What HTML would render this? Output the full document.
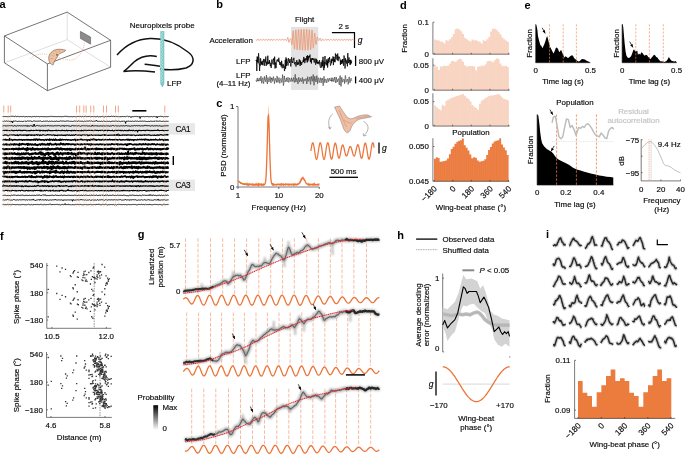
<!DOCTYPE html>
<html><head><meta charset="utf-8"><style>
html,body{margin:0;padding:0;background:#fff;width:685px;height:454px;overflow:hidden}
svg{display:block;font-family:"Liberation Sans",sans-serif;will-change:transform}
</style></head><body>
<svg width="685" height="454" viewBox="0 0 685 454">
<defs><filter id="bl" x="-20%" y="-20%" width="140%" height="140%"><feGaussianBlur stdDeviation="0.5"/></filter>
<filter id="bl3" x="-20%" y="-20%" width="140%" height="140%"><feGaussianBlur stdDeviation="0.65"/></filter>
<filter id="bl2" x="-20%" y="-20%" width="140%" height="140%"><feGaussianBlur stdDeviation="0.9"/></filter>
<linearGradient id="cb" x1="0" y1="0" x2="0" y2="1"><stop offset="0" stop-color="#000"/><stop offset="1" stop-color="#fff"/></linearGradient></defs>
<text x="-0.4" y="7.8" font-size="11" font-weight="bold" fill="#000">a</text>
<text x="216.3" y="8" font-size="11" font-weight="bold" fill="#000">b</text>
<text x="216.3" y="107.4" font-size="11" font-weight="bold" fill="#000">c</text>
<text x="400" y="8.8" font-size="11" font-weight="bold" fill="#000">d</text>
<text x="524.5" y="8.6" font-size="11" font-weight="bold" fill="#000">e</text>
<text x="0" y="240" font-size="11" font-weight="bold" fill="#000">f</text>
<text x="137.8" y="238.4" font-size="11" font-weight="bold" fill="#000">g</text>
<text x="397.3" y="239" font-size="11" font-weight="bold" fill="#000">h</text>
<text x="546" y="237.8" font-size="11" font-weight="bold" fill="#000">i</text>
<line x1="67.2" y1="12.1" x2="67.2" y2="39.6" stroke="#b8b8b8" stroke-width="0.45"/>
<line x1="4.4" y1="62.8" x2="67.2" y2="39.6" stroke="#b8b8b8" stroke-width="0.45"/>
<line x1="67.2" y1="39.6" x2="110.6" y2="67.2" stroke="#b8b8b8" stroke-width="0.45"/>
<path d="M67.2,12.1 L4.4,35.9 L47.4,63.9 L110.6,40.3 Z" stroke="#3a3a3a" stroke-width="0.7" fill="none"/>
<line x1="4.4" y1="35.9" x2="4.4" y2="62.8" stroke="#3a3a3a" stroke-width="0.7"/>
<line x1="47.4" y1="63.9" x2="47.4" y2="90.7" stroke="#3a3a3a" stroke-width="0.7"/>
<line x1="110.6" y1="40.3" x2="110.6" y2="67.2" stroke="#3a3a3a" stroke-width="0.7"/>
<line x1="4.4" y1="62.8" x2="47.4" y2="90.7" stroke="#3a3a3a" stroke-width="0.7"/>
<line x1="47.4" y1="90.7" x2="110.6" y2="67.2" stroke="#3a3a3a" stroke-width="0.7"/>
<path d="M80.4,31.3 L90.6,37 L90.6,44.2 L80.4,38.5 Z" stroke="#333" stroke-width="0.4" fill="#8c8c8c"/>
<path d="M30,59.4 C33,56 35.5,54.8 38,54.6 C41,54.2 44,53.4 47,54.5 M56.4,56.8 C59,57.8 61,58.6 63,58.8 C66,59.4 68,60.2 70,60.1 C73,60 75,59.3 76.5,58 C79,56 81,53.6 82.3,50.9 C83.6,48 84.2,44.8 84.2,41.6" stroke="#f0a27c" stroke-width="0.6" fill="none" stroke-dasharray="1.3,0.9"/>
<path d="M65.8,50.3 C63,49.2 59,49 56.4,49.5 C53.5,50.2 51.2,51.8 49.8,54 C48.4,56.3 48.3,59.5 49.6,62.3 C50.6,64 52,65 53.2,64.8 C53.6,63.5 54,62.2 54.6,61.2 C55.6,59.6 56.5,58 58.2,55.2 C59.5,53.6 61.5,52.6 63.5,52 C64.5,51.6 65.3,51 65.8,50.3 Z" fill="#efc29f" stroke="#5e4032" stroke-width="0.5"/>
<path d="M51.3,55 L53.6,56.2 M50.3,58.3 L53.2,58.8 M52.6,52.3 L54.6,54.2 M55.5,50.6 L56.9,52.9 M59,49.9 L59.5,52.7" stroke="#9c735c" stroke-width="0.35"/>
<circle cx="57" cy="54.8" r="0.9" fill="#6a5048"/>
<path d="M117,55 C125,46 136,39 150,38.5 C165,38 178,44 188,52 C196,58 194,65 186,68 C178,70 170,70.5 160,69" stroke="#111" stroke-width="1.5" fill="none"/>
<path d="M156.8,56.5 C148,54.5 140,57 134,62 C130,66 126,70 123.5,71.6 C130,70.5 142,70.5 155,72" stroke="#111" stroke-width="1.5" fill="none"/>
<path d="M144.6,64.2 C150,64.6 155,65.4 160,66.2" stroke="#111" stroke-width="1.5" fill="none"/>
<rect x="160.3" y="31" width="4" height="53" fill="#7ec8c5"/>
<path d="M160.3,84 L164.3,84 L162.3,87.5 Z" fill="#7ec8c5"/>
<path d="M160.8,31 L161.2,31 L162.8,32.6 L161.2,34.2 L162.8,35.8 L161.2,37.4 L162.8,39 L161.2,40.6 L162.8,42.2 L161.2,43.8 L162.8,45.4 L161.2,47 L162.8,48.6 L161.2,50.2 L162.8,51.8 L161.2,53.4 L162.8,55 L161.2,56.6 L162.8,58.2 L161.2,59.8 L162.8,61.4 L161.2,63 L162.8,64.6 L161.2,66.2 L162.8,67.8 L161.2,69.4 L162.8,71 L161.2,72.6 L162.8,74.2 L161.2,75.8 L162.8,77.4 L161.2,79 L162.8,80.6 L161.2,82.2" stroke="#e8f6f5" stroke-width="0.5" fill="none"/>
<text x="129.7" y="27.8" font-size="8" stroke="#231f20" stroke-width="0.18">Neuropixels probe</text>
<text x="167" y="86.2" font-size="8" stroke="#231f20" stroke-width="0.18">LFP</text>
<rect x="2" y="123.2" width="193" height="11.4" fill="#e8e8e8"/>
<rect x="2" y="179.6" width="193" height="11.4" fill="#e8e8e8"/>
<text x="175.6" y="131.7" font-size="8.2" stroke="#231f20" stroke-width="0.18" letter-spacing="-0.45">CA1</text>
<text x="175.6" y="188.3" font-size="8.2" stroke="#231f20" stroke-width="0.18" letter-spacing="-0.45">CA3</text>
<line x1="3.8" y1="105.5" x2="3.8" y2="112.4" stroke="#f0895a" stroke-width="0.75"/>
<line x1="8.2" y1="105.5" x2="8.2" y2="112.4" stroke="#f0895a" stroke-width="0.75"/>
<line x1="10.7" y1="105.5" x2="10.7" y2="112.4" stroke="#f0895a" stroke-width="0.75"/>
<line x1="76.6" y1="105.5" x2="76.6" y2="112.4" stroke="#f0895a" stroke-width="0.75"/>
<line x1="79.7" y1="105.5" x2="79.7" y2="112.4" stroke="#f0895a" stroke-width="0.75"/>
<line x1="83.8" y1="105.5" x2="83.8" y2="112.4" stroke="#f0895a" stroke-width="0.75"/>
<line x1="86.1" y1="105.5" x2="86.1" y2="112.4" stroke="#f0895a" stroke-width="0.75"/>
<line x1="90.7" y1="105.5" x2="90.7" y2="112.4" stroke="#f0895a" stroke-width="0.75"/>
<line x1="93.8" y1="105.5" x2="93.8" y2="112.4" stroke="#f0895a" stroke-width="0.75"/>
<line x1="103.5" y1="105.5" x2="103.5" y2="112.4" stroke="#f0895a" stroke-width="0.75"/>
<line x1="106.5" y1="105.5" x2="106.5" y2="112.4" stroke="#f0895a" stroke-width="0.75"/>
<line x1="115.5" y1="105.5" x2="115.5" y2="112.4" stroke="#f0895a" stroke-width="0.75"/>
<line x1="118.3" y1="105.5" x2="118.3" y2="112.4" stroke="#f0895a" stroke-width="0.75"/>
<line x1="164.8" y1="105.5" x2="164.8" y2="112.4" stroke="#f0895a" stroke-width="0.75"/>
<line x1="132.3" y1="110.8" x2="146.4" y2="110.8" stroke="#000" stroke-width="1.6"/>
<line x1="173.3" y1="156" x2="173.3" y2="165" stroke="#000" stroke-width="1.4"/>
<path d="M2.6,116.6 L3.1,116.65 L3.6,116.55 L4.1,116.44 L4.6,116.52 L5.1,116.42 L5.6,116.61 L6.1,116.84 L6.6,116.51 L7.1,116.49 L7.6,116.69 L8.1,116.67 L8.6,116.62 L9.1,116.43 L9.6,116.59 L10.1,116.73 L10.6,116.35 L11.1,116.52 L11.6,116.25 L12.1,116.36 L12.6,116.26 L13.1,116.56 L13.6,116.37 L14.1,116.65 L14.6,116.63 L15.1,116.57 L15.6,116.14 L16.1,116.5 L16.6,116.59 L17.1,116.62 L17.6,116.32 L18.1,116.51 L18.6,116.42 L19.1,116.45 L19.6,116.79 L20.1,116.45 L20.6,116.59 L21.1,116.76 L21.6,116.49 L22.1,116.58 L22.6,116.62 L23.1,116.61 L23.6,116.38 L24.1,116.61 L24.6,116.85 L25.1,116.32 L25.6,116.76 L26.1,116.62 L26.6,116.48 L27.1,116.97 L27.6,116.74 L28.1,116.38 L28.6,116.61 L29.1,116.71 L29.6,116.57 L30.1,116.73 L30.6,116.59 L31.1,116.72 L31.6,116.87 L32.1,116.48 L32.6,116.64 L33.1,116.51 L33.6,116.62 L34.1,116.38 L34.6,116.49 L35.1,116.56 L35.6,116.77 L36.1,116.81 L36.6,116.35 L37.1,116.45 L37.6,116.72 L38.1,116.23 L38.6,116.51 L39.1,116.58 L39.6,116.83 L40.1,116.73 L40.6,116.54 L41.1,116.53 L41.6,116.55 L42.1,116.88 L42.6,116.52 L43.1,116.54 L43.6,116.67 L44.1,116.58 L44.6,116.56 L45.1,117.13 L45.6,116.6 L46.1,116.52 L46.6,116.82 L47.1,116.72 L47.6,116.6 L48.1,116.72 L48.6,116.54 L49.1,116.8 L49.6,116.6 L50.1,116.71 L50.6,116.36 L51.1,116.66 L51.6,116.29 L52.1,116.22 L52.6,116.54 L53.1,116.43 L53.6,116.63 L54.1,117.02 L54.6,116.45 L55.1,116.48 L55.6,116.64 L56.1,116.69 L56.6,116.57 L57.1,116.56 L57.6,116.73 L58.1,116.7 L58.6,116.41 L59.1,116.59 L59.6,116.61 L60.1,116.41 L60.6,116.65 L61.1,116.44 L61.6,116.78 L62.1,116.64 L62.6,116.62 L63.1,116.49 L63.6,116.58 L64.1,116.23 L64.6,116.39 L65.1,116.67 L65.6,116.21 L66.1,116.76 L66.6,116.28 L67.1,116.74 L67.6,116.44 L68.1,116.74 L68.6,116.62 L69.1,116.32 L69.6,116.83 L70.1,116.86 L70.6,116.59 L71.1,116.55 L71.6,116.57 L72.1,116.42 L72.6,116.8 L73.1,116.5 L73.6,116.59 L74.1,116.45 L74.6,116.49 L75.1,116.37 L75.6,116.83 L76.1,116.57 L76.6,116.78 L77.1,116.6 L77.6,116.47 L78.1,116.54 L78.6,116.5 L79.1,116.6 L79.6,116.53 L80.1,116.55 L80.6,116.35 L81.1,116.45 L81.6,116.9 L82.1,116.48 L82.6,116.41 L83.1,116.66 L83.6,116.86 L84.1,116.34 L84.6,116.56 L85.1,116.48 L85.6,116.28 L86.1,116.73 L86.6,116.6 L87.1,116.61 L87.6,116.46 L88.1,116.68 L88.6,116.5 L89.1,116.57 L89.6,116.4 L90.1,116.38 L90.6,116.84 L91.1,116.51 L91.6,116.65 L92.1,116.59 L92.6,116.52 L93.1,116.51 L93.6,116.71 L94.1,116.55 L94.6,116.57 L95.1,116.6 L95.6,116.81 L96.1,116.72 L96.6,116.67 L97.1,116.5 L97.6,116.35 L98.1,116.77 L98.6,116.78 L99.1,116.57 L99.6,116.7 L100.1,116.74 L100.6,116.75 L101.1,116.77 L101.6,116.52 L102.1,116.88 L102.6,116.37 L103.1,116.76 L103.6,116.69 L104.1,116.76 L104.6,116.94 L105.1,116.87 L105.6,116.39 L106.1,116.29 L106.6,116.75 L107.1,116.42 L107.6,116.6 L108.1,116.75 L108.6,116.3 L109.1,116.22 L109.6,116.65 L110.1,116.61 L110.6,116.56 L111.1,116.61 L111.6,115.94 L112.1,116.32 L112.6,116.57 L113.1,116.42 L113.6,115.95 L114.1,116.69 L114.6,116.59 L115.1,116.67 L115.6,116.42 L116.1,116.48 L116.6,116.42 L117.1,116.44 L117.6,116.64 L118.1,116.46 L118.6,116.66 L119.1,116.66 L119.6,116.97 L120.1,116.35 L120.6,116.76 L121.1,116.58 L121.6,116.6 L122.1,116.34 L122.6,116.52 L123.1,116.74 L123.6,116.58 L124.1,116.61 L124.6,116.55 L125.1,116.81 L125.6,116.6 L126.1,116.2 L126.6,116.47 L127.1,116.24 L127.6,116.01 L128.1,116.5 L128.6,116.84 L129.1,116.61 L129.6,116.39 L130.1,116.43 L130.6,116.81 L131.1,117.6 L131.6,116.61 L132.1,116.59 L132.6,116.61 L133.1,116.75 L133.6,116.7 L134.1,116.64 L134.6,116.41 L135.1,116.69 L135.6,116.47 L136.1,116.8 L136.6,116.37 L137.1,116.57 L137.6,116.6 L138.1,116.36 L138.6,116.92 L139.1,116.87 L139.6,116.52 L140.1,118.53 L140.6,116.67 L141.1,116.12 L141.6,116.65 L142.1,116.59 L142.6,116.62 L143.1,116.4 L143.6,116.55 L144.1,116.57 L144.6,116.82 L145.1,116.66 L145.6,116.6 L146.1,116.88 L146.6,116.5 L147.1,116.53 L147.6,116.27 L148.1,116.89 L148.6,116.78 L149.1,116.77 L149.6,116.72 L150.1,116.62 L150.6,116.64 L151.1,116.55 L151.6,116.56 L152.1,116.61 L152.6,116.88 L153.1,116.7 L153.6,116.59 L154.1,116.49 L154.6,116.48 L155.1,116.89 L155.6,116.69 L156.1,116.61 L156.6,116.54 L157.1,118 L157.6,116.59 L158.1,116.76 L158.6,116.53 L159.1,116.56 L159.6,116.56 L160.1,116.62 L160.6,116.31 L161.1,116.56 L161.6,116.44 L162.1,116.76 L162.6,116.46 L163.1,116.71 L163.6,116.88 L164.1,116.54 L164.6,116.49 L165.1,116.63 L165.6,116.6 L166.1,116.42 L166.6,116.68 L167.1,116.97 L167.6,116.55 L168.1,116.56 L168.6,116.41" stroke="#000" stroke-width="0.88" fill="none" stroke-linejoin="round"/>
<path d="M2.6,121.24 L3.1,121.27 L3.6,121.51 L4.1,121.21 L4.6,121.05 L5.1,121.25 L5.6,121.31 L6.1,121.08 L6.6,120.92 L7.1,120.96 L7.6,121.35 L8.1,121.09 L8.6,121.2 L9.1,121.27 L9.6,121.34 L10.1,121.17 L10.6,121.32 L11.1,122.21 L11.6,121.16 L12.1,121.04 L12.6,122.89 L13.1,121.22 L13.6,121.09 L14.1,121.16 L14.6,121.19 L15.1,121.36 L15.6,120.93 L16.1,121.04 L16.6,121.16 L17.1,121.7 L17.6,121.41 L18.1,121.21 L18.6,121.36 L19.1,121.62 L19.6,121.19 L20.1,121.16 L20.6,121.46 L21.1,121.32 L21.6,121.36 L22.1,121.13 L22.6,121.59 L23.1,121.55 L23.6,121.34 L24.1,121.36 L24.6,120.85 L25.1,121.35 L25.6,121.19 L26.1,121.31 L26.6,121.36 L27.1,121.17 L27.6,120.91 L28.1,121.3 L28.6,121.09 L29.1,121.17 L29.6,121.11 L30.1,121.16 L30.6,120.79 L31.1,121.46 L31.6,121.28 L32.1,121.44 L32.6,121.61 L33.1,121.23 L33.6,120.88 L34.1,121.06 L34.6,121 L35.1,121.13 L35.6,121.25 L36.1,120.84 L36.6,121.3 L37.1,120.94 L37.6,121.29 L38.1,121.21 L38.6,121.17 L39.1,121.22 L39.6,121.13 L40.1,121.11 L40.6,120.9 L41.1,121.25 L41.6,121.59 L42.1,121.61 L42.6,121.49 L43.1,121.37 L43.6,121.1 L44.1,121.51 L44.6,121.22 L45.1,121.22 L45.6,121.17 L46.1,121.25 L46.6,121.15 L47.1,121.21 L47.6,121.02 L48.1,121.16 L48.6,121.67 L49.1,121.22 L49.6,121.18 L50.1,121.33 L50.6,121.37 L51.1,121.02 L51.6,121.19 L52.1,121.41 L52.6,121.28 L53.1,121.25 L53.6,121.53 L54.1,121.1 L54.6,121.25 L55.1,121.13 L55.6,121.52 L56.1,120.86 L56.6,121.1 L57.1,121.13 L57.6,121.36 L58.1,121.35 L58.6,121.5 L59.1,120.93 L59.6,121.37 L60.1,121.17 L60.6,120.93 L61.1,121.33 L61.6,121.05 L62.1,120.84 L62.6,121.16 L63.1,120.95 L63.6,121.11 L64.1,121.3 L64.6,121.29 L65.1,121.53 L65.6,121.19 L66.1,120.94 L66.6,121.09 L67.1,121.06 L67.6,121 L68.1,121.31 L68.6,121.11 L69.1,120.86 L69.6,121.36 L70.1,121.21 L70.6,121.3 L71.1,121.25 L71.6,121.35 L72.1,121.24 L72.6,121.46 L73.1,121.31 L73.6,121.3 L74.1,121.31 L74.6,120.96 L75.1,121.2 L75.6,121.18 L76.1,121.27 L76.6,120.98 L77.1,121.53 L77.6,121.25 L78.1,121 L78.6,120.91 L79.1,121.18 L79.6,121.21 L80.1,121.1 L80.6,121.25 L81.1,121.11 L81.6,121.33 L82.1,121.1 L82.6,121.22 L83.1,121.41 L83.6,121.71 L84.1,121.04 L84.6,121.14 L85.1,121.07 L85.6,121.38 L86.1,121.02 L86.6,121.14 L87.1,121.22 L87.6,121.05 L88.1,121.05 L88.6,121.14 L89.1,120.84 L89.6,120.96 L90.1,121.15 L90.6,121.26 L91.1,121.2 L91.6,120.9 L92.1,121.14 L92.6,121.38 L93.1,121.33 L93.6,121.22 L94.1,121.07 L94.6,121.35 L95.1,121.12 L95.6,121.01 L96.1,121.08 L96.6,120.2 L97.1,121.27 L97.6,121.44 L98.1,121.14 L98.6,121.4 L99.1,121.12 L99.6,121.2 L100.1,121.69 L100.6,121.37 L101.1,121.14 L101.6,121.21 L102.1,121.29 L102.6,121.45 L103.1,121.14 L103.6,120.91 L104.1,121.18 L104.6,121.23 L105.1,121.25 L105.6,121.47 L106.1,121.29 L106.6,121.38 L107.1,121.03 L107.6,121.39 L108.1,121.62 L108.6,121.37 L109.1,121.28 L109.6,121.26 L110.1,121.56 L110.6,121.77 L111.1,121.21 L111.6,121.32 L112.1,121.37 L112.6,121.15 L113.1,121.29 L113.6,121.18 L114.1,121.25 L114.6,121.21 L115.1,121.02 L115.6,121.23 L116.1,121.39 L116.6,121.05 L117.1,121.19 L117.6,121.35 L118.1,121.03 L118.6,121.26 L119.1,121.03 L119.6,121.44 L120.1,121.66 L120.6,121.61 L121.1,121.19 L121.6,121.37 L122.1,121.25 L122.6,121.25 L123.1,121.52 L123.6,120.98 L124.1,121.43 L124.6,121.22 L125.1,121.49 L125.6,123.43 L126.1,121.1 L126.6,121.28 L127.1,121.37 L127.6,121.24 L128.1,121.32 L128.6,121.13 L129.1,120.83 L129.6,121.4 L130.1,121.36 L130.6,121.26 L131.1,121.24 L131.6,121.42 L132.1,121.14 L132.6,121.1 L133.1,121.19 L133.6,121.45 L134.1,120.97 L134.6,121.45 L135.1,121.11 L135.6,121.02 L136.1,121.47 L136.6,121.21 L137.1,120.99 L137.6,121.16 L138.1,121.4 L138.6,121.45 L139.1,121.15 L139.6,121.31 L140.1,121.36 L140.6,121.11 L141.1,121.3 L141.6,121.22 L142.1,121.13 L142.6,121.14 L143.1,121.24 L143.6,121.24 L144.1,121.12 L144.6,121.15 L145.1,121.44 L145.6,121.27 L146.1,121.4 L146.6,121.46 L147.1,121.34 L147.6,121.66 L148.1,121.08 L148.6,121.38 L149.1,121.17 L149.6,121.58 L150.1,121.55 L150.6,120.86 L151.1,121.05 L151.6,121.35 L152.1,121.38 L152.6,121.37 L153.1,121.22 L153.6,121.31 L154.1,121.35 L154.6,121.22 L155.1,121.42 L155.6,120.81 L156.1,121.35 L156.6,121.04 L157.1,121.41 L157.6,121.19 L158.1,121.06 L158.6,121.3 L159.1,121.06 L159.6,121.06 L160.1,120.94 L160.6,121.23 L161.1,121.32 L161.6,121.42 L162.1,121.2 L162.6,121.42 L163.1,121.23 L163.6,121.21 L164.1,121.34 L164.6,121.43 L165.1,121.74 L165.6,121.18 L166.1,121.2 L166.6,121.25 L167.1,121.06 L167.6,121.42 L168.1,121.16 L168.6,121.32" stroke="#000" stroke-width="0.924" fill="none" stroke-linejoin="round"/>
<path d="M2.6,126.1 L3.1,125.96 L3.6,125.67 L4.1,126.12 L4.6,125.62 L5.1,125.82 L5.6,125.91 L6.1,126.03 L6.6,125.94 L7.1,125.93 L7.6,125.71 L8.1,125.61 L8.6,125.87 L9.1,125.72 L9.6,125.61 L10.1,125.62 L10.6,125.77 L11.1,125.5 L11.6,125.6 L12.1,125.54 L12.6,125.9 L13.1,125.94 L13.6,126.25 L14.1,125.57 L14.6,125.73 L15.1,126.04 L15.6,125.82 L16.1,125.8 L16.6,126.19 L17.1,125.79 L17.6,125.63 L18.1,125.6 L18.6,125.93 L19.1,125.92 L19.6,125.59 L20.1,125.67 L20.6,125.97 L21.1,125.97 L21.6,125.73 L22.1,125.98 L22.6,125.97 L23.1,125.5 L23.6,125.8 L24.1,125.94 L24.6,125.75 L25.1,125.43 L25.6,125.8 L26.1,126.01 L26.6,126.18 L27.1,125.42 L27.6,126.39 L28.1,125.63 L28.6,126.05 L29.1,126.11 L29.6,126.06 L30.1,125.89 L30.6,125.62 L31.1,125.99 L31.6,125.71 L32.1,125.34 L32.6,126.52 L33.1,126.01 L33.6,126.23 L34.1,124 L34.6,126.16 L35.1,126.19 L35.6,126.18 L36.1,125.86 L36.6,125.61 L37.1,125.82 L37.6,125.4 L38.1,125.51 L38.6,125.88 L39.1,125.65 L39.6,125.83 L40.1,125.84 L40.6,126.26 L41.1,126.13 L41.6,125.85 L42.1,126.11 L42.6,125.7 L43.1,125.79 L43.6,126.05 L44.1,125.6 L44.6,125.8 L45.1,125.58 L45.6,125.88 L46.1,126.2 L46.6,125.7 L47.1,125.91 L47.6,125.67 L48.1,125.62 L48.6,125.6 L49.1,126.16 L49.6,125.82 L50.1,125.96 L50.6,125.71 L51.1,126.01 L51.6,125.79 L52.1,126.03 L52.6,125.92 L53.1,125.92 L53.6,125.99 L54.1,125.74 L54.6,125.78 L55.1,125.5 L55.6,125.77 L56.1,125.57 L56.6,125.83 L57.1,125.66 L57.6,125.88 L58.1,125.95 L58.6,125.57 L59.1,125.69 L59.6,125.67 L60.1,126.01 L60.6,126.21 L61.1,126.03 L61.6,125.79 L62.1,126.16 L62.6,125.55 L63.1,126.16 L63.6,125.73 L64.1,125.3 L64.6,126.39 L65.1,126.18 L65.6,125.65 L66.1,125.89 L66.6,125.82 L67.1,125.88 L67.6,125.57 L68.1,125.72 L68.6,125.95 L69.1,125.9 L69.6,126.1 L70.1,125.88 L70.6,126.41 L71.1,125.72 L71.6,125.91 L72.1,125.48 L72.6,125.61 L73.1,126.12 L73.6,125.68 L74.1,125.96 L74.6,125.85 L75.1,125.66 L75.6,125.79 L76.1,125.76 L76.6,125.77 L77.1,126.01 L77.6,125.99 L78.1,125.75 L78.6,125.68 L79.1,125.91 L79.6,125.84 L80.1,126.06 L80.6,126.37 L81.1,126.02 L81.6,125.85 L82.1,125.83 L82.6,125.7 L83.1,125.69 L83.6,125.67 L84.1,125.78 L84.6,125.78 L85.1,126 L85.6,125.78 L86.1,125.82 L86.6,125.63 L87.1,126.17 L87.6,125.96 L88.1,126.2 L88.6,126.01 L89.1,126.14 L89.6,125.81 L90.1,126 L90.6,126.38 L91.1,125.63 L91.6,126.08 L92.1,126.18 L92.6,124.94 L93.1,126.01 L93.6,126.1 L94.1,125.73 L94.6,125.94 L95.1,125.69 L95.6,125.73 L96.1,125.74 L96.6,125.83 L97.1,125.89 L97.6,125.95 L98.1,125.58 L98.6,126.25 L99.1,126.09 L99.6,126 L100.1,125.79 L100.6,125.84 L101.1,125.97 L101.6,125.94 L102.1,125.53 L102.6,126 L103.1,126.43 L103.6,125.5 L104.1,126.05 L104.6,125.93 L105.1,125.84 L105.6,126.13 L106.1,125.63 L106.6,125.89 L107.1,126.15 L107.6,125.82 L108.1,125.78 L108.6,125.88 L109.1,125.77 L109.6,126.16 L110.1,125.68 L110.6,126.03 L111.1,125.61 L111.6,125.99 L112.1,125.84 L112.6,125.35 L113.1,125.86 L113.6,125.65 L114.1,125.77 L114.6,126.16 L115.1,125.64 L115.6,125.65 L116.1,126.14 L116.6,125.88 L117.1,126.16 L117.6,125.92 L118.1,125.69 L118.6,125.85 L119.1,126.1 L119.6,126.05 L120.1,125.86 L120.6,125.87 L121.1,125.84 L121.6,125.75 L122.1,126.24 L122.6,125.86 L123.1,125.63 L123.6,125.76 L124.1,126 L124.6,125.99 L125.1,125.83 L125.6,125.73 L126.1,125.86 L126.6,125.52 L127.1,125.6 L127.6,126.02 L128.1,125.76 L128.6,125.94 L129.1,126.1 L129.6,125.99 L130.1,125.86 L130.6,126.29 L131.1,125.99 L131.6,125.79 L132.1,126.01 L132.6,125.94 L133.1,125.69 L133.6,125.87 L134.1,125.83 L134.6,125.46 L135.1,125.83 L135.6,125.8 L136.1,125.77 L136.6,125.53 L137.1,125.79 L137.6,125.85 L138.1,125.88 L138.6,125.63 L139.1,125.99 L139.6,125.61 L140.1,125.81 L140.6,126.12 L141.1,125.72 L141.6,125.76 L142.1,126.08 L142.6,125.78 L143.1,125.8 L143.6,125.9 L144.1,126.07 L144.6,125.41 L145.1,125.69 L145.6,124.96 L146.1,125.64 L146.6,125.69 L147.1,125.69 L147.6,125.92 L148.1,125.39 L148.6,125.88 L149.1,125.94 L149.6,125.71 L150.1,125.89 L150.6,126.19 L151.1,125.92 L151.6,125.73 L152.1,125.85 L152.6,125.68 L153.1,125.91 L153.6,126.03 L154.1,125.7 L154.6,125.82 L155.1,126.08 L155.6,125.76 L156.1,125.9 L156.6,125.66 L157.1,125.7 L157.6,125.76 L158.1,126.28 L158.6,125.78 L159.1,125.76 L159.6,125.75 L160.1,125.83 L160.6,125.99 L161.1,125.9 L161.6,126.26 L162.1,125.9 L162.6,126.14 L163.1,125.91 L163.6,125.98 L164.1,125.58 L164.6,125.84 L165.1,125.85 L165.6,125.81 L166.1,125.45 L166.6,126.03 L167.1,125.79 L167.6,125.78 L168.1,125.81 L168.6,125.82" stroke="#000" stroke-width="0.9680000000000001" fill="none" stroke-linejoin="round"/>
<path d="M2.6,130.56 L3.1,130.46 L3.6,130.31 L4.1,130.65 L4.6,130.38 L5.1,130.39 L5.6,130.21 L6.1,130.33 L6.6,130.62 L7.1,130.16 L7.6,130.48 L8.1,130.64 L8.6,130.41 L9.1,130.54 L9.6,130.56 L10.1,130.76 L10.6,130.72 L11.1,130.54 L11.6,130.13 L12.1,130.27 L12.6,130.69 L13.1,130.85 L13.6,130.55 L14.1,130.75 L14.6,130.36 L15.1,130.45 L15.6,130.49 L16.1,130.58 L16.6,130.17 L17.1,130.69 L17.6,130.77 L18.1,130.25 L18.6,130.2 L19.1,130.56 L19.6,130.35 L20.1,129.98 L20.6,130.66 L21.1,130.52 L21.6,130.39 L22.1,130.95 L22.6,130.52 L23.1,130.33 L23.6,130.51 L24.1,130.26 L24.6,130.32 L25.1,130.58 L25.6,130.37 L26.1,130.39 L26.6,130.86 L27.1,130.68 L27.6,130.67 L28.1,130.61 L28.6,130.6 L29.1,130.82 L29.6,130.49 L30.1,130.91 L30.6,130.27 L31.1,130.43 L31.6,130.17 L32.1,130.41 L32.6,130.61 L33.1,130.83 L33.6,130.34 L34.1,130.49 L34.6,130.41 L35.1,130.32 L35.6,130.21 L36.1,130.5 L36.6,130.08 L37.1,130.52 L37.6,130.49 L38.1,130.33 L38.6,130.25 L39.1,130.16 L39.6,130.93 L40.1,130.17 L40.6,130.86 L41.1,130.63 L41.6,130.4 L42.1,130.21 L42.6,130.74 L43.1,130.9 L43.6,130.27 L44.1,130.42 L44.6,130.74 L45.1,130.57 L45.6,130.97 L46.1,130.35 L46.6,130.62 L47.1,130.19 L47.6,130.99 L48.1,130.32 L48.6,129.96 L49.1,130.46 L49.6,130.46 L50.1,130.95 L50.6,130.41 L51.1,130.49 L51.6,130.63 L52.1,130.87 L52.6,130.48 L53.1,130.73 L53.6,130.61 L54.1,130.42 L54.6,130.51 L55.1,130.5 L55.6,130.28 L56.1,130.77 L56.6,130.17 L57.1,130.76 L57.6,130.71 L58.1,130.47 L58.6,130.31 L59.1,130.44 L59.6,130.6 L60.1,130.66 L60.6,130.56 L61.1,130.71 L61.6,130.36 L62.1,130.54 L62.6,130.14 L63.1,130.66 L63.6,130.52 L64.1,130.4 L64.6,130.75 L65.1,130.64 L65.6,130.71 L66.1,130.5 L66.6,130.17 L67.1,130.72 L67.6,131.03 L68.1,130.38 L68.6,130.51 L69.1,130.44 L69.6,130.57 L70.1,130.63 L70.6,130.77 L71.1,130.28 L71.6,130.82 L72.1,130.29 L72.6,130.55 L73.1,130.73 L73.6,130.64 L74.1,130.29 L74.6,130.34 L75.1,130.8 L75.6,130.48 L76.1,130.73 L76.6,130.22 L77.1,130.59 L77.6,130.62 L78.1,130.61 L78.6,130.59 L79.1,130.8 L79.6,130.59 L80.1,130.67 L80.6,130.61 L81.1,130.86 L81.6,130.1 L82.1,130.75 L82.6,130.44 L83.1,130.43 L83.6,130.89 L84.1,130.11 L84.6,130.41 L85.1,130.35 L85.6,130.59 L86.1,130.19 L86.6,130.78 L87.1,130.54 L87.6,130.44 L88.1,130.35 L88.6,130.33 L89.1,130.26 L89.6,130.38 L90.1,130.49 L90.6,130.45 L91.1,130.21 L91.6,130.44 L92.1,130.31 L92.6,130.52 L93.1,130.86 L93.6,130.62 L94.1,130.43 L94.6,130.16 L95.1,130.21 L95.6,130.15 L96.1,130.64 L96.6,130.34 L97.1,130.5 L97.6,130.37 L98.1,130.51 L98.6,130.77 L99.1,130.35 L99.6,130.42 L100.1,130.33 L100.6,130.67 L101.1,130.28 L101.6,130.26 L102.1,130.21 L102.6,130.21 L103.1,130.58 L103.6,131.01 L104.1,130.29 L104.6,130.68 L105.1,130.54 L105.6,130.27 L106.1,130.43 L106.6,130.44 L107.1,130.35 L107.6,130.88 L108.1,130.11 L108.6,130.57 L109.1,130.56 L109.6,130.37 L110.1,130.52 L110.6,130.67 L111.1,130.52 L111.6,130.57 L112.1,130.63 L112.6,130.08 L113.1,130.79 L113.6,130.95 L114.1,130.69 L114.6,130.7 L115.1,130.2 L115.6,130.47 L116.1,130.32 L116.6,130.37 L117.1,130.69 L117.6,130.33 L118.1,130.46 L118.6,130.1 L119.1,130.46 L119.6,130.51 L120.1,130.35 L120.6,130.34 L121.1,130.88 L121.6,130.24 L122.1,130.27 L122.6,130.32 L123.1,130.74 L123.6,130.93 L124.1,130.56 L124.6,130.34 L125.1,130.4 L125.6,130.71 L126.1,130.3 L126.6,130.79 L127.1,130.79 L127.6,130.5 L128.1,130.63 L128.6,130.65 L129.1,129.88 L129.6,130.27 L130.1,130.74 L130.6,130.41 L131.1,130.33 L131.6,130.51 L132.1,130.44 L132.6,130.69 L133.1,130.15 L133.6,130.29 L134.1,130.8 L134.6,130.91 L135.1,130.63 L135.6,130.74 L136.1,130.38 L136.6,130.47 L137.1,130.55 L137.6,132.01 L138.1,130.28 L138.6,130.51 L139.1,130.42 L139.6,130.26 L140.1,130.57 L140.6,130.43 L141.1,130.71 L141.6,130.49 L142.1,130.43 L142.6,130.52 L143.1,130.45 L143.6,130.35 L144.1,130.4 L144.6,130.65 L145.1,130.63 L145.6,130.76 L146.1,130.13 L146.6,130.41 L147.1,130.4 L147.6,130.11 L148.1,130.39 L148.6,130.38 L149.1,130.66 L149.6,130.53 L150.1,130.24 L150.6,130.77 L151.1,130.7 L151.6,130.37 L152.1,130.66 L152.6,130.34 L153.1,130.73 L153.6,130.44 L154.1,130.32 L154.6,130.41 L155.1,130.33 L155.6,130.53 L156.1,130.53 L156.6,130.5 L157.1,130.37 L157.6,129.73 L158.1,130.51 L158.6,130.1 L159.1,130.54 L159.6,130.72 L160.1,130.55 L160.6,130.41 L161.1,130.45 L161.6,130.46 L162.1,130.38 L162.6,130.37 L163.1,130.3 L163.6,130.73 L164.1,130.49 L164.6,130.68 L165.1,130.44 L165.6,130.5 L166.1,130.46 L166.6,130.58 L167.1,130.66 L167.6,130.54 L168.1,130.35 L168.6,130.33" stroke="#000" stroke-width="1.056" fill="none" stroke-linejoin="round"/>
<path d="M2.6,135.09 L3.1,135.32 L3.6,135.33 L4.1,135.26 L4.6,134.76 L5.1,135.23 L5.6,134.86 L6.1,134.94 L6.6,135.24 L7.1,135.05 L7.6,135.3 L8.1,135.83 L8.6,135.29 L9.1,135.28 L9.6,134.92 L10.1,134.97 L10.6,134.88 L11.1,135 L11.6,134.87 L12.1,134.97 L12.6,135.07 L13.1,134.89 L13.6,134.79 L14.1,134.8 L14.6,135.23 L15.1,135.13 L15.6,135.36 L16.1,135.37 L16.6,135.04 L17.1,135.28 L17.6,134.78 L18.1,135.66 L18.6,135.41 L19.1,135.07 L19.6,134.84 L20.1,135.21 L20.6,134.66 L21.1,134.93 L21.6,135.2 L22.1,135.14 L22.6,135 L23.1,135.36 L23.6,134.86 L24.1,135.19 L24.6,134.99 L25.1,134.9 L25.6,135.24 L26.1,134.87 L26.6,135.61 L27.1,134.97 L27.6,135.64 L28.1,134.83 L28.6,135.28 L29.1,134.89 L29.6,134.76 L30.1,135.16 L30.6,135.3 L31.1,134.78 L31.6,135.44 L32.1,134.9 L32.6,135.16 L33.1,135.22 L33.6,135.28 L34.1,134.63 L34.6,135.57 L35.1,135.28 L35.6,135 L36.1,134.83 L36.6,134.65 L37.1,134.74 L37.6,135.27 L38.1,135.02 L38.6,134.8 L39.1,134.97 L39.6,135.56 L40.1,135.03 L40.6,134.95 L41.1,135.51 L41.6,135.25 L42.1,135.13 L42.6,134.95 L43.1,134.54 L43.6,134.78 L44.1,134.98 L44.6,135.06 L45.1,135.22 L45.6,135.28 L46.1,135.18 L46.6,135.18 L47.1,134.83 L47.6,134.5 L48.1,134.97 L48.6,134.85 L49.1,134.93 L49.6,135.04 L50.1,134.77 L50.6,134.8 L51.1,135.09 L51.6,135.15 L52.1,134.93 L52.6,135.26 L53.1,135.06 L53.6,134.83 L54.1,135.13 L54.6,135.64 L55.1,134.93 L55.6,135.44 L56.1,135.5 L56.6,135.53 L57.1,134.9 L57.6,135.67 L58.1,135.15 L58.6,135.05 L59.1,135.06 L59.6,135.28 L60.1,135.13 L60.6,135.07 L61.1,135.46 L61.6,134.93 L62.1,134.85 L62.6,135.33 L63.1,135.3 L63.6,135.4 L64.1,134.85 L64.6,135.4 L65.1,135.24 L65.6,135.56 L66.1,134.81 L66.6,135.17 L67.1,135.05 L67.6,134.73 L68.1,134.94 L68.6,135.4 L69.1,135.01 L69.6,134.94 L70.1,135.33 L70.6,135.36 L71.1,135.36 L71.6,134.93 L72.1,135.11 L72.6,135.36 L73.1,134.97 L73.6,134.94 L74.1,135.31 L74.6,135.48 L75.1,134.85 L75.6,134.52 L76.1,134.78 L76.6,134.89 L77.1,135.09 L77.6,135.26 L78.1,135.09 L78.6,134.96 L79.1,135.15 L79.6,134.9 L80.1,135.11 L80.6,134.98 L81.1,135.72 L81.6,135.3 L82.1,134.93 L82.6,134.9 L83.1,135.02 L83.6,134.75 L84.1,134.96 L84.6,134.96 L85.1,135.32 L85.6,135.03 L86.1,134.95 L86.6,134.82 L87.1,134.86 L87.6,135.11 L88.1,135.87 L88.6,135.37 L89.1,134.98 L89.6,135.35 L90.1,135.18 L90.6,135.12 L91.1,134.68 L91.6,134.84 L92.1,135.28 L92.6,135.42 L93.1,135.16 L93.6,135.29 L94.1,135.02 L94.6,135.04 L95.1,134.98 L95.6,135.33 L96.1,135.19 L96.6,135.07 L97.1,135.05 L97.6,135.24 L98.1,135.19 L98.6,134.94 L99.1,135.49 L99.6,135.18 L100.1,135.12 L100.6,135.58 L101.1,135.34 L101.6,135.1 L102.1,135.24 L102.6,134.89 L103.1,134.98 L103.6,134.63 L104.1,135.39 L104.6,134.71 L105.1,135.27 L105.6,134.94 L106.1,134.91 L106.6,135.08 L107.1,135.18 L107.6,135.25 L108.1,135.51 L108.6,135.2 L109.1,135.31 L109.6,134.99 L110.1,135.28 L110.6,135.15 L111.1,134.98 L111.6,135.1 L112.1,135.11 L112.6,135.16 L113.1,135.21 L113.6,135.01 L114.1,134.96 L114.6,135.29 L115.1,134.74 L115.6,134.98 L116.1,135.47 L116.6,134.52 L117.1,134.97 L117.6,135.27 L118.1,133.95 L118.6,135.7 L119.1,134.54 L119.6,135.44 L120.1,135.47 L120.6,135.33 L121.1,135.07 L121.6,135.2 L122.1,134.92 L122.6,135.3 L123.1,134.86 L123.6,135.06 L124.1,135.35 L124.6,134.86 L125.1,135.04 L125.6,135.16 L126.1,134.81 L126.6,135.39 L127.1,135.2 L127.6,134.76 L128.1,135.11 L128.6,134.94 L129.1,134.96 L129.6,135.14 L130.1,134.95 L130.6,135.35 L131.1,134.95 L131.6,135.35 L132.1,135.11 L132.6,135.32 L133.1,134.99 L133.6,135 L134.1,134.84 L134.6,135.26 L135.1,135.35 L135.6,135.63 L136.1,135.43 L136.6,135.18 L137.1,135.07 L137.6,135.21 L138.1,135.11 L138.6,135.48 L139.1,135.35 L139.6,134.92 L140.1,134.95 L140.6,135.45 L141.1,135.19 L141.6,135.06 L142.1,135.41 L142.6,135.03 L143.1,135.05 L143.6,135.01 L144.1,134.65 L144.6,135.33 L145.1,134.83 L145.6,134.98 L146.1,134.94 L146.6,135.29 L147.1,135.1 L147.6,135.12 L148.1,134.72 L148.6,135.1 L149.1,134.77 L149.6,135.19 L150.1,135.21 L150.6,135.12 L151.1,135.6 L151.6,135.24 L152.1,135.26 L152.6,135.15 L153.1,135.07 L153.6,135.34 L154.1,135.38 L154.6,134.82 L155.1,135.36 L155.6,135.24 L156.1,135.34 L156.6,135.23 L157.1,134.84 L157.6,134.85 L158.1,135.54 L158.6,135.18 L159.1,134.8 L159.6,135.2 L160.1,135.04 L160.6,134.7 L161.1,134.61 L161.6,134.76 L162.1,135.18 L162.6,135.11 L163.1,135.06 L163.6,135.18 L164.1,135.25 L164.6,134.65 L165.1,135.05 L165.6,134.94 L166.1,134.85 L166.6,135 L167.1,134.43 L167.6,135.06 L168.1,134.8 L168.6,135.01" stroke="#000" stroke-width="1.1880000000000002" fill="none" stroke-linejoin="round"/>
<path d="M2.6,139.49 L3.1,139.8 L3.6,139.57 L4.1,139.49 L4.6,139.81 L5.1,139.88 L5.6,139.31 L6.1,140.17 L6.6,139.76 L7.1,139.72 L7.6,140.02 L8.1,139.77 L8.6,139.6 L9.1,140.31 L9.6,138.42 L10.1,139.73 L10.6,139.97 L11.1,139.47 L11.6,139.72 L12.1,139.85 L12.6,140.38 L13.1,139.52 L13.6,139.74 L14.1,139.92 L14.6,139.77 L15.1,139.43 L15.6,139.86 L16.1,139.78 L16.6,139.87 L17.1,140.06 L17.6,140.03 L18.1,139.86 L18.6,139.84 L19.1,139.44 L19.6,139.71 L20.1,139.81 L20.6,139.64 L21.1,139.78 L21.6,139.51 L22.1,140.19 L22.6,140.38 L23.1,139.64 L23.6,139.87 L24.1,139.68 L24.6,140.13 L25.1,139.88 L25.6,139.77 L26.1,139.68 L26.6,139.79 L27.1,139.44 L27.6,139.96 L28.1,139.53 L28.6,139.92 L29.1,139.79 L29.6,140.1 L30.1,139.74 L30.6,140.08 L31.1,139.45 L31.6,139.95 L32.1,139.68 L32.6,139.81 L33.1,139.77 L33.6,140.06 L34.1,139.07 L34.6,139.86 L35.1,139.24 L35.6,140.16 L36.1,139.07 L36.6,139.4 L37.1,139.17 L37.6,140.32 L38.1,139.3 L38.6,139.79 L39.1,139.56 L39.6,139.12 L40.1,139.63 L40.6,139.98 L41.1,139.68 L41.6,140.08 L42.1,139.62 L42.6,139.75 L43.1,139.61 L43.6,139.87 L44.1,140.43 L44.6,139.88 L45.1,139.82 L45.6,139.53 L46.1,139.48 L46.6,140.27 L47.1,139.35 L47.6,139.43 L48.1,139.72 L48.6,139.6 L49.1,140.44 L49.6,138.92 L50.1,139.88 L50.6,140 L51.1,139.36 L51.6,139.53 L52.1,139.9 L52.6,140.31 L53.1,139.43 L53.6,139.21 L54.1,140.08 L54.6,140.27 L55.1,139.64 L55.6,139 L56.1,140.24 L56.6,139.68 L57.1,140.12 L57.6,140.16 L58.1,139.63 L58.6,139.6 L59.1,140.23 L59.6,140.21 L60.1,139.06 L60.6,139.45 L61.1,140.31 L61.6,139.63 L62.1,139.32 L62.6,139.75 L63.1,139.72 L63.6,139.72 L64.1,139.6 L64.6,139.66 L65.1,139.61 L65.6,139.85 L66.1,139.51 L66.6,139.66 L67.1,139.71 L67.6,140.13 L68.1,139.86 L68.6,139.72 L69.1,139.9 L69.6,139.87 L70.1,140.06 L70.6,139.89 L71.1,140.25 L71.6,140.12 L72.1,139.74 L72.6,139.64 L73.1,139.99 L73.6,139.89 L74.1,139.72 L74.6,139.35 L75.1,139.26 L75.6,140.66 L76.1,139.95 L76.6,139.96 L77.1,139.41 L77.6,140.02 L78.1,139.61 L78.6,139.85 L79.1,139.86 L79.6,139.54 L80.1,139.6 L80.6,139.22 L81.1,139.52 L81.6,139.29 L82.1,139.86 L82.6,139.77 L83.1,139.98 L83.6,139.84 L84.1,139.59 L84.6,139.84 L85.1,139.65 L85.6,139.9 L86.1,139.83 L86.6,139.51 L87.1,140.87 L87.6,139.81 L88.1,139.67 L88.6,139.97 L89.1,140.17 L89.6,139.66 L90.1,140.5 L90.6,139.2 L91.1,139.72 L91.6,139.64 L92.1,139.23 L92.6,139.82 L93.1,139.89 L93.6,138.75 L94.1,139.66 L94.6,139.52 L95.1,139.93 L95.6,139.38 L96.1,139.67 L96.6,140.22 L97.1,139.76 L97.6,139.86 L98.1,139.71 L98.6,139.47 L99.1,139.74 L99.6,139.98 L100.1,139.5 L100.6,139.83 L101.1,140.05 L101.6,140.01 L102.1,139.37 L102.6,139.52 L103.1,139.36 L103.6,140.01 L104.1,139.9 L104.6,139.92 L105.1,139.54 L105.6,139.47 L106.1,139.77 L106.6,139.77 L107.1,139.54 L107.6,139.78 L108.1,139.91 L108.6,139.81 L109.1,139.5 L109.6,139.24 L110.1,139.69 L110.6,139.79 L111.1,139.69 L111.6,139.65 L112.1,139.58 L112.6,139.93 L113.1,139.74 L113.6,139.78 L114.1,139.51 L114.6,139.6 L115.1,139.79 L115.6,139.5 L116.1,139.44 L116.6,139.67 L117.1,140.05 L117.6,139.8 L118.1,140.12 L118.6,139.72 L119.1,139.67 L119.6,139.4 L120.1,139.6 L120.6,140.12 L121.1,139.83 L121.6,139.94 L122.1,139.93 L122.6,139.75 L123.1,139.7 L123.6,139.78 L124.1,139.93 L124.6,139.87 L125.1,139.88 L125.6,139.79 L126.1,139.55 L126.6,139.68 L127.1,139.5 L127.6,140.02 L128.1,139.18 L128.6,139.69 L129.1,140.4 L129.6,139.66 L130.1,139.44 L130.6,139.75 L131.1,140.1 L131.6,139.71 L132.1,139.92 L132.6,139.78 L133.1,139.65 L133.6,140.63 L134.1,139.77 L134.6,139.6 L135.1,139.61 L135.6,139.86 L136.1,139.87 L136.6,139.97 L137.1,139.79 L137.6,139.35 L138.1,139.9 L138.6,139.66 L139.1,139.67 L139.6,139.33 L140.1,139.59 L140.6,139.54 L141.1,139.74 L141.6,139.34 L142.1,139.76 L142.6,139.79 L143.1,139.43 L143.6,139.57 L144.1,139.51 L144.6,140 L145.1,139.04 L145.6,139.65 L146.1,139.29 L146.6,139.63 L147.1,139.99 L147.6,139.58 L148.1,139.79 L148.6,139.52 L149.1,140.28 L149.6,140 L150.1,140.06 L150.6,139.39 L151.1,139.45 L151.6,140.04 L152.1,139.7 L152.6,139.68 L153.1,139.84 L153.6,139.42 L154.1,139.96 L154.6,139.75 L155.1,139.88 L155.6,139.03 L156.1,139.88 L156.6,139.71 L157.1,140 L157.6,140.04 L158.1,139.99 L158.6,139.88 L159.1,139.91 L159.6,139.06 L160.1,139.96 L160.6,139.68 L161.1,139.77 L161.6,139.68 L162.1,139.4 L162.6,139.61 L163.1,139.91 L163.6,140.7 L164.1,139.59 L164.6,139.53 L165.1,140.11 L165.6,139.53 L166.1,140.26 L166.6,139.76 L167.1,139.53 L167.6,139.99 L168.1,140.16 L168.6,139.4" stroke="#000" stroke-width="1.4080000000000001" fill="none" stroke-linejoin="round"/>
<path d="M14.1,139.97 L14.6,139.55 L15.1,140.01 L15.6,139.65 L16.1,139.54 L16.6,139.72 L17.1,139.45 L17.6,139.75 L18.1,139.81 L18.6,139.71 L19.1,139.86 L19.6,139.69 L20.1,139.75 L20.6,139.46 L21.1,139.76 L21.6,139.58 L22.1,139.66 L22.6,139.73 L23.1,139.79 L23.6,139.42 L24.1,139.43 L24.6,139.69 L25.1,139.85 L25.6,139.82 L26.1,139.93 L26.6,140.01 L27.1,139.85 L27.6,139.75 L28.1,139.54 L28.6,139.56 L29.1,139.66 L29.6,139.8 L30.1,139.79 L30.6,139.75 L31.1,139.72 L31.6,139.88 L32.1,139.79 L32.6,139.81 L33.1,139.81 L33.6,139.64 L34.1,139.54 L34.6,139.85 L35.1,139.83 L35.6,139.71 L36.1,139.67 L36.6,140.21 L37.1,139.6 L37.6,139.71 L38.1,139.8 L38.6,139.52 L39.1,139.77 L39.6,140.11 L40.1,139.94 L40.6,139.88 L41.1,139.87 L41.6,139.77 L42.1,139.94 L42.6,139.72 L43.1,139.66 L43.6,139.77 L44.1,139.93 L44.6,139.82 L45.1,139.89 L45.6,139.34 L46.1,139.99 L46.6,140.22 L47.1,140.02 L47.6,139.69 L48.1,139.58 L48.6,139.81 L49.1,139.55 L49.6,139.9 L50.1,139.64 L50.6,139.94 L51.1,140.03 L51.6,139.34 L52.1,139.81 L52.6,139.61 L53.1,139.46 L53.6,139.63 L54.1,139.71 L54.6,139.96 L55.1,139.44 L55.6,139.96 L56.1,140.16 L56.6,139.87 L57.1,139.86 L57.6,139.75 L58.1,139.51 L58.6,139.86 L59.1,139.83 L59.6,139.9 L60.1,140.27 L60.6,139.9 L61.1,139.84 L61.6,140.07 L62.1,139.48 L62.6,139.52 L63.1,139.67 L63.6,139.62 L64.1,139.89 L64.6,139.69 L65.1,140.1 L65.6,140.06 L66.1,139.91 L66.6,139.67 L67.1,139.87 L67.6,139.91 L68.1,139.53 L68.6,139.82 L69.1,139.89 L69.6,139.79 L70.1,140.07 L70.6,140 L71.1,139.58 L71.6,139.78" stroke="#000" stroke-width="0.4046673852885866" fill="none" stroke-linejoin="round"/>
<path d="M2.6,144.15 L3.1,144.54 L3.6,144.14 L4.1,144.64 L4.6,144.49 L5.1,144.65 L5.6,144.34 L6.1,143.97 L6.6,144.88 L7.1,144.33 L7.6,144.77 L8.1,144.5 L8.6,144.57 L9.1,144.91 L9.6,144.48 L10.1,144.79 L10.6,143.94 L11.1,144.64 L11.6,144.31 L12.1,144.34 L12.6,144.38 L13.1,144.48 L13.6,144.88 L14.1,143.81 L14.6,144.39 L15.1,144.16 L15.6,144.74 L16.1,144.25 L16.6,144.52 L17.1,144.25 L17.6,144.59 L18.1,144.71 L18.6,144.25 L19.1,145.42 L19.6,143.58 L20.1,144.48 L20.6,144.67 L21.1,144.19 L21.6,144.76 L22.1,143.67 L22.6,143.74 L23.1,143.9 L23.6,144.21 L24.1,144.39 L24.6,144.35 L25.1,144.36 L25.6,144.64 L26.1,144.21 L26.6,143.91 L27.1,143.92 L27.6,145.17 L28.1,143.49 L28.6,144.31 L29.1,144.94 L29.6,144.57 L30.1,144.06 L30.6,144.38 L31.1,144.72 L31.6,144.86 L32.1,144.02 L32.6,144.69 L33.1,144.48 L33.6,144.83 L34.1,144.95 L34.6,144.24 L35.1,143.78 L35.6,144.55 L36.1,145.13 L36.6,144.67 L37.1,144.48 L37.6,145.41 L38.1,145.11 L38.6,144.77 L39.1,144.13 L39.6,144.4 L40.1,144.42 L40.6,145.04 L41.1,143.97 L41.6,144.15 L42.1,143.68 L42.6,144.59 L43.1,144.18 L43.6,144.57 L44.1,143.91 L44.6,144.22 L45.1,144.84 L45.6,144.3 L46.1,144.66 L46.6,144.61 L47.1,144.22 L47.6,143.69 L48.1,144.81 L48.6,144.45 L49.1,145.11 L49.6,143.5 L50.1,143.66 L50.6,143.45 L51.1,144 L51.6,144.83 L52.1,144.62 L52.6,144.37 L53.1,144.44 L53.6,144.7 L54.1,144.25 L54.6,144.55 L55.1,144.44 L55.6,143.48 L56.1,144.22 L56.6,144.93 L57.1,144.22 L57.6,144.32 L58.1,144.14 L58.6,144.19 L59.1,144.82 L59.6,144.28 L60.1,143.98 L60.6,143.18 L61.1,144.16 L61.6,143.63 L62.1,143.69 L62.6,144.68 L63.1,144.64 L63.6,143.67 L64.1,144.69 L64.6,144.55 L65.1,144.1 L65.6,144.64 L66.1,143.81 L66.6,143.96 L67.1,143.88 L67.6,144 L68.1,144.68 L68.6,143.93 L69.1,143.99 L69.6,144.06 L70.1,144.44 L70.6,144.27 L71.1,144.66 L71.6,144.15 L72.1,143.97 L72.6,144.22 L73.1,144.39 L73.6,144.09 L74.1,144.47 L74.6,144.94 L75.1,144.2 L75.6,144.39 L76.1,144.79 L76.6,144.18 L77.1,144.12 L77.6,144.05 L78.1,144.49 L78.6,144.53 L79.1,144.33 L79.6,144.39 L80.1,144.75 L80.6,144.63 L81.1,143.97 L81.6,144.37 L82.1,144.4 L82.6,144.58 L83.1,144.31 L83.6,144.19 L84.1,144.24 L84.6,143.87 L85.1,144.37 L85.6,144.21 L86.1,144.5 L86.6,144.09 L87.1,144.25 L87.6,144.1 L88.1,144.08 L88.6,144.56 L89.1,144.24 L89.6,144.49 L90.1,144.06 L90.6,145.36 L91.1,143.91 L91.6,144.24 L92.1,144.23 L92.6,144.53 L93.1,144.42 L93.6,144.32 L94.1,144.6 L94.6,144.42 L95.1,144.51 L95.6,144.58 L96.1,144.35 L96.6,144.29 L97.1,144.46 L97.6,144.26 L98.1,144.47 L98.6,144.67 L99.1,144.6 L99.6,144.27 L100.1,144.02 L100.6,144.35 L101.1,144.33 L101.6,144.67 L102.1,144.26 L102.6,144.31 L103.1,144.57 L103.6,144.24 L104.1,144.32 L104.6,144.83 L105.1,144.77 L105.6,144.54 L106.1,144.44 L106.6,144.1 L107.1,144.52 L107.6,144.38 L108.1,144.85 L108.6,144.23 L109.1,144.36 L109.6,144.32 L110.1,144.45 L110.6,144.76 L111.1,144.47 L111.6,143.91 L112.1,144.1 L112.6,143.93 L113.1,144.15 L113.6,144.52 L114.1,144.48 L114.6,144.2 L115.1,144.44 L115.6,144.15 L116.1,143.97 L116.6,143.97 L117.1,144.12 L117.6,144.77 L118.1,143.98 L118.6,144.72 L119.1,144.75 L119.6,144.31 L120.1,144.35 L120.6,144.19 L121.1,144.36 L121.6,144.56 L122.1,144.37 L122.6,144.66 L123.1,144.72 L123.6,144.47 L124.1,144.46 L124.6,144.35 L125.1,144.47 L125.6,144.02 L126.1,144.49 L126.6,145.27 L127.1,144.1 L127.6,145.03 L128.1,144.06 L128.6,144.09 L129.1,144.45 L129.6,143.75 L130.1,144.11 L130.6,143.88 L131.1,144.05 L131.6,144.32 L132.1,144.47 L132.6,144.72 L133.1,144.62 L133.6,144.75 L134.1,144.55 L134.6,144.21 L135.1,144.73 L135.6,144.2 L136.1,144.16 L136.6,144.87 L137.1,144.62 L137.6,144.43 L138.1,144.61 L138.6,144.65 L139.1,143.91 L139.6,144.33 L140.1,143.97 L140.6,144.4 L141.1,144.14 L141.6,144.81 L142.1,144.53 L142.6,144.09 L143.1,144.36 L143.6,143.96 L144.1,144.38 L144.6,144.54 L145.1,144.45 L145.6,143.73 L146.1,144.25 L146.6,144.53 L147.1,144.46 L147.6,144.74 L148.1,143.95 L148.6,144.53 L149.1,144.15 L149.6,144.42 L150.1,144.49 L150.6,144.58 L151.1,144.18 L151.6,144.42 L152.1,144 L152.6,143.92 L153.1,144.53 L153.6,144.36 L154.1,143.87 L154.6,144.1 L155.1,144.37 L155.6,144.83 L156.1,144.68 L156.6,144.6 L157.1,143.83 L157.6,144.33 L158.1,144.5 L158.6,144.48 L159.1,144.49 L159.6,144.29 L160.1,144.87 L160.6,144.79 L161.1,144.34 L161.6,144.08 L162.1,144.95 L162.6,144.21 L163.1,144.01 L163.6,144.9 L164.1,144.1 L164.6,144.45 L165.1,144.27 L165.6,145.02 L166.1,144.45 L166.6,144.91 L167.1,144.53 L167.6,144.36 L168.1,144.68 L168.6,144.29" stroke="#000" stroke-width="1.6280000000000001" fill="none" stroke-linejoin="round"/>
<path d="M14.1,144.58 L14.6,145 L15.1,143.77 L15.6,144.31 L16.1,144.69 L16.6,143.99 L17.1,144.3 L17.6,145.01 L18.1,144.8 L18.6,144.1 L19.1,144.8 L19.6,144.73 L20.1,144.6 L20.6,144.48 L21.1,144.44 L21.6,144.11 L22.1,144.22 L22.6,144.59 L23.1,144.41 L23.6,144.93 L24.1,144.27 L24.6,143.65 L25.1,144.27 L25.6,144.45 L26.1,144.49 L26.6,144.39 L27.1,144.12 L27.6,144.82 L28.1,144.17 L28.6,144.59 L29.1,144.29 L29.6,144.01 L30.1,144.8 L30.6,143.62 L31.1,144.12 L31.6,144.5 L32.1,144.26 L32.6,144.6 L33.1,144.34 L33.6,144.24 L34.1,145.02 L34.6,144.31 L35.1,144.33 L35.6,144.05 L36.1,144.15 L36.6,144.57 L37.1,144.54 L37.6,144.37 L38.1,144.16 L38.6,144.58 L39.1,143.86 L39.6,144.27 L40.1,144.3 L40.6,144.12 L41.1,144.42 L41.6,144.17 L42.1,144.13 L42.6,144.92 L43.1,144.6 L43.6,144.74 L44.1,144.39 L44.6,144.67 L45.1,144.61 L45.6,144.74 L46.1,145.09 L46.6,144.31 L47.1,144.45 L47.6,144.36 L48.1,143.32 L48.6,143.96 L49.1,144.38 L49.6,144.57 L50.1,144.2 L50.6,144.72 L51.1,144.76 L51.6,144.25 L52.1,144.81 L52.6,144.9 L53.1,144.52 L53.6,144.08 L54.1,144.82 L54.6,144.33 L55.1,144.27 L55.6,144.41 L56.1,144.22 L56.6,144.7 L57.1,144.61 L57.6,144.75 L58.1,144.55 L58.6,144.14 L59.1,144.33 L59.6,144.64 L60.1,144.26 L60.6,145.26 L61.1,144.31 L61.6,144.2 L62.1,144.73 L62.6,144.6 L63.1,144.37 L63.6,144.31 L64.1,144.51 L64.6,144.63 L65.1,144.61 L65.6,144.29 L66.1,144.51 L66.6,144.63 L67.1,144.61 L67.6,143.45 L68.1,144.11 L68.6,144.15 L69.1,144.31 L69.6,144.43 L70.1,144.66 L70.6,144.57 L71.1,144.34 L71.6,144.39" stroke="#000" stroke-width="0.6007189495758563" fill="none" stroke-linejoin="round"/>
<path d="M2.6,149.56 L3.1,148.82 L3.6,149.11 L4.1,149.5 L4.6,149.12 L5.1,149.29 L5.6,149.13 L6.1,148.89 L6.6,148.97 L7.1,149.35 L7.6,149.16 L8.1,148.92 L8.6,149.3 L9.1,149.15 L9.6,149.04 L10.1,149.11 L10.6,149.09 L11.1,148.9 L11.6,148.86 L12.1,149.02 L12.6,148.68 L13.1,148.58 L13.6,149.46 L14.1,148.93 L14.6,149 L15.1,148.96 L15.6,149.02 L16.1,148.5 L16.6,149.03 L17.1,148.72 L17.6,149.35 L18.1,148.75 L18.6,149.4 L19.1,148.28 L19.6,148.61 L20.1,149.39 L20.6,148.95 L21.1,148.75 L21.6,149.16 L22.1,148.59 L22.6,149.04 L23.1,148.11 L23.6,148.82 L24.1,148.74 L24.6,149.24 L25.1,149.38 L25.6,148.65 L26.1,149.7 L26.6,150.52 L27.1,148.11 L27.6,147.96 L28.1,149.7 L28.6,148.97 L29.1,148.72 L29.6,148.67 L30.1,148.51 L30.6,149.64 L31.1,148.97 L31.6,149.86 L32.1,148.91 L32.6,147.88 L33.1,149.42 L33.6,148.83 L34.1,148.89 L34.6,149.79 L35.1,148.88 L35.6,149.59 L36.1,149.01 L36.6,148.63 L37.1,149.27 L37.6,148.7 L38.1,149.64 L38.6,149.51 L39.1,149.04 L39.6,149.33 L40.1,149.31 L40.6,148.87 L41.1,149.48 L41.6,148.89 L42.1,149.34 L42.6,148.51 L43.1,149.06 L43.6,149.23 L44.1,148.59 L44.6,148.79 L45.1,148.73 L45.6,149.4 L46.1,148.63 L46.6,149.24 L47.1,149.82 L47.6,149.2 L48.1,148.16 L48.6,149.08 L49.1,149.56 L49.6,148.86 L50.1,149.59 L50.6,149.34 L51.1,149.23 L51.6,148.88 L52.1,148.75 L52.6,148.88 L53.1,149.05 L53.6,149.28 L54.1,149.23 L54.6,148.86 L55.1,149.05 L55.6,149.21 L56.1,148.22 L56.6,148.64 L57.1,148.63 L57.6,148.11 L58.1,148.88 L58.6,148.89 L59.1,148.61 L59.6,149.58 L60.1,149.14 L60.6,148.27 L61.1,149.02 L61.6,148.51 L62.1,149.77 L62.6,148.82 L63.1,148.84 L63.6,149.05 L64.1,148.93 L64.6,148.99 L65.1,149.67 L65.6,149.11 L66.1,149.36 L66.6,149.48 L67.1,148.62 L67.6,149.69 L68.1,149.29 L68.6,149.39 L69.1,148.68 L69.6,149.33 L70.1,150.12 L70.6,148.81 L71.1,149.88 L71.6,149.23 L72.1,148.93 L72.6,149.09 L73.1,149.35 L73.6,149.42 L74.1,149.23 L74.6,149.45 L75.1,149.54 L75.6,148.58 L76.1,148.85 L76.6,148.69 L77.1,149.05 L77.6,149.51 L78.1,149.24 L78.6,148.67 L79.1,148.92 L79.6,149.36 L80.1,148.84 L80.6,148.98 L81.1,149.12 L81.6,148.42 L82.1,149.27 L82.6,149.13 L83.1,149.2 L83.6,148.7 L84.1,148.77 L84.6,148.83 L85.1,147.28 L85.6,149.04 L86.1,149.86 L86.6,149.58 L87.1,149.42 L87.6,148.79 L88.1,148.81 L88.6,149.55 L89.1,148.92 L89.6,149.44 L90.1,149.51 L90.6,148.85 L91.1,148.93 L91.6,149.04 L92.1,148.75 L92.6,148.72 L93.1,148.89 L93.6,149.27 L94.1,148.88 L94.6,148.95 L95.1,148.88 L95.6,148.6 L96.1,149.46 L96.6,148.31 L97.1,148.82 L97.6,149.18 L98.1,148.6 L98.6,149.2 L99.1,149.39 L99.6,148.76 L100.1,149.08 L100.6,148.68 L101.1,149.17 L101.6,149.04 L102.1,149.08 L102.6,149.43 L103.1,149.16 L103.6,149.42 L104.1,149.21 L104.6,148.65 L105.1,149.09 L105.6,149.16 L106.1,148.58 L106.6,149.42 L107.1,149.04 L107.6,149.13 L108.1,148.74 L108.6,149.04 L109.1,149.11 L109.6,148.92 L110.1,149.04 L110.6,148.36 L111.1,149.44 L111.6,148.67 L112.1,148.34 L112.6,148.72 L113.1,148.76 L113.6,149.19 L114.1,148.73 L114.6,149.11 L115.1,148.71 L115.6,149.72 L116.1,149.19 L116.6,149.59 L117.1,148.69 L117.6,149.23 L118.1,148.71 L118.6,149.2 L119.1,149.24 L119.6,148.49 L120.1,148.64 L120.6,148.63 L121.1,148.51 L121.6,148.77 L122.1,148.69 L122.6,148.53 L123.1,149.05 L123.6,149.2 L124.1,148.56 L124.6,148.82 L125.1,149.02 L125.6,148.93 L126.1,148.76 L126.6,149.3 L127.1,149.32 L127.6,149.26 L128.1,148.94 L128.6,149.73 L129.1,149.65 L129.6,148.87 L130.1,148.97 L130.6,149.45 L131.1,148.72 L131.6,149.16 L132.1,149.03 L132.6,148.75 L133.1,148.93 L133.6,148.42 L134.1,148.81 L134.6,148.26 L135.1,149.88 L135.6,149.59 L136.1,149.48 L136.6,149.13 L137.1,149.4 L137.6,148.64 L138.1,149.4 L138.6,149.37 L139.1,148.66 L139.6,149.18 L140.1,148.81 L140.6,148.56 L141.1,148.57 L141.6,149.18 L142.1,149.42 L142.6,148.49 L143.1,149.68 L143.6,149.57 L144.1,148.87 L144.6,148.84 L145.1,148.98 L145.6,149.38 L146.1,149.13 L146.6,148.59 L147.1,148.25 L147.6,148.24 L148.1,149.06 L148.6,149.44 L149.1,149.12 L149.6,149.3 L150.1,148.42 L150.6,149.28 L151.1,149.06 L151.6,148.71 L152.1,148.93 L152.6,148.98 L153.1,149.46 L153.6,149.58 L154.1,149.16 L154.6,148.75 L155.1,148.76 L155.6,148.95 L156.1,149.49 L156.6,149.12 L157.1,148.99 L157.6,148.75 L158.1,149.31 L158.6,149.11 L159.1,148.99 L159.6,149.04 L160.1,149.57 L160.6,148.96 L161.1,149.56 L161.6,149.06 L162.1,149.03 L162.6,149.29 L163.1,148.97 L163.6,148.75 L164.1,148.92 L164.6,148.72 L165.1,149.17 L165.6,149.01 L166.1,149.19 L166.6,149.27 L167.1,148.04 L167.6,149.11 L168.1,148.45 L168.6,149.06" stroke="#000" stroke-width="1.848" fill="none" stroke-linejoin="round"/>
<path d="M14.1,148.51 L14.6,149.65 L15.1,148.47 L15.6,148.71 L16.1,148.88 L16.6,149.01 L17.1,149.33 L17.6,149.34 L18.1,148.89 L18.6,148.85 L19.1,149.02 L19.6,149.34 L20.1,149.29 L20.6,148.8 L21.1,148.18 L21.6,149.88 L22.1,149.39 L22.6,149.12 L23.1,149.15 L23.6,148.8 L24.1,148.61 L24.6,148.88 L25.1,148.92 L25.6,148.76 L26.1,148.42 L26.6,148.88 L27.1,149.24 L27.6,148.81 L28.1,149.02 L28.6,148.17 L29.1,148.93 L29.6,148.96 L30.1,148.51 L30.6,148.31 L31.1,149.18 L31.6,148.68 L32.1,149.21 L32.6,148.84 L33.1,149.26 L33.6,148.87 L34.1,148.4 L34.6,148.98 L35.1,148.88 L35.6,149.28 L36.1,148.83 L36.6,148.85 L37.1,149.36 L37.6,149.48 L38.1,149.32 L38.6,149.43 L39.1,149.19 L39.6,149.32 L40.1,149.36 L40.6,149.17 L41.1,149.04 L41.6,149.07 L42.1,149.98 L42.6,149.02 L43.1,148.91 L43.6,148.86 L44.1,149 L44.6,149.11 L45.1,148.55 L45.6,148.21 L46.1,149.13 L46.6,148.36 L47.1,149.11 L47.6,149.07 L48.1,149.48 L48.6,149.68 L49.1,149.16 L49.6,148.79 L50.1,148.54 L50.6,148.69 L51.1,149.03 L51.6,148.17 L52.1,149.04 L52.6,149.01 L53.1,149.27 L53.6,148.87 L54.1,149.05 L54.6,148.71 L55.1,148.82 L55.6,148.29 L56.1,149.06 L56.6,149.64 L57.1,149.08 L57.6,149.16 L58.1,148.61 L58.6,149.59 L59.1,148.7 L59.6,149.33 L60.1,149.05 L60.6,148.62 L61.1,149.42 L61.6,149.02 L62.1,149.08 L62.6,149.19 L63.1,149 L63.6,148.86 L64.1,149.2 L64.6,148.85 L65.1,149.04 L65.6,148.74 L66.1,148.41 L66.6,148.74 L67.1,148.81 L67.6,149.02 L68.1,149.49 L68.6,148.33 L69.1,149.06 L69.6,148.12 L70.1,148.59 L70.6,148.81 L71.1,148.1 L71.6,148.26" stroke="#000" stroke-width="0.8078880391227043" fill="none" stroke-linejoin="round"/>
<path d="M2.6,153.69 L3.1,153.67 L3.6,153.6 L4.1,153.36 L4.6,154.38 L5.1,153.58 L5.6,153.34 L6.1,154.23 L6.6,153.86 L7.1,153.51 L7.6,154.06 L8.1,153.7 L8.6,153.87 L9.1,153.72 L9.6,153.27 L10.1,153.99 L10.6,153.7 L11.1,153.27 L11.6,153.36 L12.1,154 L12.6,153.5 L13.1,153.66 L13.6,153.89 L14.1,153.69 L14.6,153.05 L15.1,153.89 L15.6,154.01 L16.1,153.99 L16.6,154.29 L17.1,153.79 L17.6,153.96 L18.1,154.3 L18.6,153.52 L19.1,154.37 L19.6,154.38 L20.1,153.98 L20.6,154.44 L21.1,154.01 L21.6,153.25 L22.1,154.15 L22.6,153.79 L23.1,153.83 L23.6,153.71 L24.1,154.27 L24.6,153.9 L25.1,153.31 L25.6,153.87 L26.1,153.99 L26.6,153.28 L27.1,153.43 L27.6,153.45 L28.1,153.33 L28.6,153.82 L29.1,154.16 L29.6,154.62 L30.1,154.27 L30.6,154.18 L31.1,153.7 L31.6,154.36 L32.1,153.44 L32.6,154.02 L33.1,153.82 L33.6,153.57 L34.1,153.39 L34.6,153.36 L35.1,153.49 L35.6,152.93 L36.1,153.94 L36.6,153.63 L37.1,153.7 L37.6,153.84 L38.1,154.07 L38.6,153.29 L39.1,153.58 L39.6,152.68 L40.1,152.31 L40.6,152.47 L41.1,154.57 L41.6,152.54 L42.1,153.93 L42.6,154.54 L43.1,153.36 L43.6,154.63 L44.1,154.77 L44.6,155.15 L45.1,155.09 L45.6,154.02 L46.1,153.2 L46.6,153.96 L47.1,153.37 L47.6,152.85 L48.1,152.87 L48.6,155.04 L49.1,153.32 L49.6,153.63 L50.1,153.25 L50.6,153.73 L51.1,153.5 L51.6,153.4 L52.1,152.93 L52.6,152.82 L53.1,153.21 L53.6,153.82 L54.1,154.84 L54.6,154.25 L55.1,154.68 L55.6,153.92 L56.1,153.6 L56.6,152.91 L57.1,153.65 L57.6,152.48 L58.1,153.49 L58.6,154.52 L59.1,153.82 L59.6,154.24 L60.1,153.45 L60.6,152.94 L61.1,153.4 L61.6,153.45 L62.1,154.26 L62.6,154.63 L63.1,153.29 L63.6,153.48 L64.1,153.58 L64.6,153.48 L65.1,153.06 L65.6,153.69 L66.1,153.82 L66.6,153.83 L67.1,153.1 L67.6,153.6 L68.1,152.88 L68.6,154.05 L69.1,153.21 L69.6,153.53 L70.1,153.46 L70.6,153.4 L71.1,153.21 L71.6,152.92 L72.1,154.36 L72.6,153.76 L73.1,153.76 L73.6,154.49 L74.1,153.61 L74.6,153.87 L75.1,153.66 L75.6,154.11 L76.1,155.65 L76.6,153.77 L77.1,153.56 L77.6,153.76 L78.1,154.34 L78.6,152.88 L79.1,153.6 L79.6,152.61 L80.1,153.54 L80.6,152.94 L81.1,153.91 L81.6,153.35 L82.1,153.57 L82.6,153.47 L83.1,153.06 L83.6,153.5 L84.1,153.01 L84.6,153.32 L85.1,153.54 L85.6,153.65 L86.1,153.67 L86.6,153.6 L87.1,154.38 L87.6,153.8 L88.1,153.24 L88.6,153.44 L89.1,153.43 L89.6,153.59 L90.1,153.45 L90.6,153.37 L91.1,154.2 L91.6,153.67 L92.1,153.54 L92.6,153.57 L93.1,153.58 L93.6,154.11 L94.1,153.81 L94.6,154.02 L95.1,152.63 L95.6,153.76 L96.1,154 L96.6,154.3 L97.1,153.66 L97.6,153.09 L98.1,153.84 L98.6,153.46 L99.1,153.06 L99.6,153.45 L100.1,154 L100.6,154.05 L101.1,153.89 L101.6,153.31 L102.1,154.48 L102.6,153.27 L103.1,153.63 L103.6,153.18 L104.1,154.08 L104.6,153.8 L105.1,153.94 L105.6,153.68 L106.1,153.63 L106.6,153.71 L107.1,153.03 L107.6,153.98 L108.1,153.96 L108.6,153.52 L109.1,153.65 L109.6,153.75 L110.1,154.18 L110.6,153.8 L111.1,153.67 L111.6,153.48 L112.1,153.14 L112.6,153.45 L113.1,153.68 L113.6,154.14 L114.1,153.68 L114.6,153.91 L115.1,153.81 L115.6,153.75 L116.1,153.88 L116.6,153.72 L117.1,153.64 L117.6,153.82 L118.1,153.04 L118.6,154.1 L119.1,153.19 L119.6,153.96 L120.1,153.66 L120.6,154.06 L121.1,153.67 L121.6,153.31 L122.1,154.06 L122.6,153.73 L123.1,153.7 L123.6,153.69 L124.1,154.04 L124.6,153.97 L125.1,153.75 L125.6,153.06 L126.1,153.5 L126.6,153.7 L127.1,154.37 L127.6,153.81 L128.1,151.79 L128.6,154.14 L129.1,153.62 L129.6,153.65 L130.1,153.73 L130.6,153.05 L131.1,153.46 L131.6,153.84 L132.1,153.55 L132.6,153.19 L133.1,153.75 L133.6,154.25 L134.1,153.39 L134.6,153.21 L135.1,153.84 L135.6,152.98 L136.1,152.72 L136.6,153.47 L137.1,153.37 L137.6,153.55 L138.1,153.43 L138.6,153.81 L139.1,153.57 L139.6,153.41 L140.1,153.47 L140.6,153.94 L141.1,154.08 L141.6,154.05 L142.1,153.96 L142.6,152.25 L143.1,153.24 L143.6,153.53 L144.1,153.75 L144.6,152.98 L145.1,154.27 L145.6,153.79 L146.1,153.4 L146.6,153.73 L147.1,153.52 L147.6,153.35 L148.1,153.87 L148.6,153.48 L149.1,154.25 L149.6,153.41 L150.1,153.62 L150.6,153.23 L151.1,154.17 L151.6,153.23 L152.1,154.36 L152.6,154.02 L153.1,153.29 L153.6,153.72 L154.1,154.12 L154.6,153.59 L155.1,153.21 L155.6,153.71 L156.1,154.42 L156.6,153.1 L157.1,154.42 L157.6,153.67 L158.1,153.62 L158.6,153.52 L159.1,153.55 L159.6,154.04 L160.1,153.88 L160.6,153.3 L161.1,154.22 L161.6,153.2 L162.1,153.9 L162.6,153.73 L163.1,154.09 L163.6,153.79 L164.1,154.03 L164.6,153.66 L165.1,154 L165.6,153.78 L166.1,154.4 L166.6,153.43 L167.1,154.07 L167.6,153.82 L168.1,153.72 L168.6,153.47" stroke="#000" stroke-width="2.024" fill="none" stroke-linejoin="round"/>
<path d="M14.1,152.94 L14.6,152.8 L15.1,154.03 L15.6,153.59 L16.1,153.32 L16.6,153.81 L17.1,153.33 L17.6,152.67 L18.1,154.01 L18.6,153.3 L19.1,153.12 L19.6,152.96 L20.1,153.73 L20.6,153.22 L21.1,153.92 L21.6,153.48 L22.1,154.14 L22.6,153.42 L23.1,153.29 L23.6,152.65 L24.1,153.07 L24.6,153.97 L25.1,155.11 L25.6,153 L26.1,153.1 L26.6,153.78 L27.1,153.85 L27.6,153.28 L28.1,153.65 L28.6,152.83 L29.1,153.47 L29.6,154.05 L30.1,154.41 L30.6,153.53 L31.1,153.49 L31.6,153.83 L32.1,154.15 L32.6,153.85 L33.1,153.25 L33.6,153.79 L34.1,154.09 L34.6,153.26 L35.1,152.96 L35.6,153.86 L36.1,153.79 L36.6,154.09 L37.1,153.66 L37.6,153.3 L38.1,153.4 L38.6,153.11 L39.1,153.15 L39.6,153.34 L40.1,153.38 L40.6,154.16 L41.1,153.01 L41.6,153.59 L42.1,153.33 L42.6,154.34 L43.1,153.74 L43.6,153.43 L44.1,154.01 L44.6,153.65 L45.1,153.38 L45.6,154.37 L46.1,153.96 L46.6,154.46 L47.1,154.18 L47.6,154 L48.1,153.68 L48.6,153.09 L49.1,153.96 L49.6,153.65 L50.1,153.95 L50.6,153.61 L51.1,153.28 L51.6,153.13 L52.1,153.96 L52.6,154.25 L53.1,153.48 L53.6,153.84 L54.1,154.3 L54.6,153.21 L55.1,153.45 L55.6,153.07 L56.1,154.2 L56.6,153.75 L57.1,153.39 L57.6,152.81 L58.1,153.53 L58.6,154.11 L59.1,153.47 L59.6,153.41 L60.1,153.93 L60.6,153.02 L61.1,153.65 L61.6,153.91 L62.1,153.24 L62.6,153.21 L63.1,153.74 L63.6,153.57 L64.1,153.51 L64.6,153.72 L65.1,153.73 L65.6,153.17 L66.1,153.3 L66.6,153.84 L67.1,154.17 L67.6,154.28 L68.1,153.21 L68.6,154.16 L69.1,153.99 L69.6,153.61 L70.1,153.86 L70.6,154.03 L71.1,154.5 L71.6,153.11" stroke="#000" stroke-width="0.9843232484958069" fill="none" stroke-linejoin="round"/>
<path d="M2.6,158.47 L3.1,158.21 L3.6,158.18 L4.1,158.67 L4.6,158.55 L5.1,157.89 L5.6,158.16 L6.1,158.34 L6.6,157.74 L7.1,158.57 L7.6,158.23 L8.1,158.32 L8.6,158.38 L9.1,158.94 L9.6,158.27 L10.1,158.12 L10.6,158.92 L11.1,158.06 L11.6,158.05 L12.1,157.72 L12.6,158.68 L13.1,158.37 L13.6,158.45 L14.1,158.32 L14.6,158.75 L15.1,157.94 L15.6,157.94 L16.1,158.44 L16.6,158.31 L17.1,158.95 L17.6,157.93 L18.1,158.05 L18.6,157.81 L19.1,158.87 L19.6,157.71 L20.1,158.6 L20.6,158.91 L21.1,158.19 L21.6,158.59 L22.1,157.26 L22.6,158.07 L23.1,157.46 L23.6,158.34 L24.1,158.26 L24.6,157.88 L25.1,158.73 L25.6,158.44 L26.1,157.99 L26.6,157.99 L27.1,157.49 L27.6,158.16 L28.1,159.38 L28.6,157.87 L29.1,158.48 L29.6,157.95 L30.1,158.7 L30.6,158.33 L31.1,158.12 L31.6,157.24 L32.1,157.96 L32.6,158.95 L33.1,158.11 L33.6,158.62 L34.1,157.97 L34.6,157.14 L35.1,158.51 L35.6,158.45 L36.1,157.9 L36.6,158.03 L37.1,158.43 L37.6,157.89 L38.1,158.47 L38.6,158.13 L39.1,156.77 L39.6,158.16 L40.1,157.88 L40.6,157.72 L41.1,158.51 L41.6,157.94 L42.1,158.6 L42.6,158.96 L43.1,158.35 L43.6,157.26 L44.1,157.78 L44.6,158.85 L45.1,158.09 L45.6,157.73 L46.1,158.2 L46.6,158.58 L47.1,158.42 L47.6,158.67 L48.1,157.73 L48.6,158.08 L49.1,158.1 L49.6,158.24 L50.1,156.93 L50.6,158.9 L51.1,157.41 L51.6,159.13 L52.1,159.23 L52.6,159.3 L53.1,158.76 L53.6,157.96 L54.1,158.84 L54.6,158.14 L55.1,158.62 L55.6,156.35 L56.1,158.84 L56.6,158.53 L57.1,159.29 L57.6,158.24 L58.1,159.55 L58.6,159.82 L59.1,157.54 L59.6,158.24 L60.1,157.74 L60.6,158.18 L61.1,157.97 L61.6,158.22 L62.1,158.77 L62.6,158.75 L63.1,158.4 L63.6,158.26 L64.1,158.32 L64.6,158.33 L65.1,158.55 L65.6,158.26 L66.1,158.51 L66.6,157.63 L67.1,158.64 L67.6,159.09 L68.1,158.35 L68.6,157.61 L69.1,158.88 L69.6,158.11 L70.1,156.92 L70.6,158.17 L71.1,158.53 L71.6,158.43 L72.1,158.8 L72.6,158.53 L73.1,158.32 L73.6,157.44 L74.1,157.8 L74.6,158.34 L75.1,158.54 L75.6,157.85 L76.1,158.02 L76.6,158.45 L77.1,157.51 L77.6,157.5 L78.1,158.18 L78.6,158.36 L79.1,158.08 L79.6,157.39 L80.1,158.27 L80.6,157.77 L81.1,158.51 L81.6,158.23 L82.1,158.36 L82.6,158.5 L83.1,158.07 L83.6,158.57 L84.1,158.72 L84.6,158.41 L85.1,158.74 L85.6,158.04 L86.1,158.59 L86.6,158.36 L87.1,157.92 L87.6,158.24 L88.1,158.08 L88.6,158.07 L89.1,158.3 L89.6,158.64 L90.1,158.16 L90.6,158.31 L91.1,157.76 L91.6,158.3 L92.1,158.66 L92.6,158.54 L93.1,158.43 L93.6,158.09 L94.1,157.93 L94.6,158.23 L95.1,157.81 L95.6,157.85 L96.1,158.59 L96.6,157.95 L97.1,158.88 L97.6,157.78 L98.1,158.41 L98.6,157.87 L99.1,158.33 L99.6,157.91 L100.1,158.28 L100.6,158.21 L101.1,158.11 L101.6,158.44 L102.1,158.78 L102.6,158.07 L103.1,158.57 L103.6,158.29 L104.1,158.26 L104.6,159.01 L105.1,157.53 L105.6,158.03 L106.1,157.65 L106.6,158.16 L107.1,158.19 L107.6,159.58 L108.1,158.39 L108.6,158.89 L109.1,158.72 L109.6,158.11 L110.1,158.43 L110.6,158.69 L111.1,158.33 L111.6,158.34 L112.1,158.44 L112.6,157.73 L113.1,157.98 L113.6,158.39 L114.1,158.46 L114.6,157.94 L115.1,158.15 L115.6,158.22 L116.1,158.21 L116.6,158.52 L117.1,158.3 L117.6,158.33 L118.1,157.74 L118.6,157.87 L119.1,158.39 L119.6,157.66 L120.1,158.37 L120.6,158.01 L121.1,157.95 L121.6,158.51 L122.1,158 L122.6,157.93 L123.1,158 L123.6,158.29 L124.1,159.36 L124.6,157.42 L125.1,158.26 L125.6,158.17 L126.1,158.65 L126.6,158.11 L127.1,157.24 L127.6,158.81 L128.1,157.81 L128.6,158.24 L129.1,157.68 L129.6,157.8 L130.1,158.05 L130.6,158.63 L131.1,158.62 L131.6,158 L132.1,158.48 L132.6,158.1 L133.1,158.31 L133.6,158.33 L134.1,158.53 L134.6,157.99 L135.1,158.2 L135.6,158.36 L136.1,158.3 L136.6,157.9 L137.1,159.03 L137.6,158.05 L138.1,158.6 L138.6,158.35 L139.1,158.81 L139.6,157.27 L140.1,159.19 L140.6,158.16 L141.1,157.7 L141.6,158.32 L142.1,159.28 L142.6,158.49 L143.1,157.7 L143.6,158.05 L144.1,158.86 L144.6,157.63 L145.1,158.18 L145.6,158.13 L146.1,159.22 L146.6,158.13 L147.1,158.83 L147.6,157.96 L148.1,157.91 L148.6,158.69 L149.1,158.53 L149.6,157.51 L150.1,158.53 L150.6,158.53 L151.1,158 L151.6,158.35 L152.1,158.37 L152.6,158.06 L153.1,158.02 L153.6,157.98 L154.1,158.15 L154.6,157.72 L155.1,158.24 L155.6,157.66 L156.1,158.29 L156.6,158.22 L157.1,157.85 L157.6,158.59 L158.1,159.01 L158.6,158.77 L159.1,157.73 L159.6,158.74 L160.1,158.34 L160.6,158.24 L161.1,158.03 L161.6,158.25 L162.1,158.77 L162.6,158.46 L163.1,158.11 L163.6,158.01 L164.1,158.11 L164.6,158.47 L165.1,158.93 L165.6,157.88 L166.1,158.26 L166.6,158.12 L167.1,157.99 L167.6,158.4 L168.1,158.45 L168.6,157.76" stroke="#000" stroke-width="2.156" fill="none" stroke-linejoin="round"/>
<path d="M14.1,158.86 L14.6,158.3 L15.1,158.71 L15.6,159.05 L16.1,157.96 L16.6,158.3 L17.1,158.16 L17.6,158.36 L18.1,157.38 L18.6,158.16 L19.1,158.12 L19.6,157.83 L20.1,158.15 L20.6,157.42 L21.1,159 L21.6,158.49 L22.1,159.26 L22.6,157.78 L23.1,157.63 L23.6,158.4 L24.1,157.36 L24.6,158.37 L25.1,157.87 L25.6,158.07 L26.1,158.39 L26.6,158.28 L27.1,159.25 L27.6,158.59 L28.1,157.56 L28.6,158.78 L29.1,157.53 L29.6,158.3 L30.1,157.58 L30.6,157.81 L31.1,158.96 L31.6,157.95 L32.1,157.91 L32.6,157.95 L33.1,158.08 L33.6,159.02 L34.1,157.62 L34.6,157.59 L35.1,158.56 L35.6,157.39 L36.1,158.05 L36.6,158.86 L37.1,158.25 L37.6,157.99 L38.1,157.87 L38.6,157.76 L39.1,157.93 L39.6,158.32 L40.1,158.92 L40.6,158.77 L41.1,157.94 L41.6,157.85 L42.1,158.62 L42.6,157.27 L43.1,158.01 L43.6,158.07 L44.1,157.65 L44.6,157.71 L45.1,158.43 L45.6,157.36 L46.1,157.75 L46.6,157.9 L47.1,158.29 L47.6,157.51 L48.1,158.82 L48.6,158.08 L49.1,158.1 L49.6,158.05 L50.1,157.88 L50.6,157.71 L51.1,158.85 L51.6,158.35 L52.1,158.18 L52.6,158.77 L53.1,157.86 L53.6,158.57 L54.1,158.25 L54.6,157.76 L55.1,158.64 L55.6,157.43 L56.1,158.58 L56.6,157.76 L57.1,158.45 L57.6,158.97 L58.1,158.54 L58.6,157.91 L59.1,158.22 L59.6,158.03 L60.1,157.6 L60.6,157.64 L61.1,158.25 L61.6,158.52 L62.1,157.29 L62.6,158.19 L63.1,158.5 L63.6,158.29 L64.1,157.69 L64.6,158.78 L65.1,157.58 L65.6,158.57 L66.1,159.08 L66.6,157.13 L67.1,158.36 L67.6,158.39 L68.1,158.34 L68.6,157.81 L69.1,158.06 L69.6,157.48 L70.1,158.29 L70.6,158.51 L71.1,157.87 L71.6,157.73" stroke="#000" stroke-width="1.0865032378591717" fill="none" stroke-linejoin="round"/>
<path d="M2.6,162.7 L3.1,162.77 L3.6,162.89 L4.1,162.83 L4.6,162.89 L5.1,162.4 L5.6,161.89 L6.1,163.09 L6.6,163.38 L7.1,162.35 L7.6,162.62 L8.1,162.97 L8.6,163.22 L9.1,163.1 L9.6,163.34 L10.1,162.84 L10.6,163.02 L11.1,163.02 L11.6,162.7 L12.1,163.43 L12.6,163.1 L13.1,163.25 L13.6,162.71 L14.1,163.27 L14.6,162.44 L15.1,163.02 L15.6,161.79 L16.1,162.44 L16.6,163.17 L17.1,162.67 L17.6,162.93 L18.1,162.16 L18.6,163.53 L19.1,163.12 L19.6,162.84 L20.1,163.04 L20.6,163 L21.1,163.5 L21.6,162.95 L22.1,162.17 L22.6,162.73 L23.1,163.46 L23.6,163.12 L24.1,162.65 L24.6,163.15 L25.1,162.91 L25.6,163.15 L26.1,162.05 L26.6,162.39 L27.1,163.19 L27.6,162.73 L28.1,163.03 L28.6,163.89 L29.1,162.68 L29.6,162.83 L30.1,162.54 L30.6,162.5 L31.1,162.8 L31.6,162.03 L32.1,161.65 L32.6,163.62 L33.1,162.78 L33.6,163.49 L34.1,162.74 L34.6,162.93 L35.1,163.24 L35.6,163.27 L36.1,162.11 L36.6,163.57 L37.1,162.25 L37.6,162.96 L38.1,164.41 L38.6,162.89 L39.1,163.87 L39.6,162.62 L40.1,163.22 L40.6,162.87 L41.1,163.1 L41.6,162.29 L42.1,162.25 L42.6,163.05 L43.1,160.18 L43.6,162.3 L44.1,163.25 L44.6,162.44 L45.1,162.27 L45.6,162.13 L46.1,162.93 L46.6,162.6 L47.1,163.82 L47.6,162.72 L48.1,164.01 L48.6,162.56 L49.1,161.6 L49.6,162.91 L50.1,162.84 L50.6,162.93 L51.1,161.84 L51.6,163.54 L52.1,162.82 L52.6,162.81 L53.1,161.88 L53.6,163.13 L54.1,162.8 L54.6,163.64 L55.1,162.59 L55.6,162.12 L56.1,162.92 L56.6,162.31 L57.1,163.08 L57.6,162.23 L58.1,162.77 L58.6,162.72 L59.1,162.83 L59.6,162.56 L60.1,162.41 L60.6,162.81 L61.1,162.54 L61.6,162.93 L62.1,162.71 L62.6,161.69 L63.1,162.82 L63.6,163.55 L64.1,163 L64.6,163.15 L65.1,163.07 L65.6,162.62 L66.1,161.71 L66.6,163.24 L67.1,163.35 L67.6,163.12 L68.1,163.05 L68.6,163.03 L69.1,162.84 L69.6,162.98 L70.1,162.86 L70.6,163 L71.1,162.45 L71.6,162.39 L72.1,163.1 L72.6,162.72 L73.1,161.86 L73.6,162.91 L74.1,161.93 L74.6,163.63 L75.1,163.15 L75.6,163.13 L76.1,162.6 L76.6,162.42 L77.1,162.78 L77.6,162.87 L78.1,162.57 L78.6,162.92 L79.1,163.12 L79.6,163.09 L80.1,162.48 L80.6,162.07 L81.1,162.87 L81.6,162.63 L82.1,163.03 L82.6,163.45 L83.1,163.45 L83.6,162.97 L84.1,163.26 L84.6,163.44 L85.1,162.88 L85.6,162.96 L86.1,163.16 L86.6,162.86 L87.1,162.7 L87.6,161.95 L88.1,162.87 L88.6,162.66 L89.1,163.14 L89.6,162.76 L90.1,163.36 L90.6,163.28 L91.1,162.46 L91.6,163.23 L92.1,162.74 L92.6,163.33 L93.1,163.04 L93.6,162.86 L94.1,163.09 L94.6,162.69 L95.1,162.98 L95.6,163 L96.1,162.83 L96.6,163 L97.1,162.55 L97.6,163.06 L98.1,162.48 L98.6,163.08 L99.1,163.03 L99.6,163.11 L100.1,162.69 L100.6,163.87 L101.1,162.8 L101.6,162.93 L102.1,162.63 L102.6,163.34 L103.1,162.72 L103.6,163.2 L104.1,162.57 L104.6,162.98 L105.1,162.76 L105.6,163.18 L106.1,162.78 L106.6,162.6 L107.1,163.03 L107.6,162.49 L108.1,162.56 L108.6,163.13 L109.1,162.26 L109.6,163.13 L110.1,162.75 L110.6,162.58 L111.1,162.96 L111.6,163.09 L112.1,162.69 L112.6,162.82 L113.1,163.15 L113.6,163.14 L114.1,162.87 L114.6,162.62 L115.1,162.56 L115.6,162.68 L116.1,163.12 L116.6,163.09 L117.1,162.99 L117.6,163.37 L118.1,162.78 L118.6,162.75 L119.1,162.75 L119.6,164.37 L120.1,162.14 L120.6,162.99 L121.1,163.05 L121.6,162.91 L122.1,163.75 L122.6,163.32 L123.1,163.18 L123.6,162.55 L124.1,163.08 L124.6,162.75 L125.1,162.91 L125.6,162.97 L126.1,162.7 L126.6,163.14 L127.1,163.53 L127.6,163.3 L128.1,162.98 L128.6,162.12 L129.1,163.33 L129.6,163.33 L130.1,162.81 L130.6,162.7 L131.1,163.16 L131.6,162.56 L132.1,163.22 L132.6,162.44 L133.1,162.51 L133.6,162.9 L134.1,162.28 L134.6,162.89 L135.1,163.12 L135.6,162.34 L136.1,163.29 L136.6,162.65 L137.1,163.13 L137.6,162.99 L138.1,162.7 L138.6,162.67 L139.1,162.16 L139.6,162.6 L140.1,162.56 L140.6,163.6 L141.1,163.33 L141.6,162.31 L142.1,163.24 L142.6,162.99 L143.1,162.73 L143.6,163.09 L144.1,163.23 L144.6,162.66 L145.1,162.78 L145.6,162.97 L146.1,162.49 L146.6,162.97 L147.1,162.86 L147.6,162.62 L148.1,162.55 L148.6,163.02 L149.1,163.25 L149.6,163.03 L150.1,162.55 L150.6,163.2 L151.1,162.97 L151.6,163.13 L152.1,163.36 L152.6,162.55 L153.1,162.84 L153.6,162.67 L154.1,162.56 L154.6,163.66 L155.1,162.53 L155.6,162.23 L156.1,163.06 L156.6,162.69 L157.1,163.32 L157.6,162.93 L158.1,163.24 L158.6,162.95 L159.1,163.04 L159.6,162.91 L160.1,162.82 L160.6,162.85 L161.1,163.08 L161.6,162.5 L162.1,162.9 L162.6,162.86 L163.1,162.73 L163.6,163.15 L164.1,162.46 L164.6,162.78 L165.1,163.55 L165.6,163.08 L166.1,162.74 L166.6,162.92 L167.1,163.03 L167.6,162.37 L168.1,163.05 L168.6,162.65" stroke="#000" stroke-width="2.2" fill="none" stroke-linejoin="round"/>
<path d="M14.1,163.79 L14.6,163.55 L15.1,163.24 L15.6,162.25 L16.1,163.6 L16.6,163.55 L17.1,163.36 L17.6,163.34 L18.1,162.94 L18.6,162.62 L19.1,163.49 L19.6,163.59 L20.1,162.34 L20.6,163.4 L21.1,163.04 L21.6,163.38 L22.1,163.05 L22.6,163.51 L23.1,163.46 L23.6,163.39 L24.1,162.16 L24.6,163.35 L25.1,162.93 L25.6,162.3 L26.1,163.29 L26.6,162.17 L27.1,163.39 L27.6,163.82 L28.1,162.64 L28.6,163.41 L29.1,163.15 L29.6,163.26 L30.1,162.18 L30.6,163.24 L31.1,162.98 L31.6,163.31 L32.1,162.92 L32.6,163.5 L33.1,163.06 L33.6,163.28 L34.1,163.65 L34.6,163.01 L35.1,163.45 L35.6,163.04 L36.1,163.2 L36.6,162.63 L37.1,163.33 L37.6,163.57 L38.1,162.87 L38.6,163.34 L39.1,163.15 L39.6,162.32 L40.1,163.11 L40.6,163.62 L41.1,162.66 L41.6,161.96 L42.1,163.03 L42.6,162.57 L43.1,163.93 L43.6,162.9 L44.1,162.92 L44.6,162.58 L45.1,163.05 L45.6,162.62 L46.1,162.44 L46.6,162.89 L47.1,162.49 L47.6,163.62 L48.1,162.3 L48.6,162.88 L49.1,162.55 L49.6,162.18 L50.1,163.81 L50.6,161.8 L51.1,163.69 L51.6,162.17 L52.1,162.97 L52.6,164.13 L53.1,161.78 L53.6,162.19 L54.1,163.62 L54.6,163.01 L55.1,162.63 L55.6,162.9 L56.1,162.41 L56.6,162.98 L57.1,163.72 L57.6,162.72 L58.1,162.99 L58.6,163.56 L59.1,163.98 L59.6,162.61 L60.1,163.08 L60.6,162.62 L61.1,162.58 L61.6,162.71 L62.1,162.58 L62.6,162 L63.1,161.86 L63.6,162.53 L64.1,162.99 L64.6,163.57 L65.1,162.64 L65.6,162.83 L66.1,163.27 L66.6,163.31 L67.1,162.86 L67.6,162.89 L68.1,163.92 L68.6,162.74 L69.1,162.66 L69.6,162.05 L70.1,163.15 L70.6,162.78 L71.1,163.94 L71.6,162.74" stroke="#000" stroke-width="1.0865032378591717" fill="none" stroke-linejoin="round"/>
<path d="M2.6,167.81 L3.1,167.85 L3.6,168.09 L4.1,167.1 L4.6,168.07 L5.1,167.55 L5.6,167.51 L6.1,167.44 L6.6,168.19 L7.1,167.42 L7.6,166.73 L8.1,166.38 L8.6,167.56 L9.1,167.21 L9.6,167.52 L10.1,168.36 L10.6,167.68 L11.1,167.4 L11.6,168.16 L12.1,167.25 L12.6,167.49 L13.1,167.34 L13.6,167.45 L14.1,167.82 L14.6,167.76 L15.1,167.26 L15.6,167.49 L16.1,167.58 L16.6,167.38 L17.1,167.53 L17.6,167.26 L18.1,167.25 L18.6,167.56 L19.1,167.12 L19.6,167.72 L20.1,167.46 L20.6,167.15 L21.1,167.28 L21.6,167.34 L22.1,167.47 L22.6,167.59 L23.1,167.45 L23.6,167.15 L24.1,168.19 L24.6,167.96 L25.1,167.6 L25.6,167.99 L26.1,167.7 L26.6,167.42 L27.1,167.59 L27.6,168.84 L28.1,168.03 L28.6,168.06 L29.1,167.35 L29.6,167.85 L30.1,168.7 L30.6,167.77 L31.1,168.1 L31.6,168.2 L32.1,167.89 L32.6,168.38 L33.1,167.67 L33.6,167.81 L34.1,167.21 L34.6,168.99 L35.1,167.71 L35.6,167.61 L36.1,168.32 L36.6,167.27 L37.1,167.54 L37.6,167.1 L38.1,167.56 L38.6,167.32 L39.1,167.86 L39.6,167.47 L40.1,167.2 L40.6,167.38 L41.1,167.48 L41.6,167.25 L42.1,168.1 L42.6,167.94 L43.1,167.63 L43.6,166.85 L44.1,167.85 L44.6,166.79 L45.1,167.66 L45.6,167.57 L46.1,167.2 L46.6,167.06 L47.1,167.15 L47.6,168.75 L48.1,167.39 L48.6,167.43 L49.1,168.1 L49.6,167.79 L50.1,168.16 L50.6,166.84 L51.1,166.92 L51.6,169.44 L52.1,167.52 L52.6,167.38 L53.1,166.44 L53.6,168.1 L54.1,166.89 L54.6,167.7 L55.1,167.53 L55.6,167.91 L56.1,167.36 L56.6,167.26 L57.1,167.09 L57.6,166.26 L58.1,168.05 L58.6,166.78 L59.1,167.34 L59.6,168.39 L60.1,167.33 L60.6,167.85 L61.1,168.24 L61.6,167.88 L62.1,167.56 L62.6,167.3 L63.1,168.18 L63.6,167.42 L64.1,166.92 L64.6,168.27 L65.1,167.79 L65.6,167.04 L66.1,167.89 L66.6,167.88 L67.1,168.47 L67.6,167.26 L68.1,167.82 L68.6,166.83 L69.1,167.37 L69.6,167.58 L70.1,167.71 L70.6,167.52 L71.1,167.5 L71.6,167.3 L72.1,167.36 L72.6,167.66 L73.1,167.76 L73.6,167.79 L74.1,167.92 L74.6,167.99 L75.1,166.86 L75.6,167.35 L76.1,167.48 L76.6,167.3 L77.1,167.92 L77.6,167.81 L78.1,167.5 L78.6,167.58 L79.1,167.99 L79.6,167.42 L80.1,167.43 L80.6,167.85 L81.1,167.7 L81.6,168.02 L82.1,168.69 L82.6,167.79 L83.1,167.36 L83.6,167.22 L84.1,167.54 L84.6,166.57 L85.1,167.67 L85.6,167.86 L86.1,167.56 L86.6,167.47 L87.1,167.89 L87.6,167.52 L88.1,167.86 L88.6,168.25 L89.1,167.77 L89.6,167.84 L90.1,167.7 L90.6,167.62 L91.1,167.63 L91.6,167.56 L92.1,167.88 L92.6,167.03 L93.1,167.45 L93.6,167.75 L94.1,167.27 L94.6,167.51 L95.1,167.32 L95.6,167.68 L96.1,167.81 L96.6,167.99 L97.1,167.7 L97.6,167.31 L98.1,167.62 L98.6,167.72 L99.1,167.98 L99.6,166.87 L100.1,167.65 L100.6,166.97 L101.1,167.76 L101.6,167.68 L102.1,167.7 L102.6,167.82 L103.1,167.66 L103.6,167.34 L104.1,167.65 L104.6,167.92 L105.1,167.5 L105.6,167.55 L106.1,167.22 L106.6,167.91 L107.1,167.38 L107.6,167.3 L108.1,167.4 L108.6,167.27 L109.1,167.46 L109.6,167.95 L110.1,167.79 L110.6,168 L111.1,168.02 L111.6,167.25 L112.1,167.69 L112.6,168.03 L113.1,168.29 L113.6,167.08 L114.1,167.07 L114.6,167.69 L115.1,167.43 L115.6,167.21 L116.1,167.67 L116.6,167.28 L117.1,166.78 L117.6,167.53 L118.1,167.58 L118.6,167.76 L119.1,167.86 L119.6,167.6 L120.1,167.46 L120.6,167.31 L121.1,166.96 L121.6,167.38 L122.1,167.89 L122.6,167.77 L123.1,168.27 L123.6,167.48 L124.1,166.89 L124.6,167.84 L125.1,167.92 L125.6,167.11 L126.1,166.94 L126.6,167.6 L127.1,167.81 L127.6,167.11 L128.1,167.41 L128.6,167.24 L129.1,167.08 L129.6,167.03 L130.1,167.59 L130.6,167.39 L131.1,167.27 L131.6,166.51 L132.1,168.23 L132.6,167.16 L133.1,167.48 L133.6,167.08 L134.1,167.69 L134.6,166.93 L135.1,167.58 L135.6,167.46 L136.1,167.91 L136.6,167.09 L137.1,167.27 L137.6,167.44 L138.1,168.4 L138.6,166.93 L139.1,167.66 L139.6,167.27 L140.1,167.66 L140.6,167.8 L141.1,167.59 L141.6,167.64 L142.1,167.65 L142.6,167.29 L143.1,167.45 L143.6,166.86 L144.1,167.39 L144.6,167.22 L145.1,167.43 L145.6,167.83 L146.1,167.69 L146.6,167.72 L147.1,167.97 L147.6,166.59 L148.1,167.7 L148.6,167.52 L149.1,167.5 L149.6,167.02 L150.1,167.75 L150.6,167.98 L151.1,167.93 L151.6,167.5 L152.1,167.78 L152.6,167.88 L153.1,168.22 L153.6,168.15 L154.1,167.59 L154.6,167.57 L155.1,167.59 L155.6,167.61 L156.1,167.35 L156.6,167.81 L157.1,167.28 L157.6,167.25 L158.1,167.66 L158.6,167.33 L159.1,167.45 L159.6,166.81 L160.1,167.81 L160.6,167.53 L161.1,167.49 L161.6,167.69 L162.1,167.6 L162.6,167.3 L163.1,168.2 L163.6,167.38 L164.1,167.85 L164.6,168.14 L165.1,167.33 L165.6,167.56 L166.1,167.26 L166.6,167.87 L167.1,167.42 L167.6,167.17 L168.1,167.96 L168.6,167.83" stroke="#000" stroke-width="2.156" fill="none" stroke-linejoin="round"/>
<path d="M14.1,167.82 L14.6,167.32 L15.1,168.06 L15.6,167.68 L16.1,168.08 L16.6,167.75 L17.1,167.85 L17.6,167.16 L18.1,167.31 L18.6,166.88 L19.1,167.37 L19.6,167.43 L20.1,167.93 L20.6,166.9 L21.1,169.11 L21.6,167.46 L22.1,168.14 L22.6,168.03 L23.1,166.28 L23.6,167.39 L24.1,168.24 L24.6,166.32 L25.1,167.9 L25.6,167.07 L26.1,167.29 L26.6,167.63 L27.1,166.6 L27.6,167.61 L28.1,167.2 L28.6,167.15 L29.1,167.86 L29.6,169.24 L30.1,167.69 L30.6,167.79 L31.1,167.49 L31.6,167.16 L32.1,167.64 L32.6,168.26 L33.1,167.61 L33.6,167.95 L34.1,167.4 L34.6,168.76 L35.1,166.7 L35.6,167.8 L36.1,167.78 L36.6,167.65 L37.1,166.97 L37.6,166.95 L38.1,167.4 L38.6,167.56 L39.1,166.92 L39.6,166.99 L40.1,167.79 L40.6,168.02 L41.1,167.24 L41.6,167.17 L42.1,167.16 L42.6,168.73 L43.1,167.75 L43.6,167.48 L44.1,168.01 L44.6,168.64 L45.1,168.09 L45.6,166.81 L46.1,167.47 L46.6,167.31 L47.1,167.34 L47.6,166.91 L48.1,167.32 L48.6,166.98 L49.1,167.68 L49.6,167.53 L50.1,166.81 L50.6,166.67 L51.1,167.27 L51.6,167.83 L52.1,167.75 L52.6,167.48 L53.1,165.88 L53.6,167.27 L54.1,167.15 L54.6,167.35 L55.1,166.91 L55.6,167.3 L56.1,167.18 L56.6,168.85 L57.1,167.86 L57.6,167.42 L58.1,167.49 L58.6,167.45 L59.1,167.6 L59.6,167.31 L60.1,167.5 L60.6,168.02 L61.1,167.92 L61.6,167.66 L62.1,168.17 L62.6,167.62 L63.1,167.03 L63.6,166.65 L64.1,167.17 L64.6,167.48 L65.1,167.71 L65.6,168.04 L66.1,167.23 L66.6,167.11 L67.1,167.89 L67.6,168.09 L68.1,167.27 L68.6,167.68 L69.1,168.19 L69.6,167.67 L70.1,167.48 L70.6,166.48 L71.1,168.16 L71.6,167.83" stroke="#000" stroke-width="0.9843232484958069" fill="none" stroke-linejoin="round"/>
<path d="M2.6,172.19 L3.1,172 L3.6,171.76 L4.1,173.62 L4.6,172.11 L5.1,172.5 L5.6,171.76 L6.1,172.61 L6.6,172.16 L7.1,172.53 L7.6,171.83 L8.1,172.26 L8.6,172.55 L9.1,172.18 L9.6,171.66 L10.1,172.04 L10.6,172.33 L11.1,171.68 L11.6,171.66 L12.1,172.23 L12.6,171.82 L13.1,172.38 L13.6,171.74 L14.1,171.5 L14.6,171.87 L15.1,172.68 L15.6,171.84 L16.1,173.07 L16.6,172.24 L17.1,171.8 L17.6,172.55 L18.1,172.21 L18.6,172.31 L19.1,171.51 L19.6,171.48 L20.1,171.08 L20.6,172.07 L21.1,172.05 L21.6,172.43 L22.1,172.74 L22.6,172.04 L23.1,172.04 L23.6,172.33 L24.1,172.78 L24.6,171.8 L25.1,172.41 L25.6,172.04 L26.1,172 L26.6,172.5 L27.1,171.8 L27.6,171.67 L28.1,172.44 L28.6,172.13 L29.1,172.02 L29.6,172.08 L30.1,172.37 L30.6,171.97 L31.1,172.5 L31.6,172.34 L32.1,172.85 L32.6,172.75 L33.1,172.56 L33.6,172.04 L34.1,172.2 L34.6,171.85 L35.1,173.56 L35.6,172.03 L36.1,172.42 L36.6,172.83 L37.1,171.45 L37.6,171.72 L38.1,171.94 L38.6,171.63 L39.1,171.48 L39.6,171.87 L40.1,172.82 L40.6,172.52 L41.1,172.16 L41.6,172.16 L42.1,171.26 L42.6,172.51 L43.1,172.37 L43.6,171.57 L44.1,172.25 L44.6,172.04 L45.1,171.87 L45.6,171.62 L46.1,171.78 L46.6,171.64 L47.1,172.39 L47.6,172.34 L48.1,172.31 L48.6,172.05 L49.1,171.93 L49.6,173.22 L50.1,171.17 L50.6,172.77 L51.1,172.33 L51.6,172.18 L52.1,171.88 L52.6,172.03 L53.1,171.54 L53.6,171.44 L54.1,172.09 L54.6,171.32 L55.1,172.56 L55.6,172.7 L56.1,170.46 L56.6,171.39 L57.1,172.28 L57.6,172.25 L58.1,172.2 L58.6,172.35 L59.1,172.5 L59.6,172.55 L60.1,172.97 L60.6,172.16 L61.1,172.54 L61.6,171.42 L62.1,171.61 L62.6,171.61 L63.1,172.76 L63.6,173.16 L64.1,172.38 L64.6,171.6 L65.1,172.1 L65.6,172.16 L66.1,172.23 L66.6,172.59 L67.1,171.95 L67.6,171.09 L68.1,172.69 L68.6,171.95 L69.1,171.93 L69.6,172.7 L70.1,172.05 L70.6,171.63 L71.1,171.65 L71.6,172.17 L72.1,172.49 L72.6,172.7 L73.1,172.09 L73.6,171.98 L74.1,172.73 L74.6,171.99 L75.1,172.67 L75.6,172.23 L76.1,172.23 L76.6,172.07 L77.1,172.25 L77.6,171.85 L78.1,171.92 L78.6,172.11 L79.1,171.94 L79.6,172.25 L80.1,172.18 L80.6,172.07 L81.1,172.09 L81.6,172.08 L82.1,172.72 L82.6,172.15 L83.1,171.83 L83.6,172.06 L84.1,172.36 L84.6,172.09 L85.1,172.11 L85.6,172.07 L86.1,172.2 L86.6,172.27 L87.1,172.29 L87.6,171.65 L88.1,171.93 L88.6,171.34 L89.1,172.4 L89.6,172.49 L90.1,172.55 L90.6,172.2 L91.1,172.07 L91.6,172.14 L92.1,172.12 L92.6,171.68 L93.1,171.92 L93.6,171.97 L94.1,172.43 L94.6,172.65 L95.1,172.01 L95.6,172.27 L96.1,172.24 L96.6,171.92 L97.1,171.63 L97.6,171.93 L98.1,171.72 L98.6,172.06 L99.1,172.11 L99.6,172.1 L100.1,172.1 L100.6,172.3 L101.1,171.87 L101.6,172.42 L102.1,171.65 L102.6,172.17 L103.1,172.27 L103.6,171.91 L104.1,171.67 L104.6,172.34 L105.1,171.95 L105.6,172.39 L106.1,172.38 L106.6,172.15 L107.1,172.72 L107.6,172.45 L108.1,172.27 L108.6,171.87 L109.1,172.2 L109.6,172.32 L110.1,172.21 L110.6,172.21 L111.1,172.11 L111.6,172.11 L112.1,171.86 L112.6,171.71 L113.1,172.5 L113.6,171.95 L114.1,172.22 L114.6,171.68 L115.1,172.2 L115.6,171.97 L116.1,173.09 L116.6,171.83 L117.1,171.84 L117.6,172.45 L118.1,172.52 L118.6,171.47 L119.1,172.23 L119.6,172.44 L120.1,171.75 L120.6,172.38 L121.1,171.98 L121.6,171.82 L122.1,172.03 L122.6,171.99 L123.1,171.68 L123.6,172.91 L124.1,171.99 L124.6,172.23 L125.1,172.45 L125.6,172.12 L126.1,172.62 L126.6,172.06 L127.1,172.27 L127.6,172.18 L128.1,172.21 L128.6,172.07 L129.1,172.17 L129.6,172.76 L130.1,171.9 L130.6,171.95 L131.1,172.02 L131.6,172.36 L132.1,172.3 L132.6,172.5 L133.1,171.65 L133.6,172.79 L134.1,172.08 L134.6,172.04 L135.1,172.21 L135.6,171.4 L136.1,172.25 L136.6,172.2 L137.1,171.61 L137.6,172.11 L138.1,172.74 L138.6,172 L139.1,172.38 L139.6,172.06 L140.1,171.84 L140.6,171.8 L141.1,172 L141.6,172.65 L142.1,172.46 L142.6,171.88 L143.1,172.53 L143.6,172.1 L144.1,171.89 L144.6,172.31 L145.1,171.81 L145.6,171.56 L146.1,172.63 L146.6,171.47 L147.1,172.35 L147.6,171.59 L148.1,172.14 L148.6,172.08 L149.1,171.99 L149.6,171.35 L150.1,172.11 L150.6,172.14 L151.1,171.83 L151.6,172.13 L152.1,172.5 L152.6,171.9 L153.1,172.24 L153.6,171.75 L154.1,171.38 L154.6,172.37 L155.1,173 L155.6,172.46 L156.1,172.3 L156.6,172.63 L157.1,171.82 L157.6,172.51 L158.1,171.97 L158.6,171.95 L159.1,172.51 L159.6,172.23 L160.1,172.58 L160.6,171.68 L161.1,172.24 L161.6,171.98 L162.1,172.07 L162.6,171.55 L163.1,172.45 L163.6,172.22 L164.1,171.84 L164.6,171.73 L165.1,171.88 L165.6,172.59 L166.1,172.12 L166.6,172.05 L167.1,172.31 L167.6,172.16 L168.1,172.22 L168.6,172.38" stroke="#000" stroke-width="1.98" fill="none" stroke-linejoin="round"/>
<path d="M14.1,172.83 L14.6,172.33 L15.1,172.37 L15.6,172.43 L16.1,172.62 L16.6,172.49 L17.1,172.28 L17.6,172.12 L18.1,171.53 L18.6,172.28 L19.1,172.06 L19.6,172.06 L20.1,173.16 L20.6,171.44 L21.1,172.21 L21.6,172.68 L22.1,172.58 L22.6,172.69 L23.1,171.68 L23.6,171.8 L24.1,172.44 L24.6,172.07 L25.1,172.88 L25.6,172.28 L26.1,172.27 L26.6,172.37 L27.1,172.08 L27.6,172.24 L28.1,171.92 L28.6,172.18 L29.1,172 L29.6,172.3 L30.1,171.62 L30.6,171.59 L31.1,172.38 L31.6,172.28 L32.1,171.8 L32.6,172.1 L33.1,171.77 L33.6,173.02 L34.1,171.56 L34.6,172.89 L35.1,171.86 L35.6,172.36 L36.1,172.09 L36.6,172.04 L37.1,172.57 L37.6,172.52 L38.1,172.08 L38.6,171.83 L39.1,173.03 L39.6,172.76 L40.1,172.25 L40.6,172.08 L41.1,172.31 L41.6,172.23 L42.1,172.68 L42.6,171.81 L43.1,172.2 L43.6,171.88 L44.1,172.72 L44.6,172.92 L45.1,172.16 L45.6,172.41 L46.1,172.76 L46.6,172.08 L47.1,171.82 L47.6,172.62 L48.1,172.4 L48.6,172.11 L49.1,172.79 L49.6,172.29 L50.1,171.48 L50.6,172.34 L51.1,172.17 L51.6,172.96 L52.1,172.19 L52.6,172.11 L53.1,172.37 L53.6,172.3 L54.1,171.63 L54.6,172.25 L55.1,172.06 L55.6,172.76 L56.1,173.17 L56.6,171.75 L57.1,171.81 L57.6,171.86 L58.1,171.93 L58.6,171.92 L59.1,172.22 L59.6,172.64 L60.1,171.67 L60.6,171.58 L61.1,171.45 L61.6,172.64 L62.1,172.73 L62.6,171.58 L63.1,171.54 L63.6,172.25 L64.1,172.64 L64.6,172.61 L65.1,172.28 L65.6,172.47 L66.1,172.33 L66.6,171.97 L67.1,172.97 L67.6,172.2 L68.1,171.75 L68.6,172.01 L69.1,171.58 L69.6,172.2 L70.1,172.64 L70.6,171.69 L71.1,172.65 L71.6,173.04" stroke="#000" stroke-width="0.8078880391227043" fill="none" stroke-linejoin="round"/>
<path d="M2.6,176.92 L3.1,176.49 L3.6,176.58 L4.1,176.72 L4.6,176.46 L5.1,176.47 L5.6,176.74 L6.1,176.77 L6.6,176.99 L7.1,176.48 L7.6,177.35 L8.1,177.12 L8.6,177.07 L9.1,176.63 L9.6,177.32 L10.1,176.72 L10.6,177.35 L11.1,177.13 L11.6,176.55 L12.1,176.68 L12.6,177.38 L13.1,177.12 L13.6,176.77 L14.1,176.88 L14.6,176.88 L15.1,176.58 L15.6,176.76 L16.1,176.61 L16.6,176.68 L17.1,176.97 L17.6,176.51 L18.1,177.06 L18.6,176.86 L19.1,177.07 L19.6,177.11 L20.1,177.24 L20.6,177.03 L21.1,177.06 L21.6,176.76 L22.1,177.02 L22.6,176.51 L23.1,176.74 L23.6,177.09 L24.1,176.81 L24.6,176.62 L25.1,176.44 L25.6,177.32 L26.1,176.61 L26.6,176.97 L27.1,176.82 L27.6,177.18 L28.1,176.68 L28.6,176.44 L29.1,176.1 L29.6,176.71 L30.1,176.36 L30.6,177.04 L31.1,177.4 L31.6,175.94 L32.1,176.31 L32.6,176.95 L33.1,177.33 L33.6,176.95 L34.1,176.96 L34.6,177.04 L35.1,177.07 L35.6,177.41 L36.1,177.09 L36.6,176.3 L37.1,176.63 L37.6,176.92 L38.1,176.48 L38.6,176.72 L39.1,176.6 L39.6,176.53 L40.1,177.13 L40.6,176.66 L41.1,176.35 L41.6,176.52 L42.1,176.85 L42.6,177.77 L43.1,176.95 L43.6,177.49 L44.1,177.05 L44.6,175.88 L45.1,177 L45.6,176.45 L46.1,176.23 L46.6,176.35 L47.1,177.62 L47.6,176.13 L48.1,176.56 L48.6,177.34 L49.1,177.12 L49.6,176.08 L50.1,176.78 L50.6,176.61 L51.1,176.75 L51.6,177.16 L52.1,176.58 L52.6,176.69 L53.1,177.45 L53.6,176.05 L54.1,176.67 L54.6,177.03 L55.1,176.31 L55.6,176.57 L56.1,175.88 L56.6,176.89 L57.1,176.57 L57.6,177.15 L58.1,177.24 L58.6,176.84 L59.1,176.68 L59.6,176.93 L60.1,176.85 L60.6,176.35 L61.1,177.24 L61.6,176.91 L62.1,177.12 L62.6,176.31 L63.1,177.15 L63.6,177.6 L64.1,177.05 L64.6,176.29 L65.1,176.84 L65.6,176.8 L66.1,176.9 L66.6,176.74 L67.1,176.99 L67.6,176.66 L68.1,176.9 L68.6,176.58 L69.1,176.85 L69.6,177.15 L70.1,176.66 L70.6,177.04 L71.1,176.53 L71.6,176.7 L72.1,176.74 L72.6,177.22 L73.1,176.57 L73.6,177.2 L74.1,176.36 L74.6,176.77 L75.1,177.1 L75.6,177.03 L76.1,176.51 L76.6,176.44 L77.1,177.08 L77.6,176.43 L78.1,176.99 L78.6,176.66 L79.1,176.81 L79.6,177.5 L80.1,177.27 L80.6,177.06 L81.1,176.41 L81.6,176.91 L82.1,176.83 L82.6,176.79 L83.1,177.2 L83.6,176.32 L84.1,176.9 L84.6,176.85 L85.1,176.6 L85.6,177.3 L86.1,176.46 L86.6,176.82 L87.1,176.84 L87.6,176.2 L88.1,176.41 L88.6,176.54 L89.1,177.03 L89.6,177.08 L90.1,176.98 L90.6,176.88 L91.1,176.2 L91.6,176.87 L92.1,176.67 L92.6,177.13 L93.1,177.18 L93.6,177.43 L94.1,177.01 L94.6,177.04 L95.1,176.53 L95.6,176.83 L96.1,176.47 L96.6,177.06 L97.1,176.48 L97.6,176.75 L98.1,176.59 L98.6,176.68 L99.1,176.94 L99.6,176.66 L100.1,176.87 L100.6,176.54 L101.1,177.19 L101.6,176.63 L102.1,177.09 L102.6,177.4 L103.1,176.14 L103.6,176.54 L104.1,176.75 L104.6,177.13 L105.1,176.68 L105.6,176.91 L106.1,176.61 L106.6,176.97 L107.1,176.48 L107.6,177.04 L108.1,175.98 L108.6,176.29 L109.1,177.32 L109.6,176.86 L110.1,176.56 L110.6,177.43 L111.1,177.1 L111.6,177.13 L112.1,176.69 L112.6,176.99 L113.1,176.95 L113.6,176.34 L114.1,176.98 L114.6,176.76 L115.1,177.18 L115.6,177.19 L116.1,176.62 L116.6,176.64 L117.1,176.87 L117.6,177 L118.1,176.69 L118.6,176.78 L119.1,176.99 L119.6,176.94 L120.1,177.16 L120.6,176.88 L121.1,176.54 L121.6,176.28 L122.1,177.06 L122.6,176.71 L123.1,176.7 L123.6,176.72 L124.1,176.33 L124.6,176.48 L125.1,176 L125.6,176.68 L126.1,176.53 L126.6,177.39 L127.1,176.95 L127.6,176.74 L128.1,176.86 L128.6,177.05 L129.1,176.57 L129.6,176.74 L130.1,176.7 L130.6,177.63 L131.1,176.84 L131.6,176.16 L132.1,177.08 L132.6,177.67 L133.1,176.49 L133.6,177.98 L134.1,176.79 L134.6,177.15 L135.1,176.62 L135.6,176.72 L136.1,176.39 L136.6,176.45 L137.1,176.08 L137.6,177.2 L138.1,176.42 L138.6,176.94 L139.1,176.92 L139.6,176.59 L140.1,176.83 L140.6,176.78 L141.1,176.64 L141.6,176.83 L142.1,176.83 L142.6,176.46 L143.1,176.37 L143.6,176.52 L144.1,176.85 L144.6,177.28 L145.1,177.31 L145.6,176.92 L146.1,177.13 L146.6,176.85 L147.1,177.18 L147.6,176.85 L148.1,176.94 L148.6,176.71 L149.1,176.81 L149.6,177.43 L150.1,176.42 L150.6,176.81 L151.1,176.62 L151.6,177.12 L152.1,177.39 L152.6,176.71 L153.1,175.92 L153.6,177 L154.1,177 L154.6,176.28 L155.1,176.73 L155.6,176.79 L156.1,176.09 L156.6,177.02 L157.1,176.94 L157.6,177.9 L158.1,176.48 L158.6,176.59 L159.1,176.61 L159.6,176.95 L160.1,176.51 L160.6,177.25 L161.1,176.92 L161.6,176.16 L162.1,177.31 L162.6,176.85 L163.1,177 L163.6,176.84 L164.1,176.27 L164.6,175.76 L165.1,176.09 L165.6,176.51 L166.1,177.2 L166.6,177.17 L167.1,176.71 L167.6,176.53 L168.1,176.72 L168.6,176.79" stroke="#000" stroke-width="1.76" fill="none" stroke-linejoin="round"/>
<path d="M14.1,177.02 L14.6,176.59 L15.1,176.82 L15.6,176.78 L16.1,176.95 L16.6,176.73 L17.1,176.75 L17.6,176.53 L18.1,176.9 L18.6,176.5 L19.1,177.32 L19.6,176.78 L20.1,176.72 L20.6,177.03 L21.1,176.76 L21.6,176.82 L22.1,176.77 L22.6,176.57 L23.1,176.51 L23.6,176.57 L24.1,177.14 L24.6,176.6 L25.1,176.67 L25.6,176.65 L26.1,177 L26.6,177.4 L27.1,176.51 L27.6,176.96 L28.1,176.83 L28.6,176.7 L29.1,176.95 L29.6,176.4 L30.1,177.05 L30.6,176.86 L31.1,176.48 L31.6,177.28 L32.1,177.05 L32.6,177.15 L33.1,176.34 L33.6,176.71 L34.1,176.63 L34.6,176.98 L35.1,177.21 L35.6,176.2 L36.1,176.8 L36.6,176.75 L37.1,177.1 L37.6,176.78 L38.1,176.4 L38.6,176.73 L39.1,176.47 L39.6,176.55 L40.1,176.8 L40.6,176.64 L41.1,176.88 L41.6,176.32 L42.1,177.5 L42.6,177.18 L43.1,177.01 L43.6,176.39 L44.1,176.13 L44.6,176.52 L45.1,176.72 L45.6,177.48 L46.1,177.19 L46.6,176.63 L47.1,177.16 L47.6,177.17 L48.1,176.79 L48.6,177.16 L49.1,176.89 L49.6,176.59 L50.1,176.43 L50.6,176.75 L51.1,177.1 L51.6,176.37 L52.1,176.3 L52.6,176.96 L53.1,175.96 L53.6,177.35 L54.1,176.65 L54.6,177.01 L55.1,177.36 L55.6,176.34 L56.1,176.47 L56.6,177.48 L57.1,176.7 L57.6,176.75 L58.1,176.86 L58.6,177.11 L59.1,177.2 L59.6,176.82 L60.1,176.69 L60.6,176.78 L61.1,176.88 L61.6,177.19 L62.1,176.83 L62.6,177.35 L63.1,176.53 L63.6,176.95 L64.1,177.33 L64.6,177.19 L65.1,176.89 L65.6,176.52 L66.1,176.57 L66.6,176.74 L67.1,176.89 L67.6,176.71 L68.1,176.34 L68.6,176.56 L69.1,176.95 L69.6,177.05 L70.1,176.36 L70.6,176.68 L71.1,176.28 L71.6,176.62" stroke="#000" stroke-width="0.6007189495758563" fill="none" stroke-linejoin="round"/>
<path d="M2.6,182.31 L3.1,181.44 L3.6,181.33 L4.1,181.27 L4.6,182.05 L5.1,180.95 L5.6,181.41 L6.1,181.35 L6.6,181.8 L7.1,181 L7.6,181.53 L8.1,181.77 L8.6,180.91 L9.1,181.59 L9.6,181 L10.1,181.56 L10.6,181.81 L11.1,181.42 L11.6,181.5 L12.1,181.24 L12.6,181.5 L13.1,181.72 L13.6,181.37 L14.1,181.38 L14.6,181.53 L15.1,181.64 L15.6,180.97 L16.1,182.37 L16.6,181.23 L17.1,181.56 L17.6,181.71 L18.1,181.51 L18.6,181.79 L19.1,181.14 L19.6,181.3 L20.1,181.13 L20.6,181.44 L21.1,181.45 L21.6,181.36 L22.1,181.06 L22.6,181.4 L23.1,181.29 L23.6,181.6 L24.1,181.34 L24.6,181.78 L25.1,181.49 L25.6,180.84 L26.1,181.37 L26.6,180.97 L27.1,181.73 L27.6,181.88 L28.1,181.41 L28.6,181.56 L29.1,180.95 L29.6,180.69 L30.1,181.24 L30.6,181.34 L31.1,180.92 L31.6,181.45 L32.1,181.53 L32.6,181.64 L33.1,181.95 L33.6,181.7 L34.1,181.29 L34.6,181.46 L35.1,181.63 L35.6,181.06 L36.1,181.89 L36.6,181.74 L37.1,181.34 L37.6,181.19 L38.1,182.78 L38.6,181.72 L39.1,181.76 L39.6,182.07 L40.1,181.77 L40.6,181.5 L41.1,181.68 L41.6,181.09 L42.1,181.68 L42.6,180.86 L43.1,181.58 L43.6,181.62 L44.1,180.85 L44.6,182.12 L45.1,181 L45.6,181.8 L46.1,181.23 L46.6,181.54 L47.1,181.18 L47.6,182.33 L48.1,181.8 L48.6,182.27 L49.1,181.71 L49.6,181.68 L50.1,181.48 L50.6,181.34 L51.1,181.64 L51.6,181.48 L52.1,181.13 L52.6,180.94 L53.1,181.32 L53.6,181.64 L54.1,181.26 L54.6,181.55 L55.1,181.38 L55.6,181.07 L56.1,181.12 L56.6,181.17 L57.1,181.03 L57.6,181.34 L58.1,181.8 L58.6,181.06 L59.1,180.75 L59.6,181.65 L60.1,181.28 L60.6,181.39 L61.1,182.26 L61.6,181.9 L62.1,181.62 L62.6,181.73 L63.1,181.47 L63.6,181.73 L64.1,181.24 L64.6,181.21 L65.1,181.28 L65.6,181.91 L66.1,181.9 L66.6,181.25 L67.1,181.35 L67.6,181.38 L68.1,181.75 L68.6,181.34 L69.1,181.71 L69.6,181.4 L70.1,181.35 L70.6,181.42 L71.1,181.47 L71.6,181.26 L72.1,181.04 L72.6,181.9 L73.1,181.32 L73.6,180.92 L74.1,180.8 L74.6,180.66 L75.1,181.26 L75.6,181.8 L76.1,180.99 L76.6,181.34 L77.1,180.94 L77.6,181.72 L78.1,181.53 L78.6,181.52 L79.1,181.79 L79.6,181.86 L80.1,181.7 L80.6,181.28 L81.1,181.08 L81.6,181.16 L82.1,180.98 L82.6,181.9 L83.1,181.38 L83.6,181.46 L84.1,181.48 L84.6,181.95 L85.1,181.29 L85.6,181.73 L86.1,181.51 L86.6,181.39 L87.1,180.94 L87.6,181.66 L88.1,181.24 L88.6,181.31 L89.1,181.49 L89.6,181.45 L90.1,181.71 L90.6,181.26 L91.1,181.47 L91.6,181.5 L92.1,181.44 L92.6,181.6 L93.1,181.37 L93.6,181.73 L94.1,181.25 L94.6,181.07 L95.1,181.42 L95.6,181.72 L96.1,181.3 L96.6,181.27 L97.1,181.34 L97.6,181.47 L98.1,181.39 L98.6,181.51 L99.1,181 L99.6,181.8 L100.1,181.57 L100.6,181.22 L101.1,181.77 L101.6,181.54 L102.1,181.79 L102.6,181.14 L103.1,181.12 L103.6,181.44 L104.1,180.92 L104.6,181.62 L105.1,181.36 L105.6,181.18 L106.1,181.38 L106.6,180.95 L107.1,181.58 L107.6,181.38 L108.1,181.36 L108.6,181.78 L109.1,181.44 L109.6,181.26 L110.1,181.19 L110.6,181.42 L111.1,181.7 L111.6,181.28 L112.1,181.17 L112.6,180.15 L113.1,181.45 L113.6,181.42 L114.1,181.96 L114.6,181.12 L115.1,181.48 L115.6,180.98 L116.1,181.35 L116.6,181.58 L117.1,181.72 L117.6,181.1 L118.1,181.65 L118.6,181.63 L119.1,181.4 L119.6,182.08 L120.1,181.43 L120.6,181.2 L121.1,181.54 L121.6,180.94 L122.1,181.85 L122.6,181.69 L123.1,181.32 L123.6,181.72 L124.1,181.58 L124.6,181.96 L125.1,181.26 L125.6,181.08 L126.1,180.87 L126.6,181.35 L127.1,181 L127.6,181.38 L128.1,181.55 L128.6,181.31 L129.1,181.17 L129.6,181.77 L130.1,181.38 L130.6,181.5 L131.1,181.35 L131.6,181.06 L132.1,181.17 L132.6,182.14 L133.1,181.39 L133.6,181.13 L134.1,181.36 L134.6,181.27 L135.1,181.08 L135.6,181.31 L136.1,181.43 L136.6,181.43 L137.1,181.59 L137.6,180.93 L138.1,181 L138.6,181.66 L139.1,181.3 L139.6,181.79 L140.1,181.52 L140.6,181.02 L141.1,181.59 L141.6,180.97 L142.1,181.51 L142.6,181.79 L143.1,182.04 L143.6,181.41 L144.1,181.63 L144.6,181.52 L145.1,181.66 L145.6,180.7 L146.1,181.32 L146.6,181.51 L147.1,181.57 L147.6,181.22 L148.1,181.67 L148.6,181.74 L149.1,181.45 L149.6,181.37 L150.1,181.33 L150.6,181.47 L151.1,181.76 L151.6,181.85 L152.1,181.3 L152.6,181.17 L153.1,181.21 L153.6,181.7 L154.1,181.49 L154.6,181.51 L155.1,181.56 L155.6,181.53 L156.1,181.4 L156.6,181.15 L157.1,181.27 L157.6,181.46 L158.1,181.53 L158.6,181.33 L159.1,181.32 L159.6,181.79 L160.1,181.31 L160.6,181.49 L161.1,181.35 L161.6,181.21 L162.1,181.04 L162.6,181.29 L163.1,181.22 L163.6,181.65 L164.1,181.14 L164.6,181.33 L165.1,181.6 L165.6,181.4 L166.1,181.56 L166.6,181.64 L167.1,181.01 L167.6,181.33 L168.1,181.19 L168.6,181.77" stroke="#000" stroke-width="1.496" fill="none" stroke-linejoin="round"/>
<path d="M14.1,181.76 L14.6,181.54 L15.1,181.28 L15.6,181.54 L16.1,181.12 L16.6,181.63 L17.1,181.47 L17.6,181.38 L18.1,181.54 L18.6,181.71 L19.1,181.33 L19.6,181.22 L20.1,181.84 L20.6,181.42 L21.1,181.72 L21.6,181.29 L22.1,181.5 L22.6,181.29 L23.1,181.55 L23.6,181.37 L24.1,181.29 L24.6,181.73 L25.1,181.49 L25.6,181.01 L26.1,181.37 L26.6,181.24 L27.1,181.18 L27.6,181.3 L28.1,181.33 L28.6,181.43 L29.1,181.26 L29.6,181.05 L30.1,181.31 L30.6,181.6 L31.1,181.15 L31.6,181.54 L32.1,181.51 L32.6,181.33 L33.1,181.48 L33.6,181.27 L34.1,181.34 L34.6,181.22 L35.1,181.51 L35.6,181.7 L36.1,181.28 L36.6,181.66 L37.1,180.99 L37.6,181.24 L38.1,181.22 L38.6,181.77 L39.1,181.3 L39.6,181.58 L40.1,181.01 L40.6,181.44 L41.1,181.53 L41.6,181.41 L42.1,180.87 L42.6,181.46 L43.1,181.58 L43.6,181.69 L44.1,181.5 L44.6,181.08 L45.1,181.38 L45.6,181.6 L46.1,181.26 L46.6,181.53 L47.1,181.32 L47.6,181.44 L48.1,181.57 L48.6,181.28 L49.1,182 L49.6,181.45 L50.1,181.49 L50.6,181.27 L51.1,181.43 L51.6,181.37 L52.1,181.13 L52.6,181.11 L53.1,181.48 L53.6,181.4 L54.1,180.89 L54.6,180.99 L55.1,181.36 L55.6,181.41 L56.1,181.54 L56.6,181.17 L57.1,181.54 L57.6,181.36 L58.1,181.32 L58.6,181.39 L59.1,181.62 L59.6,181.53 L60.1,181.6 L60.6,181.28 L61.1,181.36 L61.6,181.18 L62.1,181.31 L62.6,181.34 L63.1,181.33 L63.6,181.56 L64.1,181.51 L64.6,181.57 L65.1,181.45 L65.6,181.64 L66.1,181.44 L66.6,181.62 L67.1,181.52 L67.6,181.57 L68.1,181.41 L68.6,181.17 L69.1,181.13 L69.6,181.82 L70.1,181.5 L70.6,181.51 L71.1,181.39 L71.6,181.33" stroke="#000" stroke-width="0.4046673852885866" fill="none" stroke-linejoin="round"/>
<path d="M2.6,186.68 L3.1,185.8 L3.6,185.01 L4.1,186.04 L4.6,185.8 L5.1,185.77 L5.6,185.89 L6.1,185.97 L6.6,185.94 L7.1,186.23 L7.6,185.79 L8.1,186.14 L8.6,186.38 L9.1,186.25 L9.6,185.79 L10.1,185.38 L10.6,186.24 L11.1,186.16 L11.6,185.92 L12.1,186.34 L12.6,185.96 L13.1,186.07 L13.6,185.81 L14.1,186.12 L14.6,185.95 L15.1,185.93 L15.6,186.3 L16.1,186.1 L16.6,185.7 L17.1,186.21 L17.6,186.25 L18.1,185.85 L18.6,185.96 L19.1,186.06 L19.6,185.99 L20.1,186.08 L20.6,186.21 L21.1,185.93 L21.6,186.56 L22.1,185.87 L22.6,185.92 L23.1,186.54 L23.6,186.65 L24.1,186.06 L24.6,186 L25.1,185.78 L25.6,186.34 L26.1,186.09 L26.6,185.83 L27.1,186.16 L27.6,186.41 L28.1,186.23 L28.6,186.63 L29.1,186.36 L29.6,186.17 L30.1,186.04 L30.6,186.2 L31.1,186.38 L31.6,186.28 L32.1,186.34 L32.6,186.11 L33.1,186.26 L33.6,186.38 L34.1,186 L34.6,185.69 L35.1,186.53 L35.6,186.21 L36.1,185.93 L36.6,186.12 L37.1,185.98 L37.6,185.57 L38.1,185.33 L38.6,185.65 L39.1,186.11 L39.6,186.02 L40.1,186.37 L40.6,186.02 L41.1,186.16 L41.6,185.96 L42.1,185.94 L42.6,185.65 L43.1,186.33 L43.6,186.1 L44.1,185.88 L44.6,186.11 L45.1,185.93 L45.6,185.84 L46.1,186.12 L46.6,186.4 L47.1,185.97 L47.6,185.64 L48.1,185.87 L48.6,186.56 L49.1,185.82 L49.6,186.39 L50.1,185.98 L50.6,186.26 L51.1,186.02 L51.6,185.75 L52.1,185.93 L52.6,186.64 L53.1,186.01 L53.6,186.21 L54.1,185.96 L54.6,186.01 L55.1,186.14 L55.6,186.18 L56.1,186.66 L56.6,186.05 L57.1,186 L57.6,185.87 L58.1,185.7 L58.6,185.62 L59.1,186.23 L59.6,185.55 L60.1,186.42 L60.6,186.28 L61.1,185.97 L61.6,185.75 L62.1,186.06 L62.6,186.06 L63.1,186.34 L63.6,185.86 L64.1,185.95 L64.6,186.04 L65.1,185.98 L65.6,185.89 L66.1,185.62 L66.6,185.64 L67.1,185.88 L67.6,186 L68.1,186.3 L68.6,186.62 L69.1,186.47 L69.6,186.15 L70.1,186.51 L70.6,186.02 L71.1,185.92 L71.6,186.6 L72.1,185.8 L72.6,185.95 L73.1,185.99 L73.6,186.39 L74.1,185.91 L74.6,186.23 L75.1,185.96 L75.6,185.77 L76.1,186.11 L76.6,186.09 L77.1,185.79 L77.6,185.85 L78.1,185.87 L78.6,186.27 L79.1,186.16 L79.6,186.1 L80.1,186.16 L80.6,185.94 L81.1,186.16 L81.6,185.92 L82.1,185.75 L82.6,185.89 L83.1,186.1 L83.6,186.07 L84.1,186.29 L84.6,185.68 L85.1,186 L85.6,185.59 L86.1,185.84 L86.6,186.11 L87.1,185.96 L87.6,185.8 L88.1,186.3 L88.6,185.75 L89.1,186.27 L89.6,185.96 L90.1,185.85 L90.6,185.86 L91.1,185.89 L91.6,185.87 L92.1,186.11 L92.6,185.26 L93.1,186.32 L93.6,186.23 L94.1,186.35 L94.6,185.84 L95.1,185.55 L95.6,185.92 L96.1,186.02 L96.6,186.12 L97.1,185.94 L97.6,186.03 L98.1,186.08 L98.6,185.72 L99.1,186.44 L99.6,185.81 L100.1,186.11 L100.6,186.29 L101.1,185.88 L101.6,186.05 L102.1,186.41 L102.6,185.99 L103.1,186.28 L103.6,186.12 L104.1,186.1 L104.6,186.21 L105.1,186 L105.6,186.01 L106.1,186.26 L106.6,186.11 L107.1,186.16 L107.6,185.79 L108.1,186.06 L108.6,186.32 L109.1,186.25 L109.6,186.13 L110.1,185.94 L110.6,185.92 L111.1,186.15 L111.6,186.36 L112.1,186.06 L112.6,186.34 L113.1,185.99 L113.6,186.32 L114.1,185.83 L114.6,186.09 L115.1,185.82 L115.6,186.2 L116.1,186.18 L116.6,185.84 L117.1,185.89 L117.6,185.95 L118.1,185.72 L118.6,185.85 L119.1,185.86 L119.6,186.23 L120.1,186.37 L120.6,185.95 L121.1,185.99 L121.6,186.1 L122.1,185.93 L122.6,185.99 L123.1,186.25 L123.6,185.92 L124.1,186.03 L124.6,185.92 L125.1,186.39 L125.6,185.91 L126.1,186.08 L126.6,185.81 L127.1,185.91 L127.6,186.08 L128.1,185.96 L128.6,186.18 L129.1,186.07 L129.6,185.73 L130.1,185.51 L130.6,186.29 L131.1,185.91 L131.6,186.41 L132.1,186.06 L132.6,185.87 L133.1,186.19 L133.6,185.99 L134.1,186.06 L134.6,185.83 L135.1,186.21 L135.6,186.32 L136.1,185.93 L136.6,186.48 L137.1,185.92 L137.6,186.11 L138.1,185.66 L138.6,185.59 L139.1,186.56 L139.6,186.4 L140.1,186.33 L140.6,185.64 L141.1,186.11 L141.6,186.16 L142.1,186.07 L142.6,186.13 L143.1,185.83 L143.6,186.01 L144.1,185.78 L144.6,185.97 L145.1,186.14 L145.6,185.86 L146.1,185.99 L146.6,185.95 L147.1,186.06 L147.6,186.27 L148.1,186.11 L148.6,186.15 L149.1,185.71 L149.6,185.97 L150.1,186.25 L150.6,185.85 L151.1,185.95 L151.6,185.83 L152.1,186.37 L152.6,185.95 L153.1,185.88 L153.6,186.2 L154.1,186.31 L154.6,186.17 L155.1,186.28 L155.6,186.1 L156.1,186.02 L156.6,185.95 L157.1,185.94 L157.6,185.92 L158.1,186.14 L158.6,186.03 L159.1,186.07 L159.6,186.19 L160.1,186.04 L160.6,185.74 L161.1,185.87 L161.6,185.8 L162.1,185.63 L162.6,186.08 L163.1,185.78 L163.6,185.77 L164.1,185.81 L164.6,186.25 L165.1,185.98 L165.6,186.27 L166.1,186.03 L166.6,185.96 L167.1,186.18 L167.6,186.18 L168.1,186.08 L168.6,185.82" stroke="#000" stroke-width="1.232" fill="none" stroke-linejoin="round"/>
<path d="M2.6,190.73 L3.1,190.83 L3.6,190.83 L4.1,190.88 L4.6,190.72 L5.1,190.56 L5.6,190.35 L6.1,190.6 L6.6,190.51 L7.1,190.3 L7.6,191.01 L8.1,190.3 L8.6,190.75 L9.1,190.79 L9.6,190.63 L10.1,191.21 L10.6,190.68 L11.1,190.52 L11.6,191.04 L12.1,190.51 L12.6,190.37 L13.1,190.46 L13.6,190.54 L14.1,190.68 L14.6,190.75 L15.1,190.35 L15.6,190.75 L16.1,191.15 L16.6,190.52 L17.1,190.65 L17.6,190.82 L18.1,190.93 L18.6,190.53 L19.1,190.47 L19.6,190.46 L20.1,190.91 L20.6,190.87 L21.1,190.2 L21.6,190.21 L22.1,190.4 L22.6,190.34 L23.1,190.77 L23.6,190.72 L24.1,191.11 L24.6,190.85 L25.1,190.7 L25.6,190.94 L26.1,190.47 L26.6,190.36 L27.1,190.68 L27.6,190.89 L28.1,190.31 L28.6,190.88 L29.1,190.87 L29.6,190.56 L30.1,190.71 L30.6,190.61 L31.1,190.69 L31.6,190.86 L32.1,190.49 L32.6,190.92 L33.1,190.88 L33.6,190.89 L34.1,190.21 L34.6,190.23 L35.1,190.84 L35.6,190.54 L36.1,190.51 L36.6,190.49 L37.1,190.35 L37.6,190.61 L38.1,190.5 L38.6,190.52 L39.1,190.79 L39.6,190.39 L40.1,190.95 L40.6,190.14 L41.1,191.28 L41.6,190.34 L42.1,190.82 L42.6,190.9 L43.1,190.85 L43.6,190.86 L44.1,190.65 L44.6,190.25 L45.1,190.76 L45.6,190.95 L46.1,190.54 L46.6,190.26 L47.1,190.53 L47.6,190.75 L48.1,190.75 L48.6,190.94 L49.1,190.81 L49.6,190.8 L50.1,190.19 L50.6,191.21 L51.1,190.69 L51.6,190.88 L52.1,190.59 L52.6,190.64 L53.1,190.03 L53.6,191.05 L54.1,191.04 L54.6,190.82 L55.1,191.15 L55.6,190.58 L56.1,190.8 L56.6,190.57 L57.1,190.98 L57.6,190.68 L58.1,190.91 L58.6,191.08 L59.1,190.19 L59.6,191.18 L60.1,190.75 L60.6,190.6 L61.1,190.23 L61.6,190.61 L62.1,190.15 L62.6,190.7 L63.1,190.64 L63.6,191.09 L64.1,190.6 L64.6,190.92 L65.1,190.94 L65.6,191.14 L66.1,190.62 L66.6,190.85 L67.1,190.34 L67.6,190.43 L68.1,189.39 L68.6,190.67 L69.1,190.41 L69.6,190.59 L70.1,190.83 L70.6,190.58 L71.1,190.89 L71.6,190.48 L72.1,190.98 L72.6,191.06 L73.1,190.72 L73.6,190.65 L74.1,191.04 L74.6,190.78 L75.1,190.53 L75.6,190.39 L76.1,190.55 L76.6,191.15 L77.1,190.55 L77.6,191.29 L78.1,190.68 L78.6,190.63 L79.1,190.96 L79.6,190.63 L80.1,190.76 L80.6,190.46 L81.1,190.42 L81.6,190.52 L82.1,190.73 L82.6,190.27 L83.1,190.27 L83.6,190.78 L84.1,190.64 L84.6,190.62 L85.1,190.55 L85.6,190.21 L86.1,191.01 L86.6,190.58 L87.1,190.79 L87.6,190.97 L88.1,190.91 L88.6,190.72 L89.1,190.68 L89.6,190.74 L90.1,190.87 L90.6,190.8 L91.1,190.59 L91.6,190.77 L92.1,190.76 L92.6,190.82 L93.1,190.72 L93.6,190.96 L94.1,190.72 L94.6,190.86 L95.1,190.69 L95.6,190.56 L96.1,190.48 L96.6,190.65 L97.1,190.79 L97.6,190.94 L98.1,190.66 L98.6,190.57 L99.1,190.58 L99.6,190.95 L100.1,190.7 L100.6,190.58 L101.1,190.83 L101.6,190.41 L102.1,190.7 L102.6,190.67 L103.1,190.65 L103.6,190.44 L104.1,190.88 L104.6,191.03 L105.1,190.41 L105.6,190.7 L106.1,190.81 L106.6,191.15 L107.1,190.59 L107.6,190.48 L108.1,190.68 L108.6,191.1 L109.1,190.69 L109.6,190.73 L110.1,191.05 L110.6,190.24 L111.1,190.23 L111.6,190.87 L112.1,190.84 L112.6,190.39 L113.1,190.79 L113.6,190.69 L114.1,190.73 L114.6,190.51 L115.1,190.59 L115.6,191.21 L116.1,190.69 L116.6,190.63 L117.1,191.03 L117.6,190.81 L118.1,190.35 L118.6,190.77 L119.1,190.98 L119.6,190.74 L120.1,190.91 L120.6,190.67 L121.1,190.83 L121.6,190.48 L122.1,190.85 L122.6,190.39 L123.1,190.95 L123.6,190.36 L124.1,190.23 L124.6,190.79 L125.1,190.64 L125.6,190.7 L126.1,190.77 L126.6,190.67 L127.1,190.49 L127.6,190.73 L128.1,190.75 L128.6,190.79 L129.1,191.11 L129.6,190.52 L130.1,190.69 L130.6,190.8 L131.1,190.58 L131.6,190.42 L132.1,190.56 L132.6,190.91 L133.1,190.2 L133.6,190.81 L134.1,190.52 L134.6,190.78 L135.1,190.53 L135.6,190.5 L136.1,190.7 L136.6,190.69 L137.1,191 L137.6,190.32 L138.1,190.79 L138.6,191.03 L139.1,190.98 L139.6,190.6 L140.1,190.53 L140.6,190.57 L141.1,190.75 L141.6,190.72 L142.1,190.76 L142.6,190.81 L143.1,190.44 L143.6,190.43 L144.1,190.41 L144.6,190.39 L145.1,190.66 L145.6,190.75 L146.1,191.23 L146.6,190.8 L147.1,190.68 L147.6,190.99 L148.1,190.52 L148.6,190.75 L149.1,190.89 L149.6,190.85 L150.1,190.77 L150.6,190.6 L151.1,190.41 L151.6,190.65 L152.1,190.55 L152.6,190.83 L153.1,190.65 L153.6,190.8 L154.1,190.34 L154.6,190.89 L155.1,190.5 L155.6,190.35 L156.1,190.39 L156.6,190.55 L157.1,190.92 L157.6,190.83 L158.1,190.43 L158.6,190.7 L159.1,190.66 L159.6,190.35 L160.1,190.47 L160.6,190.25 L161.1,190.5 L161.6,190.12 L162.1,190.51 L162.6,190.48 L163.1,190.51 L163.6,190.51 L164.1,190.92 L164.6,190.61 L165.1,190.73 L165.6,190.84 L166.1,191.39 L166.6,190.82 L167.1,190.57 L167.6,190.45 L168.1,190.52 L168.6,189.86" stroke="#000" stroke-width="1.056" fill="none" stroke-linejoin="round"/>
<path d="M2.6,195.36 L3.1,195.33 L3.6,195.4 L4.1,195.13 L4.6,195.29 L5.1,195.15 L5.6,195.28 L6.1,195.43 L6.6,195.89 L7.1,195.32 L7.6,195.45 L8.1,195.33 L8.6,195.53 L9.1,195.4 L9.6,195.51 L10.1,195.38 L10.6,195.78 L11.1,195.58 L11.6,194.98 L12.1,195.37 L12.6,195.33 L13.1,194.88 L13.6,195.14 L14.1,195.22 L14.6,195.17 L15.1,195.34 L15.6,194.96 L16.1,195.46 L16.6,195.46 L17.1,195.38 L17.6,195.25 L18.1,195.31 L18.6,195.22 L19.1,195.54 L19.6,195.41 L20.1,195.71 L20.6,195.24 L21.1,195.6 L21.6,195.2 L22.1,195.28 L22.6,195.1 L23.1,195.42 L23.6,195.3 L24.1,195.44 L24.6,195.61 L25.1,195.3 L25.6,195.39 L26.1,195.49 L26.6,195.3 L27.1,195.63 L27.6,195.38 L28.1,195.41 L28.6,195.47 L29.1,195.48 L29.6,195.17 L30.1,195.4 L30.6,195.56 L31.1,195.22 L31.6,195.39 L32.1,195.18 L32.6,195.35 L33.1,195.67 L33.6,195.35 L34.1,195.11 L34.6,195.38 L35.1,195.36 L35.6,195.54 L36.1,195.03 L36.6,195.12 L37.1,195.3 L37.6,194.99 L38.1,195.55 L38.6,194.89 L39.1,195.14 L39.6,195 L40.1,195.17 L40.6,195.48 L41.1,195.44 L41.6,195.51 L42.1,195.44 L42.6,194.88 L43.1,195.37 L43.6,194.92 L44.1,195.21 L44.6,195.23 L45.1,194.59 L45.6,195.42 L46.1,195.14 L46.6,195.68 L47.1,195.44 L47.6,195.56 L48.1,195.47 L48.6,195.5 L49.1,195.3 L49.6,195.72 L50.1,195.09 L50.6,195.41 L51.1,195.31 L51.6,195.26 L52.1,195.38 L52.6,195.16 L53.1,195.49 L53.6,195.48 L54.1,195.33 L54.6,195.46 L55.1,195.1 L55.6,194.94 L56.1,195.19 L56.6,195.26 L57.1,195.83 L57.6,195.26 L58.1,195.52 L58.6,195.49 L59.1,195.74 L59.6,195.34 L60.1,195.45 L60.6,195.27 L61.1,195.14 L61.6,195.11 L62.1,195.15 L62.6,195.6 L63.1,195.37 L63.6,195.28 L64.1,195.32 L64.6,195.2 L65.1,195.31 L65.6,195.3 L66.1,195.44 L66.6,195.49 L67.1,194.99 L67.6,195.36 L68.1,195.59 L68.6,195.11 L69.1,195.26 L69.6,195.35 L70.1,195.53 L70.6,195.43 L71.1,195.27 L71.6,195.41 L72.1,195.52 L72.6,195.39 L73.1,195.68 L73.6,195.39 L74.1,195.11 L74.6,195.16 L75.1,195.29 L75.6,195.27 L76.1,195.43 L76.6,195.38 L77.1,195.64 L77.6,195.47 L78.1,195.6 L78.6,195.16 L79.1,195.23 L79.6,195.44 L80.1,195.33 L80.6,195.43 L81.1,195.36 L81.6,195.19 L82.1,195.64 L82.6,195.53 L83.1,194.98 L83.6,195.19 L84.1,195.32 L84.6,195.44 L85.1,195.3 L85.6,195.05 L86.1,195.47 L86.6,195.27 L87.1,195.54 L87.6,195.37 L88.1,195.5 L88.6,195.47 L89.1,195.48 L89.6,195.22 L90.1,195.51 L90.6,195.35 L91.1,194.81 L91.6,195.24 L92.1,195.25 L92.6,195.4 L93.1,195.44 L93.6,195.1 L94.1,195.45 L94.6,195.3 L95.1,195.11 L95.6,195.47 L96.1,195.17 L96.6,195.09 L97.1,195.46 L97.6,195.49 L98.1,195.19 L98.6,195.52 L99.1,195.5 L99.6,195.22 L100.1,195.69 L100.6,195.3 L101.1,195.36 L101.6,194.86 L102.1,195.44 L102.6,195.2 L103.1,195.4 L103.6,194.99 L104.1,195.53 L104.6,195.59 L105.1,195.67 L105.6,194.75 L106.1,195.43 L106.6,195.38 L107.1,194.74 L107.6,195.18 L108.1,195.3 L108.6,195.59 L109.1,195.16 L109.6,195.36 L110.1,195.31 L110.6,195.39 L111.1,195.24 L111.6,195.49 L112.1,195.5 L112.6,195.06 L113.1,195.53 L113.6,195.17 L114.1,195.26 L114.6,195.53 L115.1,195.34 L115.6,195.43 L116.1,195.47 L116.6,195.43 L117.1,195.21 L117.6,195.14 L118.1,195.45 L118.6,195.46 L119.1,195.39 L119.6,195.28 L120.1,195.48 L120.6,195.31 L121.1,195.06 L121.6,195.37 L122.1,195.42 L122.6,195.47 L123.1,195.15 L123.6,195.17 L124.1,195.38 L124.6,195.23 L125.1,195.31 L125.6,195.5 L126.1,195.4 L126.6,195.67 L127.1,195.38 L127.6,195.65 L128.1,195.53 L128.6,195.82 L129.1,195.33 L129.6,195.31 L130.1,195.58 L130.6,195.22 L131.1,195.23 L131.6,195.37 L132.1,195.4 L132.6,195.05 L133.1,195.37 L133.6,195.26 L134.1,195.32 L134.6,195.36 L135.1,195.29 L135.6,195.54 L136.1,195.42 L136.6,195.29 L137.1,195.34 L137.6,195.53 L138.1,195.48 L138.6,195.58 L139.1,195.3 L139.6,195.35 L140.1,195.72 L140.6,195.32 L141.1,195.66 L141.6,195.64 L142.1,195.24 L142.6,195.05 L143.1,195.45 L143.6,195.19 L144.1,195.19 L144.6,194.99 L145.1,195.56 L145.6,195.35 L146.1,195.33 L146.6,195.41 L147.1,195.38 L147.6,195.35 L148.1,195.43 L148.6,195.28 L149.1,194.83 L149.6,195.47 L150.1,194.49 L150.6,195.33 L151.1,195.64 L151.6,195.06 L152.1,194.77 L152.6,195.62 L153.1,195.41 L153.6,195.01 L154.1,195.25 L154.6,195.45 L155.1,195.1 L155.6,195.44 L156.1,195.74 L156.6,195.6 L157.1,195.32 L157.6,195.39 L158.1,195.15 L158.6,195.36 L159.1,195.27 L159.6,195.14 L160.1,195.07 L160.6,195.7 L161.1,195.35 L161.6,195.13 L162.1,195.25 L162.6,195.61 L163.1,195.64 L163.6,195.21 L164.1,195.37 L164.6,195.5 L165.1,195.26 L165.6,195.11 L166.1,195.14 L166.6,195.33 L167.1,195.18 L167.6,195.08 L168.1,195.29 L168.6,195.51" stroke="#000" stroke-width="0.9680000000000001" fill="none" stroke-linejoin="round"/>
<path d="M2.6,200.03 L3.1,199.55 L3.6,199.86 L4.1,199.83 L4.6,200.21 L5.1,200.03 L5.6,199.85 L6.1,199.78 L6.6,199.94 L7.1,199.82 L7.6,199.28 L8.1,199.44 L8.6,199.94 L9.1,199.5 L9.6,200.12 L10.1,199.79 L10.6,200.22 L11.1,199.84 L11.6,200.12 L12.1,199.97 L12.6,200.14 L13.1,199.94 L13.6,199.41 L14.1,199.8 L14.6,199.66 L15.1,200.1 L15.6,200.03 L16.1,199.93 L16.6,200.01 L17.1,199.97 L17.6,199.83 L18.1,200.28 L18.6,199.98 L19.1,199.9 L19.6,199.67 L20.1,199.82 L20.6,199.94 L21.1,199.9 L21.6,199.85 L22.1,199.92 L22.6,199.73 L23.1,199.93 L23.6,199.66 L24.1,199.78 L24.6,199.8 L25.1,200.09 L25.6,200.02 L26.1,199.95 L26.6,199.73 L27.1,199.86 L27.6,200.08 L28.1,200.16 L28.6,199.67 L29.1,199.85 L29.6,199.95 L30.1,200 L30.6,199.93 L31.1,200.05 L31.6,199.67 L32.1,200.22 L32.6,199.72 L33.1,198.92 L33.6,200.03 L34.1,200.15 L34.6,200.1 L35.1,200.09 L35.6,200.64 L36.1,199.91 L36.6,200.07 L37.1,200.22 L37.6,199.8 L38.1,199.68 L38.6,199.75 L39.1,200.19 L39.6,200.16 L40.1,199.11 L40.6,199.98 L41.1,200.02 L41.6,200.13 L42.1,199.59 L42.6,199.83 L43.1,199.89 L43.6,199.99 L44.1,199.83 L44.6,200.02 L45.1,199.99 L45.6,199.46 L46.1,200.5 L46.6,200.09 L47.1,200.1 L47.6,199.81 L48.1,200.01 L48.6,200.31 L49.1,200.27 L49.6,199.95 L50.1,199.71 L50.6,199.97 L51.1,199.9 L51.6,200.09 L52.1,199.7 L52.6,199.9 L53.1,199.99 L53.6,199.85 L54.1,200.13 L54.6,199.73 L55.1,199.11 L55.6,199.87 L56.1,200.09 L56.6,199.88 L57.1,199.83 L57.6,200.08 L58.1,199.98 L58.6,199.84 L59.1,199.96 L59.6,199.89 L60.1,200.05 L60.6,199.96 L61.1,199.79 L61.6,199.85 L62.1,199.86 L62.6,200 L63.1,200.72 L63.6,199.79 L64.1,199.9 L64.6,199.99 L65.1,200.14 L65.6,199.98 L66.1,200.29 L66.6,199.94 L67.1,200.07 L67.6,199.88 L68.1,199.76 L68.6,199.96 L69.1,200.02 L69.6,199.99 L70.1,199.96 L70.6,199.88 L71.1,199.79 L71.6,199.88 L72.1,200.02 L72.6,201.28 L73.1,199.35 L73.6,200.05 L74.1,200.13 L74.6,200.16 L75.1,200 L75.6,200.06 L76.1,199.86 L76.6,199.92 L77.1,200.03 L77.6,199.74 L78.1,199.8 L78.6,199.97 L79.1,199.7 L79.6,199.95 L80.1,199.67 L80.6,199.97 L81.1,199.17 L81.6,199.84 L82.1,199.77 L82.6,199.85 L83.1,199.54 L83.6,199.87 L84.1,199.96 L84.6,200.15 L85.1,199.85 L85.6,199.91 L86.1,200.18 L86.6,200.24 L87.1,199.85 L87.6,200.12 L88.1,200.15 L88.6,200.03 L89.1,199.76 L89.6,199.77 L90.1,200.04 L90.6,200.35 L91.1,199.9 L91.6,200.21 L92.1,200.27 L92.6,199.72 L93.1,199.83 L93.6,200.2 L94.1,200.11 L94.6,200.03 L95.1,199.93 L95.6,200.05 L96.1,199.82 L96.6,200.38 L97.1,199.73 L97.6,199.62 L98.1,199.96 L98.6,200.19 L99.1,199.85 L99.6,199.93 L100.1,199.76 L100.6,199.92 L101.1,199.55 L101.6,199.76 L102.1,199.68 L102.6,199.84 L103.1,200.27 L103.6,199.93 L104.1,199.97 L104.6,200.33 L105.1,199.82 L105.6,199.76 L106.1,200.03 L106.6,199.72 L107.1,200 L107.6,200.14 L108.1,199.74 L108.6,199.84 L109.1,200.24 L109.6,199.75 L110.1,199.82 L110.6,199.98 L111.1,199.88 L111.6,199.78 L112.1,200.22 L112.6,199.83 L113.1,200 L113.6,199.86 L114.1,199.9 L114.6,199.69 L115.1,200.1 L115.6,199.86 L116.1,200.16 L116.6,199.73 L117.1,199.85 L117.6,200.02 L118.1,199.96 L118.6,199.82 L119.1,199.91 L119.6,199.7 L120.1,199.95 L120.6,199.46 L121.1,199.97 L121.6,200.18 L122.1,200.1 L122.6,200.09 L123.1,199.86 L123.6,200.02 L124.1,199.86 L124.6,199.92 L125.1,199.92 L125.6,199.33 L126.1,200.1 L126.6,200.02 L127.1,200.09 L127.6,199.77 L128.1,200.06 L128.6,200.02 L129.1,199.53 L129.6,200.35 L130.1,199.95 L130.6,199.82 L131.1,199.93 L131.6,199.82 L132.1,200.21 L132.6,199.59 L133.1,199.69 L133.6,199.76 L134.1,199.69 L134.6,199.83 L135.1,199.93 L135.6,199.69 L136.1,200 L136.6,200.17 L137.1,200.13 L137.6,200.3 L138.1,200.14 L138.6,199.93 L139.1,200.26 L139.6,200.06 L140.1,200.28 L140.6,199.9 L141.1,199.56 L141.6,199.73 L142.1,199.97 L142.6,200.04 L143.1,199.9 L143.6,200.12 L144.1,199.57 L144.6,199.81 L145.1,200.12 L145.6,199.95 L146.1,199.96 L146.6,200.19 L147.1,200.14 L147.6,199.79 L148.1,199.97 L148.6,199.63 L149.1,199.94 L149.6,200.01 L150.1,199.63 L150.6,200.22 L151.1,200.3 L151.6,200.03 L152.1,200.11 L152.6,200.21 L153.1,199.91 L153.6,200.13 L154.1,200.01 L154.6,199.66 L155.1,199.78 L155.6,199.84 L156.1,200.13 L156.6,199.96 L157.1,200.12 L157.6,199.86 L158.1,198.94 L158.6,200.31 L159.1,200.43 L159.6,200.01 L160.1,199.9 L160.6,200.15 L161.1,199.74 L161.6,199.9 L162.1,199.68 L162.6,200.03 L163.1,199.98 L163.6,199.87 L164.1,199.82 L164.6,199.67 L165.1,199.79 L165.6,200.16 L166.1,199.88 L166.6,200.16 L167.1,199.79 L167.6,199.93 L168.1,199.86 L168.6,199.89" stroke="#000" stroke-width="0.924" fill="none" stroke-linejoin="round"/>
<path d="M2.6,204.5 L3.1,204.72 L3.6,204.39 L4.1,204.62 L4.6,204.64 L5.1,204.46 L5.6,204.67 L6.1,204.69 L6.6,204.75 L7.1,204.74 L7.6,204.31 L8.1,204.73 L8.6,204.67 L9.1,204.74 L9.6,204.42 L10.1,204.73 L10.6,204.64 L11.1,204.37 L11.6,204.8 L12.1,204.43 L12.6,204.39 L13.1,204.64 L13.6,204.46 L14.1,204.64 L14.6,204.53 L15.1,204.62 L15.6,204.72 L16.1,204.57 L16.6,204.73 L17.1,204.72 L17.6,204.42 L18.1,204.72 L18.6,204.68 L19.1,204.6 L19.6,204.77 L20.1,204.87 L20.6,204.71 L21.1,204.31 L21.6,204.65 L22.1,204.55 L22.6,204.52 L23.1,204.63 L23.6,204.51 L24.1,204.86 L24.6,204.62 L25.1,204.58 L25.6,204.71 L26.1,204.72 L26.6,204.78 L27.1,204.69 L27.6,204.57 L28.1,204.6 L28.6,204.19 L29.1,204.31 L29.6,204.76 L30.1,204.51 L30.6,204.9 L31.1,204.9 L31.6,204.35 L32.1,204.63 L32.6,205.09 L33.1,204.43 L33.6,204.64 L34.1,204.53 L34.6,204.53 L35.1,204.52 L35.6,204.57 L36.1,204.71 L36.6,204.43 L37.1,204.66 L37.6,204.45 L38.1,204.67 L38.6,204.63 L39.1,204.43 L39.6,204.6 L40.1,204.44 L40.6,204.42 L41.1,204.78 L41.6,204.25 L42.1,204.67 L42.6,204.7 L43.1,204.47 L43.6,204.77 L44.1,204.74 L44.6,204.34 L45.1,204.67 L45.6,204.66 L46.1,204.44 L46.6,204.68 L47.1,204.71 L47.6,204.44 L48.1,204.21 L48.6,204.65 L49.1,204.44 L49.6,204.26 L50.1,204.5 L50.6,204.14 L51.1,204.51 L51.6,204.84 L52.1,204.06 L52.6,204.66 L53.1,204.41 L53.6,204.5 L54.1,204.41 L54.6,204.69 L55.1,204.57 L55.6,204.43 L56.1,204.34 L56.6,204.5 L57.1,204.78 L57.6,204.36 L58.1,204.65 L58.6,204.63 L59.1,204.21 L59.6,204.77 L60.1,204.57 L60.6,204.97 L61.1,204.88 L61.6,204.53 L62.1,204.55 L62.6,204.39 L63.1,204.33 L63.6,204.72 L64.1,204.53 L64.6,204.5 L65.1,203.47 L65.6,204.7 L66.1,204.74 L66.6,204.57 L67.1,204.54 L67.6,204.59 L68.1,204.94 L68.6,204.2 L69.1,204.37 L69.6,204.66 L70.1,204.6 L70.6,204.79 L71.1,204.81 L71.6,204.93 L72.1,204.43 L72.6,204.68 L73.1,204.53 L73.6,204.75 L74.1,204.61 L74.6,204.73 L75.1,204.44 L75.6,204.6 L76.1,204.48 L76.6,204.53 L77.1,204.49 L77.6,204.39 L78.1,204.77 L78.6,204.63 L79.1,204.77 L79.6,204.4 L80.1,204.23 L80.6,204.46 L81.1,204.55 L81.6,204.72 L82.1,204.76 L82.6,204.79 L83.1,204.85 L83.6,204.7 L84.1,204.59 L84.6,204.44 L85.1,204.7 L85.6,204.49 L86.1,204.43 L86.6,204.68 L87.1,204.61 L87.6,204.73 L88.1,204.45 L88.6,204.78 L89.1,204.64 L89.6,204.54 L90.1,204.44 L90.6,204.38 L91.1,204.33 L91.6,204.82 L92.1,204.88 L92.6,204.69 L93.1,204.53 L93.6,204.47 L94.1,204.49 L94.6,204.56 L95.1,204.74 L95.6,204.68 L96.1,204.57 L96.6,204.33 L97.1,204.26 L97.6,204.91 L98.1,204.39 L98.6,204.29 L99.1,204.78 L99.6,204.31 L100.1,204.71 L100.6,204.74 L101.1,204.62 L101.6,204.75 L102.1,204.33 L102.6,204.36 L103.1,204.54 L103.6,204.57 L104.1,204.56 L104.6,204.66 L105.1,204.44 L105.6,204.19 L106.1,204.65 L106.6,204.53 L107.1,204.72 L107.6,204.95 L108.1,204.59 L108.6,204.68 L109.1,204.41 L109.6,204.74 L110.1,204.63 L110.6,204.62 L111.1,204.74 L111.6,204.37 L112.1,204.88 L112.6,204.66 L113.1,204.86 L113.6,204.25 L114.1,204.56 L114.6,204.97 L115.1,204.5 L115.6,204.5 L116.1,204.89 L116.6,205.02 L117.1,204.59 L117.6,204.45 L118.1,204.47 L118.6,204.5 L119.1,204.42 L119.6,204.43 L120.1,204.6 L120.6,204.58 L121.1,204.66 L121.6,204.58 L122.1,204.36 L122.6,204.71 L123.1,204.62 L123.6,204.47 L124.1,204.53 L124.6,204.63 L125.1,204.59 L125.6,204.55 L126.1,204.71 L126.6,204.76 L127.1,204.52 L127.6,204.73 L128.1,204.37 L128.6,204.54 L129.1,204.66 L129.6,204.73 L130.1,204.97 L130.6,204.56 L131.1,204.44 L131.6,204.61 L132.1,204.38 L132.6,204.6 L133.1,204.58 L133.6,204.41 L134.1,204.63 L134.6,204.54 L135.1,204.68 L135.6,204.49 L136.1,204.66 L136.6,204.85 L137.1,204.61 L137.6,204.72 L138.1,204.46 L138.6,204.51 L139.1,204.23 L139.6,204.55 L140.1,204.37 L140.6,204.59 L141.1,204.2 L141.6,204.42 L142.1,204.59 L142.6,204.64 L143.1,204.28 L143.6,204.5 L144.1,205.03 L144.6,204.71 L145.1,204.6 L145.6,204.08 L146.1,204.41 L146.6,204.67 L147.1,204.62 L147.6,204.65 L148.1,204.74 L148.6,204.59 L149.1,204.73 L149.6,204.25 L150.1,205.02 L150.6,204.52 L151.1,204.46 L151.6,204.84 L152.1,204.68 L152.6,204.75 L153.1,204.46 L153.6,204.62 L154.1,204.7 L154.6,204.37 L155.1,204.53 L155.6,204.53 L156.1,204.52 L156.6,204.45 L157.1,204.35 L157.6,204.65 L158.1,204.62 L158.6,204.78 L159.1,204.56 L159.6,204.45 L160.1,204.31 L160.6,204.59 L161.1,204.52 L161.6,204.93 L162.1,204.98 L162.6,204.85 L163.1,204.41 L163.6,204.32 L164.1,204.53 L164.6,204.41 L165.1,204.83 L165.6,204.59 L166.1,204.5 L166.6,204.57 L167.1,204.8 L167.6,204.4 L168.1,204.66 L168.6,204.34" stroke="#000" stroke-width="0.88" fill="none" stroke-linejoin="round"/>
<line x1="3.8" y1="112.2" x2="3.8" y2="207" stroke="#f6bda3" stroke-width="0.45" opacity="0.8"/>
<line x1="8.2" y1="112.2" x2="8.2" y2="207" stroke="#f6bda3" stroke-width="0.45" opacity="0.8"/>
<line x1="10.7" y1="112.2" x2="10.7" y2="207" stroke="#f6bda3" stroke-width="0.45" opacity="0.8"/>
<line x1="76.6" y1="112.2" x2="76.6" y2="207" stroke="#f6bda3" stroke-width="0.45" opacity="0.8"/>
<line x1="79.7" y1="112.2" x2="79.7" y2="207" stroke="#f6bda3" stroke-width="0.45" opacity="0.8"/>
<line x1="83.8" y1="112.2" x2="83.8" y2="207" stroke="#f6bda3" stroke-width="0.45" opacity="0.8"/>
<line x1="86.1" y1="112.2" x2="86.1" y2="207" stroke="#f6bda3" stroke-width="0.45" opacity="0.8"/>
<line x1="90.7" y1="112.2" x2="90.7" y2="207" stroke="#f6bda3" stroke-width="0.45" opacity="0.8"/>
<line x1="93.8" y1="112.2" x2="93.8" y2="207" stroke="#f6bda3" stroke-width="0.45" opacity="0.8"/>
<line x1="103.5" y1="112.2" x2="103.5" y2="207" stroke="#f6bda3" stroke-width="0.45" opacity="0.8"/>
<line x1="106.5" y1="112.2" x2="106.5" y2="207" stroke="#f6bda3" stroke-width="0.45" opacity="0.8"/>
<line x1="115.5" y1="112.2" x2="115.5" y2="207" stroke="#f6bda3" stroke-width="0.45" opacity="0.8"/>
<line x1="118.3" y1="112.2" x2="118.3" y2="207" stroke="#f6bda3" stroke-width="0.45" opacity="0.8"/>
<line x1="164.8" y1="112.2" x2="164.8" y2="207" stroke="#f6bda3" stroke-width="0.45" opacity="0.8"/>
<rect x="291" y="26.9" width="27.3" height="63" fill="#e3e3e3"/>
<text x="304.6" y="22" font-size="7.9" text-anchor="middle" stroke="#231f20" stroke-width="0.18">Flight</text>
<text x="343.8" y="28.6" font-size="7.9" text-anchor="middle" stroke="#231f20" stroke-width="0.18">2 s</text>
<path d="M331.9,32.7 L354.5,32.7 L354.5,47.9" stroke="#000" stroke-width="1.2" fill="none"/>
<text x="357.8" y="43.2" font-size="8.5" font-style="italic" stroke="#231f20" stroke-width="0.18">g</text>
<text x="252.8" y="43" font-size="7.9" text-anchor="end" stroke="#231f20" stroke-width="0.18">Acceleration</text>
<path d="M256,39.8 L256.2,40.03 L256.4,40.33 L256.6,40.17 L256.8,40.13 L257,40.07 L257.2,40.1 L257.4,39.7 L257.6,39.76 L257.8,39 L258,39.22 L258.2,39.29 L258.4,39.51 L258.6,39.85 L258.8,39.89 L259,40 L259.2,40.36 L259.4,40.49 L259.6,39.93 L259.8,40.14 L260,39.89 L260.2,39.53 L260.4,39.38 L260.6,39.36 L260.8,39.31 L261,39.37 L261.2,39.44 L261.4,39.83 L261.6,39.94 L261.8,40.21 L262,40.22 L262.2,40.3 L262.4,40.25 L262.6,40 L262.8,39.82 L263,39.36 L263.2,39.42 L263.4,39.34 L263.6,39.27 L263.8,39.46 L264,39.35 L264.2,39.92 L264.4,40.07 L264.6,39.99 L264.8,40.36 L265,40.16 L265.2,40.11 L265.4,39.83 L265.6,39.69 L265.8,39.45 L266,39.29 L266.2,39.37 L266.4,39.5 L266.6,39.3 L266.8,39.8 L267,39.95 L267.2,40.07 L267.4,40.45 L267.6,40.39 L267.8,40.04 L268,39.84 L268.2,39.84 L268.4,39.45 L268.6,39.33 L268.8,39.06 L269,39.32 L269.2,39.61 L269.4,39.63 L269.6,39.9 L269.8,40.33 L270,40.36 L270.2,40.47 L270.4,40.31 L270.6,40.22 L270.8,39.66 L271,39.53 L271.2,39.24 L271.4,39.59 L271.6,39.33 L271.8,39.38 L272,39.48 L272.2,39.68 L272.4,39.69 L272.6,40.47 L272.8,40.28 L273,40.29 L273.2,39.99 L273.4,39.96 L273.6,39.79 L273.8,39.51 L274,39.44 L274.2,39.2 L274.4,39.38 L274.6,39.58 L274.8,39.75 L275,39.96 L275.2,40.11 L275.4,40.14 L275.6,40.36 L275.8,40.19 L276,39.96 L276.2,39.95 L276.4,39.43 L276.6,39.37 L276.8,39.41 L277,39.42 L277.2,39.35 L277.4,39.58 L277.6,39.86 L277.8,40.02 L278,40.11 L278.2,40.34 L278.4,40.3 L278.6,40.18 L278.8,40.1 L279,39.78 L279.2,39.47 L279.4,39.39 L279.6,39.53 L279.8,39.25 L280,39.45 L280.2,39.59 L280.4,39.96 L280.6,39.97 L280.8,40.31 L281,40.39 L281.2,40.14 L281.4,39.97 L281.6,39.68 L281.8,39.63 L282,39.3 L282.2,39.24 L282.4,39.26 L282.6,39.32 L282.8,39.67 L283,39.99 L283.2,39.77 L283.4,40.1 L283.6,40.32 L283.8,40.15 L284,40.1 L284.2,40 L284.4,39.91 L284.6,39.66 L284.8,39.33 L285,39.3 L285.2,39.28 L285.4,39.43 L285.6,39.53 L285.8,39.72 L286,40.18 L286.2,40.59 L286.4,40.74 L286.6,40.44 L286.8,40.43 L287,39.89 L287.2,39.26 L287.4,38.24 L287.6,37.76 L287.8,37.3 L288,37.67 L288.2,38.6 L288.4,39.57 L288.6,41.11 L288.8,42.31 L289,42.5 L289.2,42.33 L289.4,41.48 L289.6,40.41 L289.8,39.64 L290,39.15 L290.2,38.92 L290.4,38.97 L290.6,38.6 L290.8,38.81 L291,39.11 L291.2,40.44 L291.4,42.02 L291.6,43.68 L291.8,44.65 L292,44.72 L292.2,43.14 L292.4,40.7 L292.6,37.23 L292.8,33.7 L293,30.91 L293.2,30.82 L293.4,32.43 L293.6,35.72 L293.8,39.79 L294,43.99 L294.2,47.43 L294.4,49.21 L294.6,49.03 L294.8,47.01 L295,43.02 L295.2,38.91 L295.4,34.09 L295.6,31.44 L295.8,29.89 L296,30.98 L296.2,33.32 L296.4,37.63 L296.6,41.98 L296.8,46.11 L297,49.14 L297.2,49.99 L297.4,48.49 L297.6,45.67 L297.8,40.95 L298,36.49 L298.2,32.21 L298.4,29.82 L298.6,29.65 L298.8,31.38 L299,35.2 L299.2,39.54 L299.4,44.5 L299.6,48.11 L299.8,50 L300,49.88 L300.2,47.42 L300.4,43.35 L300.6,38.67 L300.8,34.03 L301,30.68 L301.2,29.38 L301.4,30.05 L301.6,33.07 L301.8,37.3 L302,42.33 L302.2,46.71 L302.4,49.53 L302.6,50.27 L302.8,48.9 L303,45.56 L303.2,41.11 L303.4,36.13 L303.6,31.98 L303.8,29.61 L304,29.35 L304.2,31.38 L304.4,34.93 L304.6,39.87 L304.8,44.68 L305,48.26 L305.2,50.33 L305.4,49.92 L305.6,47.53 L305.8,43.5 L306,38.36 L306.2,33.85 L306.4,30.5 L306.6,29.22 L306.8,29.98 L307,33.04 L307.2,37.26 L307.4,42.17 L307.6,46.64 L307.8,49.49 L308,50.29 L308.2,48.86 L308.4,45.66 L308.6,41.17 L308.8,36.2 L309,32.17 L309.2,29.76 L309.4,29.84 L309.6,31.44 L309.8,35.04 L310,39.83 L310.2,44.5 L310.4,47.81 L310.6,49.76 L310.8,49.3 L311,47.04 L311.2,43.42 L311.4,38.66 L311.6,34.3 L311.8,31.23 L312,29.98 L312.2,30.77 L312.4,33.37 L312.6,37.44 L312.8,42.2 L313,45.56 L313.2,48.06 L313.4,48.28 L313.6,47.15 L313.8,44.3 L314,40.68 L314.2,37.47 L314.4,34.43 L314.6,33.1 L314.8,33.11 L315,34.56 L315.2,37 L315.4,39.69 L315.6,42.26 L315.8,44.24 L316,44.53 L316.2,44.18 L316.4,42.91 L316.6,41.16 L316.8,39.47 L317,37.94 L317.2,37.07 L317.4,36.93 L317.6,37.73 L317.8,38.23 L318,39.23 L318.2,40.14 L318.4,40.47 L318.6,40.34 L318.8,40.4 L319,40.35 L319.2,40.3 L319.4,39.85 L319.6,39.28 L319.8,38.53 L320,38.27 L320.2,37.97 L320.4,38.42 L320.6,38.85 L320.8,39.81 L321,40.56 L321.2,41.06 L321.4,41.1 L321.6,40.88 L321.8,40.27 L322,40.05 L322.2,39.8 L322.4,39.23 L322.6,39.26 L322.8,39.33 L323,39.47 L323.2,39.46 L323.4,39.74 L323.6,40.12 L323.8,40.28 L324,40.21 L324.2,40.23 L324.4,40.35 L324.6,40.1 L324.8,39.79 L325,39.6 L325.2,39.47 L325.4,39.3 L325.6,39.28 L325.8,39.37 L326,39.4 L326.2,40.01 L326.4,40.17 L326.6,40.38 L326.8,40.28 L327,40.29 L327.2,40.23 L327.4,40.07 L327.6,39.52 L327.8,39.57 L328,39.25 L328.2,39.29 L328.4,39.26 L328.6,39.68 L328.8,39.75 L329,39.91 L329.2,40.29 L329.4,40.25 L329.6,40.21 L329.8,40.21 L330,40.03 L330.2,39.86 L330.4,39.73 L330.6,39.42 L330.8,39.31 L331,39.43 L331.2,39.43 L331.4,39.69 L331.6,39.82 L331.8,39.87 L332,40.07 L332.2,40.09 L332.4,40.41 L332.6,40.21 L332.8,39.91 L333,39.62 L333.2,39.57 L333.4,39.35 L333.6,39.34 L333.8,39.24 L334,39.35 L334.2,39.87 L334.4,39.8 L334.6,40.12 L334.8,40.42 L335,40.08 L335.2,40.32 L335.4,40.08 L335.6,39.84 L335.8,39.66 L336,39.3 L336.2,39.06 L336.4,39.53 L336.6,39.36 L336.8,39.68 L337,39.93 L337.2,40.06 L337.4,40.26 L337.6,40.38 L337.8,40.47 L338,40.22 L338.2,40.12 L338.4,39.71 L338.6,39.47 L338.8,39.38 L339,39.35 L339.2,39.4 L339.4,39.71 L339.6,39.78 L339.8,39.92 L340,40.36 L340.2,40.3 L340.4,40.34 L340.6,40.29 L340.8,40.04 L341,39.73 L341.2,39.64 L341.4,39.4 L341.6,39.22 L341.8,39.32 L342,39.38 L342.2,39.51 L342.4,39.59 L342.6,40 L342.8,40.41 L343,40.4 L343.2,40.41 L343.4,40.16 L343.6,40.1 L343.8,39.66 L344,39.47 L344.2,39.43 L344.4,39.13 L344.6,39.35 L344.8,39.51 L345,39.89 L345.2,39.83 L345.4,40.17 L345.6,40.18 L345.8,40.23 L346,39.91 L346.2,39.96 L346.4,39.99 L346.6,39.69 L346.8,39.46 L347,39.61 L347.2,39.37 L347.4,39.25 L347.6,39.55 L347.8,39.79 L348,40.22 L348.2,40.09 L348.4,40.34 L348.6,40.4 L348.8,40.07 L349,39.98 L349.2,39.5 L349.4,39.54 L349.6,39.11 L349.8,39.26 L350,39.55 L350.2,39.53 L350.4,39.69 L350.6,39.93 L350.8,40.38 L351,40.33 L351.2,40.42 L351.4,40.18 L351.6,40.02 L351.8,39.73 L352,39.61 L352.2,39.35 L352.4,39.44 L352.6,39.38 L352.8,39.39 L353,39.51 L353.2,39.46 L353.4,39.95 L353.6,40.24 L353.8,40.37 L354,39.91 L354.2,39.88 L354.4,39.99" stroke="#ec8f66" stroke-width="0.75" fill="none"/>
<path d="M256,60.29 L256.2,60.92 L256.4,59.82 L256.6,62.03 L256.8,71 L257,61.25 L257.2,56.51 L257.4,59.86 L257.6,62.04 L257.8,57.09 L258,60.46 L258.2,63.32 L258.4,56.95 L258.6,53.25 L258.8,56.91 L259,57.88 L259.2,58.9 L259.4,66.67 L259.6,71 L259.8,67.1 L260,63.69 L260.2,65.64 L260.4,63.29 L260.6,58.27 L260.8,60.98 L261,63.31 L261.2,61.98 L261.4,64.08 L261.6,61.72 L261.8,63.13 L262,65.04 L262.2,61.61 L262.4,60.8 L262.6,62.04 L262.8,65.19 L263,62.8 L263.2,62.26 L263.4,62.16 L263.6,58.99 L263.8,59.16 L264,63.22 L264.2,65.17 L264.4,65.84 L264.6,62.66 L264.8,59.29 L265,60.68 L265.2,62.62 L265.4,62.16 L265.6,59.02 L265.8,56.59 L266,60.24 L266.2,65.88 L266.4,62.58 L266.6,62.92 L266.8,63.89 L267,61.66 L267.2,64.58 L267.4,62.93 L267.6,58.06 L267.8,55.69 L268,57.76 L268.2,62.28 L268.4,63.75 L268.6,63.87 L268.8,62.33 L269,63.87 L269.2,61.72 L269.4,60.17 L269.6,62.83 L269.8,61.72 L270,64.27 L270.2,65.73 L270.4,65.26 L270.6,66.14 L270.8,63.12 L271,65.27 L271.2,67.95 L271.4,64.37 L271.6,62.06 L271.8,59.58 L272,59.87 L272.2,61.39 L272.4,61.63 L272.6,62.45 L272.8,63.11 L273,64.39 L273.2,59.74 L273.4,58.65 L273.6,60.15 L273.8,58.64 L274,60.18 L274.2,64.66 L274.4,62.59 L274.6,56.66 L274.8,58.64 L275,68.46 L275.2,67.39 L275.4,62.43 L275.6,62.87 L275.8,64.39 L276,68.03 L276.2,65.29 L276.4,63.9 L276.6,62.16 L276.8,60.57 L277,60.17 L277.2,59.6 L277.4,60.64 L277.6,60.92 L277.8,60.05 L278,59.42 L278.2,61.96 L278.4,60.7 L278.6,58.44 L278.8,57.77 L279,58.71 L279.2,62.15 L279.4,62.59 L279.6,61.7 L279.8,64.79 L280,63.57 L280.2,62.05 L280.4,64.86 L280.6,65.18 L280.8,64.48 L281,63.53 L281.2,66.57 L281.4,65.5 L281.6,60.77 L281.8,62.07 L282,66.35 L282.2,68.21 L282.4,65.78 L282.6,65.26 L282.8,65.55 L283,63.88 L283.2,64.35 L283.4,65.94 L283.6,65.25 L283.8,67.94 L284,67.36 L284.2,66.24 L284.4,71 L284.6,71 L284.8,68.56 L285,63.26 L285.2,59.76 L285.4,59.86 L285.6,68.85 L285.8,65.77 L286,57.43 L286.2,61.92 L286.4,65.93 L286.6,60.35 L286.8,58.81 L287,60.21 L287.2,60.89 L287.4,62.73 L287.6,62.93 L287.8,62.48 L288,65.63 L288.2,62.22 L288.4,58.34 L288.6,58.08 L288.8,61.11 L289,61.06 L289.2,60.8 L289.4,60.82 L289.6,63.03 L289.8,61.8 L290,59.08 L290.2,62.3 L290.4,62.91 L290.6,63.48 L290.8,66.46 L291,63.95 L291.2,60.86 L291.4,57.92 L291.6,57.24 L291.8,62.24 L292,61.84 L292.2,62.19 L292.4,61.74 L292.6,61.8 L292.8,63.04 L293,59.82 L293.2,58.91 L293.4,59.64 L293.6,59.27 L293.8,57.79 L294,58.46 L294.2,62.09 L294.4,63.02 L294.6,64.29 L294.8,63.7 L295,62.22 L295.2,62.32 L295.4,62.12 L295.6,63.58 L295.8,64.93 L296,66.52 L296.2,63.84 L296.4,64.16 L296.6,63.45 L296.8,60.11 L297,62.41 L297.2,64.46 L297.4,63.5 L297.6,64.77 L297.8,63.81 L298,61.88 L298.2,63.21 L298.4,62.93 L298.6,64.48 L298.8,63.75 L299,62.97 L299.2,59.31 L299.4,60.5 L299.6,61.5 L299.8,60.38 L300,66.07 L300.2,65.65 L300.4,60.65 L300.6,63.33 L300.8,64.28 L301,61.97 L301.2,62 L301.4,63.71 L301.6,64.86 L301.8,63.59 L302,63.16 L302.2,62.33 L302.4,62.21 L302.6,62.22 L302.8,61.81 L303,61.39 L303.2,59.79 L303.4,62.19 L303.6,60.38 L303.8,56.94 L304,59.48 L304.2,60.64 L304.4,58.75 L304.6,59 L304.8,63.12 L305,61.69 L305.2,58.68 L305.4,59.72 L305.6,59.15 L305.8,58.61 L306,60.33 L306.2,58.47 L306.4,58.97 L306.6,58.12 L306.8,55.94 L307,58.36 L307.2,62.46 L307.4,59.57 L307.6,55.28 L307.8,61.44 L308,60.84 L308.2,58.37 L308.4,59.32 L308.6,56.07 L308.8,56.6 L309,57.8 L309.2,57.16 L309.4,56.18 L309.6,57.02 L309.8,55.68 L310,54.62 L310.2,59.95 L310.4,61.9 L310.6,59.61 L310.8,58.4 L311,58.47 L311.2,62.1 L311.4,63.48 L311.6,59.14 L311.8,58.42 L312,58.28 L312.2,59.92 L312.4,59.82 L312.6,58.03 L312.8,58.68 L313,58.48 L313.2,59.77 L313.4,60.15 L313.6,59.3 L313.8,58.7 L314,60.68 L314.2,62.55 L314.4,60.25 L314.6,60.1 L314.8,60.36 L315,58.49 L315.2,58.68 L315.4,63.26 L315.6,64.66 L315.8,63.95 L316,62.57 L316.2,59 L316.4,58.86 L316.6,62.75 L316.8,62.89 L317,60.02 L317.2,63.5 L317.4,63.76 L317.6,62.19 L317.8,63.28 L318,62.82 L318.2,62.86 L318.4,63.16 L318.6,62.01 L318.8,61.68 L319,64.28 L319.2,62.52 L319.4,60.14 L319.6,60.36 L319.8,63.01 L320,66.14 L320.2,66.7 L320.4,67.67 L320.6,67.67 L320.8,66.74 L321,62.16 L321.2,62.4 L321.4,62.45 L321.6,65.35 L321.8,67.59 L322,63.7 L322.2,60.18 L322.4,60.56 L322.6,66.13 L322.8,60.58 L323,56.86 L323.2,59.53 L323.4,60.08 L323.6,64.2 L323.8,70.19 L324,65.34 L324.2,62.3 L324.4,67.7 L324.6,64.72 L324.8,59.64 L325,56.01 L325.2,63.41 L325.4,62.63 L325.6,62.9 L325.8,63.53 L326,63.1 L326.2,65.4 L326.4,62.16 L326.6,59.59 L326.8,60.54 L327,64.87 L327.2,65.04 L327.4,61.13 L327.6,67.55 L327.8,65.87 L328,58.7 L328.2,63.13 L328.4,61.6 L328.6,59.82 L328.8,60.58 L329,58.07 L329.2,59.09 L329.4,59.13 L329.6,57.03 L329.8,61.83 L330,61.19 L330.2,63.32 L330.4,65.2 L330.6,65.66 L330.8,64.8 L331,62.56 L331.2,59.03 L331.4,59.4 L331.6,63.26 L331.8,61.44 L332,58.64 L332.2,60.87 L332.4,60.82 L332.6,59.84 L332.8,60.75 L333,56.39 L333.2,58.1 L333.4,65.11 L333.6,62.36 L333.8,58.32 L334,57.02 L334.2,60.64 L334.4,59.48 L334.6,61.8 L334.8,59.52 L335,62.26 L335.2,57.72 L335.4,53.43 L335.6,53.93 L335.8,58.23 L336,59.22 L336.2,56.77 L336.4,56.3 L336.6,54.82 L336.8,54.93 L337,55.95 L337.2,60.1 L337.4,58.46 L337.6,54.07 L337.8,53.5 L338,60.89 L338.2,61.05 L338.4,57.78 L338.6,57.63 L338.8,56.48 L339,57.9 L339.2,57.14 L339.4,57.4 L339.6,57.98 L339.8,59.12 L340,58.93 L340.2,59.82 L340.4,64.84 L340.6,60.5 L340.8,60.07 L341,62.96 L341.2,63.99 L341.4,63.26 L341.6,60.47 L341.8,60.83 L342,63.67 L342.2,60.1 L342.4,59.19 L342.6,62.59 L342.8,60.24 L343,59.22 L343.2,62.05 L343.4,64.73 L343.6,65.66 L343.8,62.81 L344,55.54 L344.2,56.05 L344.4,60 L344.6,60.67 L344.8,63.26 L345,68.48 L345.2,66.81 L345.4,58.25 L345.6,58.98 L345.8,61.23 L346,59.78 L346.2,62.66 L346.4,63.47 L346.6,61.39 L346.8,60.84 L347,62.5 L347.2,62.85 L347.4,66.33 L347.6,58.44 L347.8,53.1 L348,58.29 L348.2,61.13 L348.4,62.11 L348.6,63.11 L348.8,59.48 L349,57.47 L349.2,61.69 L349.4,61.52 L349.6,59.95 L349.8,60.47 L350,64.73 L350.2,59.91 L350.4,60.04 L350.6,64.44 L350.8,59.85 L351,60.5 L351.2,62.15 L351.4,63.28 L351.6,61.66 L351.8,61.25" stroke="#000" stroke-width="0.8" fill="none"/>
<text x="250.5" y="63.8" font-size="7.9" text-anchor="end" stroke="#231f20" stroke-width="0.18">LFP</text>
<path d="M256,80.21 L256.2,81.08 L256.4,81.38 L256.6,81.74 L256.8,80.59 L257,78.65 L257.2,78.38 L257.4,77.92 L257.6,79.01 L257.8,81.01 L258,80.08 L258.2,81.26 L258.4,81.19 L258.6,80.22 L258.8,79.24 L259,78.67 L259.2,77.95 L259.4,78.52 L259.6,79.95 L259.8,80.92 L260,80.94 L260.2,80.44 L260.4,80.67 L260.6,77.78 L260.8,76.87 L261,76.14 L261.2,78.56 L261.4,78.44 L261.6,81.15 L261.8,83.33 L262,81 L262.2,79.89 L262.4,79.44 L262.6,78.5 L262.8,77.84 L263,77.77 L263.2,81.54 L263.4,82 L263.6,83.52 L263.8,83.15 L264,80.59 L264.2,80.29 L264.4,76.47 L264.6,76.9 L264.8,78.68 L265,80.12 L265.2,80.54 L265.4,81.24 L265.6,81.72 L265.8,81.13 L266,77.74 L266.2,77.28 L266.4,75.06 L266.6,76.72 L266.8,81.12 L267,82.43 L267.2,83.1 L267.4,84.04 L267.6,80.05 L267.8,79.05 L268,77.46 L268.2,78.89 L268.4,79.35 L268.6,80.67 L268.8,82.04 L269,81.71 L269.2,80.97 L269.4,80.62 L269.6,78.93 L269.8,79.18 L270,76.56 L270.2,77.24 L270.4,79.24 L270.6,81.28 L270.8,82.61 L271,83.05 L271.2,80.41 L271.4,77.9 L271.6,78.43 L271.8,77.84 L272,79.27 L272.2,78.69 L272.4,81.18 L272.6,81.31 L272.8,80.58 L273,80.33 L273.2,77.91 L273.4,76.55 L273.6,77.25 L273.8,78.39 L274,80.13 L274.2,81.41 L274.4,83.68 L274.6,82.73 L274.8,80.82 L275,78.9 L275.2,78.33 L275.4,78.83 L275.6,78.73 L275.8,79.75 L276,80.97 L276.2,80.98 L276.4,81.99 L276.6,82.45 L276.8,78.21 L277,75.93 L277.2,76.79 L277.4,77.17 L277.6,79.79 L277.8,81.29 L278,82.43 L278.2,81 L278.4,80.56 L278.6,79.19 L278.8,79.02 L279,77.61 L279.2,79.47 L279.4,79.84 L279.6,81.4 L279.8,83.34 L280,81.9 L280.2,79.86 L280.4,79.38 L280.6,79.06 L280.8,78.7 L281,78.4 L281.2,79.86 L281.4,80.65 L281.6,81.78 L281.8,82.52 L282,80.83 L282.2,79.33 L282.4,76.34 L282.6,74.56 L282.8,77.38 L283,78.93 L283.2,82.59 L283.4,85.65 L283.6,84.59 L283.8,83.75 L284,79.75 L284.2,76.21 L284.4,75.94 L284.6,78.71 L284.8,79.79 L285,80.61 L285.2,81.87 L285.4,80.9 L285.6,80.73 L285.8,79.65 L286,79.45 L286.2,78.87 L286.4,77.84 L286.6,79.83 L286.8,81.16 L287,81.32 L287.2,81.95 L287.4,80.33 L287.6,79.19 L287.8,78.55 L288,77.25 L288.2,79.14 L288.4,79.85 L288.6,80.57 L288.8,82.47 L289,81.6 L289.2,80.38 L289.4,79.28 L289.6,77.99 L289.8,78.49 L290,79.19 L290.2,79.62 L290.4,80.4 L290.6,81.41 L290.8,81.27 L291,81.58 L291.2,79.92 L291.4,77.76 L291.6,78 L291.8,79.44 L292,80.35 L292.2,80.35 L292.4,80.84 L292.6,81.34 L292.8,80.17 L293,79.43 L293.2,78.97 L293.4,78.63 L293.6,77.59 L293.8,80.18 L294,81.55 L294.2,82.06 L294.4,82.41 L294.6,81.08 L294.8,79.89 L295,76.05 L295.2,74.3 L295.4,76.77 L295.6,79.83 L295.8,82.09 L296,81.85 L296.2,80.77 L296.4,80.51 L296.6,78.67 L296.8,78.23 L297,78.86 L297.2,79.51 L297.4,80.71 L297.6,82.14 L297.8,82.14 L298,83.96 L298.2,81.68 L298.4,79.21 L298.6,78.05 L298.8,77.29 L299,79.3 L299.2,79.79 L299.4,81.01 L299.6,82.1 L299.8,81.4 L300,80.24 L300.2,79.4 L300.4,78.46 L300.6,78.4 L300.8,80.25 L301,80.17 L301.2,80.95 L301.4,81.3 L301.6,81.64 L301.8,80.15 L302,80.39 L302.2,78.62 L302.4,77.39 L302.6,78.14 L302.8,79.94 L303,81.38 L303.2,83.65 L303.4,81.41 L303.6,81 L303.8,79.51 L304,78.98 L304.2,79.23 L304.4,79.5 L304.6,80.31 L304.8,80.7 L305,81.19 L305.2,80.8 L305.4,79.98 L305.6,79.52 L305.8,78.83 L306,78.81 L306.2,78.5 L306.4,80.26 L306.6,81.8 L306.8,84.02 L307,82 L307.2,81.62 L307.4,79.06 L307.6,77.23 L307.8,76.62 L308,79.69 L308.2,79.64 L308.4,81.43 L308.6,81.1 L308.8,80.68 L309,80.12 L309.2,79.74 L309.4,79.32 L309.6,78.35 L309.8,77.04 L310,79.8 L310.2,82.84 L310.4,83.77 L310.6,84.4 L310.8,82.83 L311,78.26 L311.2,76.33 L311.4,76.65 L311.6,78.12 L311.8,77.94 L312,80.81 L312.2,81.11 L312.4,81.15 L312.6,81.17 L312.8,77.19 L313,76.07 L313.2,74.57 L313.4,77.1 L313.6,80.77 L313.8,83.52 L314,85.25 L314.2,83.83 L314.4,81.48 L314.6,79.04 L314.8,76.28 L315,78.31 L315.2,79.88 L315.4,79.52 L315.6,80.88 L315.8,81.35 L316,82 L316.2,81.12 L316.4,78.09 L316.6,76.19 L316.8,75.75 L317,75.64 L317.2,79.94 L317.4,81.44 L317.6,83.61 L317.8,82.55 L318,79.65 L318.2,78.16 L318.4,77.77 L318.6,78.47 L318.8,78.63 L319,80.64 L319.2,81.64 L319.4,82.47 L319.6,81.08 L319.8,80.82 L320,79.81 L320.2,77.69 L320.4,77.89 L320.6,78.67 L320.8,78.55 L321,82.52 L321.2,83.03 L321.4,80.82 L321.6,80.63 L321.8,78.61 L322,78.31 L322.2,79.18 L322.4,78.54 L322.6,80.5 L322.8,82.61 L323,83.82 L323.2,85.74 L323.4,83 L323.6,79.97 L323.8,77.91 L324,76.29 L324.2,78.46 L324.4,78.44 L324.6,81.16 L324.8,82.76 L325,81.94 L325.2,80.61 L325.4,79.55 L325.6,79.18 L325.8,79.02 L326,79.55 L326.2,80.4 L326.4,81.38 L326.6,81.73 L326.8,82.84 L327,80.62 L327.2,79.51 L327.4,79.09 L327.6,78.46 L327.8,78.43 L328,79.13 L328.2,81.65 L328.4,81.68 L328.6,81.69 L328.8,79.95 L329,79.34 L329.2,78.54 L329.4,78.1 L329.6,79.13 L329.8,79.94 L330,80.32 L330.2,81 L330.4,80.7 L330.6,80 L330.8,79.78 L331,78.75 L331.2,77.76 L331.4,78.42 L331.6,81.17 L331.8,80.08 L332,81.5 L332.2,80.97 L332.4,80.89 L332.6,79.22 L332.8,77.72 L333,78.14 L333.2,78.85 L333.4,80.02 L333.6,80.81 L333.8,81.73 L334,80.67 L334.2,80.16 L334.4,79.06 L334.6,77.89 L334.8,76.96 L335,78.5 L335.2,79.82 L335.4,81.4 L335.6,82.53 L335.8,81.62 L336,82.58 L336.2,77.22 L336.4,78.01 L336.6,78.88 L336.8,79.51 L337,80.22 L337.2,81.21 L337.4,81.99 L337.6,81.38 L337.8,79.8 L338,79.87 L338.2,78.82 L338.4,78.7 L338.6,78.8 L338.8,78.63 L339,83.87 L339.2,84.95 L339.4,84.69 L339.6,84.64 L339.8,76.47 L340,76.42 L340.2,75.5 L340.4,77.02 L340.6,79.82 L340.8,85.02 L341,86.44 L341.2,85.42 L341.4,82.32 L341.6,77.6 L341.8,77.32 L342,77.4 L342.2,79.48 L342.4,80.4 L342.6,82.14 L342.8,82.11 L343,81.89 L343.2,79.91 L343.4,79.47 L343.6,79.23 L343.8,79.11 L344,79.75 L344.2,79.76 L344.4,81.02 L344.6,83.64 L344.8,82.61 L345,78.92 L345.2,76.66 L345.4,75.46 L345.6,76.18 L345.8,78.09 L346,81.38 L346.2,82.18 L346.4,81.93 L346.6,81.5 L346.8,80.78 L347,79.77 L347.2,79.21 L347.4,79.22 L347.6,79.01 L347.8,81.13 L348,82.03 L348.2,84.44 L348.4,83.18 L348.6,81.89 L348.8,78.7 L349,77.31 L349.2,76.85 L349.4,78.22 L349.6,79.95 L349.8,82.01 L350,82.81 L350.2,82.1 L350.4,81.21 L350.6,79.44 L350.8,79.21 L351,78.2 L351.2,78.97 L351.4,79.65 L351.6,80.45 L351.8,80.96" stroke="#2e2e2e" stroke-width="0.6" fill="none"/>
<text x="250.5" y="77.6" font-size="7.9" text-anchor="end" stroke="#231f20" stroke-width="0.18">LFP</text>
<text x="250.5" y="86.4" font-size="7.9" text-anchor="end" stroke="#231f20" stroke-width="0.18">(4–11 Hz)</text>
<line x1="355.6" y1="55.8" x2="355.6" y2="66" stroke="#000" stroke-width="1.3"/>
<line x1="355.6" y1="76.4" x2="355.6" y2="83.4" stroke="#000" stroke-width="1.3"/>
<text x="358.8" y="63.8" font-size="7.9" stroke="#231f20" stroke-width="0.18">800 μV</text>
<text x="358.8" y="82.6" font-size="7.9" stroke="#231f20" stroke-width="0.18">400 μV</text>
<line x1="238" y1="106.5" x2="238" y2="187" stroke="#231f20" stroke-width="0.6"/>
<line x1="238" y1="187" x2="319.3" y2="187" stroke="#231f20" stroke-width="0.6"/>
<line x1="236" y1="106.5" x2="238" y2="106.5" stroke="#231f20" stroke-width="0.6"/>
<line x1="236" y1="187" x2="238" y2="187" stroke="#231f20" stroke-width="0.6"/>
<line x1="238" y1="187" x2="238" y2="189" stroke="#231f20" stroke-width="0.6"/>
<line x1="278.8" y1="187" x2="278.8" y2="189" stroke="#231f20" stroke-width="0.6"/>
<line x1="319.3" y1="187" x2="319.3" y2="189" stroke="#231f20" stroke-width="0.6"/>
<text x="234.5" y="109.3" font-size="7.9" text-anchor="end" stroke="#231f20" stroke-width="0.18">1</text>
<text x="234.5" y="189.8" font-size="7.9" text-anchor="end" stroke="#231f20" stroke-width="0.18">0</text>
<text x="238" y="197.5" font-size="7.9" text-anchor="middle" stroke="#231f20" stroke-width="0.18">1</text>
<text x="278.8" y="197.5" font-size="7.9" text-anchor="middle" stroke="#231f20" stroke-width="0.18">10</text>
<text x="319.3" y="197.5" font-size="7.9" text-anchor="middle" stroke="#231f20" stroke-width="0.18">20</text>
<text x="278.8" y="209.5" font-size="7.9" text-anchor="middle" stroke="#231f20" stroke-width="0.18">Frequency (Hz)</text>
<text transform="translate(225.8,145.5) rotate(-90)" font-size="7.9" text-anchor="middle" stroke="#231f20" stroke-width="0.18">PSD (normalized)</text>
<path d="M238,179.82 L238.25,180.14 L238.5,180.38 L238.75,180.5 L239,180.51 L239.25,180.99 L239.5,181.19 L239.75,181.42 L240,181.52 L240.25,181.69 L240.5,182.1 L240.75,181.82 L241,182.21 L241.25,182.57 L241.5,182.29 L241.75,182.34 L242,182.58 L242.25,182.65 L242.5,182.84 L242.75,183.13 L243,182.9 L243.25,183.1 L243.5,182.93 L243.75,183 L244,183.2 L244.25,183.06 L244.5,183.46 L244.75,183.19 L245,183.27 L245.25,183.13 L245.5,183.27 L245.75,183.19 L246,183.31 L246.25,183.08 L246.5,183.45 L246.75,183.81 L247,183.12 L247.25,183.84 L247.5,183.5 L247.75,183.71 L248,183.35 L248.25,183.95 L248.5,183.36 L248.75,183.56 L249,183.89 L249.25,183.34 L249.5,183.14 L249.75,183.59 L250,183.46 L250.25,183.43 L250.5,183.45 L250.75,183.34 L251,183.91 L251.25,183.88 L251.5,183.38 L251.75,183.63 L252,183.56 L252.25,183.87 L252.5,183.49 L252.75,183.98 L253,183.66 L253.25,183.51 L253.5,183.65 L253.75,183.55 L254,184.11 L254.25,183.7 L254.5,183.58 L254.75,183.69 L255,183.96 L255.25,183.48 L255.5,183.34 L255.75,183.94 L256,183.8 L256.25,183.59 L256.5,183.66 L256.75,183.9 L257,183.14 L257.25,183.93 L257.5,183.65 L257.75,183.82 L258,183.67 L258.25,184.3 L258.5,183.56 L258.75,183.9 L259,183.17 L259.25,183.69 L259.5,183.84 L259.75,183.38 L260,183.28 L260.25,183.7 L260.5,183.89 L260.75,183.92 L261,183.55 L261.25,183.75 L261.5,183.4 L261.75,184.03 L262,183.57 L262.25,183.94 L262.5,183.63 L262.75,183.62 L263,184.01 L263.25,183.51 L263.5,183.94 L263.75,183.6 L264,183.47 L264.25,183.43 L264.5,183.72 L264.75,183.26 L265,182.8 L265.25,181.84 L265.5,181.11 L265.75,179.04 L266,175.76 L266.25,171.31 L266.5,164.33 L266.75,156.99 L267,147.76 L267.25,137.41 L267.5,126.84 L267.75,117.58 L268,110.12 L268.25,106.02 L268.5,105.52 L268.75,109.19 L269,115.72 L269.25,124.85 L269.5,135.55 L269.75,145.7 L270,155.32 L270.25,163.23 L270.5,169.95 L270.75,175.1 L271,178.41 L271.25,180.55 L271.5,181.9 L271.75,182.77 L272,183.3 L272.25,183.4 L272.5,183.08 L272.75,184.03 L273,183.89 L273.25,183.65 L273.5,183.96 L273.75,183.42 L274,183.94 L274.25,183.72 L274.5,183.86 L274.75,183.62 L275,183.72 L275.25,183.8 L275.5,183.89 L275.75,183.79 L276,183.77 L276.25,183.57 L276.5,184.03 L276.75,183.73 L277,183.64 L277.25,183.62 L277.5,183.44 L277.75,183.54 L278,183.38 L278.25,183.73 L278.5,183.67 L278.75,183.73 L279,183.43 L279.25,183.6 L279.5,183.56 L279.75,183.88 L280,183.39 L280.25,183.38 L280.5,183.94 L280.75,183.76 L281,183.37 L281.25,183.95 L281.5,183.98 L281.75,183.91 L282,183.27 L282.25,183.71 L282.5,183.51 L282.75,183.63 L283,183.37 L283.25,184.03 L283.5,183.55 L283.75,183.74 L284,183.85 L284.25,183.81 L284.5,183.77 L284.75,183.61 L285,183.73 L285.25,183.64 L285.5,183.23 L285.75,183.88 L286,183.56 L286.25,183.58 L286.5,183.6 L286.75,183.41 L287,183.44 L287.25,183.32 L287.5,183.78 L287.75,183.92 L288,183.7 L288.25,183.46 L288.5,183.95 L288.75,183.62 L289,183.37 L289.25,183.31 L289.5,183.72 L289.75,183.97 L290,183.61 L290.25,183.56 L290.5,183.63 L290.75,183.51 L291,183.57 L291.25,183.73 L291.5,183.54 L291.75,183.87 L292,183.49 L292.25,183.83 L292.5,183.75 L292.75,183.61 L293,183.62 L293.25,183.62 L293.5,184.02 L293.75,183.52 L294,183.92 L294.25,183.88 L294.5,183.61 L294.75,184 L295,183.2 L295.25,183.73 L295.5,183.7 L295.75,183.67 L296,183.83 L296.25,183.57 L296.5,183.59 L296.75,183.83 L297,183.54 L297.25,183.31 L297.5,183.57 L297.75,183.35 L298,183.14 L298.25,183.21 L298.5,182.77 L298.75,182.5 L299,182.37 L299.25,182.06 L299.5,181.73 L299.75,181.05 L300,181.16 L300.25,180.43 L300.5,179.77 L300.75,179.21 L301,178.09 L301.25,178.21 L301.5,177.29 L301.75,177.13 L302,176.39 L302.25,176.52 L302.5,176.02 L302.75,176 L303,176.39 L303.25,176.43 L303.5,176.22 L303.75,176.72 L304,177.34 L304.25,177.76 L304.5,178.52 L304.75,178.8 L305,179.13 L305.25,179.89 L305.5,180.57 L305.75,181.21 L306,181.7 L306.25,182.2 L306.5,182.35 L306.75,182.55 L307,182.98 L307.25,183.02 L307.5,183.1 L307.75,183.23 L308,183.61 L308.25,183.79 L308.5,183.81 L308.75,183.27 L309,183.84 L309.25,183.42 L309.5,183.59 L309.75,183.78 L310,183.4 L310.25,183.43 L310.5,183.53 L310.75,184.02 L311,183.9 L311.25,183.5 L311.5,183.71 L311.75,183.71 L312,183.75 L312.25,183.54 L312.5,183.97 L312.75,183.61 L313,183.85 L313.25,183.35 L313.5,183.76 L313.75,183.71 L314,183.96 L314.25,183.16 L314.5,183.79 L314.75,183.85 L315,183.63 L315.25,183.95 L315.5,184.1 L315.75,183.86 L316,183.85 L316.25,183.95 L316.5,183.77 L316.75,183.93 L317,183.8 L317.25,183.55 L317.5,183.47 L317.75,183.92 L318,183.8 L318.25,183.55 L318.5,183.69 L318.75,183.98 L319,183.34 L319.25,183.5 L319.25,184.94 L319,184.78 L318.75,185.42 L318.5,185.13 L318.25,184.99 L318,185.24 L317.75,185.36 L317.5,184.91 L317.25,184.99 L317,185.24 L316.75,185.37 L316.5,185.21 L316.25,185.39 L316,185.29 L315.75,185.3 L315.5,185.54 L315.25,185.39 L315,185.07 L314.75,185.29 L314.5,185.23 L314.25,184.6 L314,185.4 L313.75,185.15 L313.5,185.2 L313.25,184.79 L313,185.29 L312.75,185.05 L312.5,185.41 L312.25,184.98 L312,185.19 L311.75,185.15 L311.5,185.15 L311.25,184.94 L311,185.34 L310.75,185.46 L310.5,184.97 L310.25,184.87 L310,184.85 L309.75,185.23 L309.5,185.04 L309.25,184.87 L309,185.3 L308.75,184.75 L308.5,185.3 L308.25,185.3 L308,185.14 L307.75,184.79 L307.5,184.71 L307.25,184.67 L307,184.69 L306.75,184.33 L306.5,184.2 L306.25,184.15 L306,183.76 L305.75,183.38 L305.5,182.87 L305.25,182.32 L305,181.7 L304.75,181.49 L304.5,181.35 L304.25,180.72 L304,180.42 L303.75,179.9 L303.5,179.48 L303.25,179.75 L303,179.74 L302.75,179.36 L302.5,179.36 L302.25,179.82 L302,179.62 L301.75,180.27 L301.5,180.32 L301.25,181.12 L301,180.87 L300.75,181.85 L300.5,182.27 L300.25,182.8 L300,183.4 L299.75,183.17 L299.5,183.74 L299.25,183.97 L299,184.2 L298.75,184.25 L298.5,184.45 L298.25,184.85 L298,184.73 L297.75,184.9 L297.5,185.09 L297.25,184.81 L297,185.03 L296.75,185.31 L296.5,185.05 L296.25,185.02 L296,185.28 L295.75,185.12 L295.5,185.14 L295.25,185.17 L295,184.65 L294.75,185.45 L294.5,185.06 L294.25,185.33 L294,185.36 L293.75,184.96 L293.5,185.46 L293.25,185.06 L293,185.06 L292.75,185.05 L292.5,185.19 L292.25,185.27 L292,184.93 L291.75,185.31 L291.5,184.98 L291.25,185.17 L291,185.01 L290.75,184.95 L290.5,185.07 L290.25,185 L290,185.05 L289.75,185.41 L289.5,185.16 L289.25,184.75 L289,184.81 L288.75,185.06 L288.5,185.39 L288.25,184.9 L288,185.14 L287.75,185.36 L287.5,185.22 L287.25,184.76 L287,184.88 L286.75,184.85 L286.5,185.04 L286.25,185.02 L286,185 L285.75,185.32 L285.5,184.67 L285.25,185.08 L285,185.17 L284.75,185.05 L284.5,185.21 L284.25,185.25 L284,185.29 L283.75,185.18 L283.5,184.99 L283.25,185.47 L283,184.81 L282.75,185.07 L282.5,184.95 L282.25,185.15 L282,184.71 L281.75,185.35 L281.5,185.42 L281.25,185.39 L281,184.81 L280.75,185.2 L280.5,185.38 L280.25,184.82 L280,184.83 L279.75,185.32 L279.5,185 L279.25,185.04 L279,184.87 L278.75,185.17 L278.5,185.11 L278.25,185.17 L278,184.82 L277.75,184.98 L277.5,184.88 L277.25,185.06 L277,185.08 L276.75,185.17 L276.5,185.47 L276.25,185.01 L276,185.21 L275.75,185.23 L275.5,185.33 L275.25,185.24 L275,185.16 L274.75,185.06 L274.5,185.3 L274.25,185.16 L274,185.38 L273.75,184.86 L273.5,185.4 L273.25,185.09 L273,185.33 L272.75,185.48 L272.5,184.53 L272.25,184.86 L272,184.78 L271.75,184.31 L271.5,183.54 L271.25,182.38 L271,180.57 L270.75,177.78 L270.5,173.42 L270.25,167.81 L270,161.38 L269.75,153.55 L269.5,145.4 L269.25,136.73 L269,129.43 L268.75,124.27 L268.5,121.29 L268.25,121.72 L268,124.97 L267.75,130.95 L267.5,138.33 L267.25,146.85 L267,155.22 L266.75,162.73 L266.5,168.66 L266.25,174.59 L266,178.31 L265.75,181.12 L265.5,182.9 L265.25,183.45 L265,184.33 L264.75,184.74 L264.5,185.17 L264.25,184.88 L264,184.92 L263.75,185.04 L263.5,185.38 L263.25,184.95 L263,185.45 L262.75,185.06 L262.5,185.07 L262.25,185.38 L262,185.01 L261.75,185.47 L261.5,184.84 L261.25,185.19 L261,184.99 L260.75,185.36 L260.5,185.33 L260.25,185.14 L260,184.72 L259.75,184.82 L259.5,185.28 L259.25,185.13 L259,184.61 L258.75,185.34 L258.5,185 L258.25,185.74 L258,185.11 L257.75,185.26 L257.5,185.09 L257.25,185.37 L257,184.58 L256.75,185.34 L256.5,185.1 L256.25,185.03 L256,185.24 L255.75,185.38 L255.5,184.78 L255.25,184.92 L255,185.4 L254.75,185.13 L254.5,185.02 L254.25,185.14 L254,185.55 L253.75,184.99 L253.5,185.09 L253.25,184.95 L253,185.1 L252.75,185.42 L252.5,184.93 L252.25,185.31 L252,185 L251.75,185.07 L251.5,184.82 L251.25,185.32 L251,185.35 L250.75,184.78 L250.5,184.89 L250.25,184.87 L250,184.9 L249.75,185.03 L249.5,184.58 L249.25,184.78 L249,185.33 L248.75,185 L248.5,184.8 L248.25,185.39 L248,184.79 L247.75,185.15 L247.5,184.94 L247.25,185.28 L247,184.56 L246.75,185.25 L246.5,184.89 L246.25,184.52 L246,184.75 L245.75,184.63 L245.5,184.71 L245.25,184.57 L245,184.71 L244.75,184.63 L244.5,184.9 L244.25,184.5 L244,184.64 L243.75,184.44 L243.5,184.37 L243.25,184.54 L243,184.34 L242.75,184.57 L242.5,184.28 L242.25,184.09 L242,184.02 L241.75,183.78 L241.5,183.73 L241.25,184.01 L241,183.65 L240.75,183.26 L240.5,183.54 L240.25,183.13 L240,182.96 L239.75,182.86 L239.5,182.63 L239.25,182.43 L239,181.95 L238.75,181.94 L238.5,181.82 L238.25,181.58 L238,181.26 Z" fill="#f8c2a6" stroke="none"/>
<path d="M238,180.72 L238.25,181.04 L238.5,181.28 L238.75,181.4 L239,181.41 L239.25,181.89 L239.5,182.09 L239.75,182.32 L240,182.42 L240.25,182.59 L240.5,183 L240.75,182.72 L241,183.11 L241.25,183.47 L241.5,183.19 L241.75,183.24 L242,183.48 L242.25,183.55 L242.5,183.74 L242.75,184.03 L243,183.8 L243.25,184 L243.5,183.83 L243.75,183.9 L244,184.1 L244.25,183.96 L244.5,184.36 L244.75,184.09 L245,184.17 L245.25,184.03 L245.5,184.17 L245.75,184.09 L246,184.21 L246.25,183.98 L246.5,184.35 L246.75,184.71 L247,184.02 L247.25,184.74 L247.5,184.4 L247.75,184.61 L248,184.25 L248.25,184.85 L248.5,184.26 L248.75,184.46 L249,184.79 L249.25,184.24 L249.5,184.04 L249.75,184.49 L250,184.36 L250.25,184.33 L250.5,184.35 L250.75,184.24 L251,184.81 L251.25,184.78 L251.5,184.28 L251.75,184.53 L252,184.46 L252.25,184.77 L252.5,184.39 L252.75,184.88 L253,184.56 L253.25,184.41 L253.5,184.55 L253.75,184.45 L254,185.01 L254.25,184.6 L254.5,184.48 L254.75,184.59 L255,184.86 L255.25,184.38 L255.5,184.24 L255.75,184.84 L256,184.7 L256.25,184.49 L256.5,184.56 L256.75,184.8 L257,184.04 L257.25,184.83 L257.5,184.55 L257.75,184.72 L258,184.57 L258.25,185.2 L258.5,184.46 L258.75,184.8 L259,184.07 L259.25,184.59 L259.5,184.74 L259.75,184.28 L260,184.18 L260.25,184.6 L260.5,184.79 L260.75,184.82 L261,184.45 L261.25,184.65 L261.5,184.3 L261.75,184.93 L262,184.47 L262.25,184.84 L262.5,184.53 L262.75,184.52 L263,184.91 L263.25,184.41 L263.5,184.84 L263.75,184.5 L264,184.37 L264.25,184.34 L264.5,184.63 L264.75,184.19 L265,183.76 L265.25,182.85 L265.5,182.23 L265.75,180.34 L266,177.35 L266.25,173.36 L266.5,167.04 L266.75,160.58 L267,152.42 L267.25,143.31 L267.5,134.02 L267.75,125.93 L268,119.4 L268.25,115.83 L268.5,115.38 L268.75,118.62 L269,124.29 L269.25,132.28 L269.5,141.71 L269.75,150.6 L270,159.11 L270.25,166.09 L270.5,172.12 L270.75,176.78 L271,179.76 L271.25,181.7 L271.5,182.93 L271.75,183.73 L272,184.23 L272.25,184.31 L272.5,183.99 L272.75,184.94 L273,184.79 L273.25,184.55 L273.5,184.86 L273.75,184.32 L274,184.84 L274.25,184.62 L274.5,184.76 L274.75,184.52 L275,184.62 L275.25,184.7 L275.5,184.79 L275.75,184.69 L276,184.67 L276.25,184.47 L276.5,184.93 L276.75,184.63 L277,184.54 L277.25,184.52 L277.5,184.34 L277.75,184.44 L278,184.28 L278.25,184.63 L278.5,184.57 L278.75,184.63 L279,184.33 L279.25,184.5 L279.5,184.46 L279.75,184.78 L280,184.29 L280.25,184.28 L280.5,184.84 L280.75,184.66 L281,184.27 L281.25,184.85 L281.5,184.88 L281.75,184.81 L282,184.17 L282.25,184.61 L282.5,184.41 L282.75,184.53 L283,184.27 L283.25,184.93 L283.5,184.45 L283.75,184.64 L284,184.75 L284.25,184.71 L284.5,184.67 L284.75,184.51 L285,184.63 L285.25,184.54 L285.5,184.13 L285.75,184.78 L286,184.46 L286.25,184.48 L286.5,184.5 L286.75,184.31 L287,184.34 L287.25,184.22 L287.5,184.68 L287.75,184.82 L288,184.6 L288.25,184.36 L288.5,184.85 L288.75,184.52 L289,184.27 L289.25,184.21 L289.5,184.62 L289.75,184.87 L290,184.51 L290.25,184.46 L290.5,184.53 L290.75,184.41 L291,184.47 L291.25,184.63 L291.5,184.44 L291.75,184.77 L292,184.39 L292.25,184.73 L292.5,184.65 L292.75,184.51 L293,184.52 L293.25,184.52 L293.5,184.92 L293.75,184.42 L294,184.82 L294.25,184.79 L294.5,184.52 L294.75,184.91 L295,184.11 L295.25,184.63 L295.5,184.6 L295.75,184.58 L296,184.73 L296.25,184.48 L296.5,184.51 L296.75,184.75 L297,184.47 L297.25,184.25 L297.5,184.52 L297.75,184.32 L298,184.13 L298.25,184.23 L298.5,183.82 L298.75,183.59 L299,183.51 L299.25,183.26 L299.5,182.99 L299.75,182.38 L300,182.56 L300.25,181.91 L300.5,181.33 L300.75,180.86 L301,179.82 L301.25,180.03 L301.5,179.19 L301.75,179.09 L302,178.41 L302.25,178.58 L302.5,178.11 L302.75,178.1 L303,178.48 L303.25,178.51 L303.5,178.26 L303.75,178.7 L304,179.26 L304.25,179.61 L304.5,180.29 L304.75,180.48 L305,180.73 L305.25,181.41 L305.5,182.01 L305.75,182.57 L306,182.99 L306.25,183.42 L306.5,183.51 L306.75,183.66 L307,184.05 L307.25,184.05 L307.5,184.11 L307.75,184.21 L308,184.56 L308.25,184.74 L308.5,184.74 L308.75,184.19 L309,184.75 L309.25,184.33 L309.5,184.49 L309.75,184.69 L310,184.31 L310.25,184.33 L310.5,184.43 L310.75,184.92 L311,184.8 L311.25,184.4 L311.5,184.61 L311.75,184.61 L312,184.65 L312.25,184.44 L312.5,184.87 L312.75,184.51 L313,184.75 L313.25,184.25 L313.5,184.66 L313.75,184.61 L314,184.86 L314.25,184.06 L314.5,184.69 L314.75,184.75 L315,184.53 L315.25,184.85 L315.5,185 L315.75,184.76 L316,184.75 L316.25,184.85 L316.5,184.67 L316.75,184.83 L317,184.7 L317.25,184.45 L317.5,184.37 L317.75,184.82 L318,184.7 L318.25,184.45 L318.5,184.59 L318.75,184.88 L319,184.24 L319.25,184.4" stroke="#ec7438" stroke-width="1.3" fill="none"/>
<path d="M310.9,151 L311.15,149.27 L311.4,147.62 L311.65,146.12 L311.9,144.83 L312.15,143.81 L312.4,143.11 L312.65,142.75 L312.9,142.75 L313.15,143.11 L313.4,143.81 L313.65,144.83 L313.9,146.12 L314.15,147.62 L314.4,149.27 L314.65,151 L314.9,152.73 L315.15,154.38 L315.4,155.88 L315.65,157.17 L315.9,158.19 L316.15,158.89 L316.4,159.25 L316.65,159.25 L316.9,158.89 L317.15,158.19 L317.4,157.17 L317.65,155.88 L317.9,154.38 L318.15,152.73 L318.4,151 L318.65,149.27 L318.9,147.62 L319.15,146.12 L319.4,144.83 L319.65,143.81 L319.9,143.11 L320.15,142.75 L320.4,142.75 L320.65,143.11 L320.9,143.81 L321.15,144.83 L321.4,146.12 L321.65,147.62 L321.9,149.27 L322.15,151 L322.4,152.73 L322.65,154.38 L322.9,155.88 L323.15,157.17 L323.4,158.19 L323.65,158.89 L323.9,159.25 L324.15,159.25 L324.4,158.89 L324.65,158.18 L324.9,157.16 L325.15,155.87 L325.4,154.37 L325.65,152.72 L325.9,151 L326.15,149.28 L326.4,147.63 L326.65,146.13 L326.9,144.85 L327.15,143.83 L327.4,143.13 L327.65,142.77 L327.9,142.77 L328.15,143.14 L328.4,143.84 L328.65,144.86 L328.9,146.15 L329.15,147.64 L329.4,149.29 L329.65,151 L329.9,152.71 L330.15,154.35 L330.4,155.83 L330.65,157.1 L330.9,158.1 L331.15,158.79 L331.4,159.14 L331.65,159.12 L331.9,158.76 L332.15,158.05 L332.4,157.04 L332.65,155.77 L332.9,154.29 L333.15,152.68 L333.4,151 L333.65,149.33 L333.9,147.74 L334.15,146.3 L334.4,145.08 L334.65,144.12 L334.9,143.48 L335.15,143.16 L335.4,143.19 L335.65,143.57 L335.9,144.26 L336.15,145.25 L336.4,146.47 L336.65,147.88 L336.9,149.42 L337.15,151 L337.4,152.56 L337.65,154.04 L337.9,155.36 L338.15,156.47 L338.4,157.33 L338.65,157.9 L338.9,158.15 L339.15,158.09 L339.4,157.72 L339.65,157.06 L339.9,156.15 L340.15,155.03 L340.4,153.76 L340.65,152.4 L340.9,151 L341.15,149.64 L341.4,148.36 L341.65,147.23 L341.9,146.3 L342.15,145.59 L342.4,145.13 L342.65,144.95 L342.9,145.03 L343.15,145.37 L343.4,145.94 L343.65,146.72 L343.9,147.66 L344.15,148.72 L344.4,149.85 L344.65,151 L344.9,152.12 L345.15,153.15 L345.4,154.07 L345.65,154.83 L345.9,155.41 L346.15,155.78 L346.4,155.93 L346.65,155.88 L346.9,155.61 L347.15,155.15 L347.4,154.53 L347.65,153.77 L347.9,152.9 L348.15,151.96 L348.4,151 L348.65,150.05 L348.9,149.15 L349.15,148.34 L349.4,147.65 L349.65,147.1 L349.9,146.72 L350.15,146.52 L350.4,146.52 L350.65,146.71 L350.9,147.08 L351.15,147.62 L351.4,148.31 L351.65,149.13 L351.9,150.04 L352.15,151 L352.4,151.98 L352.65,152.94 L352.9,153.83 L353.15,154.61 L353.4,155.26 L353.65,155.73 L353.9,156.01 L354.15,156.07 L354.4,155.92 L354.65,155.54 L354.9,154.95 L355.15,154.17 L355.4,153.22 L355.65,152.15 L355.9,151 L356.15,149.82 L356.4,148.65 L356.65,147.56 L356.9,146.59 L357.15,145.79 L357.4,145.2 L357.65,144.85 L357.9,144.77 L358.15,144.97 L358.4,145.44 L358.65,146.17 L358.9,147.13 L359.15,148.29 L359.4,149.6 L359.65,151 L359.9,152.43 L360.15,153.82 L360.4,155.12 L360.65,156.26 L360.9,157.18 L361.15,157.85 L361.4,158.22 L361.65,158.28 L361.9,158.02 L362.15,157.44 L362.4,156.56 L362.65,155.43 L362.9,154.08 L363.15,152.59 L363.4,151 L363.65,149.4 L363.9,147.85 L364.15,146.42 L364.4,145.19 L364.65,144.2 L364.9,143.5 L365.15,143.13 L365.4,143.1 L365.65,143.42 L365.9,144.07 L366.15,145.04 L366.4,146.27 L366.65,147.72 L366.9,149.32 L367.15,151 L367.4,152.69 L367.65,154.31 L367.9,155.79 L368.15,157.06 L368.4,158.08 L368.65,158.78 L368.9,159.15 L369.15,159.16 L369.4,158.81 L369.65,158.12 L369.9,157.11 L370.15,155.84 L370.4,154.35 L370.65,152.71 L370.9,151 L371.15,149.28 L371.4,147.64 L371.65,146.14 L371.9,144.86 L372.15,143.84 L372.4,143.13 L372.65,142.77 L372.9,142.77 L373.15,143.12 L373.4,143.83 L373.65,144.84 L373.9,146.13 L374.15,147.63" stroke="#ec7438" stroke-width="1.25" fill="none"/>
<line x1="379" y1="142.6" x2="379" y2="153.5" stroke="#000" stroke-width="1.3"/>
<text x="382" y="150.8" font-size="8.5" font-style="italic" stroke="#231f20" stroke-width="0.18">g</text>
<text x="343.6" y="173.6" font-size="7.9" text-anchor="middle" stroke="#231f20" stroke-width="0.18">500 ms</text>
<line x1="329.4" y1="177.3" x2="358" y2="177.3" stroke="#000" stroke-width="1.3"/>
<path d="M334.6,107 L339.5,106 C341.5,109 344,113 347,117 C350,119.5 352,119 355,117.5 C359,115.5 364,114.5 368,115 L371.5,116.8 C368,117.8 364,118.2 360,119 C356,120.5 353,123.5 351.5,127 C350.5,130 349,132.5 347.5,132.8 C345.5,132.5 343.5,129.5 342.5,125.5 C341,121 339,116 337,112.5 Z" fill="#f2bea3" stroke="#707070" stroke-width="0.45"/>
<path d="M339,110 C341,115 343.5,121 346.5,127 M344,120 C346.5,122 349,123 351.5,123 M356,118.5 L369,116" stroke="#a07868" stroke-width="0.35" fill="none"/>
<path d="M332.8,113.8 C328.5,117 327.8,123 329.8,128.5" stroke="#666" stroke-width="0.5" fill="none"/>
<path d="M328.3,126.6 L329.9,129.2 L331.2,126.7" stroke="#666" stroke-width="0.5" fill="none"/>
<path d="M363.5,121.5 C369,124 370,130 364,135.5" stroke="#666" stroke-width="0.5" fill="none"/>
<path d="M363.2,133.2 L363.6,136 L366.4,135.4" stroke="#666" stroke-width="0.5" fill="none"/>
<path d="M434.2,54.2 V39.59 H436.06 V54.2 Z M436.06,54.2 V40.35 H437.93 V54.2 Z M437.93,54.2 V40.45 H439.8 V54.2 Z M439.8,54.2 V41.49 H441.66 V54.2 Z M441.66,54.2 V41.68 H443.52 V54.2 Z M443.52,54.2 V43.4 H445.39 V54.2 Z M445.39,54.2 V40.35 H447.25 V54.2 Z M447.25,54.2 V40.85 H449.12 V54.2 Z M449.12,54.2 V39.22 H450.99 V54.2 Z M450.99,54.2 V37.36 H452.85 V54.2 Z M452.85,54.2 V33.9 H454.72 V54.2 Z M454.71,54.2 V29.33 H456.58 V54.2 Z M456.58,54.2 V28.47 H458.44 V54.2 Z M458.44,54.2 V29.38 H460.31 V54.2 Z M460.31,54.2 V31.13 H462.18 V54.2 Z M462.18,54.2 V34.05 H464.04 V54.2 Z M464.04,54.2 V37.78 H465.91 V54.2 Z M465.9,54.2 V39.17 H467.77 V54.2 Z M467.77,54.2 V40.41 H469.63 V54.2 Z M469.63,54.2 V41.4 H471.5 V54.2 Z M471.5,54.2 V39.59 H473.37 V54.2 Z M473.37,54.2 V40.4 H475.23 V54.2 Z M475.23,54.2 V40.35 H477.1 V54.2 Z M477.1,54.2 V41.28 H478.96 V54.2 Z M478.96,54.2 V41.76 H480.83 V54.2 Z M480.82,54.2 V43.44 H482.69 V54.2 Z M482.69,54.2 V40.29 H484.56 V54.2 Z M484.56,54.2 V40.98 H486.42 V54.2 Z M486.42,54.2 V39.37 H488.29 V54.2 Z M488.29,54.2 V36.91 H490.15 V54.2 Z M490.15,54.2 V31.6 H492.01 V54.2 Z M492.01,54.2 V28.65 H493.88 V54.2 Z M493.88,54.2 V28.63 H495.75 V54.2 Z M495.75,54.2 V29.71 H497.61 V54.2 Z M497.61,54.2 V31.8 H499.48 V54.2 Z M499.48,54.2 V34.29 H501.34 V54.2 Z M501.34,54.2 V37.13 H503.21 V54.2 Z M503.21,54.2 V39.29 H505.07 V54.2 Z M505.07,54.2 V40.53 H506.94 V54.2 Z M506.94,54.2 V41.85 H508.8 V54.2 Z " fill="#f8d3c0"/>
<line x1="436.06" y1="40.35" x2="436.06" y2="54.2" stroke="#fbe3d7" stroke-width="0.25"/>
<line x1="437.93" y1="40.45" x2="437.93" y2="54.2" stroke="#fbe3d7" stroke-width="0.25"/>
<line x1="439.8" y1="41.49" x2="439.8" y2="54.2" stroke="#fbe3d7" stroke-width="0.25"/>
<line x1="441.66" y1="41.68" x2="441.66" y2="54.2" stroke="#fbe3d7" stroke-width="0.25"/>
<line x1="443.52" y1="43.4" x2="443.52" y2="54.2" stroke="#fbe3d7" stroke-width="0.25"/>
<line x1="445.39" y1="43.4" x2="445.39" y2="54.2" stroke="#fbe3d7" stroke-width="0.25"/>
<line x1="447.25" y1="40.85" x2="447.25" y2="54.2" stroke="#fbe3d7" stroke-width="0.25"/>
<line x1="449.12" y1="40.85" x2="449.12" y2="54.2" stroke="#fbe3d7" stroke-width="0.25"/>
<line x1="450.99" y1="39.22" x2="450.99" y2="54.2" stroke="#fbe3d7" stroke-width="0.25"/>
<line x1="452.85" y1="37.36" x2="452.85" y2="54.2" stroke="#fbe3d7" stroke-width="0.25"/>
<line x1="454.71" y1="33.9" x2="454.71" y2="54.2" stroke="#fbe3d7" stroke-width="0.25"/>
<line x1="456.58" y1="29.33" x2="456.58" y2="54.2" stroke="#fbe3d7" stroke-width="0.25"/>
<line x1="458.44" y1="29.38" x2="458.44" y2="54.2" stroke="#fbe3d7" stroke-width="0.25"/>
<line x1="460.31" y1="31.13" x2="460.31" y2="54.2" stroke="#fbe3d7" stroke-width="0.25"/>
<line x1="462.18" y1="34.05" x2="462.18" y2="54.2" stroke="#fbe3d7" stroke-width="0.25"/>
<line x1="464.04" y1="37.78" x2="464.04" y2="54.2" stroke="#fbe3d7" stroke-width="0.25"/>
<line x1="465.9" y1="39.17" x2="465.9" y2="54.2" stroke="#fbe3d7" stroke-width="0.25"/>
<line x1="467.77" y1="40.41" x2="467.77" y2="54.2" stroke="#fbe3d7" stroke-width="0.25"/>
<line x1="469.63" y1="41.4" x2="469.63" y2="54.2" stroke="#fbe3d7" stroke-width="0.25"/>
<line x1="471.5" y1="41.4" x2="471.5" y2="54.2" stroke="#fbe3d7" stroke-width="0.25"/>
<line x1="473.37" y1="40.4" x2="473.37" y2="54.2" stroke="#fbe3d7" stroke-width="0.25"/>
<line x1="475.23" y1="40.4" x2="475.23" y2="54.2" stroke="#fbe3d7" stroke-width="0.25"/>
<line x1="477.1" y1="41.28" x2="477.1" y2="54.2" stroke="#fbe3d7" stroke-width="0.25"/>
<line x1="478.96" y1="41.76" x2="478.96" y2="54.2" stroke="#fbe3d7" stroke-width="0.25"/>
<line x1="480.82" y1="43.44" x2="480.82" y2="54.2" stroke="#fbe3d7" stroke-width="0.25"/>
<line x1="482.69" y1="43.44" x2="482.69" y2="54.2" stroke="#fbe3d7" stroke-width="0.25"/>
<line x1="484.56" y1="40.98" x2="484.56" y2="54.2" stroke="#fbe3d7" stroke-width="0.25"/>
<line x1="486.42" y1="40.98" x2="486.42" y2="54.2" stroke="#fbe3d7" stroke-width="0.25"/>
<line x1="488.29" y1="39.37" x2="488.29" y2="54.2" stroke="#fbe3d7" stroke-width="0.25"/>
<line x1="490.15" y1="36.91" x2="490.15" y2="54.2" stroke="#fbe3d7" stroke-width="0.25"/>
<line x1="492.01" y1="31.6" x2="492.01" y2="54.2" stroke="#fbe3d7" stroke-width="0.25"/>
<line x1="493.88" y1="28.65" x2="493.88" y2="54.2" stroke="#fbe3d7" stroke-width="0.25"/>
<line x1="495.75" y1="29.71" x2="495.75" y2="54.2" stroke="#fbe3d7" stroke-width="0.25"/>
<line x1="497.61" y1="31.8" x2="497.61" y2="54.2" stroke="#fbe3d7" stroke-width="0.25"/>
<line x1="499.48" y1="34.29" x2="499.48" y2="54.2" stroke="#fbe3d7" stroke-width="0.25"/>
<line x1="501.34" y1="37.13" x2="501.34" y2="54.2" stroke="#fbe3d7" stroke-width="0.25"/>
<line x1="503.21" y1="39.29" x2="503.21" y2="54.2" stroke="#fbe3d7" stroke-width="0.25"/>
<line x1="505.07" y1="40.53" x2="505.07" y2="54.2" stroke="#fbe3d7" stroke-width="0.25"/>
<line x1="506.94" y1="41.85" x2="506.94" y2="54.2" stroke="#fbe3d7" stroke-width="0.25"/>
<line x1="432.9" y1="22.2" x2="432.9" y2="54.2" stroke="#231f20" stroke-width="0.6"/>
<line x1="432.9" y1="54.2" x2="509.4" y2="54.2" stroke="#231f20" stroke-width="0.6"/>
<line x1="432.9" y1="22.2" x2="434.4" y2="22.2" stroke="#231f20" stroke-width="0.6"/>
<line x1="434.2" y1="54.2" x2="434.2" y2="52.8" stroke="#231f20" stroke-width="0.6"/>
<line x1="452.6" y1="54.2" x2="452.6" y2="52.8" stroke="#231f20" stroke-width="0.6"/>
<line x1="471.3" y1="54.2" x2="471.3" y2="52.8" stroke="#231f20" stroke-width="0.6"/>
<line x1="490" y1="54.2" x2="490" y2="52.8" stroke="#231f20" stroke-width="0.6"/>
<line x1="508.8" y1="54.2" x2="508.8" y2="52.8" stroke="#231f20" stroke-width="0.6"/>
<text x="428.8" y="25" font-size="7.9" text-anchor="end" stroke="#231f20" stroke-width="0.18">0.1</text>
<text x="428.8" y="57" font-size="7.9" text-anchor="end" stroke="#231f20" stroke-width="0.18">0</text>
<text transform="translate(407,38.4) rotate(-90)" font-size="7.9" text-anchor="middle" stroke="#231f20" stroke-width="0.18">Fraction</text>
<path d="M434.2,90.2 V65.26 H436.06 V90.2 Z M436.06,90.2 V66.83 H437.93 V90.2 Z M437.93,90.2 V70.07 H439.8 V90.2 Z M439.8,90.2 V66.56 H441.66 V90.2 Z M441.66,90.2 V66.56 H443.52 V90.2 Z M443.52,90.2 V65.52 H445.39 V90.2 Z M445.39,90.2 V66.04 H447.25 V90.2 Z M447.25,90.2 V65.66 H449.12 V90.2 Z M449.12,90.2 V63.51 H450.99 V90.2 Z M450.99,90.2 V60.88 H452.85 V90.2 Z M452.85,90.2 V61.25 H454.72 V90.2 Z M454.71,90.2 V62.09 H456.58 V90.2 Z M456.58,90.2 V60.15 H458.44 V90.2 Z M458.44,90.2 V58.68 H460.31 V90.2 Z M460.31,90.2 V59.29 H462.18 V90.2 Z M462.18,90.2 V61.86 H464.04 V90.2 Z M464.04,90.2 V65.14 H465.91 V90.2 Z M465.9,90.2 V66.38 H467.77 V90.2 Z M467.77,90.2 V66.03 H469.63 V90.2 Z M469.63,90.2 V66.22 H471.5 V90.2 Z M471.5,90.2 V65.96 H473.37 V90.2 Z M473.37,90.2 V66.44 H475.23 V90.2 Z M475.23,90.2 V70.62 H477.1 V90.2 Z M477.1,90.2 V66.56 H478.96 V90.2 Z M478.96,90.2 V66.56 H480.83 V90.2 Z M480.82,90.2 V65.41 H482.69 V90.2 Z M482.69,90.2 V66.12 H484.56 V90.2 Z M484.56,90.2 V64.47 H486.42 V90.2 Z M486.42,90.2 V61.46 H488.29 V90.2 Z M488.29,90.2 V60.84 H490.15 V90.2 Z M490.15,90.2 V61.29 H492.01 V90.2 Z M492.01,90.2 V62.16 H493.88 V90.2 Z M493.88,90.2 V60.29 H495.75 V90.2 Z M495.75,90.2 V58.39 H497.61 V90.2 Z M497.61,90.2 V58.79 H499.48 V90.2 Z M499.48,90.2 V63.51 H501.34 V90.2 Z M501.34,90.2 V65.78 H503.21 V90.2 Z M503.21,90.2 V66.32 H505.07 V90.2 Z M505.07,90.2 V65.79 H506.94 V90.2 Z M506.94,90.2 V67.04 H508.8 V90.2 Z " fill="#f8d3c0"/>
<line x1="436.06" y1="66.83" x2="436.06" y2="90.2" stroke="#fbe3d7" stroke-width="0.25"/>
<line x1="437.93" y1="70.07" x2="437.93" y2="90.2" stroke="#fbe3d7" stroke-width="0.25"/>
<line x1="439.8" y1="70.07" x2="439.8" y2="90.2" stroke="#fbe3d7" stroke-width="0.25"/>
<line x1="441.66" y1="66.56" x2="441.66" y2="90.2" stroke="#fbe3d7" stroke-width="0.25"/>
<line x1="443.52" y1="66.56" x2="443.52" y2="90.2" stroke="#fbe3d7" stroke-width="0.25"/>
<line x1="445.39" y1="66.04" x2="445.39" y2="90.2" stroke="#fbe3d7" stroke-width="0.25"/>
<line x1="447.25" y1="66.04" x2="447.25" y2="90.2" stroke="#fbe3d7" stroke-width="0.25"/>
<line x1="449.12" y1="65.66" x2="449.12" y2="90.2" stroke="#fbe3d7" stroke-width="0.25"/>
<line x1="450.99" y1="63.51" x2="450.99" y2="90.2" stroke="#fbe3d7" stroke-width="0.25"/>
<line x1="452.85" y1="61.25" x2="452.85" y2="90.2" stroke="#fbe3d7" stroke-width="0.25"/>
<line x1="454.71" y1="62.09" x2="454.71" y2="90.2" stroke="#fbe3d7" stroke-width="0.25"/>
<line x1="456.58" y1="62.09" x2="456.58" y2="90.2" stroke="#fbe3d7" stroke-width="0.25"/>
<line x1="458.44" y1="60.15" x2="458.44" y2="90.2" stroke="#fbe3d7" stroke-width="0.25"/>
<line x1="460.31" y1="59.29" x2="460.31" y2="90.2" stroke="#fbe3d7" stroke-width="0.25"/>
<line x1="462.18" y1="61.86" x2="462.18" y2="90.2" stroke="#fbe3d7" stroke-width="0.25"/>
<line x1="464.04" y1="65.14" x2="464.04" y2="90.2" stroke="#fbe3d7" stroke-width="0.25"/>
<line x1="465.9" y1="66.38" x2="465.9" y2="90.2" stroke="#fbe3d7" stroke-width="0.25"/>
<line x1="467.77" y1="66.38" x2="467.77" y2="90.2" stroke="#fbe3d7" stroke-width="0.25"/>
<line x1="469.63" y1="66.22" x2="469.63" y2="90.2" stroke="#fbe3d7" stroke-width="0.25"/>
<line x1="471.5" y1="66.22" x2="471.5" y2="90.2" stroke="#fbe3d7" stroke-width="0.25"/>
<line x1="473.37" y1="66.44" x2="473.37" y2="90.2" stroke="#fbe3d7" stroke-width="0.25"/>
<line x1="475.23" y1="70.62" x2="475.23" y2="90.2" stroke="#fbe3d7" stroke-width="0.25"/>
<line x1="477.1" y1="70.62" x2="477.1" y2="90.2" stroke="#fbe3d7" stroke-width="0.25"/>
<line x1="478.96" y1="66.56" x2="478.96" y2="90.2" stroke="#fbe3d7" stroke-width="0.25"/>
<line x1="480.82" y1="66.56" x2="480.82" y2="90.2" stroke="#fbe3d7" stroke-width="0.25"/>
<line x1="482.69" y1="66.12" x2="482.69" y2="90.2" stroke="#fbe3d7" stroke-width="0.25"/>
<line x1="484.56" y1="66.12" x2="484.56" y2="90.2" stroke="#fbe3d7" stroke-width="0.25"/>
<line x1="486.42" y1="64.47" x2="486.42" y2="90.2" stroke="#fbe3d7" stroke-width="0.25"/>
<line x1="488.29" y1="61.46" x2="488.29" y2="90.2" stroke="#fbe3d7" stroke-width="0.25"/>
<line x1="490.15" y1="61.29" x2="490.15" y2="90.2" stroke="#fbe3d7" stroke-width="0.25"/>
<line x1="492.01" y1="62.16" x2="492.01" y2="90.2" stroke="#fbe3d7" stroke-width="0.25"/>
<line x1="493.88" y1="62.16" x2="493.88" y2="90.2" stroke="#fbe3d7" stroke-width="0.25"/>
<line x1="495.75" y1="60.29" x2="495.75" y2="90.2" stroke="#fbe3d7" stroke-width="0.25"/>
<line x1="497.61" y1="58.79" x2="497.61" y2="90.2" stroke="#fbe3d7" stroke-width="0.25"/>
<line x1="499.48" y1="63.51" x2="499.48" y2="90.2" stroke="#fbe3d7" stroke-width="0.25"/>
<line x1="501.34" y1="65.78" x2="501.34" y2="90.2" stroke="#fbe3d7" stroke-width="0.25"/>
<line x1="503.21" y1="66.32" x2="503.21" y2="90.2" stroke="#fbe3d7" stroke-width="0.25"/>
<line x1="505.07" y1="66.32" x2="505.07" y2="90.2" stroke="#fbe3d7" stroke-width="0.25"/>
<line x1="506.94" y1="67.04" x2="506.94" y2="90.2" stroke="#fbe3d7" stroke-width="0.25"/>
<line x1="432.9" y1="58.3" x2="432.9" y2="90.2" stroke="#231f20" stroke-width="0.6"/>
<line x1="432.9" y1="90.2" x2="509.4" y2="90.2" stroke="#231f20" stroke-width="0.6"/>
<line x1="432.9" y1="65.2" x2="434.4" y2="65.2" stroke="#231f20" stroke-width="0.6"/>
<line x1="434.2" y1="90.2" x2="434.2" y2="88.8" stroke="#231f20" stroke-width="0.6"/>
<line x1="452.6" y1="90.2" x2="452.6" y2="88.8" stroke="#231f20" stroke-width="0.6"/>
<line x1="471.3" y1="90.2" x2="471.3" y2="88.8" stroke="#231f20" stroke-width="0.6"/>
<line x1="490" y1="90.2" x2="490" y2="88.8" stroke="#231f20" stroke-width="0.6"/>
<line x1="508.8" y1="90.2" x2="508.8" y2="88.8" stroke="#231f20" stroke-width="0.6"/>
<text x="428.8" y="68" font-size="7.9" text-anchor="end" stroke="#231f20" stroke-width="0.18">0.05</text>
<text x="428.8" y="93" font-size="7.9" text-anchor="end" stroke="#231f20" stroke-width="0.18">0</text>
<path d="M434.2,126.1 V105.59 H436.06 V126.1 Z M436.06,126.1 V107.45 H437.93 V126.1 Z M437.93,126.1 V109.1 H439.8 V126.1 Z M439.8,126.1 V110.18 H441.66 V126.1 Z M441.66,126.1 V104.71 H443.52 V126.1 Z M443.52,126.1 V105.95 H445.39 V126.1 Z M445.39,126.1 V100.91 H447.25 V126.1 Z M447.25,126.1 V99.84 H449.12 V126.1 Z M449.12,126.1 V98.84 H450.99 V126.1 Z M450.99,126.1 V97.77 H452.85 V126.1 Z M452.85,126.1 V97.15 H454.72 V126.1 Z M454.71,126.1 V96.52 H456.58 V126.1 Z M456.58,126.1 V95.9 H458.44 V126.1 Z M458.44,126.1 V95.28 H460.31 V126.1 Z M460.31,126.1 V94.66 H462.18 V126.1 Z M462.18,126.1 V93.93 H464.04 V126.1 Z M464.04,126.1 V95.8 H465.91 V126.1 Z M465.9,126.1 V97.66 H467.77 V126.1 Z M467.77,126.1 V99 H469.63 V126.1 Z M469.63,126.1 V101.55 H471.5 V126.1 Z M471.5,126.1 V104.91 H473.37 V126.1 Z M473.37,126.1 V106.77 H475.23 V126.1 Z M475.23,126.1 V108.1 H477.1 V126.1 Z M477.1,126.1 V109.66 H478.96 V126.1 Z M478.96,126.1 V103.87 H480.83 V126.1 Z M480.82,126.1 V100.76 H482.69 V126.1 Z M482.69,126.1 V99.58 H484.56 V126.1 Z M484.56,126.1 V98.34 H486.42 V126.1 Z M486.42,126.1 V97.1 H488.29 V126.1 Z M488.29,126.1 V96.07 H490.15 V126.1 Z M490.15,126.1 V95.46 H492.01 V126.1 Z M492.01,126.1 V95.46 H493.88 V126.1 Z M493.88,126.1 V95.03 H495.75 V126.1 Z M495.75,126.1 V94.46 H497.61 V126.1 Z M497.61,126.1 V94 H499.48 V126.1 Z M499.48,126.1 V95.46 H501.34 V126.1 Z M501.34,126.1 V97.6 H503.21 V126.1 Z M503.21,126.1 V98.99 H505.07 V126.1 Z M505.07,126.1 V99.61 H506.94 V126.1 Z M506.94,126.1 V100.24 H508.8 V126.1 Z " fill="#f8d3c0"/>
<line x1="436.06" y1="107.45" x2="436.06" y2="126.1" stroke="#fbe3d7" stroke-width="0.25"/>
<line x1="437.93" y1="109.1" x2="437.93" y2="126.1" stroke="#fbe3d7" stroke-width="0.25"/>
<line x1="439.8" y1="110.18" x2="439.8" y2="126.1" stroke="#fbe3d7" stroke-width="0.25"/>
<line x1="441.66" y1="110.18" x2="441.66" y2="126.1" stroke="#fbe3d7" stroke-width="0.25"/>
<line x1="443.52" y1="105.95" x2="443.52" y2="126.1" stroke="#fbe3d7" stroke-width="0.25"/>
<line x1="445.39" y1="105.95" x2="445.39" y2="126.1" stroke="#fbe3d7" stroke-width="0.25"/>
<line x1="447.25" y1="100.91" x2="447.25" y2="126.1" stroke="#fbe3d7" stroke-width="0.25"/>
<line x1="449.12" y1="99.84" x2="449.12" y2="126.1" stroke="#fbe3d7" stroke-width="0.25"/>
<line x1="450.99" y1="98.84" x2="450.99" y2="126.1" stroke="#fbe3d7" stroke-width="0.25"/>
<line x1="452.85" y1="97.77" x2="452.85" y2="126.1" stroke="#fbe3d7" stroke-width="0.25"/>
<line x1="454.71" y1="97.15" x2="454.71" y2="126.1" stroke="#fbe3d7" stroke-width="0.25"/>
<line x1="456.58" y1="96.52" x2="456.58" y2="126.1" stroke="#fbe3d7" stroke-width="0.25"/>
<line x1="458.44" y1="95.9" x2="458.44" y2="126.1" stroke="#fbe3d7" stroke-width="0.25"/>
<line x1="460.31" y1="95.28" x2="460.31" y2="126.1" stroke="#fbe3d7" stroke-width="0.25"/>
<line x1="462.18" y1="94.66" x2="462.18" y2="126.1" stroke="#fbe3d7" stroke-width="0.25"/>
<line x1="464.04" y1="95.8" x2="464.04" y2="126.1" stroke="#fbe3d7" stroke-width="0.25"/>
<line x1="465.9" y1="97.66" x2="465.9" y2="126.1" stroke="#fbe3d7" stroke-width="0.25"/>
<line x1="467.77" y1="99" x2="467.77" y2="126.1" stroke="#fbe3d7" stroke-width="0.25"/>
<line x1="469.63" y1="101.55" x2="469.63" y2="126.1" stroke="#fbe3d7" stroke-width="0.25"/>
<line x1="471.5" y1="104.91" x2="471.5" y2="126.1" stroke="#fbe3d7" stroke-width="0.25"/>
<line x1="473.37" y1="106.77" x2="473.37" y2="126.1" stroke="#fbe3d7" stroke-width="0.25"/>
<line x1="475.23" y1="108.1" x2="475.23" y2="126.1" stroke="#fbe3d7" stroke-width="0.25"/>
<line x1="477.1" y1="109.66" x2="477.1" y2="126.1" stroke="#fbe3d7" stroke-width="0.25"/>
<line x1="478.96" y1="109.66" x2="478.96" y2="126.1" stroke="#fbe3d7" stroke-width="0.25"/>
<line x1="480.82" y1="103.87" x2="480.82" y2="126.1" stroke="#fbe3d7" stroke-width="0.25"/>
<line x1="482.69" y1="100.76" x2="482.69" y2="126.1" stroke="#fbe3d7" stroke-width="0.25"/>
<line x1="484.56" y1="99.58" x2="484.56" y2="126.1" stroke="#fbe3d7" stroke-width="0.25"/>
<line x1="486.42" y1="98.34" x2="486.42" y2="126.1" stroke="#fbe3d7" stroke-width="0.25"/>
<line x1="488.29" y1="97.1" x2="488.29" y2="126.1" stroke="#fbe3d7" stroke-width="0.25"/>
<line x1="490.15" y1="96.07" x2="490.15" y2="126.1" stroke="#fbe3d7" stroke-width="0.25"/>
<line x1="492.01" y1="95.46" x2="492.01" y2="126.1" stroke="#fbe3d7" stroke-width="0.25"/>
<line x1="493.88" y1="95.46" x2="493.88" y2="126.1" stroke="#fbe3d7" stroke-width="0.25"/>
<line x1="495.75" y1="95.03" x2="495.75" y2="126.1" stroke="#fbe3d7" stroke-width="0.25"/>
<line x1="497.61" y1="94.46" x2="497.61" y2="126.1" stroke="#fbe3d7" stroke-width="0.25"/>
<line x1="499.48" y1="95.46" x2="499.48" y2="126.1" stroke="#fbe3d7" stroke-width="0.25"/>
<line x1="501.34" y1="97.6" x2="501.34" y2="126.1" stroke="#fbe3d7" stroke-width="0.25"/>
<line x1="503.21" y1="98.99" x2="503.21" y2="126.1" stroke="#fbe3d7" stroke-width="0.25"/>
<line x1="505.07" y1="99.61" x2="505.07" y2="126.1" stroke="#fbe3d7" stroke-width="0.25"/>
<line x1="506.94" y1="100.24" x2="506.94" y2="126.1" stroke="#fbe3d7" stroke-width="0.25"/>
<line x1="432.9" y1="93.3" x2="432.9" y2="126.1" stroke="#231f20" stroke-width="0.6"/>
<line x1="432.9" y1="126.1" x2="509.4" y2="126.1" stroke="#231f20" stroke-width="0.6"/>
<line x1="432.9" y1="101.6" x2="434.4" y2="101.6" stroke="#231f20" stroke-width="0.6"/>
<line x1="434.2" y1="126.1" x2="434.2" y2="124.7" stroke="#231f20" stroke-width="0.6"/>
<line x1="452.6" y1="126.1" x2="452.6" y2="124.7" stroke="#231f20" stroke-width="0.6"/>
<line x1="471.3" y1="126.1" x2="471.3" y2="124.7" stroke="#231f20" stroke-width="0.6"/>
<line x1="490" y1="126.1" x2="490" y2="124.7" stroke="#231f20" stroke-width="0.6"/>
<line x1="508.8" y1="126.1" x2="508.8" y2="124.7" stroke="#231f20" stroke-width="0.6"/>
<text x="428.8" y="104.4" font-size="7.9" text-anchor="end" stroke="#231f20" stroke-width="0.18">0.05</text>
<text x="428.8" y="129" font-size="7.9" text-anchor="end" stroke="#231f20" stroke-width="0.18">0</text>
<text x="470.9" y="135.3" font-size="7.9" text-anchor="middle" stroke="#231f20" stroke-width="0.18">Population</text>
<path d="M434,181.3 V158.74 H435.87 V181.3 Z M435.87,181.3 V157.21 H437.73 V181.3 Z M437.73,181.3 V157.98 H439.6 V181.3 Z M439.6,181.3 V161.76 H441.46 V181.3 Z M441.46,181.3 V161.41 H443.32 V181.3 Z M443.32,181.3 V161.02 H445.19 V181.3 Z M445.19,181.3 V160.4 H447.06 V181.3 Z M447.06,181.3 V158.55 H448.92 V181.3 Z M448.92,181.3 V154.16 H450.79 V181.3 Z M450.79,181.3 V148.91 H452.65 V181.3 Z M452.65,181.3 V146.85 H454.51 V181.3 Z M454.51,181.3 V143.77 H456.38 V181.3 Z M456.38,181.3 V141.72 H458.25 V181.3 Z M458.25,181.3 V140.85 H460.11 V181.3 Z M460.11,181.3 V140.23 H461.98 V181.3 Z M461.98,181.3 V138.44 H463.84 V181.3 Z M463.84,181.3 V145.18 H465.71 V181.3 Z M465.71,181.3 V147.85 H467.57 V181.3 Z M467.57,181.3 V150.52 H469.44 V181.3 Z M469.44,181.3 V154.55 H471.3 V181.3 Z M471.3,181.3 V158.2 H473.17 V181.3 Z M473.17,181.3 V157.16 H475.03 V181.3 Z M475.03,181.3 V157.84 H476.9 V181.3 Z M476.9,181.3 V160.45 H478.76 V181.3 Z M478.76,181.3 V161.67 H480.62 V181.3 Z M480.62,181.3 V161.24 H482.49 V181.3 Z M482.49,181.3 V160.74 H484.36 V181.3 Z M484.36,181.3 V159.17 H486.22 V181.3 Z M486.22,181.3 V155.05 H488.09 V181.3 Z M488.09,181.3 V149.95 H489.95 V181.3 Z M489.95,181.3 V147.09 H491.82 V181.3 Z M491.81,181.3 V143.49 H493.68 V181.3 Z M493.68,181.3 V141.52 H495.55 V181.3 Z M495.55,181.3 V140.75 H497.41 V181.3 Z M497.41,181.3 V140.13 H499.28 V181.3 Z M499.28,181.3 V138.35 H501.14 V181.3 Z M501.14,181.3 V144.58 H503.01 V181.3 Z M503,181.3 V147.59 H504.87 V181.3 Z M504.87,181.3 V150.33 H506.74 V181.3 Z M506.74,181.3 V155.11 H508.6 V181.3 Z " fill="#ec7b3e"/>
<line x1="435.87" y1="158.74" x2="435.87" y2="181.3" stroke="#f09a6c" stroke-width="0.25"/>
<line x1="437.73" y1="157.98" x2="437.73" y2="181.3" stroke="#f09a6c" stroke-width="0.25"/>
<line x1="439.6" y1="161.76" x2="439.6" y2="181.3" stroke="#f09a6c" stroke-width="0.25"/>
<line x1="441.46" y1="161.76" x2="441.46" y2="181.3" stroke="#f09a6c" stroke-width="0.25"/>
<line x1="443.32" y1="161.41" x2="443.32" y2="181.3" stroke="#f09a6c" stroke-width="0.25"/>
<line x1="445.19" y1="161.02" x2="445.19" y2="181.3" stroke="#f09a6c" stroke-width="0.25"/>
<line x1="447.06" y1="160.4" x2="447.06" y2="181.3" stroke="#f09a6c" stroke-width="0.25"/>
<line x1="448.92" y1="158.55" x2="448.92" y2="181.3" stroke="#f09a6c" stroke-width="0.25"/>
<line x1="450.79" y1="154.16" x2="450.79" y2="181.3" stroke="#f09a6c" stroke-width="0.25"/>
<line x1="452.65" y1="148.91" x2="452.65" y2="181.3" stroke="#f09a6c" stroke-width="0.25"/>
<line x1="454.51" y1="146.85" x2="454.51" y2="181.3" stroke="#f09a6c" stroke-width="0.25"/>
<line x1="456.38" y1="143.77" x2="456.38" y2="181.3" stroke="#f09a6c" stroke-width="0.25"/>
<line x1="458.25" y1="141.72" x2="458.25" y2="181.3" stroke="#f09a6c" stroke-width="0.25"/>
<line x1="460.11" y1="140.85" x2="460.11" y2="181.3" stroke="#f09a6c" stroke-width="0.25"/>
<line x1="461.98" y1="140.23" x2="461.98" y2="181.3" stroke="#f09a6c" stroke-width="0.25"/>
<line x1="463.84" y1="145.18" x2="463.84" y2="181.3" stroke="#f09a6c" stroke-width="0.25"/>
<line x1="465.71" y1="147.85" x2="465.71" y2="181.3" stroke="#f09a6c" stroke-width="0.25"/>
<line x1="467.57" y1="150.52" x2="467.57" y2="181.3" stroke="#f09a6c" stroke-width="0.25"/>
<line x1="469.44" y1="154.55" x2="469.44" y2="181.3" stroke="#f09a6c" stroke-width="0.25"/>
<line x1="471.3" y1="158.2" x2="471.3" y2="181.3" stroke="#f09a6c" stroke-width="0.25"/>
<line x1="473.17" y1="158.2" x2="473.17" y2="181.3" stroke="#f09a6c" stroke-width="0.25"/>
<line x1="475.03" y1="157.84" x2="475.03" y2="181.3" stroke="#f09a6c" stroke-width="0.25"/>
<line x1="476.9" y1="160.45" x2="476.9" y2="181.3" stroke="#f09a6c" stroke-width="0.25"/>
<line x1="478.76" y1="161.67" x2="478.76" y2="181.3" stroke="#f09a6c" stroke-width="0.25"/>
<line x1="480.62" y1="161.67" x2="480.62" y2="181.3" stroke="#f09a6c" stroke-width="0.25"/>
<line x1="482.49" y1="161.24" x2="482.49" y2="181.3" stroke="#f09a6c" stroke-width="0.25"/>
<line x1="484.36" y1="160.74" x2="484.36" y2="181.3" stroke="#f09a6c" stroke-width="0.25"/>
<line x1="486.22" y1="159.17" x2="486.22" y2="181.3" stroke="#f09a6c" stroke-width="0.25"/>
<line x1="488.09" y1="155.05" x2="488.09" y2="181.3" stroke="#f09a6c" stroke-width="0.25"/>
<line x1="489.95" y1="149.95" x2="489.95" y2="181.3" stroke="#f09a6c" stroke-width="0.25"/>
<line x1="491.81" y1="147.09" x2="491.81" y2="181.3" stroke="#f09a6c" stroke-width="0.25"/>
<line x1="493.68" y1="143.49" x2="493.68" y2="181.3" stroke="#f09a6c" stroke-width="0.25"/>
<line x1="495.55" y1="141.52" x2="495.55" y2="181.3" stroke="#f09a6c" stroke-width="0.25"/>
<line x1="497.41" y1="140.75" x2="497.41" y2="181.3" stroke="#f09a6c" stroke-width="0.25"/>
<line x1="499.28" y1="140.13" x2="499.28" y2="181.3" stroke="#f09a6c" stroke-width="0.25"/>
<line x1="501.14" y1="144.58" x2="501.14" y2="181.3" stroke="#f09a6c" stroke-width="0.25"/>
<line x1="503" y1="147.59" x2="503" y2="181.3" stroke="#f09a6c" stroke-width="0.25"/>
<line x1="504.87" y1="150.33" x2="504.87" y2="181.3" stroke="#f09a6c" stroke-width="0.25"/>
<line x1="506.74" y1="155.11" x2="506.74" y2="181.3" stroke="#f09a6c" stroke-width="0.25"/>
<line x1="432.9" y1="138.2" x2="432.9" y2="181.3" stroke="#231f20" stroke-width="0.6"/>
<line x1="432.9" y1="181.3" x2="509.4" y2="181.3" stroke="#231f20" stroke-width="0.6"/>
<line x1="432.9" y1="146.5" x2="434.4" y2="146.5" stroke="#231f20" stroke-width="0.6"/>
<line x1="434" y1="181.3" x2="434" y2="179.9" stroke="#231f20" stroke-width="0.6"/>
<line x1="452.8" y1="181.3" x2="452.8" y2="179.9" stroke="#231f20" stroke-width="0.6"/>
<line x1="471.3" y1="181.3" x2="471.3" y2="179.9" stroke="#231f20" stroke-width="0.6"/>
<line x1="490" y1="181.3" x2="490" y2="179.9" stroke="#231f20" stroke-width="0.6"/>
<line x1="508.5" y1="181.3" x2="508.5" y2="179.9" stroke="#231f20" stroke-width="0.6"/>
<text x="428.8" y="149.2" font-size="7.9" text-anchor="end" stroke="#231f20" stroke-width="0.18">0.050</text>
<text x="428.8" y="184" font-size="7.9" text-anchor="end" stroke="#231f20" stroke-width="0.18">0.045</text>
<text transform="translate(437.4,189.3) rotate(-45)" font-size="8.2" text-anchor="end" stroke="#231f20" stroke-width="0.18">−180</text>
<text transform="translate(456.2,189.3) rotate(-45)" font-size="8.2" text-anchor="end" stroke="#231f20" stroke-width="0.18">0</text>
<text transform="translate(474.7,189.3) rotate(-45)" font-size="8.2" text-anchor="end" stroke="#231f20" stroke-width="0.18">180</text>
<text transform="translate(493.4,189.3) rotate(-45)" font-size="8.2" text-anchor="end" stroke="#231f20" stroke-width="0.18">360</text>
<text transform="translate(511.9,189.3) rotate(-45)" font-size="8.2" text-anchor="end" stroke="#231f20" stroke-width="0.18">540</text>
<text x="470.9" y="210" font-size="7.9" text-anchor="middle" stroke="#231f20" stroke-width="0.18">Wing-beat phase (°)</text>
<path d="M535.73,62.7 L535.73,24.3 L536.3,24.87 L536.87,27.16 L537.45,30.6 L538.02,36.33 L539.16,40.91 L540.31,44.92 L541.45,46.06 L542.37,48.36 L543.17,46.64 L544.32,44.35 L545.46,40.91 L546.61,36.9 L547.18,36.33 L547.75,38.05 L548.9,42.63 L550.05,46.64 L551.19,48.93 L552.34,51.22 L553.48,53.51 L554.63,51.22 L555.77,48.01 L556.92,47.55 L558.06,48.93 L559.21,52.36 L560.36,50.65 L561.16,50.07 L562.07,52.36 L563.22,54.66 L564.36,57.52 L565.51,56.37 L566.66,56.95 L567.8,58.09 L568.95,57.52 L570.09,56.37 L571.81,55.23 L572.96,55.8 L574.1,58.09 L575.25,59.24 L576.39,59.81 L577.54,60.96 L578.68,61.53 L579.83,60.96 L580.97,59.81 L582.12,59.01 L583.84,59.24 L584.98,59.47 L586.13,60.38 L587.27,60.96 L588.42,61.53 L589.56,62.1 L590.14,62.67 L590.14,62.7 Z" fill="#000" stroke="none"/>
<line x1="535.6" y1="24.3" x2="535.6" y2="62.7" stroke="#231f20" stroke-width="0.6"/>
<line x1="535.6" y1="62.7" x2="590.4" y2="62.7" stroke="#231f20" stroke-width="0.6"/>
<line x1="549.5" y1="24.3" x2="549.5" y2="62.7" stroke="#ef8a5c" stroke-width="0.65" stroke-dasharray="2.2,1.4"/>
<line x1="563.2" y1="24.3" x2="563.2" y2="62.7" stroke="#ef8a5c" stroke-width="0.65" stroke-dasharray="2.2,1.4"/>
<line x1="576.4" y1="24.3" x2="576.4" y2="62.7" stroke="#ef8a5c" stroke-width="0.65" stroke-dasharray="2.2,1.4"/>
<line x1="542.2" y1="27.8" x2="545.2" y2="33.4" stroke="#000" stroke-width="0.75"/>
<path d="M545.2,33.4 L542.51,31.32 L544.96,30.01 Z" fill="#000" stroke="none"/>
<path d="M622.1,62.7 L622.1,24.3 L622.79,24.3 L623.25,27.16 L623.93,35.18 L624.74,44.35 L625.54,51.22 L626.45,55.8 L627.6,57.52 L628.75,58.09 L629.89,57.52 L631.04,56.37 L632.18,53.51 L633.33,50.07 L634.24,49.5 L635.05,51.22 L636.19,51.22 L637.34,50.65 L637.91,54.66 L639.05,53.51 L640.2,54.66 L641.35,52.36 L642.49,52.94 L643.64,54.66 L644.78,55.8 L645.93,54.66 L647.07,55.23 L648.22,56.95 L649.36,57.52 L650.51,59.24 L651.66,57.52 L652.8,56.37 L653.95,54.66 L655.09,55.23 L656.24,56.95 L657.38,57.52 L658.53,59.24 L659.67,60.38 L660.82,61.53 L661.96,61.3 L663.11,61.53 L664.26,62.1 L665.4,61.53 L666.55,60.96 L667.69,59.24 L668.84,56.95 L669.98,58.66 L671.13,60.38 L672.27,60.96 L673.42,61.3 L674.56,61.53 L675.71,60.96 L676.86,62.67 L676.86,62.7 Z" fill="#000" stroke="none"/>
<line x1="622.1" y1="24.3" x2="622.1" y2="62.7" stroke="#231f20" stroke-width="0.6"/>
<line x1="622.1" y1="62.7" x2="676.6" y2="62.7" stroke="#231f20" stroke-width="0.6"/>
<line x1="635.8" y1="24.3" x2="635.8" y2="62.7" stroke="#ef8a5c" stroke-width="0.65" stroke-dasharray="2.2,1.4"/>
<line x1="649.4" y1="24.3" x2="649.4" y2="62.7" stroke="#ef8a5c" stroke-width="0.65" stroke-dasharray="2.2,1.4"/>
<line x1="663.3" y1="24.3" x2="663.3" y2="62.7" stroke="#ef8a5c" stroke-width="0.65" stroke-dasharray="2.2,1.4"/>
<line x1="629.7" y1="41.6" x2="632.9" y2="47.4" stroke="#000" stroke-width="0.75"/>
<path d="M632.9,47.4 L630.19,45.35 L632.61,44.01 Z" fill="#000" stroke="none"/>
<text x="535.6" y="73" font-size="7.9" text-anchor="middle" stroke="#231f20" stroke-width="0.18">0</text>
<text x="590.4" y="73" font-size="7.9" text-anchor="middle" stroke="#231f20" stroke-width="0.18">0.5</text>
<text x="562.9" y="84.2" font-size="7.9" text-anchor="middle" stroke="#231f20" stroke-width="0.18">Time lag (s)</text>
<text transform="translate(532.2,43.4) rotate(-90)" font-size="7.9" text-anchor="middle" stroke="#231f20" stroke-width="0.18">Fraction</text>
<text x="622.1" y="73" font-size="7.9" text-anchor="middle" stroke="#231f20" stroke-width="0.18">0</text>
<text x="676.6" y="73" font-size="7.9" text-anchor="middle" stroke="#231f20" stroke-width="0.18">0.5</text>
<text x="649.4" y="84.2" font-size="7.9" text-anchor="middle" stroke="#231f20" stroke-width="0.18">Time lag (s)</text>
<text transform="translate(618.8,43.4) rotate(-90)" font-size="7.9" text-anchor="middle" stroke="#231f20" stroke-width="0.18">Fraction</text>
<path d="M537.11,185.1 L537.11,115.29 L537.86,114.36 L538.42,116.23 L539.36,123.71 L540.29,133.07 L541.23,139.62 L542.16,143.36 L544.03,146.17 L546.84,148.97 L549.65,150.85 L551.52,151.78 L553.39,153.65 L555.26,156.46 L558.07,159.27 L561.81,161.14 L565.55,163.01 L569.3,164.88 L573.04,167.69 L576.78,169.56 L580.52,170.49 L584.27,171.8 L588.01,172.74 L591.75,173.86 L595.49,174.61 L599.24,175.55 L602.98,176.11 L606.72,176.67 L610.46,177.04 L613.27,177.6 L613.27,185.1 Z" fill="#000" stroke="none"/>
<line x1="537.1" y1="114.4" x2="537.1" y2="185.1" stroke="#231f20" stroke-width="0.6"/>
<line x1="537.1" y1="185.1" x2="613.4" y2="185.1" stroke="#231f20" stroke-width="0.6"/>
<line x1="556.6" y1="114.4" x2="556.6" y2="185.1" stroke="#ec7b3e" stroke-width="0.75" stroke-dasharray="2.4,1.6"/>
<line x1="576.4" y1="114.4" x2="576.4" y2="185.1" stroke="#ec7b3e" stroke-width="0.75" stroke-dasharray="2.4,1.6"/>
<line x1="596.4" y1="114.4" x2="596.4" y2="185.1" stroke="#ec7b3e" stroke-width="0.75" stroke-dasharray="2.4,1.6"/>
<path d="M552.08,122.78 L553.39,117.16 L555.26,116.23 L556.2,120.91 L557.69,129.33 L559,136.81 L560.88,138.68 L562.75,136.81 L564.62,127.46 L566.49,119.03 L568.36,119.6 L570.23,127.46 L572.1,125.58 L573.97,129.33 L575.85,134.94 L576.78,133.07 L578.65,127.46 L580.52,128.39 L582.4,126.52 L584.27,127.46 L586.14,124.65 L588.01,123.71 L589.88,125.58 L591.75,128.39 L593.62,132.13 L595.49,134.94 L597.37,135.88 L599.24,136.81 L601.11,133.07 L602.98,134.94 L604.85,137.75 L606.72,138.68 L608.59,131.2 L610.46,128.39 L612.34,127.46 L613.65,129.33" stroke="#bcbcbc" stroke-width="1.45" fill="none" stroke-linejoin="round"/>
<line x1="552.1" y1="141.5" x2="613.6" y2="141.5" stroke="#c8c8c8" stroke-width="0.5" stroke-dasharray="1.2,1"/>
<text x="575" y="104.9" font-size="7.9" text-anchor="middle" stroke="#231f20" stroke-width="0.18">Population</text>
<text x="633.5" y="114.4" font-size="7.9" text-anchor="middle" fill="#c4c4c4" stroke="#c4c4c4" stroke-width="0.18">Residual</text>
<text x="633.5" y="123" font-size="7.9" text-anchor="middle" fill="#c4c4c4" stroke="#c4c4c4" stroke-width="0.18">autocorrelation</text>
<line x1="549.9" y1="109.6" x2="552.8" y2="114.8" stroke="#000" stroke-width="0.75"/>
<path d="M552.8,114.8 L550.08,112.76 L552.5,111.41 Z" fill="#000" stroke="none"/>
<line x1="554.2" y1="145.8" x2="551.2" y2="151.2" stroke="#000" stroke-width="0.75"/>
<path d="M551.2,151.2 L551.5,147.81 L553.92,149.16 Z" fill="#000" stroke="none"/>
<text x="537.1" y="195" font-size="7.9" text-anchor="middle" stroke="#231f20" stroke-width="0.18">0</text>
<text x="565.8" y="195" font-size="7.9" text-anchor="middle" stroke="#231f20" stroke-width="0.18">0.2</text>
<text x="598.8" y="195" font-size="7.9" text-anchor="middle" stroke="#231f20" stroke-width="0.18">0.4</text>
<text x="575" y="207.4" font-size="7.9" text-anchor="middle" stroke="#231f20" stroke-width="0.18">Time lag (s)</text>
<text transform="translate(532.6,150) rotate(-90)" font-size="7.9" text-anchor="middle" stroke="#231f20" stroke-width="0.18">Fraction</text>
<line x1="641.2" y1="139.4" x2="641.2" y2="180.9" stroke="#231f20" stroke-width="0.6"/>
<line x1="641.2" y1="180.9" x2="680.5" y2="180.9" stroke="#231f20" stroke-width="0.6"/>
<line x1="641.2" y1="139.7" x2="642.6" y2="139.7" stroke="#231f20" stroke-width="0.6"/>
<line x1="641.2" y1="156.2" x2="642.6" y2="156.2" stroke="#231f20" stroke-width="0.6"/>
<line x1="641.2" y1="172.7" x2="642.6" y2="172.7" stroke="#231f20" stroke-width="0.6"/>
<line x1="660.9" y1="180.9" x2="660.9" y2="179.5" stroke="#231f20" stroke-width="0.6"/>
<line x1="680.5" y1="180.9" x2="680.5" y2="179.5" stroke="#231f20" stroke-width="0.6"/>
<line x1="649.1" y1="139.4" x2="649.1" y2="180.9" stroke="#ec7b3e" stroke-width="0.6" stroke-dasharray="1,0.8"/>
<line x1="651.1" y1="139.4" x2="651.1" y2="180.9" stroke="#bbb" stroke-width="0.5"/>
<path d="M641.2,148.7 L645,144.6 L647.8,142.2 L650.6,141.6 L652.4,142.7 L655.2,145.9 L658,150.6 L660.9,157.1 L663.7,163.7 L665.5,165.6 L668.3,165.9 L671.1,167.4 L674.9,170.2 L678.6,172.1 L680.5,172.7" stroke="#9a9a9a" stroke-width="0.6" fill="none"/>
<text x="639.2" y="142.5" font-size="7.9" text-anchor="end" stroke="#231f20" stroke-width="0.18">−75</text>
<text x="639.2" y="175.5" font-size="7.9" text-anchor="end" stroke="#231f20" stroke-width="0.18">−95</text>
<text transform="translate(624.3,160.9) rotate(-90)" font-size="7.9" text-anchor="middle" stroke="#231f20" stroke-width="0.18">dB</text>
<text x="669.2" y="147.4" font-size="7.9" text-anchor="middle" stroke="#231f20" stroke-width="0.18">9.4 Hz</text>
<text x="641.2" y="191.8" font-size="7.9" text-anchor="middle" stroke="#231f20" stroke-width="0.18">0</text>
<text x="660.9" y="191.8" font-size="7.9" text-anchor="middle" stroke="#231f20" stroke-width="0.18">20</text>
<text x="680.5" y="191.8" font-size="7.9" text-anchor="middle" stroke="#231f20" stroke-width="0.18">40</text>
<text x="661.8" y="203" font-size="7.9" text-anchor="middle" stroke="#231f20" stroke-width="0.18">Frequency</text>
<text x="661.8" y="212" font-size="7.9" text-anchor="middle" stroke="#231f20" stroke-width="0.18">(Hz)</text>
<line x1="46.8" y1="263" x2="46.8" y2="328.3" stroke="#231f20" stroke-width="0.6"/>
<line x1="46.8" y1="328.3" x2="111.4" y2="328.3" stroke="#231f20" stroke-width="0.6"/>
<line x1="46.8" y1="265.5" x2="48.2" y2="265.5" stroke="#231f20" stroke-width="0.6"/>
<text x="43.1" y="268.3" font-size="7.9" text-anchor="end" stroke="#231f20" stroke-width="0.18">540</text>
<line x1="46.8" y1="292.8" x2="48.2" y2="292.8" stroke="#231f20" stroke-width="0.6"/>
<text x="43.1" y="295.6" font-size="7.9" text-anchor="end" stroke="#231f20" stroke-width="0.18">180</text>
<line x1="46.8" y1="320" x2="48.2" y2="320" stroke="#231f20" stroke-width="0.6"/>
<text x="43.1" y="322.8" font-size="7.9" text-anchor="end" stroke="#231f20" stroke-width="0.18">−180</text>
<line x1="51.9" y1="328.3" x2="51.9" y2="326.9" stroke="#231f20" stroke-width="0.6"/>
<text x="51.9" y="338.6" font-size="7.9" text-anchor="middle" stroke="#231f20" stroke-width="0.18">10.5</text>
<line x1="106.3" y1="328.3" x2="106.3" y2="326.9" stroke="#231f20" stroke-width="0.6"/>
<text x="106.3" y="338.6" font-size="7.9" text-anchor="middle" stroke="#231f20" stroke-width="0.18">12.0</text>
<line x1="94.2" y1="263" x2="94.2" y2="328.3" stroke="#333" stroke-width="0.5" stroke-dasharray="1.6,0.9"/>
<path d="M56.09,266.08h1.3 M56.09,293.48h1.3 M61.44,268.02h1.3 M61.44,295.42h1.3 M59.34,271.93h1.3 M59.34,299.33h1.3 M64.87,269.37h1.3 M64.87,296.77h1.3 M73.86,270.64h1.3 M73.86,298.04h1.3 M72.98,271.66h1.3 M72.98,299.06h1.3 M72.41,273.02h1.3 M72.41,300.42h1.3 M77.41,272.35h1.3 M77.41,299.75h1.3 M69.73,275.64h1.3 M69.73,303.04h1.3 M70.41,276.57h1.3 M70.41,303.97h1.3 M76.75,276.78h1.3 M76.75,304.18h1.3 M77.67,277.34h1.3 M77.67,304.74h1.3 M74.59,284.77h1.3 M74.59,312.17h1.3 M72.28,287.73h1.3 M72.28,315.13h1.3 M72.73,288.85h1.3 M72.73,316.25h1.3 M76.63,291.75h1.3 M76.63,319.15h1.3 M83.23,271.84h1.3 M83.23,299.24h1.3 M84.62,271.03h1.3 M84.62,298.43h1.3 M83.02,274.01h1.3 M83.02,301.41h1.3 M82.49,275.65h1.3 M82.49,303.05h1.3 M82.36,277.6h1.3 M82.36,305h1.3 M81.25,279.9h1.3 M81.25,307.3h1.3 M82.22,280.64h1.3 M82.22,308.04h1.3 M84.83,281.03h1.3 M84.83,308.43h1.3 M86.37,281.38h1.3 M86.37,308.78h1.3 M84.22,274.84h1.3 M84.22,302.24h1.3 M88.15,272.48h1.3 M88.15,299.88h1.3 M90.32,270.94h1.3 M90.32,298.34h1.3 M93.05,267.26h1.3 M93.05,294.66h1.3 M92.46,268.06h1.3 M92.46,295.46h1.3 M89.76,283.98h1.3 M89.76,311.38h1.3 M91.05,289.35h1.3 M91.05,316.75h1.3 M92.24,290.87h1.3 M92.24,318.27h1.3 M96.77,271.9h1.3 M96.77,299.3h1.3 M97.65,271.04h1.3 M97.65,298.44h1.3 M98.29,272.75h1.3 M98.29,300.15h1.3 M99.93,271.73h1.3 M99.93,299.13h1.3 M100.88,274.82h1.3 M100.88,302.22h1.3 M96.49,274.82h1.3 M96.49,302.22h1.3 M93.75,277.39h1.3 M93.75,304.79h1.3 M94.16,278.82h1.3 M94.16,306.22h1.3 M95.23,278.04h1.3 M95.23,305.44h1.3 M96.48,279.17h1.3 M96.48,306.57h1.3 M91.73,276.6h1.3 M91.73,304h1.3 M92.76,277.37h1.3 M92.76,304.77h1.3 M94.34,282.49h1.3 M94.34,309.89h1.3 M101.39,264.51h1.3 M101.39,291.91h1.3 M103.98,267.1h1.3 M103.98,294.5h1.3 M105.39,275.93h1.3 M105.39,303.33h1.3 M106.96,278.16h1.3 M106.96,305.56h1.3 M107.7,279.74h1.3 M107.7,307.14h1.3 M108.67,278.97h1.3 M108.67,306.37h1.3 M106.27,282.6h1.3 M106.27,310h1.3 M105.56,283.49h1.3 M105.56,310.89h1.3 M105.01,285.47h1.3 M105.01,312.87h1.3 M104.16,288.75h1.3 M104.16,316.15h1.3 M97.53,271.31h1.3 M97.53,298.71h1.3 M98.51,271.71h1.3 M98.51,299.11h1.3 M98.01,273.71h1.3 M98.01,301.11h1.3 M99.05,275.96h1.3 M99.05,303.36h1.3 M96.31,276.42h1.3 M96.31,303.82h1.3 M97.1,277.4h1.3 M97.1,304.8h1.3 M99.38,278.05h1.3 M99.38,305.45h1.3 M90.7,279.45h1.3 M90.7,306.85h1.3 M85.51,279.85h1.3 M85.51,307.25h1.3 M84.18,277.84h1.3 M84.18,305.24h1.3 M86.11,274.7h1.3 M86.11,302.1h1.3 M107.62,281.32h1.3 M107.62,308.72h1.3 M106.7,283.84h1.3 M106.7,311.24h1.3 M47.55,289.4h1.3 M47.55,316.8h1.3 " stroke="#333" stroke-width="1.3" fill="none"/>
<line x1="46.5" y1="352" x2="46.5" y2="417.4" stroke="#231f20" stroke-width="0.6"/>
<line x1="46.5" y1="417.4" x2="111.8" y2="417.4" stroke="#231f20" stroke-width="0.6"/>
<line x1="46.5" y1="354.6" x2="47.9" y2="354.6" stroke="#231f20" stroke-width="0.6"/>
<text x="42.8" y="357.4" font-size="7.9" text-anchor="end" stroke="#231f20" stroke-width="0.18">540</text>
<line x1="46.5" y1="382.2" x2="47.9" y2="382.2" stroke="#231f20" stroke-width="0.6"/>
<text x="42.8" y="385" font-size="7.9" text-anchor="end" stroke="#231f20" stroke-width="0.18">180</text>
<line x1="46.5" y1="409.8" x2="47.9" y2="409.8" stroke="#231f20" stroke-width="0.6"/>
<text x="42.8" y="412.6" font-size="7.9" text-anchor="end" stroke="#231f20" stroke-width="0.18">−180</text>
<line x1="51" y1="417.4" x2="51" y2="416" stroke="#231f20" stroke-width="0.6"/>
<text x="51" y="427.7" font-size="7.9" text-anchor="middle" stroke="#231f20" stroke-width="0.18">4.6</text>
<line x1="105" y1="417.4" x2="105" y2="416" stroke="#231f20" stroke-width="0.6"/>
<text x="105" y="427.7" font-size="7.9" text-anchor="middle" stroke="#231f20" stroke-width="0.18">5.8</text>
<line x1="100" y1="352" x2="100" y2="417.4" stroke="#333" stroke-width="0.5" stroke-dasharray="1.6,0.9"/>
<path d="M60.25,356h1.3 M60.25,383.6h1.3 M61.85,358.3h1.3 M61.85,385.9h1.3 M61.05,360.7h1.3 M61.05,388.3h1.3 M64.95,374h1.3 M64.95,401.6h1.3 M66.55,375.8h1.3 M66.55,403.4h1.3 M65.75,378.2h1.3 M65.75,405.8h1.3 M72.95,370.2h1.3 M72.95,397.8h1.3 M72.15,372.6h1.3 M72.15,400.2h1.3 M76.05,356h1.3 M76.05,383.6h1.3 M75.35,363h1.3 M75.35,390.6h1.3 M84.05,360.7h1.3 M84.05,388.3h1.3 M84.85,364h1.3 M84.85,391.6h1.3 M85.65,370.2h1.3 M85.65,397.8h1.3 M84.35,366.5h1.3 M84.35,394.1h1.3 M83.55,368h1.3 M83.55,395.6h1.3 M47.55,357.5h1.3 M47.55,385.1h1.3 M50.65,381.3h1.3 M50.65,408.9h1.3 M104.62,355.5h1.3 M104.62,383.1h1.3 M88.35,378.44h1.3 M88.35,406.04h1.3 M104.42,380.63h1.3 M104.42,408.23h1.3 M102.62,378.91h1.3 M102.62,406.51h1.3 M100.8,371.5h1.3 M100.8,399.1h1.3 M100.24,362.28h1.3 M100.24,389.88h1.3 M95.12,362.81h1.3 M95.12,390.41h1.3 M96.45,369.28h1.3 M96.45,396.88h1.3 M105.81,357.26h1.3 M105.81,384.86h1.3 M99.22,373.66h1.3 M99.22,401.26h1.3 M94.82,356.19h1.3 M94.82,383.79h1.3 M99.76,368.66h1.3 M99.76,396.26h1.3 M91.36,374.28h1.3 M91.36,401.88h1.3 M101.13,364.59h1.3 M101.13,392.19h1.3 M105.39,376.98h1.3 M105.39,404.58h1.3 M100.89,369.83h1.3 M100.89,397.43h1.3 M103.83,371.99h1.3 M103.83,399.59h1.3 M104.78,371.35h1.3 M104.78,398.95h1.3 M98.23,361.56h1.3 M98.23,389.16h1.3 M102.34,370.93h1.3 M102.34,398.53h1.3 M95.04,371.14h1.3 M95.04,398.74h1.3 M97.53,363.54h1.3 M97.53,391.14h1.3 M101.32,378.43h1.3 M101.32,406.03h1.3 M98.61,369.28h1.3 M98.61,396.88h1.3 M99.84,359.71h1.3 M99.84,387.31h1.3 M103.31,377.38h1.3 M103.31,404.98h1.3 M98.15,364.92h1.3 M98.15,392.52h1.3 M91.84,376.03h1.3 M91.84,403.63h1.3 M97.39,367.21h1.3 M97.39,394.81h1.3 M97,364.94h1.3 M97,392.54h1.3 M104.19,373.78h1.3 M104.19,401.38h1.3 M102.22,378.11h1.3 M102.22,405.71h1.3 M93.12,361.97h1.3 M93.12,389.57h1.3 M89.93,355.96h1.3 M89.93,383.56h1.3 M100.36,365.21h1.3 M100.36,392.81h1.3 M93.96,358.93h1.3 M93.96,386.53h1.3 M97.3,364.34h1.3 M97.3,391.94h1.3 M94.81,363.25h1.3 M94.81,390.85h1.3 M94.17,357.96h1.3 M94.17,385.56h1.3 M97.39,370.55h1.3 M97.39,398.15h1.3 M91.87,354.23h1.3 M91.87,381.83h1.3 M105.26,371.33h1.3 M105.26,398.93h1.3 M93.15,359.61h1.3 M93.15,387.21h1.3 M97.9,368.99h1.3 M97.9,396.59h1.3 M94.75,361.32h1.3 M94.75,388.92h1.3 M102.68,376.6h1.3 M102.68,404.2h1.3 M93.82,366.46h1.3 M93.82,394.06h1.3 M94.85,380.2h1.3 M94.85,407.8h1.3 M94.58,360.9h1.3 M94.58,388.5h1.3 M97.74,366.73h1.3 M97.74,394.33h1.3 M101.83,371.7h1.3 M101.83,399.3h1.3 M98.08,374.33h1.3 M98.08,401.93h1.3 M88.35,370.14h1.3 M88.35,397.74h1.3 M96.82,356.64h1.3 M96.82,384.24h1.3 M88.35,375.02h1.3 M88.35,402.62h1.3 M95.6,376.37h1.3 M95.6,403.97h1.3 M103.64,379.29h1.3 M103.64,406.89h1.3 M105.52,372.46h1.3 M105.52,400.06h1.3 M100.09,361.83h1.3 M100.09,389.43h1.3 M100.38,364.55h1.3 M100.38,392.15h1.3 M101.4,367.67h1.3 M101.4,395.27h1.3 M104.52,378.03h1.3 M104.52,405.63h1.3 M105.54,366.79h1.3 M105.54,394.39h1.3 M90.25,356.27h1.3 M90.25,383.87h1.3 M96.46,364.75h1.3 M96.46,392.35h1.3 M100.84,369.63h1.3 M100.84,397.23h1.3 M103.95,375.84h1.3 M103.95,403.44h1.3 M101.71,365.23h1.3 M101.71,392.83h1.3 M107.97,379.13h1.3 M107.97,406.73h1.3 M104.89,375.93h1.3 M104.89,403.53h1.3 M105.7,376.15h1.3 M105.7,403.75h1.3 M100.44,368.85h1.3 M100.44,396.45h1.3 M95.81,358.81h1.3 M95.81,386.41h1.3 M98.62,365.03h1.3 M98.62,392.63h1.3 M94.44,372.16h1.3 M94.44,399.76h1.3 M94.44,358.32h1.3 M94.44,385.92h1.3 M110.55,378.57h1.3 M110.55,406.17h1.3 M103.18,375.33h1.3 M103.18,402.93h1.3 M98.31,357.79h1.3 M98.31,385.39h1.3 M91.58,355.95h1.3 M91.58,383.55h1.3 M101.45,358.32h1.3 M101.45,385.92h1.3 M100.11,364.29h1.3 M100.11,391.89h1.3 M103.83,373.7h1.3 M103.83,401.3h1.3 M95.34,358.94h1.3 M95.34,386.54h1.3 M99.59,373.99h1.3 M99.59,401.59h1.3 M110.55,356.31h1.3 M110.55,383.91h1.3 M100,371.24h1.3 M100,398.84h1.3 M99.58,370.65h1.3 M99.58,398.25h1.3 M101.7,370.31h1.3 M101.7,397.91h1.3 M95.82,363.1h1.3 M95.82,390.7h1.3 M104.32,374.33h1.3 M104.32,401.93h1.3 M107.39,355.46h1.3 M107.39,383.06h1.3 M99.18,375.95h1.3 M99.18,403.55h1.3 M94.22,366.21h1.3 M94.22,393.81h1.3 M109.14,379.28h1.3 M109.14,406.88h1.3 M99.36,372.08h1.3 M99.36,399.68h1.3 M107.05,380.07h1.3 M107.05,407.67h1.3 M101.13,374.45h1.3 M101.13,402.05h1.3 M101.24,363.57h1.3 M101.24,391.17h1.3 M99,366.71h1.3 M99,394.31h1.3 M92.45,359.87h1.3 M92.45,387.47h1.3 M96.23,366.85h1.3 M96.23,394.45h1.3 M92.49,380.71h1.3 M92.49,408.31h1.3 M92.65,364.75h1.3 M92.65,392.35h1.3 M106.31,356.83h1.3 M106.31,384.43h1.3 M107.32,355.28h1.3 M107.32,382.88h1.3 M104.41,365.36h1.3 M104.41,392.96h1.3 M101.58,367.72h1.3 M101.58,395.32h1.3 M98.33,359.47h1.3 M98.33,387.07h1.3 M106.51,377.9h1.3 M106.51,405.5h1.3 M92.51,360.52h1.3 M92.51,388.12h1.3 M99.5,361.94h1.3 M99.5,389.54h1.3 M98.28,361.53h1.3 M98.28,389.13h1.3 M88.35,371.49h1.3 M88.35,399.09h1.3 M102.08,372.33h1.3 M102.08,399.93h1.3 M100.8,362.56h1.3 M100.8,390.16h1.3 M96.38,362.91h1.3 M96.38,390.51h1.3 M102.8,366.99h1.3 M102.8,394.59h1.3 M94.05,365.3h1.3 M94.05,392.9h1.3 M99.68,365.12h1.3 M99.68,392.72h1.3 M95.65,358.15h1.3 M95.65,385.75h1.3 M107.27,354.95h1.3 M107.27,382.55h1.3 M97.26,357.26h1.3 M97.26,384.86h1.3 M107.72,358.68h1.3 M107.72,386.28h1.3 M105.37,379.28h1.3 M105.37,406.88h1.3 M89.91,374.59h1.3 M89.91,402.19h1.3 M102.17,369.04h1.3 M102.17,396.64h1.3 M100.63,365.66h1.3 M100.63,393.26h1.3 M96.06,365.02h1.3 M96.06,392.62h1.3 M97.35,363.88h1.3 M97.35,391.48h1.3 M100.63,369.6h1.3 M100.63,397.2h1.3 M105.14,354.1h1.3 M105.14,381.7h1.3 M92.51,355.86h1.3 M92.51,383.46h1.3 M96.11,366.11h1.3 M96.11,393.71h1.3 M94,363.32h1.3 M94,390.92h1.3 M102.84,374.43h1.3 M102.84,402.03h1.3 M94.47,358.82h1.3 M94.47,386.42h1.3 M93.93,361.26h1.3 M93.93,388.86h1.3 M104.11,365.25h1.3 M104.11,392.85h1.3 M95.2,360.09h1.3 M95.2,387.69h1.3 M96.68,370.73h1.3 M96.68,398.33h1.3 M98.61,366.92h1.3 M98.61,394.52h1.3 M93.78,367.01h1.3 M93.78,394.61h1.3 M100.16,371.77h1.3 M100.16,399.37h1.3 M99.77,356.18h1.3 M99.77,383.78h1.3 M91.35,376.56h1.3 M91.35,404.16h1.3 M101.69,367.19h1.3 M101.69,394.79h1.3 M101.48,371.05h1.3 M101.48,398.65h1.3 M100.59,373.11h1.3 M100.59,400.71h1.3 M100.25,359.33h1.3 M100.25,386.93h1.3 " stroke="#333" stroke-width="1.3" fill="none"/>
<text transform="translate(19.3,297) rotate(-90)" font-size="7.9" text-anchor="middle" stroke="#231f20" stroke-width="0.18">Spike phase (°)</text>
<text transform="translate(19.1,385.2) rotate(-90)" font-size="7.9" text-anchor="middle" stroke="#231f20" stroke-width="0.18">Spike phase (°)</text>
<text x="79.1" y="439.5" font-size="7.9" text-anchor="middle" stroke="#231f20" stroke-width="0.18">Distance (m)</text>
<line x1="185.5" y1="238.3" x2="185.5" y2="296" stroke="#f4b090" stroke-width="0.85" stroke-dasharray="3.6,1.6"/>
<line x1="198" y1="238.3" x2="198" y2="296" stroke="#f4b090" stroke-width="0.85" stroke-dasharray="3.6,1.6"/>
<line x1="210.5" y1="238.3" x2="210.5" y2="296" stroke="#f4b090" stroke-width="0.85" stroke-dasharray="3.6,1.6"/>
<line x1="222.7" y1="238.3" x2="222.7" y2="296" stroke="#f4b090" stroke-width="0.85" stroke-dasharray="3.6,1.6"/>
<line x1="234.6" y1="238.3" x2="234.6" y2="296" stroke="#f4b090" stroke-width="0.85" stroke-dasharray="3.6,1.6"/>
<line x1="246.6" y1="238.3" x2="246.6" y2="296" stroke="#f4b090" stroke-width="0.85" stroke-dasharray="3.6,1.6"/>
<line x1="258.8" y1="238.3" x2="258.8" y2="296" stroke="#f4b090" stroke-width="0.85" stroke-dasharray="3.6,1.6"/>
<line x1="270.7" y1="238.3" x2="270.7" y2="296" stroke="#f4b090" stroke-width="0.85" stroke-dasharray="3.6,1.6"/>
<line x1="282.6" y1="238.3" x2="282.6" y2="296" stroke="#f4b090" stroke-width="0.85" stroke-dasharray="3.6,1.6"/>
<line x1="294.3" y1="238.3" x2="294.3" y2="296" stroke="#f4b090" stroke-width="0.85" stroke-dasharray="3.6,1.6"/>
<line x1="306.8" y1="238.3" x2="306.8" y2="296" stroke="#f4b090" stroke-width="0.85" stroke-dasharray="3.6,1.6"/>
<line x1="318.4" y1="238.3" x2="318.4" y2="296" stroke="#f4b090" stroke-width="0.85" stroke-dasharray="3.6,1.6"/>
<line x1="330.3" y1="238.3" x2="330.3" y2="296" stroke="#f4b090" stroke-width="0.85" stroke-dasharray="3.6,1.6"/>
<line x1="342" y1="238.3" x2="342" y2="296" stroke="#f4b090" stroke-width="0.85" stroke-dasharray="3.6,1.6"/>
<line x1="353.9" y1="238.3" x2="353.9" y2="296" stroke="#f4b090" stroke-width="0.85" stroke-dasharray="3.6,1.6"/>
<line x1="366.5" y1="238.3" x2="366.5" y2="296" stroke="#f4b090" stroke-width="0.85" stroke-dasharray="3.6,1.6"/>
<g filter="url(#bl2)">
<path d="M183.3,291.22 L183.8,291.39 L184.3,291.24 L184.8,290.91 L185.3,290.56 L185.8,290.69 L186.3,290.68 L186.8,290.84 L187.3,290.39 L187.8,290.61 L188.3,290.41 L188.8,290.78 L189.3,290.45 L189.8,290.35 L190.3,290.27 L190.8,290.38 L191.3,290.37 L191.8,290.22 L192.3,290.16 L192.8,290 L193.3,289.73 L193.8,289.64 L194.3,289.63 L194.8,289.52 L195.3,289.28 L195.8,289.27 L196.3,289.35 L196.8,289.17 L197.3,289.17 L197.8,289.4 L198.3,289.48 L198.8,289.23 L199.3,289.01 L199.8,289.04 L200.3,288.99 L200.8,288.89 L201.3,288.83 L201.8,288.79 L202.3,288.58 L202.8,288.53 L203.3,288.67 L203.8,289.05 L204.3,288.84 L204.8,288.75 L205.3,288.5 L205.8,288.48 L206.3,288.62 L206.8,288.79 L207.3,288.82 L207.8,288.89 L208.3,288.79 L208.8,288.87 L209.3,288.56 L209.8,288.43 L210.3,287.96 L210.8,287.85 L211.3,287.64 L211.8,287.42 L212.3,287.18 L212.8,286.82 L213.3,286.98 L213.8,286.6 L214.3,286.38 L214.8,286.05 L215.3,285.73 L215.8,285.57 L216.3,285.24 L216.8,285.22 L217.3,284.78 L217.8,284.73 L218.3,284.49 L218.8,284.3 L219.3,283.98 L219.8,283.84 L220.3,283.91 L220.8,283.3 L221.3,282.97 L221.8,282.45 L222.3,282.38 L222.8,281.74 L223.3,281.54 L223.8,281.02 L224.3,280.95 L224.8,280.8 L225.3,280.86 L225.8,281.1 L226.3,281.16 L226.8,281.97 L227.3,282.77 L227.8,283.83 L228.3,283.75 L228.8,283.24 L229.3,282.46 L229.8,282.29 L230.3,281.73 L230.8,280.72 L231.3,279.71 L231.8,278.8 L232.3,278.04 L232.8,277.07 L233.3,276.56 L233.8,276.31 L234.3,276.27 L234.8,276.02 L235.3,275.61 L235.8,275.39 L236.3,275.48 L236.8,275.52 L237.3,275.21 L237.8,275.14 L238.3,275.26 L238.8,275.92 L239.3,275.79 L239.8,275.71 L240.3,275.2 L240.8,275.5 L241.3,276.31 L241.8,277 L242.3,277.53 L242.8,278.11 L243.3,279.03 L243.8,280 L244.3,280.03 L244.8,279.65 L245.3,278.59 L245.8,277.37 L246.3,276.26 L246.8,274.92 L247.3,274.02 L247.8,272.65 L248.3,271.61 L248.8,270.82 L249.3,270.14 L249.8,269.37 L250.3,268.04 L250.8,266.97 L251.3,265.62 L251.8,264.84 L252.3,264.4 L252.8,264.62 L253.3,264.93 L253.8,265.47 L254.3,266 L254.8,266.41 L255.3,266.63 L255.8,266.78 L256.3,266.74 L256.8,266.35 L257.3,266.22 L257.8,266.22 L258.3,266.59 L258.8,266.55 L259.3,266.24 L259.8,265.77 L260.3,265.84 L260.8,265.85 L261.3,265.94 L261.8,265.53 L262.3,264.79 L262.8,264.08 L263.3,263.33 L263.8,263.09 L264.3,262.69 L264.8,262.5 L265.3,262.54 L265.8,262.53 L266.3,262.79 L266.8,262.9 L267.3,263.3 L267.8,263.27 L268.3,263.46 L268.8,263.54 L269.3,263.64 L269.8,263.35 L270.3,262.65 L270.8,261.61 L271.3,260.48 L271.8,259.34 L272.3,258.42 L272.8,257.49 L273.3,256.85 L273.8,255.9 L274.3,255.43 L274.8,254.59 L275.3,254.08 L275.8,253.41 L276.3,253.26 L276.8,253.56 L277.3,253.8 L277.8,254.03 L278.3,254.15 L278.8,254.78 L279.3,255.3 L279.8,255.6 L280.3,255.74 L280.8,255.82 L281.3,256.79 L281.8,257.15 L282.3,258.26 L282.8,258.85 L283.3,259.65 L283.8,260.1 L284.3,259.87 L284.8,259.08 L285.3,257.5 L285.8,255.87 L286.3,254.12 L286.8,252.36 L287.3,250.38 L287.8,248.66 L288.3,247.27 L288.8,247.3 L289.3,248.02 L289.8,249.32 L290.3,250.53 L290.8,252.16 L291.3,253.75 L291.8,254.57 L292.3,254.88 L292.8,254.65 L293.3,254.52 L293.8,254.22 L294.3,253.72 L294.8,253.58 L295.3,253.2 L295.8,253.28 L296.3,252.81 L296.8,252.53 L297.3,252.3 L297.8,252.49 L298.3,252.83 L298.8,252.76 L299.3,252.54 L299.8,251.91 L300.3,251.26 L300.8,250.77 L301.3,250.56 L301.8,250.48 L302.3,250.17 L302.8,249.86 L303.3,249.46 L303.8,248.84 L304.3,248.09 L304.8,247.32 L305.3,246.5 L305.8,245.98 L306.3,245.86 L306.8,245.52 L307.3,245.13 L307.8,244.91 L308.3,245.3 L308.8,245.86 L309.3,246.2 L309.8,246.76 L310.3,247.49 L310.8,248.25 L311.3,248.58 L311.8,248.77 L312.3,249.05 L312.8,249.19 L313.3,248.87 L313.8,248.8 L314.3,248.42 L314.8,248.48 L315.3,248.1 L315.8,247.99 L316.3,247.99 L316.8,247.87 L317.3,247.66 L317.8,247.3 L318.3,246.92 L318.8,246.54 L319.3,246.07 L319.8,245.93 L320.3,246.1 L320.8,245.98 L321.3,245.71 L321.8,245.47 L322.3,245.22 L322.8,245.22 L323.3,244.98 L323.8,244.88 L324.3,244.59 L324.8,244.21 L325.3,243.85 L325.8,243.84 L326.3,243.89 L326.8,243.79 L327.3,243.42 L327.8,243.11 L328.3,243.03 L328.8,242.7 L329.3,242.75 L329.8,242.52 L330.3,243.1 L330.8,243.28 L331.3,243.59 L331.8,243.64 L332.3,243.73 L332.8,243.79 L333.3,243.09 L333.8,242.62 L334.3,242.6 L334.8,241.98 L335.3,241.51 L335.8,240.58 L336.3,240.74 L336.8,240.33 L337.3,240.13 L337.8,240.12 L338.3,240.36 L338.8,240.77 L339.3,240.52 L339.8,240.51 L340.3,240.67 L340.8,240.61 L341.3,240.38 L341.8,239.83 L342.3,239.9 L342.8,240.14 L343.3,240.12 L343.8,239.95 L344.3,239.79 L344.8,240.16 L345.3,240.45 L345.8,239.91 L346.3,239.43 L346.8,239.07 L347.3,239.63 L347.8,239.63 L348.3,240.1 L348.8,240.15 L349.3,240.33 L349.8,240.03 L350.3,239.87 L350.8,239.78 L351.3,239.97 L351.8,240.11 L352.3,240.06 L352.8,240.15 L353.3,240.18 L353.8,240.32 L354.3,240.07 L354.8,240.04 L355.3,240.04 L355.8,239.8 L356.3,240.16 L356.8,240.45 L357.3,240.96 L357.8,241.01 L358.3,241.01 L358.8,241.11 L359.3,240.52 L359.8,240.41 L360.3,240.44 L360.8,241.12 L361.3,241.46 L361.8,241.61 L362.3,241.15 L362.8,240.48 L363.3,240.3 L363.8,240.43 L364.3,240.85 L364.8,240.62 L365.3,240.53 L365.8,240 L366.3,239.98 L366.8,239.75 L367.3,239.95 L367.8,239.85 L368.3,239.84 L368.8,239.81 L369.3,239.73 L369.8,239.88 L370.3,239.91 L370.8,239.82 L371.3,239.59 L371.8,239.8 L372.3,239.88 L372.8,240.14 L373.3,239.91 L373.8,239.84 L374.3,239.55 L374.8,239.5 L375.3,239.64 L375.8,239.87 L376.3,239.63 L376.8,239.49 L377.3,239.37 L377.8,239.85 L378.3,239.56 L378.8,239.65 L379.3,239.38" stroke="#9c9c9c" stroke-width="3.8" fill="none" stroke-linejoin="round" opacity="0.8"/>
<line x1="201.7" y1="283.5" x2="201.7" y2="288.5" stroke="#a0a0a0" stroke-width="1.5"/>
<line x1="233.2" y1="271" x2="233.2" y2="280" stroke="#a0a0a0" stroke-width="1.5"/>
<line x1="284.1" y1="258" x2="284.6" y2="267" stroke="#a0a0a0" stroke-width="1.5"/>
<line x1="288.5" y1="241" x2="288.5" y2="250" stroke="#a0a0a0" stroke-width="1.5"/>
<line x1="264.7" y1="257" x2="264.7" y2="263" stroke="#a0a0a0" stroke-width="1.5"/>
<line x1="332.4" y1="244" x2="332.6" y2="255" stroke="#a0a0a0" stroke-width="1.5"/>
</g><g filter="url(#bl)">
<path d="M183.3,291.22 L183.8,291.39 L184.3,291.24 L184.8,290.91 L185.3,290.56 L185.8,290.69 L186.3,290.68 L186.8,290.84 L187.3,290.39 L187.8,290.61 L188.3,290.41 L188.8,290.78 L189.3,290.45 L189.8,290.35 L190.3,290.27 L190.8,290.38 L191.3,290.37 L191.8,290.22 L192.3,290.16 L192.8,290 L193.3,289.73 L193.8,289.64 L194.3,289.63 L194.8,289.52 L195.3,289.28 L195.8,289.27 L196.3,289.35 L196.8,289.17 L197.3,289.17 L197.8,289.4 L198.3,289.48 L198.8,289.23 L199.3,289.01 L199.8,289.04 L200.3,288.99 L200.8,288.89 L201.3,288.83 L201.8,288.79 L202.3,288.58 L202.8,288.53 L203.3,288.67 L203.8,289.05 L204.3,288.84 L204.8,288.75 L205.3,288.5 L205.8,288.48 L206.3,288.62 L206.8,288.79 L207.3,288.82 L207.8,288.89 L208.3,288.79 L208.8,288.87 L209.3,288.56 L209.8,288.43 L210.3,287.96 L210.8,287.85 L211.3,287.64 L211.8,287.42 L212.3,287.18 L212.8,286.82 L213.3,286.98 L213.8,286.6 L214.3,286.38 L214.8,286.05 L215.3,285.73 L215.8,285.57 L216.3,285.24 L216.8,285.22 L217.3,284.78 L217.8,284.73 L218.3,284.49 L218.8,284.3 L219.3,283.98 L219.8,283.84 L220.3,283.91 L220.8,283.3 L221.3,282.97 L221.8,282.45 L222.3,282.38 L222.8,281.74 L223.3,281.54 L223.8,281.02 L224.3,280.95 L224.8,280.8 L225.3,280.86 L225.8,281.1 L226.3,281.16 L226.8,281.97 L227.3,282.77 L227.8,283.83 L228.3,283.75 L228.8,283.24 L229.3,282.46 L229.8,282.29 L230.3,281.73 L230.8,280.72 L231.3,279.71 L231.8,278.8 L232.3,278.04 L232.8,277.07 L233.3,276.56 L233.8,276.31 L234.3,276.27 L234.8,276.02 L235.3,275.61 L235.8,275.39 L236.3,275.48 L236.8,275.52 L237.3,275.21 L237.8,275.14 L238.3,275.26 L238.8,275.92 L239.3,275.79 L239.8,275.71 L240.3,275.2 L240.8,275.5 L241.3,276.31 L241.8,277 L242.3,277.53 L242.8,278.11 L243.3,279.03 L243.8,280 L244.3,280.03 L244.8,279.65 L245.3,278.59 L245.8,277.37 L246.3,276.26 L246.8,274.92 L247.3,274.02 L247.8,272.65 L248.3,271.61 L248.8,270.82 L249.3,270.14 L249.8,269.37 L250.3,268.04 L250.8,266.97 L251.3,265.62 L251.8,264.84 L252.3,264.4 L252.8,264.62 L253.3,264.93 L253.8,265.47 L254.3,266 L254.8,266.41 L255.3,266.63 L255.8,266.78 L256.3,266.74 L256.8,266.35 L257.3,266.22 L257.8,266.22 L258.3,266.59 L258.8,266.55 L259.3,266.24 L259.8,265.77 L260.3,265.84 L260.8,265.85 L261.3,265.94 L261.8,265.53 L262.3,264.79 L262.8,264.08 L263.3,263.33 L263.8,263.09 L264.3,262.69 L264.8,262.5 L265.3,262.54 L265.8,262.53 L266.3,262.79 L266.8,262.9 L267.3,263.3 L267.8,263.27 L268.3,263.46 L268.8,263.54 L269.3,263.64 L269.8,263.35 L270.3,262.65 L270.8,261.61 L271.3,260.48 L271.8,259.34 L272.3,258.42 L272.8,257.49 L273.3,256.85 L273.8,255.9 L274.3,255.43 L274.8,254.59 L275.3,254.08 L275.8,253.41 L276.3,253.26 L276.8,253.56 L277.3,253.8 L277.8,254.03 L278.3,254.15 L278.8,254.78 L279.3,255.3 L279.8,255.6 L280.3,255.74 L280.8,255.82 L281.3,256.79 L281.8,257.15 L282.3,258.26 L282.8,258.85 L283.3,259.65 L283.8,260.1 L284.3,259.87 L284.8,259.08 L285.3,257.5 L285.8,255.87 L286.3,254.12 L286.8,252.36 L287.3,250.38 L287.8,248.66 L288.3,247.27 L288.8,247.3 L289.3,248.02 L289.8,249.32 L290.3,250.53 L290.8,252.16 L291.3,253.75 L291.8,254.57 L292.3,254.88 L292.8,254.65 L293.3,254.52 L293.8,254.22 L294.3,253.72 L294.8,253.58 L295.3,253.2 L295.8,253.28 L296.3,252.81 L296.8,252.53 L297.3,252.3 L297.8,252.49 L298.3,252.83 L298.8,252.76 L299.3,252.54 L299.8,251.91 L300.3,251.26 L300.8,250.77 L301.3,250.56 L301.8,250.48 L302.3,250.17 L302.8,249.86 L303.3,249.46 L303.8,248.84 L304.3,248.09 L304.8,247.32 L305.3,246.5 L305.8,245.98 L306.3,245.86 L306.8,245.52 L307.3,245.13 L307.8,244.91 L308.3,245.3 L308.8,245.86 L309.3,246.2 L309.8,246.76 L310.3,247.49 L310.8,248.25 L311.3,248.58 L311.8,248.77 L312.3,249.05 L312.8,249.19 L313.3,248.87 L313.8,248.8 L314.3,248.42 L314.8,248.48 L315.3,248.1 L315.8,247.99 L316.3,247.99 L316.8,247.87 L317.3,247.66 L317.8,247.3 L318.3,246.92 L318.8,246.54 L319.3,246.07 L319.8,245.93 L320.3,246.1 L320.8,245.98 L321.3,245.71 L321.8,245.47 L322.3,245.22 L322.8,245.22 L323.3,244.98 L323.8,244.88 L324.3,244.59 L324.8,244.21 L325.3,243.85 L325.8,243.84 L326.3,243.89 L326.8,243.79 L327.3,243.42 L327.8,243.11 L328.3,243.03 L328.8,242.7 L329.3,242.75 L329.8,242.52 L330.3,243.1 L330.8,243.28 L331.3,243.59 L331.8,243.64 L332.3,243.73 L332.8,243.79 L333.3,243.09 L333.8,242.62 L334.3,242.6 L334.8,241.98 L335.3,241.51 L335.8,240.58 L336.3,240.74 L336.8,240.33 L337.3,240.13 L337.8,240.12 L338.3,240.36 L338.8,240.77 L339.3,240.52 L339.8,240.51 L340.3,240.67 L340.8,240.61 L341.3,240.38 L341.8,239.83 L342.3,239.9 L342.8,240.14 L343.3,240.12 L343.8,239.95 L344.3,239.79 L344.8,240.16 L345.3,240.45 L345.8,239.91 L346.3,239.43 L346.8,239.07 L347.3,239.63 L347.8,239.63 L348.3,240.1 L348.8,240.15 L349.3,240.33 L349.8,240.03 L350.3,239.87 L350.8,239.78 L351.3,239.97 L351.8,240.11 L352.3,240.06 L352.8,240.15 L353.3,240.18 L353.8,240.32 L354.3,240.07 L354.8,240.04 L355.3,240.04 L355.8,239.8 L356.3,240.16 L356.8,240.45 L357.3,240.96 L357.8,241.01 L358.3,241.01 L358.8,241.11 L359.3,240.52 L359.8,240.41 L360.3,240.44 L360.8,241.12 L361.3,241.46 L361.8,241.61 L362.3,241.15 L362.8,240.48 L363.3,240.3 L363.8,240.43 L364.3,240.85 L364.8,240.62 L365.3,240.53 L365.8,240 L366.3,239.98 L366.8,239.75 L367.3,239.95 L367.8,239.85 L368.3,239.84 L368.8,239.81 L369.3,239.73 L369.8,239.88 L370.3,239.91 L370.8,239.82 L371.3,239.59 L371.8,239.8 L372.3,239.88 L372.8,240.14 L373.3,239.91 L373.8,239.84 L374.3,239.55 L374.8,239.5 L375.3,239.64 L375.8,239.87 L376.3,239.63 L376.8,239.49 L377.3,239.37 L377.8,239.85 L378.3,239.56 L378.8,239.65 L379.3,239.38" stroke="#666" stroke-width="1.15" fill="none" stroke-linejoin="round"/>
<path d="M345.3,240.45 L345.8,239.91 L346.3,239.43 L346.8,239.07 L347.3,239.63 L347.8,239.63 L348.3,240.1 L348.8,240.15 L349.3,240.33 L349.8,240.03 L350.3,239.87 L350.8,239.78 L351.3,239.97 L351.8,240.11 L352.3,240.06 L352.8,240.15 L353.3,240.18 L353.8,240.32 L354.3,240.07 L354.8,240.04 L355.3,240.04 L355.8,239.8 L356.3,240.16 L356.8,240.45 L357.3,240.96 L357.8,241.01 L358.3,241.01 L358.8,241.11 L359.3,240.52 L359.8,240.41 L360.3,240.44 L360.8,241.12 L361.3,241.46 L361.8,241.61 L362.3,241.15 L362.8,240.48 L363.3,240.3 L363.8,240.43 L364.3,240.85 L364.8,240.62 L365.3,240.53 L365.8,240 L366.3,239.98 L366.8,239.75 L367.3,239.95 L367.8,239.85 L368.3,239.84 L368.8,239.81 L369.3,239.73 L369.8,239.88 L370.3,239.91 L370.8,239.82 L371.3,239.59 L371.8,239.8 L372.3,239.88 L372.8,240.14 L373.3,239.91 L373.8,239.84 L374.3,239.55 L374.8,239.5 L375.3,239.64 L375.8,239.87 L376.3,239.63 L376.8,239.49 L377.3,239.37 L377.8,239.85 L378.3,239.56 L378.8,239.65 L379.3,239.38" stroke="#262626" stroke-width="2.3" fill="none" stroke-linejoin="round"/>
<path d="M183.3,291.22 L183.8,291.39 L184.3,291.24 L184.8,290.91 L185.3,290.56 L185.8,290.69 L186.3,290.68 L186.8,290.84 L187.3,290.39 L187.8,290.61 L188.3,290.41 L188.8,290.78 L189.3,290.45 L189.8,290.35 L190.3,290.27 L190.8,290.38 L191.3,290.37 L191.8,290.22 L192.3,290.16 L192.8,290 L193.3,289.73 L193.8,289.64 L194.3,289.63 L194.8,289.52 L195.3,289.28 L195.8,289.27 L196.3,289.35 L196.8,289.17 L197.3,289.17 L197.8,289.4 L198.3,289.48 L198.8,289.23 L199.3,289.01 L199.8,289.04 L200.3,288.99 L200.8,288.89 L201.3,288.83 L201.8,288.79 L202.3,288.58 L202.8,288.53 L203.3,288.67 L203.8,289.05 L204.3,288.84 L204.8,288.75 L205.3,288.5 L205.8,288.48 L206.3,288.62 L206.8,288.79 L207.3,288.82 L207.8,288.89 L208.3,288.79 L208.8,288.87 L209.3,288.56 L209.8,288.43 L210.3,287.96 L210.8,287.85 L211.3,287.64 L211.8,287.42 L212.3,287.18 L212.8,286.82 L213.3,286.98" stroke="#2e2e2e" stroke-width="2.0" fill="none" stroke-linejoin="round"/>
</g>
<path d="M183.3,293.23 L183.8,293.2 L184.3,293.16 L184.8,293.11 L185.3,293.06 L185.8,293 L186.3,292.94 L186.8,292.88 L187.3,292.82 L187.8,292.76 L188.3,292.7 L188.8,292.64 L189.3,292.58 L189.8,292.51 L190.3,292.45 L190.8,292.39 L191.3,292.33 L191.8,292.27 L192.3,292.21 L192.8,292.15 L193.3,292.09 L193.8,292.03 L194.3,291.97 L194.8,291.91 L195.3,291.85 L195.8,291.79 L196.3,291.73 L196.8,291.66 L197.3,291.59 L197.8,291.51 L198.3,291.42 L198.8,291.33 L199.3,291.23 L199.8,291.12 L200.3,291.01 L200.8,290.89 L201.3,290.77 L201.8,290.66 L202.3,290.54 L202.8,290.42 L203.3,290.3 L203.8,290.19 L204.3,290.07 L204.8,289.95 L205.3,289.84 L205.8,289.72 L206.3,289.6 L206.8,289.48 L207.3,289.37 L207.8,289.25 L208.3,289.13 L208.8,289.02 L209.3,288.89 L209.8,288.76 L210.3,288.62 L210.8,288.47 L211.3,288.32 L211.8,288.15 L212.3,287.97 L212.8,287.79 L213.3,287.6 L213.8,287.4 L214.3,287.2 L214.8,287.01 L215.3,286.81 L215.8,286.61 L216.3,286.42 L216.8,286.22 L217.3,286.02 L217.8,285.83 L218.3,285.63 L218.8,285.43 L219.3,285.24 L219.8,285.04 L220.3,284.84 L220.8,284.65 L221.3,284.45 L221.8,284.26 L222.3,284.07 L222.8,283.89 L223.3,283.7 L223.8,283.52 L224.3,283.34 L224.8,283.16 L225.3,282.99 L225.8,282.81 L226.3,282.64 L226.8,282.46 L227.3,282.29 L227.8,282.11 L228.3,281.94 L228.8,281.76 L229.3,281.59 L229.8,281.41 L230.3,281.24 L230.8,281.06 L231.3,280.89 L231.8,280.71 L232.3,280.54 L232.8,280.36 L233.3,280.18 L233.8,279.99 L234.3,279.81 L234.8,279.62 L235.3,279.43 L235.8,279.23 L236.3,279.04 L236.8,278.84 L237.3,278.64 L237.8,278.43 L238.3,278.23 L238.8,278.03 L239.3,277.83 L239.8,277.63 L240.3,277.43 L240.8,277.23 L241.3,277.03 L241.8,276.83 L242.3,276.63 L242.8,276.43 L243.3,276.22 L243.8,276.02 L244.3,275.82 L244.8,275.62 L245.3,275.41 L245.8,275.2 L246.3,274.99 L246.8,274.77 L247.3,274.55 L247.8,274.33 L248.3,274.11 L248.8,273.89 L249.3,273.66 L249.8,273.44 L250.3,273.21 L250.8,272.99 L251.3,272.76 L251.8,272.54 L252.3,272.31 L252.8,272.09 L253.3,271.86 L253.8,271.64 L254.3,271.41 L254.8,271.19 L255.3,270.96 L255.8,270.74 L256.3,270.51 L256.8,270.29 L257.3,270.06 L257.8,269.84 L258.3,269.61 L258.8,269.39 L259.3,269.16 L259.8,268.94 L260.3,268.71 L260.8,268.49 L261.3,268.27 L261.8,268.04 L262.3,267.82 L262.8,267.6 L263.3,267.38 L263.8,267.16 L264.3,266.94 L264.8,266.73 L265.3,266.51 L265.8,266.3 L266.3,266.09 L266.8,265.87 L267.3,265.66 L267.8,265.44 L268.3,265.23 L268.8,265.01 L269.3,264.8 L269.8,264.59 L270.3,264.37 L270.8,264.16 L271.3,263.94 L271.8,263.73 L272.3,263.51 L272.8,263.3 L273.3,263.09 L273.8,262.87 L274.3,262.66 L274.8,262.44 L275.3,262.23 L275.8,262.01 L276.3,261.8 L276.8,261.59 L277.3,261.37 L277.8,261.16 L278.3,260.94 L278.8,260.73 L279.3,260.51 L279.8,260.3 L280.3,260.09 L280.8,259.87 L281.3,259.66 L281.8,259.44 L282.3,259.23 L282.8,259.03 L283.3,258.82 L283.8,258.63 L284.3,258.44 L284.8,258.25 L285.3,258.07 L285.8,257.89 L286.3,257.72 L286.8,257.55 L287.3,257.38 L287.8,257.22 L288.3,257.05 L288.8,256.88 L289.3,256.71 L289.8,256.54 L290.3,256.37 L290.8,256.2 L291.3,256.03 L291.8,255.86 L292.3,255.69 L292.8,255.52 L293.3,255.36 L293.8,255.19 L294.3,255.02 L294.8,254.85 L295.3,254.68 L295.8,254.51 L296.3,254.34 L296.8,254.17 L297.3,254 L297.8,253.83 L298.3,253.67 L298.8,253.5 L299.3,253.33 L299.8,253.16 L300.3,252.99 L300.8,252.82 L301.3,252.65 L301.8,252.48 L302.3,252.31 L302.8,252.14 L303.3,251.97 L303.8,251.8 L304.3,251.63 L304.8,251.46 L305.3,251.29 L305.8,251.12 L306.3,250.94 L306.8,250.77 L307.3,250.59 L307.8,250.42 L308.3,250.24 L308.8,250.07 L309.3,249.89 L309.8,249.72 L310.3,249.54 L310.8,249.37 L311.3,249.19 L311.8,249.02 L312.3,248.84 L312.8,248.67 L313.3,248.49 L313.8,248.32 L314.3,248.14 L314.8,247.97 L315.3,247.79 L315.8,247.63 L316.3,247.46 L316.8,247.3 L317.3,247.14 L317.8,246.98 L318.3,246.82 L318.8,246.67 L319.3,246.52 L319.8,246.37 L320.3,246.22 L320.8,246.07 L321.3,245.92 L321.8,245.77 L322.3,245.62 L322.8,245.48 L323.3,245.33 L323.8,245.18 L324.3,245.03 L324.8,244.88 L325.3,244.73 L325.8,244.58 L326.3,244.43 L326.8,244.28 L327.3,244.14 L327.8,244.01 L328.3,243.88 L328.8,243.75 L329.3,243.63 L329.8,243.52 L330.3,243.41 L330.8,243.3 L331.3,243.2 L331.8,243.1 L332.3,242.99 L332.8,242.89 L333.3,242.79 L333.8,242.68 L334.3,242.58 L334.8,242.48 L335.3,242.37 L335.8,242.27 L336.3,242.17 L336.8,242.06 L337.3,241.96 L337.8,241.86 L338.3,241.75 L338.8,241.66 L339.3,241.56 L339.8,241.47 L340.3,241.38 L340.8,241.3 L341.3,241.22 L341.8,241.14 L342.3,241.07 L342.8,240.99 L343.3,240.92 L343.8,240.85 L344.3,240.78 L344.8,240.7 L345.3,240.63 L345.8,240.56 L346.3,240.48 L346.8,240.41 L347.3,240.34 L347.8,240.27 L348.3,240.19 L348.8,240.12 L349.3,240.05 L349.8,239.98 L350.3,239.91 L350.8,239.85 L351.3,239.79 L351.8,239.74 L352.3,239.7 L352.8,239.66 L353.3,239.62 L353.8,239.59 L354.3,239.57 L354.8,239.54 L355.3,239.52 L355.8,239.49 L356.3,239.46 L356.8,239.44 L357.3,239.41 L357.8,239.39 L358.3,239.36 L358.8,239.34 L359.3,239.31 L359.8,239.28 L360.3,239.26 L360.8,239.23 L361.3,239.21 L361.8,239.18 L362.3,239.16 L362.8,239.15 L363.3,239.13" stroke="#e3262b" stroke-width="1.05" fill="none" stroke-dasharray="1.4,0.5"/>
<path d="M183.3,299.27 L183.7,298.86 L184.1,298.51 L184.5,298.21 L184.9,297.98 L185.3,297.83 L185.7,297.77 L186.1,297.82 L186.5,297.96 L186.9,298.22 L187.3,298.58 L187.7,299.03 L188.1,299.57 L188.5,300.17 L188.9,300.82 L189.3,301.48 L189.7,302.13 L190.1,302.73 L190.5,303.25 L190.9,303.66 L191.3,303.92 L191.7,304.03 L192.1,303.97 L192.5,303.73 L192.9,303.32 L193.3,302.74 L193.7,302.03 L194.1,301.21 L194.5,300.31 L194.9,299.39 L195.3,298.47 L195.7,297.61 L196.1,296.85 L196.5,296.22 L196.9,295.76 L197.3,295.49 L197.7,295.42 L198.1,295.57 L198.5,295.92 L198.9,296.46 L199.3,297.17 L199.7,298.02 L200.1,298.98 L200.5,299.99 L200.9,301.01 L201.3,302 L201.7,302.92 L202.1,303.73 L202.5,304.38 L202.9,304.85 L203.3,305.12 L203.7,305.18 L204.1,305.02 L204.5,304.65 L204.9,304.09 L205.3,303.36 L205.7,302.49 L206.1,301.53 L206.5,300.5 L206.9,299.47 L207.3,298.46 L207.7,297.53 L208.1,296.71 L208.5,296.05 L208.9,295.56 L209.3,295.28 L209.7,295.2 L210.1,295.35 L210.5,295.7 L210.9,296.25 L211.3,296.97 L211.7,297.83 L212.1,298.79 L212.5,299.81 L212.9,300.85 L213.3,301.86 L213.7,302.8 L214.1,303.63 L214.5,304.31 L214.9,304.81 L215.3,305.11 L215.7,305.2 L216.1,305.07 L216.5,304.74 L216.9,304.2 L217.3,303.5 L217.7,302.65 L218.1,301.7 L218.5,300.68 L218.9,299.64 L219.3,298.62 L219.7,297.67 L220.1,296.84 L220.5,296.14 L220.9,295.63 L221.3,295.31 L221.7,295.2 L222.1,295.31 L222.5,295.63 L222.9,296.14 L223.3,296.84 L223.7,297.67 L224.1,298.62 L224.5,299.64 L224.9,300.68 L225.3,301.7 L225.7,302.65 L226.1,303.5 L226.5,304.2 L226.9,304.74 L227.3,305.07 L227.7,305.2 L228.1,305.11 L228.5,304.81 L228.9,304.31 L229.3,303.63 L229.7,302.8 L230.1,301.86 L230.5,300.85 L230.9,299.81 L231.3,298.79 L231.7,297.83 L232.1,296.97 L232.5,296.25 L232.9,295.7 L233.3,295.35 L233.7,295.2 L234.1,295.28 L234.5,295.56 L234.9,296.05 L235.3,296.71 L235.7,297.53 L236.1,298.46 L236.5,299.47 L236.9,300.5 L237.3,301.53 L237.7,302.5 L238.1,303.37 L238.5,304.1 L238.9,304.66 L239.3,305.03 L239.7,305.19 L240.1,305.14 L240.5,304.87 L240.9,304.4 L241.3,303.75 L241.7,302.95 L242.1,302.02 L242.5,301.02 L242.9,299.98 L243.3,298.95 L243.7,297.98 L244.1,297.1 L244.5,296.36 L244.9,295.78 L245.3,295.39 L245.7,295.21 L246.1,295.25 L246.5,295.5 L246.9,295.95 L247.3,296.59 L247.7,297.38 L248.1,298.3 L248.5,299.29 L248.9,300.33 L249.3,301.36 L249.7,302.34 L250.1,303.23 L250.5,303.99 L250.9,304.58 L251.3,304.98 L251.7,305.18 L252.1,305.16 L252.5,304.93 L252.9,304.49 L253.3,303.87 L253.7,303.09 L254.1,302.18 L254.5,301.19 L254.9,300.16 L255.3,299.12 L255.7,298.14 L256.1,297.24 L256.5,296.47 L256.9,295.86 L257.3,295.44 L257.7,295.23 L258.1,295.23 L258.5,295.44 L258.9,295.86 L259.3,296.47 L259.7,297.24 L260.1,298.14 L260.5,299.12 L260.9,300.16 L261.3,301.19 L261.7,302.18 L262.1,303.09 L262.5,303.87 L262.9,304.49 L263.3,304.93 L263.7,305.16 L264.1,305.18 L264.5,304.98 L264.9,304.58 L265.3,303.99 L265.7,303.23 L266.1,302.34 L266.5,301.36 L266.9,300.33 L267.3,299.29 L267.7,298.3 L268.1,297.38 L268.5,296.59 L268.9,295.95 L269.3,295.5 L269.7,295.25 L270.1,295.21 L270.5,295.39 L270.9,295.78 L271.3,296.36 L271.7,297.1 L272.1,297.98 L272.5,298.95 L272.9,299.98 L273.3,301.02 L273.7,302.02 L274.1,302.95 L274.5,303.75 L274.9,304.4 L275.3,304.87 L275.7,305.14 L276.1,305.19 L276.5,305.03 L276.9,304.66 L277.3,304.1 L277.7,303.37 L278.1,302.5 L278.5,301.53 L278.9,300.5 L279.3,299.47 L279.7,298.46 L280.1,297.53 L280.5,296.71 L280.9,296.05 L281.3,295.56 L281.7,295.28 L282.1,295.2 L282.5,295.35 L282.9,295.7 L283.3,296.25 L283.7,296.97 L284.1,297.83 L284.5,298.79 L284.9,299.81 L285.3,300.85 L285.7,301.86 L286.1,302.8 L286.5,303.63 L286.9,304.31 L287.3,304.81 L287.7,305.11 L288.1,305.2 L288.5,305.07 L288.9,304.74 L289.3,304.2 L289.7,303.5 L290.1,302.65 L290.5,301.7 L290.9,300.68 L291.3,299.64 L291.7,298.62 L292.1,297.67 L292.5,296.84 L292.9,296.14 L293.3,295.63 L293.7,295.31 L294.1,295.2 L294.5,295.31 L294.9,295.63 L295.3,296.14 L295.7,296.84 L296.1,297.67 L296.5,298.62 L296.9,299.64 L297.3,300.68 L297.7,301.7 L298.1,302.65 L298.5,303.5 L298.9,304.2 L299.3,304.74 L299.7,305.07 L300.1,305.2 L300.5,305.09 L300.9,304.77 L301.3,304.26 L301.7,303.58 L302.1,302.75 L302.5,301.83 L302.9,300.83 L303.3,299.82 L303.7,298.83 L304.1,297.91 L304.5,297.09 L304.9,296.41 L305.3,295.9 L305.7,295.58 L306.1,295.46 L306.5,295.54 L306.9,295.83 L307.3,296.3 L307.7,296.93 L308.1,297.71 L308.5,298.58 L308.9,299.52 L309.3,300.48 L309.7,301.42 L310.1,302.3 L310.5,303.09 L310.9,303.74 L311.3,304.24 L311.7,304.56 L312.1,304.69 L312.5,304.62 L312.9,304.37 L313.3,303.94 L313.7,303.35 L314.1,302.62 L314.5,301.8 L314.9,300.92 L315.3,300.01 L315.7,299.12 L316.1,298.28 L316.5,297.53 L316.9,296.9 L317.3,296.42 L317.7,296.1 L318.1,295.96 L318.5,296.01 L318.9,296.24 L319.3,296.63 L319.7,297.18 L320.1,297.85 L320.5,298.62 L320.9,299.45 L321.3,300.31 L321.7,301.15 L322.1,301.95 L322.5,302.66 L322.9,303.26 L323.3,303.73 L323.7,304.04 L324.1,304.18 L324.5,304.15 L324.9,303.95 L325.3,303.59 L325.7,303.08 L326.1,302.46 L326.5,301.75 L326.9,300.97 L327.3,300.17 L327.7,299.37 L328.1,298.62 L328.5,297.94 L328.9,297.37 L329.3,296.92 L329.7,296.62 L330.1,296.47 L330.5,296.49 L330.9,296.67 L331.3,296.99 L331.7,297.46 L332.1,298.03 L332.5,298.7 L332.9,299.42 L333.3,300.17 L333.7,300.91 L334.1,301.62 L334.5,302.26 L334.9,302.8 L335.3,303.23 L335.7,303.52 L336.1,303.67 L336.5,303.67 L336.9,303.51 L337.3,303.22 L337.7,302.8 L338.1,302.27 L338.5,301.65 L338.9,300.98 L339.3,300.29 L339.7,299.59 L340.1,298.93 L340.5,298.33 L340.9,297.82 L341.3,297.41 L341.7,297.13 L342.1,296.99 L342.5,296.98 L342.9,297.11 L343.3,297.37 L343.7,297.76 L344.1,298.24 L344.5,298.8 L344.9,299.42 L345.3,300.06 L345.7,300.71 L346.1,301.32 L346.5,301.88 L346.9,302.36 L347.3,302.75 L347.7,303.01 L348.1,303.16 L348.5,303.18 L348.9,303.06 L349.3,302.83 L349.7,302.48 L350.1,302.04 L350.5,301.53 L350.9,300.97 L351.3,300.37 L351.7,299.78 L352.1,299.21 L352.5,298.7 L352.9,298.25 L353.3,297.89 L353.7,297.64 L354.1,297.5 L354.5,297.47 L354.9,297.57 L355.3,297.77 L355.7,298.08 L356.1,298.48 L356.5,298.94 L356.9,299.46 L357.3,300 L357.7,300.54 L358.1,301.06 L358.5,301.53 L358.9,301.94 L359.3,302.28 L359.7,302.51 L360.1,302.65 L360.5,302.7 L360.9,302.64 L361.3,302.47 L361.7,302.2 L362.1,301.85 L362.5,301.42 L362.9,300.95 L363.3,300.44 L363.7,299.92 L364.1,299.41 L364.5,298.94 L364.9,298.52 L365.3,298.17 L365.7,297.91 L366.1,297.75 L366.5,297.7 L366.9,297.75 L367.3,297.91 L367.7,298.17 L368.1,298.52 L368.5,298.94 L368.9,299.41 L369.3,299.92 L369.7,300.44 L370.1,300.95 L370.5,301.42 L370.9,301.85 L371.3,302.2 L371.7,302.47 L372.1,302.64 L372.5,302.7 L372.9,302.65 L373.3,302.5 L373.7,302.25 L374.1,301.91 L374.5,301.5 L374.9,301.03 L375.3,300.52 L375.7,300 L376.1,299.49 L376.5,299.01 L376.9,298.58 L377.3,298.22 L377.7,297.95 L378.1,297.77 L378.5,297.7 L378.9,297.74 L379.3,297.88" stroke="#ec7438" stroke-width="1.3" fill="none"/>
<line x1="244.2" y1="249.8" x2="247.9" y2="256" stroke="#000" stroke-width="0.75"/>
<path d="M247.9,256 L245.12,254.04 L247.5,252.62 Z" fill="#000" stroke="none"/>
<line x1="270" y1="244.2" x2="273.5" y2="250.3" stroke="#000" stroke-width="0.75"/>
<path d="M273.5,250.3 L270.75,248.3 L273.16,246.92 Z" fill="#000" stroke="none"/>
<line x1="301.9" y1="232.3" x2="305.4" y2="238.5" stroke="#000" stroke-width="0.75"/>
<path d="M305.4,238.5 L302.67,236.48 L305.08,235.11 Z" fill="#000" stroke="none"/>
<line x1="186.7" y1="312.5" x2="186.7" y2="366" stroke="#f4b090" stroke-width="0.85" stroke-dasharray="3.6,1.6"/>
<line x1="198.6" y1="312.5" x2="198.6" y2="366" stroke="#f4b090" stroke-width="0.85" stroke-dasharray="3.6,1.6"/>
<line x1="210.5" y1="312.5" x2="210.5" y2="366" stroke="#f4b090" stroke-width="0.85" stroke-dasharray="3.6,1.6"/>
<line x1="221.6" y1="312.5" x2="221.6" y2="366" stroke="#f4b090" stroke-width="0.85" stroke-dasharray="3.6,1.6"/>
<line x1="233.3" y1="312.5" x2="233.3" y2="366" stroke="#f4b090" stroke-width="0.85" stroke-dasharray="3.6,1.6"/>
<line x1="244.4" y1="312.5" x2="244.4" y2="366" stroke="#f4b090" stroke-width="0.85" stroke-dasharray="3.6,1.6"/>
<line x1="256" y1="312.5" x2="256" y2="366" stroke="#f4b090" stroke-width="0.85" stroke-dasharray="3.6,1.6"/>
<line x1="267.4" y1="312.5" x2="267.4" y2="366" stroke="#f4b090" stroke-width="0.85" stroke-dasharray="3.6,1.6"/>
<line x1="279" y1="312.5" x2="279" y2="366" stroke="#f4b090" stroke-width="0.85" stroke-dasharray="3.6,1.6"/>
<line x1="290.1" y1="312.5" x2="290.1" y2="366" stroke="#f4b090" stroke-width="0.85" stroke-dasharray="3.6,1.6"/>
<line x1="301.8" y1="312.5" x2="301.8" y2="366" stroke="#f4b090" stroke-width="0.85" stroke-dasharray="3.6,1.6"/>
<line x1="313.1" y1="312.5" x2="313.1" y2="366" stroke="#f4b090" stroke-width="0.85" stroke-dasharray="3.6,1.6"/>
<line x1="324.8" y1="312.5" x2="324.8" y2="366" stroke="#f4b090" stroke-width="0.85" stroke-dasharray="3.6,1.6"/>
<line x1="336.6" y1="312.5" x2="336.6" y2="366" stroke="#f4b090" stroke-width="0.85" stroke-dasharray="3.6,1.6"/>
<line x1="347.7" y1="312.5" x2="347.7" y2="366" stroke="#f4b090" stroke-width="0.85" stroke-dasharray="3.6,1.6"/>
<line x1="358.9" y1="312.5" x2="358.9" y2="366" stroke="#f4b090" stroke-width="0.85" stroke-dasharray="3.6,1.6"/>
<line x1="370.4" y1="312.5" x2="370.4" y2="366" stroke="#f4b090" stroke-width="0.85" stroke-dasharray="3.6,1.6"/>
<g filter="url(#bl2)">
<path d="M183.3,362.63 L183.8,362.73 L184.3,362.81 L184.8,362.86 L185.3,362.49 L185.8,362.22 L186.3,361.69 L186.8,361.83 L187.3,362.06 L187.8,362.23 L188.3,362.29 L188.8,361.76 L189.3,361.75 L189.8,361.47 L190.3,362.05 L190.8,362.13 L191.3,362.41 L191.8,362.06 L192.3,361.98 L192.8,361.9 L193.3,361.81 L193.8,361.59 L194.3,361.43 L194.8,361.35 L195.3,361.29 L195.8,361.23 L196.3,361.17 L196.8,361.36 L197.3,361.11 L197.8,361.33 L198.3,361.04 L198.8,361.15 L199.3,360.72 L199.8,360.73 L200.3,360.7 L200.8,360.89 L201.3,360.75 L201.8,360.73 L202.3,360.93 L202.8,361.01 L203.3,360.83 L203.8,360.61 L204.3,360.45 L204.8,360.57 L205.3,360.44 L205.8,360.32 L206.3,359.77 L206.8,359.41 L207.3,359.29 L207.8,359.27 L208.3,359.11 L208.8,358.89 L209.3,358.58 L209.8,358.42 L210.3,358.43 L210.8,358.84 L211.3,359.21 L211.8,359.55 L212.3,360.17 L212.8,360.44 L213.3,360.68 L213.8,360.83 L214.3,360.99 L214.8,360.93 L215.3,360.74 L215.8,360.96 L216.3,361.29 L216.8,361.18 L217.3,360.81 L217.8,360.46 L218.3,360.12 L218.8,359.5 L219.3,358.6 L219.8,357.77 L220.3,356.75 L220.8,355.83 L221.3,354.78 L221.8,354.14 L222.3,353.78 L222.8,353.77 L223.3,353.79 L223.8,353.55 L224.3,353.27 L224.8,353.04 L225.3,352.51 L225.8,352.22 L226.3,352.16 L226.8,352.55 L227.3,352.42 L227.8,352.54 L228.3,352.37 L228.8,352.58 L229.3,352.41 L229.8,352.48 L230.3,352.04 L230.8,351.83 L231.3,351.39 L231.8,351.17 L232.3,350.63 L232.8,349.89 L233.3,349.38 L233.8,348.76 L234.3,348.18 L234.8,347.41 L235.3,346.52 L235.8,345.82 L236.3,345.28 L236.8,344.87 L237.3,344.71 L237.8,344.79 L238.3,345.3 L238.8,345.44 L239.3,345.59 L239.8,345.18 L240.3,345.85 L240.8,346.45 L241.3,347.66 L241.8,348.16 L242.3,348.65 L242.8,349.47 L243.3,350.64 L243.8,351.83 L244.3,352.67 L244.8,353.9 L245.3,354.88 L245.8,355.73 L246.3,355.04 L246.8,354.18 L247.3,352.94 L247.8,351.97 L248.3,350.85 L248.8,349.76 L249.3,348.3 L249.8,346.56 L250.3,344.36 L250.8,343.12 L251.3,342.32 L251.8,341.85 L252.3,340.95 L252.8,340.37 L253.3,340.39 L253.8,340.85 L254.3,341.73 L254.8,341.78 L255.3,341.78 L255.8,341.36 L256.3,341.44 L256.8,341.2 L257.3,341.03 L257.8,340.81 L258.3,340.56 L258.8,339.91 L259.3,339.27 L259.8,338.73 L260.3,338.06 L260.8,337.51 L261.3,337.28 L261.8,336.9 L262.3,336.57 L262.8,335.89 L263.3,335.52 L263.8,334.9 L264.3,334.54 L264.8,334.3 L265.3,334.07 L265.8,333.37 L266.3,332.82 L266.8,332.35 L267.3,332.27 L267.8,331.93 L268.3,331.51 L268.8,331.03 L269.3,330.56 L269.8,329.83 L270.3,329.42 L270.8,329.16 L271.3,329.07 L271.8,328.95 L272.3,329.59 L272.8,329.97 L273.3,330.03 L273.8,329.64 L274.3,330.03 L274.8,330.27 L275.3,330.31 L275.8,329.88 L276.3,329.75 L276.8,329.76 L277.3,329.81 L277.8,329.68 L278.3,329.46 L278.8,329.31 L279.3,329.04 L279.8,328.69 L280.3,328.3 L280.8,327.98 L281.3,327.87 L281.8,327.55 L282.3,327.31 L282.8,326.66 L283.3,326.43 L283.8,326.85 L284.3,327.06 L284.8,327.46 L285.3,327.26 L285.8,327.65 L286.3,327.8 L286.8,327.85 L287.3,327.8 L287.8,327.63 L288.3,327.54 L288.8,327.21 L289.3,326.77 L289.8,326.48 L290.3,326.34 L290.8,326.11 L291.3,325.51 L291.8,324.98 L292.3,324.83 L292.8,325.34 L293.3,326.26 L293.8,326.98 L294.3,327.54 L294.8,327.15 L295.3,326.6 L295.8,325.51 L296.3,324.92 L296.8,324 L297.3,322.93 L297.8,321.88 L298.3,320.48 L298.8,319.59 L299.3,318.79 L299.8,319.05 L300.3,319.4 L300.8,319.86 L301.3,320.36 L301.8,321.23 L302.3,321.6 L302.8,322.33 L303.3,322.99 L303.8,323.7 L304.3,323.32 L304.8,322.53 L305.3,321.54 L305.8,321.02 L306.3,320.55 L306.8,320.23 L307.3,319.59 L307.8,319.19 L308.3,318.9 L308.8,319.2 L309.3,319.39 L309.8,319.46 L310.3,319.56 L310.8,319.36 L311.3,319.19 L311.8,318.41 L312.3,317.88 L312.8,317.22 L313.3,317.23 L313.8,316.92 L314.3,317.03 L314.8,316.43 L315.3,315.49 L315.8,314.71 L316.3,314.16 L316.8,314.1 L317.3,313.17 L317.8,312.19 L318.3,311.42 L318.8,311.28 L319.3,311.46 L319.8,311.74 L320.3,312.83 L320.8,313.44 L321.3,314.03 L321.8,314.34 L322.3,315.5 L322.8,317.09 L323.3,318.52 L323.8,319.85 L324.3,320.29 L324.8,320.25 L325.3,319.54 L325.8,318.81 L326.3,318.66 L326.8,318.22 L327.3,318.24 L327.8,317.56 L328.3,317.46 L328.8,317.14 L329.3,316.85 L329.8,316.73 L330.3,316.7 L330.8,316.95 L331.3,316.92 L331.8,316.94 L332.3,316.86 L332.8,316.86 L333.3,316.51 L333.8,316.48 L334.3,316.67 L334.8,316.77 L335.3,316.61 L335.8,315.93 L336.3,315.41 L336.8,315.23 L337.3,314.94 L337.8,314.92 L338.3,314.28 L338.8,313.83 L339.3,312.94 L339.8,312.67 L340.3,312.29 L340.8,312.13 L341.3,312.15 L341.8,312.36 L342.3,312.68 L342.8,312.31 L343.3,312.02 L343.8,311.81 L344.3,311.68 L344.8,311.64 L345.3,311.72 L345.8,311.38 L346.3,311.61 L346.8,311.47 L347.3,312.12 L347.8,312.26 L348.3,312.32 L348.8,312.41 L349.3,312.34 L349.8,312.25 L350.3,311.8 L350.8,311.43 L351.3,310.93 L351.8,310.69 L352.3,310.45 L352.8,310.54 L353.3,310.41 L353.8,310.62 L354.3,311.47 L354.8,312.47 L355.3,313.03 L355.8,313.01 L356.3,312.89 L356.8,312.77 L357.3,312.54 L357.8,312.24 L358.3,312.09 L358.8,312.11 L359.3,311.51 L359.8,311.4 L360.3,311.18 L360.8,311.78 L361.3,311.61 L361.8,311.66 L362.3,311.75 L362.8,311.25 L363.3,311.45 L363.8,311.2 L364.3,311.39 L364.8,310.68 L365.3,310.69 L365.8,310.79 L366.3,311.34 L366.8,311.26 L367.3,311.35 L367.8,311.28 L368.3,311.21 L368.8,311.29 L369.3,311.25 L369.8,311.32 L370.3,311.43 L370.8,311.53 L371.3,311.35 L371.8,311.28 L372.3,311.23 L372.8,311.5 L373.3,311.39 L373.8,311.47 L374.3,311.88 L374.8,312.59 L375.3,313.44 L375.8,313.79 L376.3,314.18 L376.8,314.22 L377.3,314.53 L377.8,314.62 L378.3,314.5 L378.8,314.71 L379.3,314.88" stroke="#9c9c9c" stroke-width="3.8" fill="none" stroke-linejoin="round" opacity="0.8"/>
<line x1="244.5" y1="350" x2="246.1" y2="364" stroke="#a0a0a0" stroke-width="1.5"/>
<line x1="273.7" y1="321" x2="273.7" y2="330" stroke="#a0a0a0" stroke-width="1.5"/>
<line x1="295" y1="328" x2="295.3" y2="335" stroke="#a0a0a0" stroke-width="1.5"/>
<line x1="304" y1="325" x2="304" y2="331.5" stroke="#a0a0a0" stroke-width="1.5"/>
<line x1="299.4" y1="315" x2="299.4" y2="320" stroke="#a0a0a0" stroke-width="1.5"/>
<line x1="350.4" y1="312" x2="350.4" y2="321.8" stroke="#a0a0a0" stroke-width="1.5"/>
<line x1="324.3" y1="318" x2="324.3" y2="322" stroke="#a0a0a0" stroke-width="1.5"/>
</g><g filter="url(#bl)">
<path d="M183.3,362.63 L183.8,362.73 L184.3,362.81 L184.8,362.86 L185.3,362.49 L185.8,362.22 L186.3,361.69 L186.8,361.83 L187.3,362.06 L187.8,362.23 L188.3,362.29 L188.8,361.76 L189.3,361.75 L189.8,361.47 L190.3,362.05 L190.8,362.13 L191.3,362.41 L191.8,362.06 L192.3,361.98 L192.8,361.9 L193.3,361.81 L193.8,361.59 L194.3,361.43 L194.8,361.35 L195.3,361.29 L195.8,361.23 L196.3,361.17 L196.8,361.36 L197.3,361.11 L197.8,361.33 L198.3,361.04 L198.8,361.15 L199.3,360.72 L199.8,360.73 L200.3,360.7 L200.8,360.89 L201.3,360.75 L201.8,360.73 L202.3,360.93 L202.8,361.01 L203.3,360.83 L203.8,360.61 L204.3,360.45 L204.8,360.57 L205.3,360.44 L205.8,360.32 L206.3,359.77 L206.8,359.41 L207.3,359.29 L207.8,359.27 L208.3,359.11 L208.8,358.89 L209.3,358.58 L209.8,358.42 L210.3,358.43 L210.8,358.84 L211.3,359.21 L211.8,359.55 L212.3,360.17 L212.8,360.44 L213.3,360.68 L213.8,360.83 L214.3,360.99 L214.8,360.93 L215.3,360.74 L215.8,360.96 L216.3,361.29 L216.8,361.18 L217.3,360.81 L217.8,360.46 L218.3,360.12 L218.8,359.5 L219.3,358.6 L219.8,357.77 L220.3,356.75 L220.8,355.83 L221.3,354.78 L221.8,354.14 L222.3,353.78 L222.8,353.77 L223.3,353.79 L223.8,353.55 L224.3,353.27 L224.8,353.04 L225.3,352.51 L225.8,352.22 L226.3,352.16 L226.8,352.55 L227.3,352.42 L227.8,352.54 L228.3,352.37 L228.8,352.58 L229.3,352.41 L229.8,352.48 L230.3,352.04 L230.8,351.83 L231.3,351.39 L231.8,351.17 L232.3,350.63 L232.8,349.89 L233.3,349.38 L233.8,348.76 L234.3,348.18 L234.8,347.41 L235.3,346.52 L235.8,345.82 L236.3,345.28 L236.8,344.87 L237.3,344.71 L237.8,344.79 L238.3,345.3 L238.8,345.44 L239.3,345.59 L239.8,345.18 L240.3,345.85 L240.8,346.45 L241.3,347.66 L241.8,348.16 L242.3,348.65 L242.8,349.47 L243.3,350.64 L243.8,351.83 L244.3,352.67 L244.8,353.9 L245.3,354.88 L245.8,355.73 L246.3,355.04 L246.8,354.18 L247.3,352.94 L247.8,351.97 L248.3,350.85 L248.8,349.76 L249.3,348.3 L249.8,346.56 L250.3,344.36 L250.8,343.12 L251.3,342.32 L251.8,341.85 L252.3,340.95 L252.8,340.37 L253.3,340.39 L253.8,340.85 L254.3,341.73 L254.8,341.78 L255.3,341.78 L255.8,341.36 L256.3,341.44 L256.8,341.2 L257.3,341.03 L257.8,340.81 L258.3,340.56 L258.8,339.91 L259.3,339.27 L259.8,338.73 L260.3,338.06 L260.8,337.51 L261.3,337.28 L261.8,336.9 L262.3,336.57 L262.8,335.89 L263.3,335.52 L263.8,334.9 L264.3,334.54 L264.8,334.3 L265.3,334.07 L265.8,333.37 L266.3,332.82 L266.8,332.35 L267.3,332.27 L267.8,331.93 L268.3,331.51 L268.8,331.03 L269.3,330.56 L269.8,329.83 L270.3,329.42 L270.8,329.16 L271.3,329.07 L271.8,328.95 L272.3,329.59 L272.8,329.97 L273.3,330.03 L273.8,329.64 L274.3,330.03 L274.8,330.27 L275.3,330.31 L275.8,329.88 L276.3,329.75 L276.8,329.76 L277.3,329.81 L277.8,329.68 L278.3,329.46 L278.8,329.31 L279.3,329.04 L279.8,328.69 L280.3,328.3 L280.8,327.98 L281.3,327.87 L281.8,327.55 L282.3,327.31 L282.8,326.66 L283.3,326.43 L283.8,326.85 L284.3,327.06 L284.8,327.46 L285.3,327.26 L285.8,327.65 L286.3,327.8 L286.8,327.85 L287.3,327.8 L287.8,327.63 L288.3,327.54 L288.8,327.21 L289.3,326.77 L289.8,326.48 L290.3,326.34 L290.8,326.11 L291.3,325.51 L291.8,324.98 L292.3,324.83 L292.8,325.34 L293.3,326.26 L293.8,326.98 L294.3,327.54 L294.8,327.15 L295.3,326.6 L295.8,325.51 L296.3,324.92 L296.8,324 L297.3,322.93 L297.8,321.88 L298.3,320.48 L298.8,319.59 L299.3,318.79 L299.8,319.05 L300.3,319.4 L300.8,319.86 L301.3,320.36 L301.8,321.23 L302.3,321.6 L302.8,322.33 L303.3,322.99 L303.8,323.7 L304.3,323.32 L304.8,322.53 L305.3,321.54 L305.8,321.02 L306.3,320.55 L306.8,320.23 L307.3,319.59 L307.8,319.19 L308.3,318.9 L308.8,319.2 L309.3,319.39 L309.8,319.46 L310.3,319.56 L310.8,319.36 L311.3,319.19 L311.8,318.41 L312.3,317.88 L312.8,317.22 L313.3,317.23 L313.8,316.92 L314.3,317.03 L314.8,316.43 L315.3,315.49 L315.8,314.71 L316.3,314.16 L316.8,314.1 L317.3,313.17 L317.8,312.19 L318.3,311.42 L318.8,311.28 L319.3,311.46 L319.8,311.74 L320.3,312.83 L320.8,313.44 L321.3,314.03 L321.8,314.34 L322.3,315.5 L322.8,317.09 L323.3,318.52 L323.8,319.85 L324.3,320.29 L324.8,320.25 L325.3,319.54 L325.8,318.81 L326.3,318.66 L326.8,318.22 L327.3,318.24 L327.8,317.56 L328.3,317.46 L328.8,317.14 L329.3,316.85 L329.8,316.73 L330.3,316.7 L330.8,316.95 L331.3,316.92 L331.8,316.94 L332.3,316.86 L332.8,316.86 L333.3,316.51 L333.8,316.48 L334.3,316.67 L334.8,316.77 L335.3,316.61 L335.8,315.93 L336.3,315.41 L336.8,315.23 L337.3,314.94 L337.8,314.92 L338.3,314.28 L338.8,313.83 L339.3,312.94 L339.8,312.67 L340.3,312.29 L340.8,312.13 L341.3,312.15 L341.8,312.36 L342.3,312.68 L342.8,312.31 L343.3,312.02 L343.8,311.81 L344.3,311.68 L344.8,311.64 L345.3,311.72 L345.8,311.38 L346.3,311.61 L346.8,311.47 L347.3,312.12 L347.8,312.26 L348.3,312.32 L348.8,312.41 L349.3,312.34 L349.8,312.25 L350.3,311.8 L350.8,311.43 L351.3,310.93 L351.8,310.69 L352.3,310.45 L352.8,310.54 L353.3,310.41 L353.8,310.62 L354.3,311.47 L354.8,312.47 L355.3,313.03 L355.8,313.01 L356.3,312.89 L356.8,312.77 L357.3,312.54 L357.8,312.24 L358.3,312.09 L358.8,312.11 L359.3,311.51 L359.8,311.4 L360.3,311.18 L360.8,311.78 L361.3,311.61 L361.8,311.66 L362.3,311.75 L362.8,311.25 L363.3,311.45 L363.8,311.2 L364.3,311.39 L364.8,310.68 L365.3,310.69 L365.8,310.79 L366.3,311.34 L366.8,311.26 L367.3,311.35 L367.8,311.28 L368.3,311.21 L368.8,311.29 L369.3,311.25 L369.8,311.32 L370.3,311.43 L370.8,311.53 L371.3,311.35 L371.8,311.28 L372.3,311.23 L372.8,311.5 L373.3,311.39 L373.8,311.47 L374.3,311.88 L374.8,312.59 L375.3,313.44 L375.8,313.79 L376.3,314.18 L376.8,314.22 L377.3,314.53 L377.8,314.62 L378.3,314.5 L378.8,314.71 L379.3,314.88" stroke="#666" stroke-width="1.15" fill="none" stroke-linejoin="round"/>
<path d="M345.3,311.72 L345.8,311.38 L346.3,311.61 L346.8,311.47 L347.3,312.12 L347.8,312.26 L348.3,312.32 L348.8,312.41 L349.3,312.34 L349.8,312.25 L350.3,311.8 L350.8,311.43 L351.3,310.93 L351.8,310.69 L352.3,310.45 L352.8,310.54 L353.3,310.41 L353.8,310.62 L354.3,311.47 L354.8,312.47 L355.3,313.03 L355.8,313.01 L356.3,312.89 L356.8,312.77 L357.3,312.54 L357.8,312.24 L358.3,312.09 L358.8,312.11 L359.3,311.51 L359.8,311.4 L360.3,311.18 L360.8,311.78 L361.3,311.61 L361.8,311.66 L362.3,311.75 L362.8,311.25 L363.3,311.45 L363.8,311.2 L364.3,311.39 L364.8,310.68 L365.3,310.69 L365.8,310.79 L366.3,311.34 L366.8,311.26 L367.3,311.35 L367.8,311.28 L368.3,311.21 L368.8,311.29 L369.3,311.25 L369.8,311.32 L370.3,311.43 L370.8,311.53 L371.3,311.35 L371.8,311.28 L372.3,311.23 L372.8,311.5 L373.3,311.39 L373.8,311.47 L374.3,311.88 L374.8,312.59 L375.3,313.44 L375.8,313.79 L376.3,314.18 L376.8,314.22 L377.3,314.53 L377.8,314.62 L378.3,314.5 L378.8,314.71 L379.3,314.88" stroke="#262626" stroke-width="2.3" fill="none" stroke-linejoin="round"/>
<path d="M183.3,362.63 L183.8,362.73 L184.3,362.81 L184.8,362.86 L185.3,362.49 L185.8,362.22 L186.3,361.69 L186.8,361.83 L187.3,362.06 L187.8,362.23 L188.3,362.29 L188.8,361.76 L189.3,361.75 L189.8,361.47 L190.3,362.05 L190.8,362.13 L191.3,362.41 L191.8,362.06 L192.3,361.98 L192.8,361.9 L193.3,361.81 L193.8,361.59 L194.3,361.43 L194.8,361.35 L195.3,361.29 L195.8,361.23 L196.3,361.17 L196.8,361.36 L197.3,361.11 L197.8,361.33 L198.3,361.04 L198.8,361.15 L199.3,360.72 L199.8,360.73 L200.3,360.7 L200.8,360.89 L201.3,360.75 L201.8,360.73 L202.3,360.93 L202.8,361.01 L203.3,360.83 L203.8,360.61 L204.3,360.45 L204.8,360.57 L205.3,360.44 L205.8,360.32 L206.3,359.77 L206.8,359.41 L207.3,359.29 L207.8,359.27 L208.3,359.11 L208.8,358.89 L209.3,358.58 L209.8,358.42 L210.3,358.43 L210.8,358.84 L211.3,359.21 L211.8,359.55 L212.3,360.17 L212.8,360.44 L213.3,360.68" stroke="#2e2e2e" stroke-width="2.0" fill="none" stroke-linejoin="round"/>
</g>
<path d="M183.3,364.83 L183.8,364.79 L184.3,364.75 L184.8,364.7 L185.3,364.64 L185.8,364.58 L186.3,364.52 L186.8,364.45 L187.3,364.39 L187.8,364.33 L188.3,364.26 L188.8,364.2 L189.3,364.13 L189.8,364.07 L190.3,364.01 L190.8,363.94 L191.3,363.88 L191.8,363.82 L192.3,363.75 L192.8,363.69 L193.3,363.62 L193.8,363.56 L194.3,363.5 L194.8,363.43 L195.3,363.37 L195.8,363.31 L196.3,363.24 L196.8,363.17 L197.3,363.09 L197.8,363.01 L198.3,362.91 L198.8,362.82 L199.3,362.71 L199.8,362.6 L200.3,362.48 L200.8,362.36 L201.3,362.23 L201.8,362.11 L202.3,361.98 L202.8,361.86 L203.3,361.74 L203.8,361.61 L204.3,361.49 L204.8,361.36 L205.3,361.24 L205.8,361.12 L206.3,360.99 L206.8,360.87 L207.3,360.74 L207.8,360.62 L208.3,360.49 L208.8,360.35 L209.3,360.2 L209.8,360.04 L210.3,359.88 L210.8,359.7 L211.3,359.52 L211.8,359.33 L212.3,359.13 L212.8,358.93 L213.3,358.72 L213.8,358.52 L214.3,358.32 L214.8,358.11 L215.3,357.91 L215.8,357.71 L216.3,357.51 L216.8,357.3 L217.3,357.1 L217.8,356.9 L218.3,356.7 L218.8,356.49 L219.3,356.29 L219.8,356.09 L220.3,355.9 L220.8,355.71 L221.3,355.53 L221.8,355.36 L222.3,355.19 L222.8,355.02 L223.3,354.86 L223.8,354.71 L224.3,354.56 L224.8,354.41 L225.3,354.26 L225.8,354.11 L226.3,353.96 L226.8,353.81 L227.3,353.66 L227.8,353.52 L228.3,353.37 L228.8,353.22 L229.3,353.07 L229.8,352.92 L230.3,352.77 L230.8,352.62 L231.3,352.47 L231.8,352.31 L232.3,352.15 L232.8,351.98 L233.3,351.81 L233.8,351.64 L234.3,351.45 L234.8,351.27 L235.3,351.07 L235.8,350.88 L236.3,350.68 L236.8,350.48 L237.3,350.29 L237.8,350.09 L238.3,349.89 L238.8,349.7 L239.3,349.5 L239.8,349.31 L240.3,349.11 L240.8,348.91 L241.3,348.72 L241.8,348.52 L242.3,348.32 L242.8,348.13 L243.3,347.92 L243.8,347.71 L244.3,347.5 L244.8,347.27 L245.3,347.04 L245.8,346.8 L246.3,346.56 L246.8,346.3 L247.3,346.04 L247.8,345.78 L248.3,345.52 L248.8,345.25 L249.3,344.99 L249.8,344.73 L250.3,344.47 L250.8,344.2 L251.3,343.94 L251.8,343.68 L252.3,343.42 L252.8,343.15 L253.3,342.89 L253.8,342.63 L254.3,342.38 L254.8,342.12 L255.3,341.86 L255.8,341.61 L256.3,341.36 L256.8,341.11 L257.3,340.86 L257.8,340.61 L258.3,340.36 L258.8,340.12 L259.3,339.87 L259.8,339.62 L260.3,339.37 L260.8,339.12 L261.3,338.88 L261.8,338.63 L262.3,338.38 L262.8,338.13 L263.3,337.89 L263.8,337.64 L264.3,337.39 L264.8,337.14 L265.3,336.89 L265.8,336.65 L266.3,336.4 L266.8,336.15 L267.3,335.9 L267.8,335.65 L268.3,335.41 L268.8,335.16 L269.3,334.91 L269.8,334.66 L270.3,334.42 L270.8,334.17 L271.3,333.92 L271.8,333.67 L272.3,333.42 L272.8,333.18 L273.3,332.93 L273.8,332.68 L274.3,332.43 L274.8,332.18 L275.3,331.94 L275.8,331.69 L276.3,331.44 L276.8,331.2 L277.3,330.97 L277.8,330.74 L278.3,330.52 L278.8,330.31 L279.3,330.11 L279.8,329.92 L280.3,329.73 L280.8,329.55 L281.3,329.37 L281.8,329.2 L282.3,329.02 L282.8,328.84 L283.3,328.67 L283.8,328.49 L284.3,328.31 L284.8,328.14 L285.3,327.96 L285.8,327.78 L286.3,327.61 L286.8,327.43 L287.3,327.25 L287.8,327.08 L288.3,326.9 L288.8,326.72 L289.3,326.53 L289.8,326.35 L290.3,326.16 L290.8,325.97 L291.3,325.77 L291.8,325.58 L292.3,325.38 L292.8,325.18 L293.3,324.97 L293.8,324.77 L294.3,324.57 L294.8,324.37 L295.3,324.17 L295.8,323.97 L296.3,323.77 L296.8,323.57 L297.3,323.37 L297.8,323.17 L298.3,322.97 L298.8,322.76 L299.3,322.56 L299.8,322.36 L300.3,322.17 L300.8,321.98 L301.3,321.8 L301.8,321.62 L302.3,321.45 L302.8,321.29 L303.3,321.13 L303.8,320.97 L304.3,320.82 L304.8,320.67 L305.3,320.52 L305.8,320.37 L306.3,320.22 L306.8,320.07 L307.3,319.92 L307.8,319.78 L308.3,319.63 L308.8,319.48 L309.3,319.33 L309.8,319.18 L310.3,319.03 L310.8,318.88 L311.3,318.73 L311.8,318.58 L312.3,318.44 L312.8,318.29 L313.3,318.16 L313.8,318.02 L314.3,317.88 L314.8,317.75 L315.3,317.63 L315.8,317.5 L316.3,317.37 L316.8,317.25 L317.3,317.12 L317.8,317 L318.3,316.88 L318.8,316.75 L319.3,316.62 L319.8,316.5 L320.3,316.38 L320.8,316.25 L321.3,316.12 L321.8,316 L322.3,315.88 L322.8,315.75 L323.3,315.63 L323.8,315.5 L324.3,315.38 L324.8,315.26 L325.3,315.14 L325.8,315.01 L326.3,314.89 L326.8,314.78 L327.3,314.66 L327.8,314.54 L328.3,314.42 L328.8,314.3 L329.3,314.19 L329.8,314.07 L330.3,313.95 L330.8,313.83 L331.3,313.71 L331.8,313.6 L332.3,313.48 L332.8,313.36 L333.3,313.24 L333.8,313.13 L334.3,313.01 L334.8,312.89 L335.3,312.77 L335.8,312.65 L336.3,312.54 L336.8,312.42 L337.3,312.3 L337.8,312.19 L338.3,312.09 L338.8,311.98 L339.3,311.89 L339.8,311.79 L340.3,311.7 L340.8,311.62 L341.3,311.54 L341.8,311.46 L342.3,311.38 L342.8,311.3 L343.3,311.22 L343.8,311.14 L344.3,311.06 L344.8,310.98 L345.3,310.91 L345.8,310.83 L346.3,310.75 L346.8,310.67 L347.3,310.6 L347.8,310.53 L348.3,310.47 L348.8,310.42 L349.3,310.36 L349.8,310.32 L350.3,310.28 L350.8,310.24 L351.3,310.2 L351.8,310.17 L352.3,310.14 L352.8,310.11 L353.3,310.09 L353.8,310.07" stroke="#e3262b" stroke-width="1.05" fill="none" stroke-dasharray="1.4,0.5"/>
<path d="M183.3,371.64 L183.7,371.16 L184.1,370.67 L184.5,370.18 L184.9,369.71 L185.3,369.28 L185.7,368.92 L186.1,368.63 L186.5,368.44 L186.9,368.36 L187.3,368.4 L187.7,368.58 L188.1,368.89 L188.5,369.32 L188.9,369.88 L189.3,370.52 L189.7,371.24 L190.1,371.99 L190.5,372.73 L190.9,373.43 L191.3,374.04 L191.7,374.54 L192.1,374.87 L192.5,375.03 L192.9,374.99 L193.3,374.74 L193.7,374.3 L194.1,373.68 L194.5,372.9 L194.9,372 L195.3,371.03 L195.7,370.03 L196.1,369.06 L196.5,368.17 L196.9,367.39 L197.3,366.79 L197.7,366.38 L198.1,366.19 L198.5,366.23 L198.9,366.51 L199.3,367 L199.7,367.7 L200.1,368.55 L200.5,369.53 L200.9,370.59 L201.3,371.67 L201.7,372.72 L202.1,373.69 L202.5,374.54 L202.9,375.22 L203.3,375.69 L203.7,375.95 L204.1,375.96 L204.5,375.74 L204.9,375.29 L205.3,374.64 L205.7,373.81 L206.1,372.85 L206.5,371.8 L206.9,370.71 L207.3,369.63 L207.7,368.62 L208.1,367.72 L208.5,366.98 L208.9,366.43 L209.3,366.1 L209.7,366 L210.1,366.14 L210.5,366.52 L210.9,367.1 L211.3,367.88 L211.7,368.8 L212.1,369.83 L212.5,370.91 L212.9,372 L213.3,373.04 L213.7,373.98 L214.1,374.78 L214.5,375.4 L214.9,375.81 L215.3,375.99 L215.7,375.93 L216.1,375.64 L216.5,375.13 L216.9,374.41 L217.3,373.54 L217.7,372.54 L218.1,371.47 L218.5,370.38 L218.9,369.32 L219.3,368.34 L219.7,367.48 L220.1,366.79 L220.5,366.31 L220.9,366.04 L221.3,366.02 L221.7,366.23 L222.1,366.67 L222.5,367.32 L222.9,368.14 L223.3,369.1 L223.7,370.14 L224.1,371.24 L224.5,372.31 L224.9,373.33 L225.3,374.24 L225.7,374.99 L226.1,375.55 L226.5,375.89 L226.9,376 L227.3,375.87 L227.7,375.51 L228.1,374.93 L228.5,374.17 L228.9,373.25 L229.3,372.23 L229.7,371.15 L230.1,370.06 L230.5,369.02 L230.9,368.07 L231.3,367.26 L231.7,366.63 L232.1,366.2 L232.5,366.01 L232.9,366.06 L233.3,366.34 L233.7,366.84 L234.1,367.54 L234.5,368.41 L234.9,369.4 L235.3,370.47 L235.7,371.56 L236.1,372.62 L236.5,373.61 L236.9,374.48 L237.3,375.17 L237.7,375.67 L238.1,375.95 L238.5,375.99 L238.9,375.79 L239.3,375.36 L239.7,374.73 L240.1,373.91 L240.5,372.96 L240.9,371.91 L241.3,370.82 L241.7,369.74 L242.1,368.72 L242.5,367.81 L242.9,367.05 L243.3,366.48 L243.7,366.12 L244.1,366 L244.5,366.12 L244.9,366.46 L245.3,367.03 L245.7,367.78 L246.1,368.69 L246.5,369.71 L246.9,370.79 L247.3,371.88 L247.7,372.93 L248.1,373.88 L248.5,374.7 L248.9,375.34 L249.3,375.78 L249.7,375.98 L250.1,375.95 L250.5,375.68 L250.9,375.19 L251.3,374.5 L251.7,373.64 L252.1,372.66 L252.5,371.59 L252.9,370.5 L253.3,369.43 L253.7,368.44 L254.1,367.57 L254.5,366.86 L254.9,366.35 L255.3,366.06 L255.7,366.01 L256.1,366.2 L256.5,366.61 L256.9,367.24 L257.3,368.04 L257.7,368.99 L258.1,370.03 L258.5,371.12 L258.9,372.2 L259.3,373.22 L259.7,374.14 L260.1,374.91 L260.5,375.5 L260.9,375.86 L261.3,376 L261.7,375.9 L262.1,375.56 L262.5,375.01 L262.9,374.26 L263.3,373.36 L263.7,372.35 L264.1,371.27 L264.5,370.18 L264.9,369.13 L265.3,368.17 L265.7,367.34 L266.1,366.69 L266.5,366.24 L266.9,366.02 L267.3,366.04 L267.7,366.3 L268.1,366.78 L268.5,367.46 L268.9,368.31 L269.3,369.29 L269.7,370.35 L270.1,371.44 L270.5,372.51 L270.9,373.51 L271.3,374.39 L271.7,375.11 L272.1,375.63 L272.5,375.93 L272.9,375.99 L273.3,375.82 L273.7,375.42 L274.1,374.8 L274.5,374.01 L274.9,373.07 L275.3,372.03 L275.7,370.94 L276.1,369.86 L276.5,368.83 L276.9,367.9 L277.3,367.12 L277.7,366.53 L278.1,366.15 L278.5,366 L278.9,366.09 L279.3,366.42 L279.7,366.96 L280.1,367.69 L280.5,368.59 L280.9,369.6 L281.3,370.67 L281.7,371.76 L282.1,372.82 L282.5,373.79 L282.9,374.62 L283.3,375.28 L283.7,375.74 L284.1,375.97 L284.5,375.97 L284.9,375.72 L285.3,375.26 L285.7,374.59 L286.1,373.74 L286.5,372.77 L286.9,371.71 L287.3,370.62 L287.7,369.55 L288.1,368.54 L288.5,367.66 L288.9,366.93 L289.3,366.4 L289.7,366.08 L290.1,366 L290.5,366.16 L290.9,366.55 L291.3,367.16 L291.7,367.94 L292.1,368.88 L292.5,369.91 L292.9,371 L293.3,372.08 L293.7,373.12 L294.1,374.05 L294.5,374.84 L294.9,375.44 L295.3,375.83 L295.7,376 L296.1,375.92 L296.5,375.61 L296.9,375.08 L297.3,374.35 L297.7,373.47 L298.1,372.46 L298.5,371.39 L298.9,370.3 L299.3,369.24 L299.7,368.26 L300.1,367.42 L300.5,366.77 L300.9,366.31 L301.3,366.09 L301.7,366.1 L302.1,366.34 L302.5,366.8 L302.9,367.46 L303.3,368.28 L303.7,369.23 L304.1,370.26 L304.5,371.31 L304.9,372.34 L305.3,373.3 L305.7,374.14 L306.1,374.83 L306.5,375.33 L306.9,375.62 L307.3,375.69 L307.7,375.54 L308.1,375.17 L308.5,374.61 L308.9,373.87 L309.3,373.01 L309.7,372.06 L310.1,371.06 L310.5,370.07 L310.9,369.13 L311.3,368.28 L311.7,367.57 L312.1,367.03 L312.5,366.68 L312.9,366.54 L313.3,366.62 L313.7,366.9 L314.1,367.37 L314.5,368.01 L314.9,368.8 L315.3,369.67 L315.7,370.61 L316.1,371.56 L316.5,372.47 L316.9,373.31 L317.3,374.03 L317.7,374.6 L318.1,374.99 L318.5,375.19 L318.9,375.2 L319.3,375 L319.7,374.61 L320.1,374.05 L320.5,373.36 L320.9,372.55 L321.3,371.68 L321.7,370.79 L322.1,369.91 L322.5,369.09 L322.9,368.37 L323.3,367.78 L323.7,367.34 L324.1,367.09 L324.5,367.02 L324.9,367.14 L325.3,367.45 L325.7,367.92 L326.1,368.54 L326.5,369.26 L326.9,370.06 L327.3,370.9 L327.7,371.74 L328.1,372.54 L328.5,373.25 L328.9,373.85 L329.3,374.31 L329.7,374.61 L330.1,374.74 L330.5,374.68 L330.9,374.46 L331.3,374.06 L331.7,373.53 L332.1,372.88 L332.5,372.15 L332.9,371.37 L333.3,370.58 L333.7,369.81 L334.1,369.11 L334.5,368.51 L334.9,368.03 L335.3,367.7 L335.7,367.52 L336.1,367.51 L336.5,367.67 L336.9,367.99 L337.3,368.44 L337.7,369.02 L338.1,369.68 L338.5,370.4 L338.9,371.14 L339.3,371.86 L339.7,372.54 L340.1,373.14 L340.5,373.63 L340.9,373.99 L341.3,374.2 L341.7,374.26 L342.1,374.17 L342.5,373.92 L342.9,373.54 L343.3,373.04 L343.7,372.45 L344.1,371.8 L344.5,371.12 L344.9,370.43 L345.3,369.78 L345.7,369.2 L346.1,368.71 L346.5,368.33 L346.9,368.08 L347.3,367.98 L347.7,368.02 L348.1,368.2 L348.5,368.51 L348.9,368.94 L349.3,369.46 L349.7,370.04 L350.1,370.67 L350.5,371.3 L350.9,371.92 L351.3,372.48 L351.7,372.96 L352.1,373.35 L352.5,373.62 L352.9,373.76 L353.3,373.77 L353.7,373.65 L354.1,373.4 L354.5,373.05 L354.9,372.59 L355.3,372.07 L355.7,371.51 L356.1,370.92 L356.5,370.35 L356.9,369.82 L357.3,369.35 L357.7,368.96 L358.1,368.68 L358.5,368.5 L358.9,368.45 L359.3,368.53 L359.7,368.71 L360.1,369 L360.5,369.38 L360.9,369.83 L361.3,370.34 L361.7,370.88 L362.1,371.42 L362.5,371.95 L362.9,372.43 L363.3,372.84 L363.7,373.16 L364.1,373.38 L364.5,373.49 L364.9,373.48 L365.3,373.35 L365.7,373.11 L366.1,372.76 L366.5,372.34 L366.9,371.84 L367.3,371.31 L367.7,370.77 L368.1,370.23 L368.5,369.73 L368.9,369.3 L369.3,368.94 L369.7,368.68 L370.1,368.53 L370.5,368.5 L370.9,368.59 L371.3,368.8 L371.7,369.11 L372.1,369.51 L372.5,369.98 L372.9,370.5 L373.3,371.04 L373.7,371.58 L374.1,372.1 L374.5,372.56 L374.9,372.95 L375.3,373.24 L375.7,373.43 L376.1,373.5 L376.5,373.45 L376.9,373.29 L377.3,373.01 L377.7,372.64 L378.1,372.2 L378.5,371.69 L378.9,371.15 L379.3,370.61" stroke="#ec7438" stroke-width="1.3" fill="none"/>
<line x1="232.3" y1="333.5" x2="234.8" y2="339.1" stroke="#000" stroke-width="0.75"/>
<path d="M234.8,339.1 L232.27,336.83 L234.8,335.7 Z" fill="#000" stroke="none"/>
<line x1="313.3" y1="304.3" x2="315.8" y2="309.9" stroke="#000" stroke-width="0.75"/>
<path d="M315.8,309.9 L313.27,307.63 L315.8,306.5 Z" fill="#000" stroke="none"/>
<line x1="345.9" y1="374.9" x2="364.9" y2="374.9" stroke="#000" stroke-width="1.5"/>
<line x1="191.7" y1="388.7" x2="191.7" y2="444" stroke="#f4b090" stroke-width="0.85" stroke-dasharray="3.6,1.6"/>
<line x1="203.8" y1="388.7" x2="203.8" y2="444" stroke="#f4b090" stroke-width="0.85" stroke-dasharray="3.6,1.6"/>
<line x1="215.8" y1="388.7" x2="215.8" y2="444" stroke="#f4b090" stroke-width="0.85" stroke-dasharray="3.6,1.6"/>
<line x1="228.5" y1="388.7" x2="228.5" y2="444" stroke="#f4b090" stroke-width="0.85" stroke-dasharray="3.6,1.6"/>
<line x1="240.5" y1="388.7" x2="240.5" y2="444" stroke="#f4b090" stroke-width="0.85" stroke-dasharray="3.6,1.6"/>
<line x1="252.5" y1="388.7" x2="252.5" y2="444" stroke="#f4b090" stroke-width="0.85" stroke-dasharray="3.6,1.6"/>
<line x1="264.5" y1="388.7" x2="264.5" y2="444" stroke="#f4b090" stroke-width="0.85" stroke-dasharray="3.6,1.6"/>
<line x1="276.8" y1="388.7" x2="276.8" y2="444" stroke="#f4b090" stroke-width="0.85" stroke-dasharray="3.6,1.6"/>
<line x1="288.8" y1="388.7" x2="288.8" y2="444" stroke="#f4b090" stroke-width="0.85" stroke-dasharray="3.6,1.6"/>
<line x1="300.8" y1="388.7" x2="300.8" y2="444" stroke="#f4b090" stroke-width="0.85" stroke-dasharray="3.6,1.6"/>
<line x1="312.8" y1="388.7" x2="312.8" y2="444" stroke="#f4b090" stroke-width="0.85" stroke-dasharray="3.6,1.6"/>
<line x1="324.9" y1="388.7" x2="324.9" y2="444" stroke="#f4b090" stroke-width="0.85" stroke-dasharray="3.6,1.6"/>
<line x1="335.6" y1="388.7" x2="335.6" y2="444" stroke="#f4b090" stroke-width="0.85" stroke-dasharray="3.6,1.6"/>
<line x1="346.6" y1="388.7" x2="346.6" y2="444" stroke="#f4b090" stroke-width="0.85" stroke-dasharray="3.6,1.6"/>
<line x1="358.6" y1="388.7" x2="358.6" y2="444" stroke="#f4b090" stroke-width="0.85" stroke-dasharray="3.6,1.6"/>
<line x1="370.7" y1="388.7" x2="370.7" y2="444" stroke="#f4b090" stroke-width="0.85" stroke-dasharray="3.6,1.6"/>
<g filter="url(#bl2)">
<path d="M184.9,439.29 L185.4,439.45 L185.9,439.16 L186.4,439.89 L186.9,439.8 L187.4,440.09 L187.9,439.87 L188.4,439.72 L188.9,439.52 L189.4,439.58 L189.9,439.61 L190.4,439.47 L190.9,439.52 L191.4,439.7 L191.9,439.65 L192.4,439.44 L192.9,438.97 L193.4,439.26 L193.9,439.21 L194.4,439.66 L194.9,439.37 L195.4,439.66 L195.9,439.62 L196.4,439.53 L196.9,439.38 L197.4,438.9 L197.9,438.98 L198.4,438.41 L198.9,438.55 L199.4,438.45 L199.9,438.66 L200.4,438.45 L200.9,438.01 L201.4,437.77 L201.9,437.86 L202.4,437.99 L202.9,437.85 L203.4,437.31 L203.9,437.12 L204.4,436.77 L204.9,436.74 L205.4,436.35 L205.9,436.57 L206.4,436.49 L206.9,436.42 L207.4,436.03 L207.9,435.56 L208.4,435.26 L208.9,435.14 L209.4,434.93 L209.9,434.63 L210.4,434.06 L210.9,434.05 L211.4,434.03 L211.9,434.34 L212.4,434.4 L212.9,434.73 L213.4,434.69 L213.9,434.75 L214.4,434.44 L214.9,434.51 L215.4,434.24 L215.9,433.97 L216.4,433.73 L216.9,433.77 L217.4,433.72 L217.9,432.91 L218.4,432.35 L218.9,431.89 L219.4,431.95 L219.9,431.86 L220.4,432.17 L220.9,432.13 L221.4,431.9 L221.9,431.53 L222.4,431.4 L222.9,431.33 L223.4,430.86 L223.9,430.59 L224.4,430.39 L224.9,429.93 L225.4,429.41 L225.9,429.26 L226.4,429.46 L226.9,429.39 L227.4,429.24 L227.9,429.72 L228.4,430.72 L228.9,431.94 L229.4,433.21 L229.9,434.04 L230.4,434.55 L230.9,434.28 L231.4,434.37 L231.9,434.12 L232.4,433.26 L232.9,432.05 L233.4,430.63 L233.9,429.73 L234.4,428.88 L234.9,428.12 L235.4,427.27 L235.9,426.75 L236.4,426.34 L236.9,426.28 L237.4,426.52 L237.9,426.34 L238.4,426.38 L238.9,425.55 L239.4,425.23 L239.9,424.33 L240.4,423.5 L240.9,422.37 L241.4,421.53 L241.9,420.38 L242.4,419.6 L242.9,419.03 L243.4,419.72 L243.9,420.29 L244.4,420.8 L244.9,421.01 L245.4,421.97 L245.9,422.6 L246.4,423.23 L246.9,423.25 L247.4,423.61 L247.9,423.69 L248.4,423.9 L248.9,424.19 L249.4,424.04 L249.9,424.22 L250.4,423.73 L250.9,423.25 L251.4,421.92 L251.9,420.76 L252.4,420.03 L252.9,419.27 L253.4,418.85 L253.9,417.95 L254.4,417.57 L254.9,417.34 L255.4,417.52 L255.9,418.05 L256.4,418.66 L256.9,419.83 L257.4,420.81 L257.9,421.75 L258.4,421.76 L258.9,421.1 L259.4,419.76 L259.9,418.25 L260.4,416.78 L260.9,415.53 L261.4,414.41 L261.9,413.47 L262.4,413.09 L262.9,412.75 L263.4,412.6 L263.9,412.77 L264.4,413.06 L264.9,413.13 L265.4,412.89 L265.9,413.22 L266.4,414.15 L266.9,415.06 L267.4,415.32 L267.9,415.81 L268.4,415.79 L268.9,416.53 L269.4,416.77 L269.9,417.25 L270.4,417.08 L270.9,416.56 L271.4,415.63 L271.9,415 L272.4,414.47 L272.9,414.14 L273.4,413.88 L273.9,413.3 L274.4,412.74 L274.9,412.08 L275.4,411.44 L275.9,410.6 L276.4,409.45 L276.9,409.12 L277.4,408.93 L277.9,408.95 L278.4,408.31 L278.9,408.02 L279.4,408.08 L279.9,408.07 L280.4,407.71 L280.9,407.2 L281.4,407.26 L281.9,407.14 L282.4,406.66 L282.9,405.94 L283.4,405.82 L283.9,406.31 L284.4,406.65 L284.9,406.68 L285.4,406.27 L285.9,406.17 L286.4,406.21 L286.9,406.26 L287.4,406.28 L287.9,406.47 L288.4,407.41 L288.9,407.75 L289.4,408.59 L289.9,408.52 L290.4,409.07 L290.9,408.68 L291.4,408.51 L291.9,408.07 L292.4,407.74 L292.9,407.44 L293.4,406.72 L293.9,406.44 L294.4,405.82 L294.9,405.67 L295.4,405.29 L295.9,405.01 L296.4,404.78 L296.9,403.64 L297.4,402.8 L297.9,402.06 L298.4,401.5 L298.9,400.71 L299.4,399.81 L299.9,399.13 L300.4,397.92 L300.9,396.58 L301.4,395.35 L301.9,394.31 L302.4,393.01 L302.9,392.34 L303.4,392.13 L303.9,392.84 L304.4,393.32 L304.9,394.31 L305.4,395.03 L305.9,395.72 L306.4,396.24 L306.9,396.53 L307.4,396.79 L307.9,396.93 L308.4,396.94 L308.9,397.02 L309.4,397.03 L309.9,397.19 L310.4,397.55 L310.9,397.16 L311.4,397.02 L311.9,396.28 L312.4,396.34 L312.9,396.19 L313.4,396.27 L313.9,396.27 L314.4,396.04 L314.9,395.33 L315.4,394.8 L315.9,394.97 L316.4,395.8 L316.9,396.21 L317.4,395.9 L317.9,396.21 L318.4,396.11 L318.9,396.79 L319.4,396.89 L319.9,397.8 L320.4,398.06 L320.9,398.52 L321.4,398.94 L321.9,398.94 L322.4,398.28 L322.9,397.43 L323.4,396.87 L323.9,396.42 L324.4,395.63 L324.9,395.05 L325.4,394.48 L325.9,394.06 L326.4,393.88 L326.9,393.89 L327.4,394.11 L327.9,393.79 L328.4,393.46 L328.9,393.03 L329.4,392.73 L329.9,392.13 L330.4,391.29 L330.9,390.46 L331.4,390.15 L331.9,390.37 L332.4,390.65 L332.9,390.72 L333.4,390.82 L333.9,390.69 L334.4,390.92 L334.9,390.75 L335.4,390.97 L335.9,390.94 L336.4,390.92 L336.9,390.57 L337.4,390.33 L337.9,390.08 L338.4,390.22 L338.9,390.23 L339.4,390.09 L339.9,390.09 L340.4,390.13 L340.9,390.12 L341.4,390 L341.9,389.41 L342.4,389.25 L342.9,389.16 L343.4,388.99 L343.9,388.88 L344.4,388.45 L344.9,388.85 L345.4,389.06 L345.9,389.05 L346.4,388.82 L346.9,388.14 L347.4,388.34 L347.9,388.32 L348.4,388.92 L348.9,388.33 L349.4,388.3 L349.9,388 L350.4,387.96 L350.9,387.79 L351.4,387.83 L351.9,388.4 L352.4,388.55 L352.9,388.48 L353.4,388.42 L353.9,388.36 L354.4,388.31 L354.9,388.03 L355.4,388.02 L355.9,388.1 L356.4,388.52 L356.9,388.37 L357.4,388.56 L357.9,388.27 L358.4,388.52 L358.9,388.1 L359.4,387.9 L359.9,387.65 L360.4,387.95 L360.9,388.13 L361.4,388.34 L361.9,388.39 L362.4,388.77 L362.9,388.98 L363.4,389.15 L363.9,389.36 L364.4,389.65 L364.9,390.33 L365.4,390.33 L365.9,390.22 L366.4,389.53 L366.9,389.35 L367.4,389.08 L367.9,388.84 L368.4,388.19 L368.9,387.69 L369.4,387.67 L369.9,388.04 L370.4,388.58 L370.9,388.28 L371.4,388.17 L371.9,387.69 L372.4,387.87 L372.9,387.9 L373.4,388.36 L373.9,388.44 L374.4,388.35 L374.9,388.14 L375.4,388.44 L375.9,388.96 L376.4,388.76 L376.9,388.5 L377.4,388.03 L377.9,388.48 L378.4,388.6 L378.9,388.92 L379.4,388.73" stroke="#9c9c9c" stroke-width="3.8" fill="none" stroke-linejoin="round" opacity="0.8"/>
<line x1="229.7" y1="430" x2="229.7" y2="437" stroke="#a0a0a0" stroke-width="1.5"/>
<line x1="258.5" y1="420" x2="258.5" y2="425" stroke="#a0a0a0" stroke-width="1.5"/>
<line x1="290" y1="407" x2="290" y2="413" stroke="#a0a0a0" stroke-width="1.5"/>
<line x1="321.8" y1="397" x2="321.8" y2="401" stroke="#a0a0a0" stroke-width="1.5"/>
<line x1="242.6" y1="414" x2="242.6" y2="420" stroke="#a0a0a0" stroke-width="1.5"/>
</g><g filter="url(#bl)">
<path d="M184.9,439.29 L185.4,439.45 L185.9,439.16 L186.4,439.89 L186.9,439.8 L187.4,440.09 L187.9,439.87 L188.4,439.72 L188.9,439.52 L189.4,439.58 L189.9,439.61 L190.4,439.47 L190.9,439.52 L191.4,439.7 L191.9,439.65 L192.4,439.44 L192.9,438.97 L193.4,439.26 L193.9,439.21 L194.4,439.66 L194.9,439.37 L195.4,439.66 L195.9,439.62 L196.4,439.53 L196.9,439.38 L197.4,438.9 L197.9,438.98 L198.4,438.41 L198.9,438.55 L199.4,438.45 L199.9,438.66 L200.4,438.45 L200.9,438.01 L201.4,437.77 L201.9,437.86 L202.4,437.99 L202.9,437.85 L203.4,437.31 L203.9,437.12 L204.4,436.77 L204.9,436.74 L205.4,436.35 L205.9,436.57 L206.4,436.49 L206.9,436.42 L207.4,436.03 L207.9,435.56 L208.4,435.26 L208.9,435.14 L209.4,434.93 L209.9,434.63 L210.4,434.06 L210.9,434.05 L211.4,434.03 L211.9,434.34 L212.4,434.4 L212.9,434.73 L213.4,434.69 L213.9,434.75 L214.4,434.44 L214.9,434.51 L215.4,434.24 L215.9,433.97 L216.4,433.73 L216.9,433.77 L217.4,433.72 L217.9,432.91 L218.4,432.35 L218.9,431.89 L219.4,431.95 L219.9,431.86 L220.4,432.17 L220.9,432.13 L221.4,431.9 L221.9,431.53 L222.4,431.4 L222.9,431.33 L223.4,430.86 L223.9,430.59 L224.4,430.39 L224.9,429.93 L225.4,429.41 L225.9,429.26 L226.4,429.46 L226.9,429.39 L227.4,429.24 L227.9,429.72 L228.4,430.72 L228.9,431.94 L229.4,433.21 L229.9,434.04 L230.4,434.55 L230.9,434.28 L231.4,434.37 L231.9,434.12 L232.4,433.26 L232.9,432.05 L233.4,430.63 L233.9,429.73 L234.4,428.88 L234.9,428.12 L235.4,427.27 L235.9,426.75 L236.4,426.34 L236.9,426.28 L237.4,426.52 L237.9,426.34 L238.4,426.38 L238.9,425.55 L239.4,425.23 L239.9,424.33 L240.4,423.5 L240.9,422.37 L241.4,421.53 L241.9,420.38 L242.4,419.6 L242.9,419.03 L243.4,419.72 L243.9,420.29 L244.4,420.8 L244.9,421.01 L245.4,421.97 L245.9,422.6 L246.4,423.23 L246.9,423.25 L247.4,423.61 L247.9,423.69 L248.4,423.9 L248.9,424.19 L249.4,424.04 L249.9,424.22 L250.4,423.73 L250.9,423.25 L251.4,421.92 L251.9,420.76 L252.4,420.03 L252.9,419.27 L253.4,418.85 L253.9,417.95 L254.4,417.57 L254.9,417.34 L255.4,417.52 L255.9,418.05 L256.4,418.66 L256.9,419.83 L257.4,420.81 L257.9,421.75 L258.4,421.76 L258.9,421.1 L259.4,419.76 L259.9,418.25 L260.4,416.78 L260.9,415.53 L261.4,414.41 L261.9,413.47 L262.4,413.09 L262.9,412.75 L263.4,412.6 L263.9,412.77 L264.4,413.06 L264.9,413.13 L265.4,412.89 L265.9,413.22 L266.4,414.15 L266.9,415.06 L267.4,415.32 L267.9,415.81 L268.4,415.79 L268.9,416.53 L269.4,416.77 L269.9,417.25 L270.4,417.08 L270.9,416.56 L271.4,415.63 L271.9,415 L272.4,414.47 L272.9,414.14 L273.4,413.88 L273.9,413.3 L274.4,412.74 L274.9,412.08 L275.4,411.44 L275.9,410.6 L276.4,409.45 L276.9,409.12 L277.4,408.93 L277.9,408.95 L278.4,408.31 L278.9,408.02 L279.4,408.08 L279.9,408.07 L280.4,407.71 L280.9,407.2 L281.4,407.26 L281.9,407.14 L282.4,406.66 L282.9,405.94 L283.4,405.82 L283.9,406.31 L284.4,406.65 L284.9,406.68 L285.4,406.27 L285.9,406.17 L286.4,406.21 L286.9,406.26 L287.4,406.28 L287.9,406.47 L288.4,407.41 L288.9,407.75 L289.4,408.59 L289.9,408.52 L290.4,409.07 L290.9,408.68 L291.4,408.51 L291.9,408.07 L292.4,407.74 L292.9,407.44 L293.4,406.72 L293.9,406.44 L294.4,405.82 L294.9,405.67 L295.4,405.29 L295.9,405.01 L296.4,404.78 L296.9,403.64 L297.4,402.8 L297.9,402.06 L298.4,401.5 L298.9,400.71 L299.4,399.81 L299.9,399.13 L300.4,397.92 L300.9,396.58 L301.4,395.35 L301.9,394.31 L302.4,393.01 L302.9,392.34 L303.4,392.13 L303.9,392.84 L304.4,393.32 L304.9,394.31 L305.4,395.03 L305.9,395.72 L306.4,396.24 L306.9,396.53 L307.4,396.79 L307.9,396.93 L308.4,396.94 L308.9,397.02 L309.4,397.03 L309.9,397.19 L310.4,397.55 L310.9,397.16 L311.4,397.02 L311.9,396.28 L312.4,396.34 L312.9,396.19 L313.4,396.27 L313.9,396.27 L314.4,396.04 L314.9,395.33 L315.4,394.8 L315.9,394.97 L316.4,395.8 L316.9,396.21 L317.4,395.9 L317.9,396.21 L318.4,396.11 L318.9,396.79 L319.4,396.89 L319.9,397.8 L320.4,398.06 L320.9,398.52 L321.4,398.94 L321.9,398.94 L322.4,398.28 L322.9,397.43 L323.4,396.87 L323.9,396.42 L324.4,395.63 L324.9,395.05 L325.4,394.48 L325.9,394.06 L326.4,393.88 L326.9,393.89 L327.4,394.11 L327.9,393.79 L328.4,393.46 L328.9,393.03 L329.4,392.73 L329.9,392.13 L330.4,391.29 L330.9,390.46 L331.4,390.15 L331.9,390.37 L332.4,390.65 L332.9,390.72 L333.4,390.82 L333.9,390.69 L334.4,390.92 L334.9,390.75 L335.4,390.97 L335.9,390.94 L336.4,390.92 L336.9,390.57 L337.4,390.33 L337.9,390.08 L338.4,390.22 L338.9,390.23 L339.4,390.09 L339.9,390.09 L340.4,390.13 L340.9,390.12 L341.4,390 L341.9,389.41 L342.4,389.25 L342.9,389.16 L343.4,388.99 L343.9,388.88 L344.4,388.45 L344.9,388.85 L345.4,389.06 L345.9,389.05 L346.4,388.82 L346.9,388.14 L347.4,388.34 L347.9,388.32 L348.4,388.92 L348.9,388.33 L349.4,388.3 L349.9,388 L350.4,387.96 L350.9,387.79 L351.4,387.83 L351.9,388.4 L352.4,388.55 L352.9,388.48 L353.4,388.42 L353.9,388.36 L354.4,388.31 L354.9,388.03 L355.4,388.02 L355.9,388.1 L356.4,388.52 L356.9,388.37 L357.4,388.56 L357.9,388.27 L358.4,388.52 L358.9,388.1 L359.4,387.9 L359.9,387.65 L360.4,387.95 L360.9,388.13 L361.4,388.34 L361.9,388.39 L362.4,388.77 L362.9,388.98 L363.4,389.15 L363.9,389.36 L364.4,389.65 L364.9,390.33 L365.4,390.33 L365.9,390.22 L366.4,389.53 L366.9,389.35 L367.4,389.08 L367.9,388.84 L368.4,388.19 L368.9,387.69 L369.4,387.67 L369.9,388.04 L370.4,388.58 L370.9,388.28 L371.4,388.17 L371.9,387.69 L372.4,387.87 L372.9,387.9 L373.4,388.36 L373.9,388.44 L374.4,388.35 L374.9,388.14 L375.4,388.44 L375.9,388.96 L376.4,388.76 L376.9,388.5 L377.4,388.03 L377.9,388.48 L378.4,388.6 L378.9,388.92 L379.4,388.73" stroke="#666" stroke-width="1.15" fill="none" stroke-linejoin="round"/>
<path d="M345.4,389.06 L345.9,389.05 L346.4,388.82 L346.9,388.14 L347.4,388.34 L347.9,388.32 L348.4,388.92 L348.9,388.33 L349.4,388.3 L349.9,388 L350.4,387.96 L350.9,387.79 L351.4,387.83 L351.9,388.4 L352.4,388.55 L352.9,388.48 L353.4,388.42 L353.9,388.36 L354.4,388.31 L354.9,388.03 L355.4,388.02 L355.9,388.1 L356.4,388.52 L356.9,388.37 L357.4,388.56 L357.9,388.27 L358.4,388.52 L358.9,388.1 L359.4,387.9 L359.9,387.65 L360.4,387.95 L360.9,388.13 L361.4,388.34 L361.9,388.39 L362.4,388.77 L362.9,388.98 L363.4,389.15 L363.9,389.36 L364.4,389.65 L364.9,390.33 L365.4,390.33 L365.9,390.22 L366.4,389.53 L366.9,389.35 L367.4,389.08 L367.9,388.84 L368.4,388.19 L368.9,387.69 L369.4,387.67 L369.9,388.04 L370.4,388.58 L370.9,388.28 L371.4,388.17 L371.9,387.69 L372.4,387.87 L372.9,387.9 L373.4,388.36 L373.9,388.44 L374.4,388.35 L374.9,388.14 L375.4,388.44 L375.9,388.96 L376.4,388.76 L376.9,388.5 L377.4,388.03 L377.9,388.48 L378.4,388.6 L378.9,388.92 L379.4,388.73" stroke="#262626" stroke-width="2.3" fill="none" stroke-linejoin="round"/>
<path d="M184.9,439.29 L185.4,439.45 L185.9,439.16 L186.4,439.89 L186.9,439.8 L187.4,440.09 L187.9,439.87 L188.4,439.72 L188.9,439.52 L189.4,439.58 L189.9,439.61 L190.4,439.47 L190.9,439.52 L191.4,439.7 L191.9,439.65 L192.4,439.44 L192.9,438.97 L193.4,439.26 L193.9,439.21 L194.4,439.66 L194.9,439.37 L195.4,439.66 L195.9,439.62 L196.4,439.53 L196.9,439.38 L197.4,438.9 L197.9,438.98 L198.4,438.41 L198.9,438.55 L199.4,438.45 L199.9,438.66 L200.4,438.45 L200.9,438.01 L201.4,437.77 L201.9,437.86 L202.4,437.99 L202.9,437.85 L203.4,437.31 L203.9,437.12 L204.4,436.77 L204.9,436.74 L205.4,436.35 L205.9,436.57 L206.4,436.49 L206.9,436.42 L207.4,436.03 L207.9,435.56 L208.4,435.26 L208.9,435.14 L209.4,434.93 L209.9,434.63 L210.4,434.06 L210.9,434.05 L211.4,434.03 L211.9,434.34 L212.4,434.4 L212.9,434.73 L213.4,434.69 L213.9,434.75 L214.4,434.44 L214.9,434.51" stroke="#2e2e2e" stroke-width="2.0" fill="none" stroke-linejoin="round"/>
</g>
<path d="M184.9,441.83 L185.4,441.8 L185.9,441.75 L186.4,441.7 L186.9,441.65 L187.4,441.59 L187.9,441.52 L188.4,441.46 L188.9,441.4 L189.4,441.33 L189.9,441.27 L190.4,441.21 L190.9,441.15 L191.4,441.08 L191.9,441.02 L192.4,440.96 L192.9,440.89 L193.4,440.83 L193.9,440.77 L194.4,440.71 L194.9,440.64 L195.4,440.58 L195.9,440.52 L196.4,440.45 L196.9,440.39 L197.4,440.33 L197.9,440.27 L198.4,440.2 L198.9,440.14 L199.4,440.08 L199.9,440.02 L200.4,439.95 L200.9,439.89 L201.4,439.83 L201.9,439.76 L202.4,439.69 L202.9,439.62 L203.4,439.53 L203.9,439.44 L204.4,439.34 L204.9,439.23 L205.4,439.11 L205.9,438.98 L206.4,438.85 L206.9,438.71 L207.4,438.58 L207.9,438.44 L208.4,438.31 L208.9,438.17 L209.4,438.03 L209.9,437.9 L210.4,437.76 L210.9,437.63 L211.4,437.49 L211.9,437.36 L212.4,437.22 L212.9,437.09 L213.4,436.95 L213.9,436.81 L214.4,436.68 L214.9,436.54 L215.4,436.4 L215.9,436.26 L216.4,436.12 L216.9,435.98 L217.4,435.83 L217.9,435.68 L218.4,435.53 L218.9,435.38 L219.4,435.22 L219.9,435.07 L220.4,434.91 L220.9,434.76 L221.4,434.6 L221.9,434.45 L222.4,434.29 L222.9,434.14 L223.4,433.98 L223.9,433.83 L224.4,433.67 L224.9,433.52 L225.4,433.36 L225.9,433.21 L226.4,433.05 L226.9,432.89 L227.4,432.72 L227.9,432.55 L228.4,432.36 L228.9,432.17 L229.4,431.97 L229.9,431.77 L230.4,431.55 L230.9,431.33 L231.4,431.11 L231.9,430.89 L232.4,430.67 L232.9,430.44 L233.4,430.22 L233.9,430 L234.4,429.78 L234.9,429.56 L235.4,429.33 L235.9,429.11 L236.4,428.89 L236.9,428.67 L237.4,428.44 L237.9,428.22 L238.4,428 L238.9,427.77 L239.4,427.54 L239.9,427.31 L240.4,427.08 L240.9,426.84 L241.4,426.6 L241.9,426.36 L242.4,426.11 L242.9,425.86 L243.4,425.61 L243.9,425.37 L244.4,425.12 L244.9,424.87 L245.4,424.62 L245.9,424.37 L246.4,424.13 L246.9,423.88 L247.4,423.63 L247.9,423.38 L248.4,423.14 L248.9,422.89 L249.4,422.64 L249.9,422.39 L250.4,422.15 L250.9,421.91 L251.4,421.67 L251.9,421.44 L252.4,421.21 L252.9,420.99 L253.4,420.77 L253.9,420.55 L254.4,420.34 L254.9,420.13 L255.4,419.92 L255.9,419.71 L256.4,419.49 L256.9,419.28 L257.4,419.07 L257.9,418.86 L258.4,418.65 L258.9,418.44 L259.4,418.22 L259.9,418.01 L260.4,417.8 L260.9,417.59 L261.4,417.37 L261.9,417.15 L262.4,416.92 L262.9,416.69 L263.4,416.45 L263.9,416.21 L264.4,415.96 L264.9,415.7 L265.4,415.44 L265.9,415.17 L266.4,414.91 L266.9,414.65 L267.4,414.39 L267.9,414.12 L268.4,413.86 L268.9,413.6 L269.4,413.33 L269.9,413.07 L270.4,412.81 L270.9,412.54 L271.4,412.28 L271.9,412.02 L272.4,411.76 L272.9,411.49 L273.4,411.23 L273.9,410.97 L274.4,410.7 L274.9,410.44 L275.4,410.18 L275.9,409.91 L276.4,409.65 L276.9,409.39 L277.4,409.14 L277.9,408.89 L278.4,408.64 L278.9,408.4 L279.4,408.16 L279.9,407.93 L280.4,407.7 L280.9,407.48 L281.4,407.26 L281.9,407.03 L282.4,406.81 L282.9,406.58 L283.4,406.36 L283.9,406.13 L284.4,405.91 L284.9,405.69 L285.4,405.46 L285.9,405.24 L286.4,405.01 L286.9,404.79 L287.4,404.57 L287.9,404.34 L288.4,404.12 L288.9,403.91 L289.4,403.7 L289.9,403.49 L290.4,403.3 L290.9,403.1 L291.4,402.92 L291.9,402.74 L292.4,402.56 L292.9,402.38 L293.4,402.21 L293.9,402.03 L294.4,401.86 L294.9,401.68 L295.4,401.51 L295.9,401.33 L296.4,401.16 L296.9,400.98 L297.4,400.81 L297.9,400.63 L298.4,400.46 L298.9,400.28 L299.4,400.11 L299.9,399.93 L300.4,399.76 L300.9,399.59 L301.4,399.43 L301.9,399.26 L302.4,399.1 L302.9,398.95 L303.4,398.79 L303.9,398.64 L304.4,398.49 L304.9,398.34 L305.4,398.19 L305.9,398.04 L306.4,397.89 L306.9,397.74 L307.4,397.59 L307.9,397.45 L308.4,397.3 L308.9,397.15 L309.4,397 L309.9,396.85 L310.4,396.7 L310.9,396.55 L311.4,396.4 L311.9,396.25 L312.4,396.11 L312.9,395.98 L313.4,395.85 L313.9,395.73 L314.4,395.61 L314.9,395.49 L315.4,395.39 L315.9,395.28 L316.4,395.18 L316.9,395.08 L317.4,394.97 L317.9,394.87 L318.4,394.77 L318.9,394.66 L319.4,394.56 L319.9,394.46 L320.4,394.35 L320.9,394.25 L321.4,394.14 L321.9,394.04 L322.4,393.94 L322.9,393.83 L323.4,393.73 L323.9,393.62 L324.4,393.51 L324.9,393.4 L325.4,393.28 L325.9,393.17 L326.4,393.05 L326.9,392.92 L327.4,392.8 L327.9,392.67 L328.4,392.55 L328.9,392.42 L329.4,392.3 L329.9,392.17 L330.4,392.05 L330.9,391.92 L331.4,391.8 L331.9,391.67 L332.4,391.55 L332.9,391.42 L333.4,391.3 L333.9,391.17 L334.4,391.05 L334.9,390.92 L335.4,390.8 L335.9,390.67 L336.4,390.55 L336.9,390.42 L337.4,390.3 L337.9,390.19 L338.4,390.08 L338.9,389.97 L339.4,389.87 L339.9,389.78 L340.4,389.69 L340.9,389.6 L341.4,389.52 L341.9,389.44 L342.4,389.36 L342.9,389.28 L343.4,389.21 L343.9,389.13 L344.4,389.05 L344.9,388.97 L345.4,388.89 L345.9,388.81 L346.4,388.73 L346.9,388.66 L347.4,388.58 L347.9,388.51 L348.4,388.45 L348.9,388.39 L349.4,388.33 L349.9,388.27 L350.4,388.22 L350.9,388.17 L351.4,388.13 L351.9,388.08 L352.4,388.03 L352.9,387.98 L353.4,387.94 L353.9,387.89 L354.4,387.84 L354.9,387.79 L355.4,387.75 L355.9,387.7 L356.4,387.66 L356.9,387.62 L357.4,387.59 L357.9,387.56" stroke="#e3262b" stroke-width="1.05" fill="none" stroke-dasharray="1.4,0.5"/>
<path d="M184.9,450.93 L185.3,451.06 L185.7,451.12 L186.1,451.1 L186.5,451.02 L186.9,450.86 L187.3,450.62 L187.7,450.32 L188.1,449.96 L188.5,449.54 L188.9,449.09 L189.3,448.61 L189.7,448.14 L190.1,447.69 L190.5,447.28 L190.9,446.94 L191.3,446.69 L191.7,446.54 L192.1,446.52 L192.5,446.63 L192.9,446.88 L193.3,447.25 L193.7,447.74 L194.1,448.32 L194.5,448.98 L194.9,449.68 L195.3,450.39 L195.7,451.07 L196.1,451.7 L196.5,452.23 L196.9,452.64 L197.3,452.9 L197.7,453.01 L198.1,452.95 L198.5,452.72 L198.9,452.33 L199.3,451.8 L199.7,451.15 L200.1,450.41 L200.5,449.61 L200.9,448.79 L201.3,447.98 L201.7,447.23 L202.1,446.57 L202.5,446.03 L202.9,445.63 L203.3,445.39 L203.7,445.33 L204.1,445.44 L204.5,445.73 L204.9,446.17 L205.3,446.75 L205.7,447.45 L206.1,448.23 L206.5,449.05 L206.9,449.89 L207.3,450.71 L207.7,451.46 L208.1,452.11 L208.5,452.65 L208.9,453.03 L209.3,453.25 L209.7,453.29 L210.1,453.16 L210.5,452.86 L210.9,452.4 L211.3,451.8 L211.7,451.09 L212.1,450.31 L212.5,449.48 L212.9,448.64 L213.3,447.83 L213.7,447.08 L214.1,446.43 L214.5,445.91 L214.9,445.54 L215.3,445.34 L215.7,445.31 L216.1,445.46 L216.5,445.77 L216.9,446.25 L217.3,446.85 L217.7,447.57 L218.1,448.36 L218.5,449.19 L218.9,450.03 L219.3,450.84 L219.7,451.58 L220.1,452.21 L220.5,452.72 L220.9,453.08 L221.3,453.27 L221.7,453.28 L222.1,453.12 L222.5,452.79 L222.9,452.31 L223.3,451.69 L223.7,450.97 L224.1,450.17 L224.5,449.34 L224.9,448.5 L225.3,447.7 L225.7,446.97 L226.1,446.34 L226.5,445.84 L226.9,445.5 L227.3,445.32 L227.7,445.32 L228.1,445.5 L228.5,445.84 L228.9,446.34 L229.3,446.97 L229.7,447.7 L230.1,448.5 L230.5,449.34 L230.9,450.17 L231.3,450.97 L231.7,451.69 L232.1,452.31 L232.5,452.79 L232.9,453.12 L233.3,453.28 L233.7,453.27 L234.1,453.08 L234.5,452.72 L234.9,452.21 L235.3,451.58 L235.7,450.84 L236.1,450.03 L236.5,449.19 L236.9,448.36 L237.3,447.57 L237.7,446.85 L238.1,446.25 L238.5,445.77 L238.9,445.46 L239.3,445.31 L239.7,445.34 L240.1,445.54 L240.5,445.91 L240.9,446.43 L241.3,447.08 L241.7,447.83 L242.1,448.64 L242.5,449.48 L242.9,450.31 L243.3,451.09 L243.7,451.8 L244.1,452.4 L244.5,452.86 L244.9,453.16 L245.3,453.29 L245.7,453.25 L246.1,453.03 L246.5,452.65 L246.9,452.12 L247.3,451.46 L247.7,450.71 L248.1,449.89 L248.5,449.05 L248.9,448.23 L249.3,447.44 L249.7,446.74 L250.1,446.16 L250.5,445.71 L250.9,445.42 L251.3,445.3 L251.7,445.36 L252.1,445.59 L252.5,445.99 L252.9,446.53 L253.3,447.2 L253.7,447.96 L254.1,448.77 L254.5,449.62 L254.9,450.44 L255.3,451.22 L255.7,451.91 L256.1,452.49 L256.5,452.92 L256.9,453.2 L257.3,453.3 L257.7,453.23 L258.1,452.98 L258.5,452.57 L258.9,452.01 L259.3,451.34 L259.7,450.58 L260.1,449.76 L260.5,448.91 L260.9,448.09 L261.3,447.32 L261.7,446.64 L262.1,446.07 L262.5,445.65 L262.9,445.39 L263.3,445.3 L263.7,445.39 L264.1,445.65 L264.5,446.07 L264.9,446.64 L265.3,447.32 L265.7,448.09 L266.1,448.91 L266.5,449.76 L266.9,450.58 L267.3,451.34 L267.7,452.01 L268.1,452.57 L268.5,452.98 L268.9,453.23 L269.3,453.3 L269.7,453.2 L270.1,452.92 L270.5,452.49 L270.9,451.91 L271.3,451.22 L271.7,450.44 L272.1,449.62 L272.5,448.77 L272.9,447.96 L273.3,447.2 L273.7,446.53 L274.1,445.99 L274.5,445.59 L274.9,445.36 L275.3,445.3 L275.7,445.42 L276.1,445.71 L276.5,446.16 L276.9,446.74 L277.3,447.44 L277.7,448.23 L278.1,449.05 L278.5,449.89 L278.9,450.71 L279.3,451.46 L279.7,452.12 L280.1,452.65 L280.5,453.03 L280.9,453.25 L281.3,453.29 L281.7,453.16 L282.1,452.86 L282.5,452.4 L282.9,451.8 L283.3,451.09 L283.7,450.31 L284.1,449.48 L284.5,448.64 L284.9,447.83 L285.3,447.08 L285.7,446.43 L286.1,445.91 L286.5,445.54 L286.9,445.34 L287.3,445.31 L287.7,445.46 L288.1,445.77 L288.5,446.25 L288.9,446.85 L289.3,447.57 L289.7,448.36 L290.1,449.19 L290.5,450.03 L290.9,450.84 L291.3,451.58 L291.7,452.21 L292.1,452.72 L292.5,453.08 L292.9,453.27 L293.3,453.28 L293.7,453.12 L294.1,452.79 L294.5,452.31 L294.9,451.69 L295.3,450.97 L295.7,450.17 L296.1,449.34 L296.5,448.5 L296.9,447.7 L297.3,446.97 L297.7,446.34 L298.1,445.84 L298.5,445.5 L298.9,445.32 L299.3,445.32 L299.7,445.5 L300.1,445.84 L300.5,446.35 L300.9,446.98 L301.3,447.71 L301.7,448.51 L302.1,449.33 L302.5,450.15 L302.9,450.93 L303.3,451.62 L303.7,452.22 L304.1,452.67 L304.5,452.98 L304.9,453.12 L305.3,453.09 L305.7,452.9 L306.1,452.55 L306.5,452.06 L306.9,451.45 L307.3,450.75 L307.7,449.99 L308.1,449.2 L308.5,448.43 L308.9,447.7 L309.3,447.04 L309.7,446.49 L310.1,446.07 L310.5,445.79 L310.9,445.67 L311.3,445.71 L311.7,445.91 L312.1,446.26 L312.5,446.73 L312.9,447.32 L313.3,447.99 L313.7,448.71 L314.1,449.45 L314.5,450.19 L314.9,450.87 L315.3,451.48 L315.7,451.99 L316.1,452.38 L316.5,452.63 L316.9,452.73 L317.3,452.68 L317.7,452.48 L318.1,452.14 L318.5,451.68 L318.9,451.12 L319.3,450.48 L319.7,449.8 L320.1,449.1 L320.5,448.41 L320.9,447.77 L321.3,447.2 L321.7,446.73 L322.1,446.37 L322.5,446.15 L322.9,446.07 L323.3,446.13 L323.7,446.33 L324.1,446.66 L324.5,447.1 L324.9,447.64 L325.3,448.24 L325.7,448.89 L326.1,449.55 L326.5,450.19 L326.9,450.79 L327.3,451.32 L327.7,451.75 L328.1,452.07 L328.5,452.27 L328.9,452.34 L329.3,452.27 L329.7,452.07 L330.1,451.75 L330.5,451.32 L330.9,450.81 L331.3,450.24 L331.7,449.64 L332.1,449.02 L332.5,448.42 L332.9,447.86 L333.3,447.38 L333.7,446.98 L334.1,446.69 L334.5,446.51 L334.9,446.46 L335.3,446.54 L335.7,446.74 L336.1,447.04 L336.5,447.45 L336.9,447.93 L337.3,448.47 L337.7,449.04 L338.1,449.61 L338.5,450.17 L338.9,450.68 L339.3,451.13 L339.7,451.49 L340.1,451.75 L340.5,451.9 L340.9,451.94 L341.3,451.86 L341.7,451.66 L342.1,451.37 L342.5,450.99 L342.9,450.53 L343.3,450.03 L343.7,449.5 L344.1,448.97 L344.5,448.46 L344.9,447.99 L345.3,447.58 L345.7,447.25 L346.1,447.02 L346.5,446.89 L346.9,446.86 L347.3,446.95 L347.7,447.14 L348.1,447.42 L348.5,447.78 L348.9,448.2 L349.3,448.67 L349.7,449.16 L350.1,449.65 L350.5,450.12 L350.9,450.54 L351.3,450.91 L351.7,451.21 L352.1,451.41 L352.5,451.52 L352.9,451.53 L353.3,451.45 L353.7,451.27 L354.1,451 L354.5,450.67 L354.9,450.27 L355.3,449.84 L355.7,449.39 L356.1,448.95 L356.5,448.52 L356.9,448.13 L357.3,447.8 L357.7,447.54 L358.1,447.36 L358.5,447.27 L358.9,447.27 L359.3,447.36 L359.7,447.53 L360.1,447.77 L360.5,448.08 L360.9,448.43 L361.3,448.83 L361.7,449.25 L362.1,449.67 L362.5,450.07 L362.9,450.44 L363.3,450.76 L363.7,451.01 L364.1,451.19 L364.5,451.28 L364.9,451.29 L365.3,451.21 L365.7,451.05 L366.1,450.8 L366.5,450.5 L366.9,450.13 L367.3,449.74 L367.7,449.32 L368.1,448.9 L368.5,448.5 L368.9,448.13 L369.3,447.82 L369.7,447.57 L370.1,447.4 L370.5,447.31 L370.9,447.31 L371.3,447.4 L371.7,447.57 L372.1,447.82 L372.5,448.13 L372.9,448.5 L373.3,448.9 L373.7,449.32 L374.1,449.74 L374.5,450.13 L374.9,450.5 L375.3,450.8 L375.7,451.05 L376.1,451.21 L376.5,451.29 L376.9,451.28 L377.3,451.19 L377.7,451.01 L378.1,450.76 L378.5,450.44 L378.9,450.07 L379.3,449.67" stroke="#ec7438" stroke-width="1.3" fill="none"/>
<line x1="250.3" y1="406.5" x2="252.8" y2="412.1" stroke="#000" stroke-width="0.75"/>
<path d="M252.8,412.1 L250.27,409.83 L252.8,408.7 Z" fill="#000" stroke="none"/>
<line x1="298.3" y1="384.3" x2="300.8" y2="389.9" stroke="#000" stroke-width="0.75"/>
<path d="M300.8,389.9 L298.27,387.63 L300.8,386.5 Z" fill="#000" stroke="none"/>
<text x="180.4" y="248.1" font-size="7.9" text-anchor="end" stroke="#231f20" stroke-width="0.18">5.7</text>
<text x="180.4" y="293.8" font-size="7.9" text-anchor="end" stroke="#231f20" stroke-width="0.18">0</text>
<text transform="translate(153.8,266.9) rotate(-90)" font-size="7.9" text-anchor="middle" stroke="#231f20" stroke-width="0.18">Linearized</text>
<text transform="translate(163,266.9) rotate(-90)" font-size="7.9" text-anchor="middle" stroke="#231f20" stroke-width="0.18">position (m)</text>
<text x="137.5" y="400" font-size="7.9" stroke="#231f20" stroke-width="0.18">Probability</text>
<rect x="153.3" y="405.2" width="4.8" height="24.8" fill="url(#cb)"/>
<text x="162.4" y="410.3" font-size="7.9" stroke="#231f20" stroke-width="0.18">Max</text>
<text x="162.4" y="431" font-size="7.9" stroke="#231f20" stroke-width="0.18">0</text>
<line x1="416.1" y1="239.1" x2="437.3" y2="239.1" stroke="#000" stroke-width="1.3"/>
<text x="442.6" y="241.9" font-size="7.9" stroke="#231f20" stroke-width="0.18">Observed data</text>
<line x1="416.1" y1="249.7" x2="437.3" y2="249.7" stroke="#9a9a9a" stroke-width="0.9" stroke-dasharray="1,0.7"/>
<text x="442.6" y="252.5" font-size="7.9" stroke="#231f20" stroke-width="0.18">Shuffled data</text>
<line x1="462.4" y1="270.3" x2="474.3" y2="270.3" stroke="#8a8a8a" stroke-width="2.0"/>
<text x="479.6" y="273.1" font-size="7.9" stroke="#231f20" stroke-width="0.18"><tspan font-style="italic">P</tspan> &lt; 0.05</text>
<line x1="442.7" y1="273.5" x2="442.7" y2="351.9" stroke="#231f20" stroke-width="0.6"/>
<line x1="442.7" y1="278.2" x2="444.1" y2="278.2" stroke="#231f20" stroke-width="0.6"/>
<line x1="442.7" y1="351.9" x2="444.1" y2="351.9" stroke="#231f20" stroke-width="0.6"/>
<line x1="509.8" y1="356.3" x2="509.8" y2="357.6" stroke="#231f20" stroke-width="0.6"/>
<text x="439.3" y="281" font-size="7.9" text-anchor="end" stroke="#231f20" stroke-width="0.18">1</text>
<text x="439.3" y="351.2" font-size="7.9" text-anchor="end" stroke="#231f20" stroke-width="0.18">0</text>
<text transform="translate(420.7,315) rotate(-90)" font-size="7.9" text-anchor="middle" stroke="#231f20" stroke-width="0.18">Average decoding</text>
<text transform="translate(429,315) rotate(-90)" font-size="7.9" text-anchor="middle" stroke="#231f20" stroke-width="0.18">error (normalized)</text>
<path d="M442.62,307.38 L447.48,309.25 L451.21,305.51 L454.95,301.78 L458.69,292.43 L461.5,281.21 L463.36,274.67 L466.17,279.35 L471.78,278.41 L477.38,281.21 L480.19,288.69 L482.99,284.95 L485.79,292.43 L488.6,302.71 L490.47,311.12 L494.21,314.86 L497.94,315.79 L501.68,318.6 L506.36,319.53 L509.53,320.47 L509.53,346.64 L505.42,343.83 L501.68,346.64 L497.94,344.77 L494.21,339.16 L492.34,329.81 L488.6,322.34 L484.86,312.99 L481.12,311.12 L477.38,307.38 L473.64,303.64 L469.91,304.58 L466.17,306.45 L463.36,305.51 L461.5,309.25 L458.69,318.6 L454.95,331.68 L451.21,335.42 L447.48,341.03 L445.61,333.55 L442.62,326.07 Z" fill="#d3d3d3" stroke="none" filter="url(#bl)"/>
<path d="M442.62,313.93 L447.48,314.86 L451.21,315.79 L454.95,314.86 L458.69,313.93 L462.43,314.86 L466.17,313.93 L469.91,314.86 L473.64,312.99 L477.38,312.06 L479.25,312.99 L482.06,315.79 L484.86,319.53 L488.6,322.34 L492.34,324.21 L496.07,325.14 L501.68,325.14 L509.53,325.14" stroke="#bdbdbd" stroke-width="3.6" fill="none" stroke-linejoin="round" filter="url(#bl)"/>
<path d="M442.62,313.93 L447.48,314.86 L451.21,315.79 L454.95,314.86 L458.69,313.93 L462.43,314.86 L466.17,313.93 L469.91,314.86 L473.64,312.99 L477.38,312.06 L479.25,312.99 L482.06,315.79 L484.86,319.53 L488.6,322.34 L492.34,324.21 L496.07,325.14 L501.68,325.14 L509.53,325.14" stroke="#a9a9a9" stroke-width="0.9" fill="none" stroke-dasharray="1,0.6"/>
<path d="M442.62,325.14 L444.67,320.47 L447.48,327.94 L451.21,323.27 L454.95,319.53 L457.76,312.99 L460.56,299.91 L463.36,286.82 L465.23,288.69 L467.1,293.36 L468.97,291.5 L472.71,291.5 L476.45,291.5 L478.32,296.17 L480.19,302.71 L482.06,299.91 L483.93,297.1 L485.79,300.84 L488.6,307.38 L491.4,318.6 L494.21,331.68 L497.01,328.88 L498.88,327.01 L500.75,331.68 L502.62,334.49 L504.49,331.68 L506.36,333.55 L508.22,331.68 L509.53,336.36" stroke="#000" stroke-width="1.1" fill="none" stroke-linejoin="round"/>
<line x1="442.8" y1="384.1" x2="509.8" y2="384.1" stroke="#bdbdbd" stroke-width="0.6"/>
<path d="M442.8,366.8 L443.48,366.84 L444.15,366.94 L444.83,367.11 L445.51,367.36 L446.18,367.67 L446.86,368.05 L447.54,368.49 L448.21,369 L448.89,369.56 L449.57,370.19 L450.24,370.87 L450.92,371.61 L451.6,372.39 L452.27,373.23 L452.95,374.11 L453.63,375.03 L454.31,375.98 L454.98,376.97 L455.66,377.99 L456.34,379.03 L457.01,380.1 L457.69,381.18 L458.37,382.27 L459.04,383.37 L459.72,384.48 L460.4,385.58 L461.07,386.68 L461.75,387.76 L462.43,388.84 L463.1,389.89 L463.78,390.92 L464.46,391.93 L465.13,392.9 L465.81,393.84 L466.49,394.74 L467.16,395.59 L467.84,396.41 L468.52,397.17 L469.19,397.88 L469.87,398.53 L470.55,399.13 L471.22,399.67 L471.9,400.14 L472.58,400.55 L473.25,400.9 L473.93,401.17 L474.61,401.38 L475.28,401.52 L475.96,401.59 L476.64,401.59 L477.32,401.52 L477.99,401.38 L478.67,401.17 L479.35,400.9 L480.02,400.55 L480.7,400.14 L481.38,399.67 L482.05,399.13 L482.73,398.53 L483.41,397.88 L484.08,397.17 L484.76,396.41 L485.44,395.59 L486.11,394.74 L486.79,393.84 L487.47,392.9 L488.14,391.93 L488.82,390.92 L489.5,389.89 L490.17,388.84 L490.85,387.76 L491.53,386.68 L492.2,385.58 L492.88,384.48 L493.56,383.37 L494.23,382.27 L494.91,381.18 L495.59,380.1 L496.26,379.03 L496.94,377.99 L497.62,376.97 L498.29,375.98 L498.97,375.03 L499.65,374.11 L500.33,373.23 L501,372.39 L501.68,371.61 L502.36,370.87 L503.03,370.19 L503.71,369.56 L504.39,369 L505.06,368.49 L505.74,368.05 L506.42,367.67 L507.09,367.36 L507.77,367.11 L508.45,366.94 L509.12,366.84 L509.8,366.8" stroke="#ec7438" stroke-width="1.3" fill="none"/>
<line x1="436" y1="371.6" x2="436" y2="395.6" stroke="#000" stroke-width="1.3"/>
<text x="433.4" y="387.2" font-size="8.5" text-anchor="end" font-style="italic" stroke="#231f20" stroke-width="0.18">g</text>
<text x="438.8" y="408" font-size="7.9" text-anchor="middle" stroke="#231f20" stroke-width="0.18">−170</text>
<text x="505" y="408" font-size="7.9" text-anchor="middle" stroke="#231f20" stroke-width="0.18">+170</text>
<text x="476.2" y="420.8" font-size="7.9" text-anchor="middle" stroke="#231f20" stroke-width="0.18">Wing-beat</text>
<text x="476.2" y="429.8" font-size="7.9" text-anchor="middle" stroke="#231f20" stroke-width="0.18">phase (°)</text>
<g filter="url(#bl3)">
<path d="M553.1,246.25 L553.6,245.62 L554.11,245.39 L554.61,244.7 L555.12,244.75 L555.62,245.69 L556.12,245.32 L556.63,245.22 L557.13,244.16 L557.64,242.5 L558.14,242.03 L558.64,240.58 L559.15,239.42 L559.65,238.37 L560.16,238.17 L560.66,237.92 L561.16,239.67 L561.67,240.72 L562.17,242.19 L562.68,242.2 L563.18,243.36 L563.68,244.31 L564.19,244.9 L564.69,244.39 L565.2,244.88 L565.7,244.87" stroke="#999" stroke-width="3.8" fill="none" opacity="0.45" stroke-linejoin="round"/>
<path d="M553.1,246.25 L553.6,245.62 L554.11,245.39 L554.61,244.7 L555.12,244.75 L555.62,245.69 L556.12,245.32 L556.63,245.22 L557.13,244.16 L557.64,242.5 L558.14,242.03 L558.64,240.58 L559.15,239.42 L559.65,238.37 L560.16,238.17 L560.66,237.92 L561.16,239.67 L561.67,240.72 L562.17,242.19 L562.68,242.2 L563.18,243.36 L563.68,244.31 L564.19,244.9 L564.69,244.39 L565.2,244.88 L565.7,244.87" stroke="#2a2a2a" stroke-width="1.5" fill="none" stroke-linejoin="round"/>
<path d="M569,245.69 L569.5,245.6 L570.01,244.9 L570.51,243.9 L571.02,242.32 L571.52,241.46 L572.02,240.55 L572.53,239.14 L573.03,239.47 L573.54,238.27 L574.04,238.77 L574.54,239.91 L575.05,240.64 L575.55,240.66 L576.06,240.97 L576.56,241.45 L577.06,241.66 L577.57,242.18 L578.07,243.11 L578.58,243.95 L579.08,244.48 L579.58,245.22 L580.09,245.65 L580.59,245.52 L581.1,245.23 L581.6,244.65" stroke="#999" stroke-width="3.8" fill="none" opacity="0.45" stroke-linejoin="round"/>
<path d="M569,245.69 L569.5,245.6 L570.01,244.9 L570.51,243.9 L571.02,242.32 L571.52,241.46 L572.02,240.55 L572.53,239.14 L573.03,239.47 L573.54,238.27 L574.04,238.77 L574.54,239.91 L575.05,240.64 L575.55,240.66 L576.06,240.97 L576.56,241.45 L577.06,241.66 L577.57,242.18 L578.07,243.11 L578.58,243.95 L579.08,244.48 L579.58,245.22 L580.09,245.65 L580.59,245.52 L581.1,245.23 L581.6,244.65" stroke="#2a2a2a" stroke-width="1.5" fill="none" stroke-linejoin="round"/>
<path d="M584.8,248.46 L585.3,248.23 L585.81,247.6 L586.31,247.42 L586.82,246.26 L587.32,245.14 L587.82,244.3 L588.33,243.52 L588.83,244.06 L589.34,243.3 L589.84,242.52 L590.34,242.04 L590.85,240.48 L591.35,238.41 L591.86,237.31 L592.36,236.53 L592.86,238.29 L593.37,239.14 L593.87,241.5 L594.38,243.49 L594.88,245.21 L595.38,245.1 L595.89,244.85 L596.39,244.99 L596.9,245.07 L597.4,244.96" stroke="#999" stroke-width="3.8" fill="none" opacity="0.45" stroke-linejoin="round"/>
<path d="M584.8,248.46 L585.3,248.23 L585.81,247.6 L586.31,247.42 L586.82,246.26 L587.32,245.14 L587.82,244.3 L588.33,243.52 L588.83,244.06 L589.34,243.3 L589.84,242.52 L590.34,242.04 L590.85,240.48 L591.35,238.41 L591.86,237.31 L592.36,236.53 L592.86,238.29 L593.37,239.14 L593.87,241.5 L594.38,243.49 L594.88,245.21 L595.38,245.1 L595.89,244.85 L596.39,244.99 L596.9,245.07 L597.4,244.96" stroke="#2a2a2a" stroke-width="1.5" fill="none" stroke-linejoin="round"/>
<path d="M600.7,245.55 L601.2,245.68 L601.71,245.84 L602.21,246.04 L602.72,243.73 L603.22,242.02 L603.72,240.87 L604.23,240 L604.73,238.25 L605.24,237.94 L605.74,238 L606.24,237.82 L606.75,239.03 L607.25,240.55 L607.76,241.05 L608.26,241.9 L608.76,241.79 L609.27,242.42 L609.77,243.69 L610.28,244.05 L610.78,245.55 L611.28,247.19 L611.79,248.5 L612.29,249.33 L612.8,249.51 L613.3,249.64" stroke="#999" stroke-width="3.8" fill="none" opacity="0.45" stroke-linejoin="round"/>
<path d="M600.7,245.55 L601.2,245.68 L601.71,245.84 L602.21,246.04 L602.72,243.73 L603.22,242.02 L603.72,240.87 L604.23,240 L604.73,238.25 L605.24,237.94 L605.74,238 L606.24,237.82 L606.75,239.03 L607.25,240.55 L607.76,241.05 L608.26,241.9 L608.76,241.79 L609.27,242.42 L609.77,243.69 L610.28,244.05 L610.78,245.55 L611.28,247.19 L611.79,248.5 L612.29,249.33 L612.8,249.51 L613.3,249.64" stroke="#2a2a2a" stroke-width="1.5" fill="none" stroke-linejoin="round"/>
<path d="M616.6,244.7 L617.1,244.77 L617.61,244.87 L618.11,244.36 L618.62,243.07 L619.12,242.67 L619.62,242.16 L620.13,242.57 L620.63,242.58 L621.14,242.31 L621.64,242.06 L622.14,240.25 L622.65,240.07 L623.15,240.43 L623.66,240.45 L624.16,241.02 L624.66,241.51 L625.17,242.29 L625.67,243.61 L626.18,244.57 L626.68,245.61 L627.18,247.19 L627.69,248.42 L628.19,248.1 L628.7,247.71 L629.2,247.08" stroke="#999" stroke-width="3.8" fill="none" opacity="0.45" stroke-linejoin="round"/>
<path d="M616.6,244.7 L617.1,244.77 L617.61,244.87 L618.11,244.36 L618.62,243.07 L619.12,242.67 L619.62,242.16 L620.13,242.57 L620.63,242.58 L621.14,242.31 L621.64,242.06 L622.14,240.25 L622.65,240.07 L623.15,240.43 L623.66,240.45 L624.16,241.02 L624.66,241.51 L625.17,242.29 L625.67,243.61 L626.18,244.57 L626.68,245.61 L627.18,247.19 L627.69,248.42 L628.19,248.1 L628.7,247.71 L629.2,247.08" stroke="#2a2a2a" stroke-width="1.5" fill="none" stroke-linejoin="round"/>
<path d="M632.5,245.57 L633,245.42 L633.51,245.01 L634.01,244.22 L634.52,242.9 L635.02,242.28 L635.52,241.29 L636.03,240.35 L636.53,240.63 L637.04,240.63 L637.54,241.14 L638.04,241.01 L638.55,239.69 L639.05,239.09 L639.56,237.84 L640.06,237.56 L640.56,238.24 L641.07,239.82 L641.57,241.13 L642.08,242.42 L642.58,243.7 L643.08,246.57 L643.59,248.46 L644.09,248.63 L644.6,248.78 L645.1,248.23" stroke="#999" stroke-width="3.8" fill="none" opacity="0.45" stroke-linejoin="round"/>
<path d="M632.5,245.57 L633,245.42 L633.51,245.01 L634.01,244.22 L634.52,242.9 L635.02,242.28 L635.52,241.29 L636.03,240.35 L636.53,240.63 L637.04,240.63 L637.54,241.14 L638.04,241.01 L638.55,239.69 L639.05,239.09 L639.56,237.84 L640.06,237.56 L640.56,238.24 L641.07,239.82 L641.57,241.13 L642.08,242.42 L642.58,243.7 L643.08,246.57 L643.59,248.46 L644.09,248.63 L644.6,248.78 L645.1,248.23" stroke="#2a2a2a" stroke-width="1.5" fill="none" stroke-linejoin="round"/>
<path d="M553.1,263.38 L553.6,264.84 L554.11,265.55 L554.61,265 L555.12,263.7 L555.62,262.35 L556.12,260.18 L556.63,259.18 L557.13,259.04 L557.64,258.69 L558.14,258.4 L558.64,258.15 L559.15,258.72 L559.65,259.45 L560.16,260.3 L560.66,261.24 L561.16,263.26 L561.67,265.31 L562.17,266.46 L562.68,266.93 L563.18,267.26 L563.68,266.9 L564.19,267.05 L564.69,267.59 L565.2,268.46 L565.7,268.91" stroke="#999" stroke-width="3.8" fill="none" opacity="0.45" stroke-linejoin="round"/>
<path d="M553.1,263.38 L553.6,264.84 L554.11,265.55 L554.61,265 L555.12,263.7 L555.62,262.35 L556.12,260.18 L556.63,259.18 L557.13,259.04 L557.64,258.69 L558.14,258.4 L558.64,258.15 L559.15,258.72 L559.65,259.45 L560.16,260.3 L560.66,261.24 L561.16,263.26 L561.67,265.31 L562.17,266.46 L562.68,266.93 L563.18,267.26 L563.68,266.9 L564.19,267.05 L564.69,267.59 L565.2,268.46 L565.7,268.91" stroke="#2a2a2a" stroke-width="1.5" fill="none" stroke-linejoin="round"/>
<path d="M569,266.17 L569.5,266.39 L570.01,266.39 L570.51,266.56 L571.02,265.32 L571.52,264.31 L572.02,263.43 L572.53,261.47 L573.03,259.85 L573.54,258.1 L574.04,257.83 L574.54,258.66 L575.05,259.4 L575.55,260.96 L576.06,262.04 L576.56,264.06 L577.06,265.39 L577.57,264.74 L578.07,264.98 L578.58,265.18 L579.08,264.79 L579.58,264.54 L580.09,266.13 L580.59,266.25 L581.1,268.04 L581.6,268.19" stroke="#999" stroke-width="3.8" fill="none" opacity="0.45" stroke-linejoin="round"/>
<path d="M569,266.17 L569.5,266.39 L570.01,266.39 L570.51,266.56 L571.02,265.32 L571.52,264.31 L572.02,263.43 L572.53,261.47 L573.03,259.85 L573.54,258.1 L574.04,257.83 L574.54,258.66 L575.05,259.4 L575.55,260.96 L576.06,262.04 L576.56,264.06 L577.06,265.39 L577.57,264.74 L578.07,264.98 L578.58,265.18 L579.08,264.79 L579.58,264.54 L580.09,266.13 L580.59,266.25 L581.1,268.04 L581.6,268.19" stroke="#2a2a2a" stroke-width="1.5" fill="none" stroke-linejoin="round"/>
<path d="M584.8,266.72 L585.3,266.56 L585.81,266.37 L586.31,266.28 L586.82,266.26 L587.32,265.52 L587.82,265.21 L588.33,264.59 L588.83,263.01 L589.34,262.07 L589.84,261.31 L590.34,259.09 L590.85,258.43 L591.35,256.69 L591.86,257.07 L592.36,258.09 L592.86,259.83 L593.37,261.52 L593.87,262.99 L594.38,264.88 L594.88,266.32 L595.38,267.59 L595.89,268.49 L596.39,268.67 L596.9,268.27 L597.4,268.03" stroke="#999" stroke-width="3.8" fill="none" opacity="0.45" stroke-linejoin="round"/>
<path d="M584.8,266.72 L585.3,266.56 L585.81,266.37 L586.31,266.28 L586.82,266.26 L587.32,265.52 L587.82,265.21 L588.33,264.59 L588.83,263.01 L589.34,262.07 L589.84,261.31 L590.34,259.09 L590.85,258.43 L591.35,256.69 L591.86,257.07 L592.36,258.09 L592.86,259.83 L593.37,261.52 L593.87,262.99 L594.38,264.88 L594.88,266.32 L595.38,267.59 L595.89,268.49 L596.39,268.67 L596.9,268.27 L597.4,268.03" stroke="#2a2a2a" stroke-width="1.5" fill="none" stroke-linejoin="round"/>
<path d="M600.7,263.67 L601.2,263.59 L601.71,264.14 L602.21,265.02 L602.72,263.5 L603.22,262.63 L603.72,260.72 L604.23,259.13 L604.73,258.05 L605.24,257.01 L605.74,256.76 L606.24,258.28 L606.75,259.59 L607.25,261.42 L607.76,262.33 L608.26,262.98 L608.76,263.38 L609.27,263.67 L609.77,264.83 L610.28,265.26 L610.78,266.97 L611.28,268.26 L611.79,269.22 L612.29,269.27 L612.8,268.43 L613.3,268.65" stroke="#999" stroke-width="3.8" fill="none" opacity="0.45" stroke-linejoin="round"/>
<path d="M600.7,263.67 L601.2,263.59 L601.71,264.14 L602.21,265.02 L602.72,263.5 L603.22,262.63 L603.72,260.72 L604.23,259.13 L604.73,258.05 L605.24,257.01 L605.74,256.76 L606.24,258.28 L606.75,259.59 L607.25,261.42 L607.76,262.33 L608.26,262.98 L608.76,263.38 L609.27,263.67 L609.77,264.83 L610.28,265.26 L610.78,266.97 L611.28,268.26 L611.79,269.22 L612.29,269.27 L612.8,268.43 L613.3,268.65" stroke="#2a2a2a" stroke-width="1.5" fill="none" stroke-linejoin="round"/>
<path d="M616.6,265.06 L617.1,264.51 L617.61,263.71 L618.11,263.64 L618.62,263.24 L619.12,262.84 L619.62,262.5 L620.13,262.81 L620.63,262.51 L621.14,262.51 L621.64,262.3 L622.14,260.53 L622.65,258.63 L623.15,257.56 L623.66,258.02 L624.16,259.5 L624.66,260.7 L625.17,262.23 L625.67,264.47 L626.18,265.65 L626.68,265.97 L627.18,266.73 L627.69,267.18 L628.19,267.23 L628.7,266.05 L629.2,265.77" stroke="#999" stroke-width="3.8" fill="none" opacity="0.45" stroke-linejoin="round"/>
<path d="M616.6,265.06 L617.1,264.51 L617.61,263.71 L618.11,263.64 L618.62,263.24 L619.12,262.84 L619.62,262.5 L620.13,262.81 L620.63,262.51 L621.14,262.51 L621.64,262.3 L622.14,260.53 L622.65,258.63 L623.15,257.56 L623.66,258.02 L624.16,259.5 L624.66,260.7 L625.17,262.23 L625.67,264.47 L626.18,265.65 L626.68,265.97 L627.18,266.73 L627.69,267.18 L628.19,267.23 L628.7,266.05 L629.2,265.77" stroke="#2a2a2a" stroke-width="1.5" fill="none" stroke-linejoin="round"/>
<path d="M632.5,265.09 L633,264.82 L633.51,265.05 L634.01,265.33 L634.52,265.57 L635.02,265.65 L635.52,264.72 L636.03,265.02 L636.53,263.45 L637.04,262.52 L637.54,260.17 L638.04,258.32 L638.55,257.11 L639.05,259.28 L639.56,260.25 L640.06,261.46 L640.56,261.91 L641.07,262.31 L641.57,263.11 L642.08,262.86 L642.58,263.38 L643.08,264.17 L643.59,265.02 L644.09,266.09 L644.6,266.69 L645.1,267.38" stroke="#999" stroke-width="3.8" fill="none" opacity="0.45" stroke-linejoin="round"/>
<path d="M632.5,265.09 L633,264.82 L633.51,265.05 L634.01,265.33 L634.52,265.57 L635.02,265.65 L635.52,264.72 L636.03,265.02 L636.53,263.45 L637.04,262.52 L637.54,260.17 L638.04,258.32 L638.55,257.11 L639.05,259.28 L639.56,260.25 L640.06,261.46 L640.56,261.91 L641.07,262.31 L641.57,263.11 L642.08,262.86 L642.58,263.38 L643.08,264.17 L643.59,265.02 L644.09,266.09 L644.6,266.69 L645.1,267.38" stroke="#2a2a2a" stroke-width="1.5" fill="none" stroke-linejoin="round"/>
<path d="M648.3,266.84 L648.8,266.88 L649.31,266.27 L649.81,265.48 L650.32,264.89 L650.82,264.02 L651.32,263.54 L651.83,263.41 L652.33,263.06 L652.84,262.76 L653.34,262.7 L653.84,262.15 L654.35,261.79 L654.85,261.75 L655.36,260.74 L655.86,260.2 L656.36,259.46 L656.87,260.98 L657.37,261.24 L657.88,262.55 L658.38,262.46 L658.88,264.51 L659.39,267.43 L659.89,267.42 L660.4,267.83 L660.9,268.08" stroke="#999" stroke-width="3.8" fill="none" opacity="0.45" stroke-linejoin="round"/>
<path d="M648.3,266.84 L648.8,266.88 L649.31,266.27 L649.81,265.48 L650.32,264.89 L650.82,264.02 L651.32,263.54 L651.83,263.41 L652.33,263.06 L652.84,262.76 L653.34,262.7 L653.84,262.15 L654.35,261.79 L654.85,261.75 L655.36,260.74 L655.86,260.2 L656.36,259.46 L656.87,260.98 L657.37,261.24 L657.88,262.55 L658.38,262.46 L658.88,264.51 L659.39,267.43 L659.89,267.42 L660.4,267.83 L660.9,268.08" stroke="#2a2a2a" stroke-width="1.5" fill="none" stroke-linejoin="round"/>
<path d="M664.2,266.15 L664.7,266.7 L665.21,267.48 L665.71,267.45 L666.22,267.17 L666.72,266.51 L667.22,264.46 L667.73,263.83 L668.23,262.58 L668.74,259.42 L669.24,257.12 L669.74,259.32 L670.25,261.24 L670.75,262.27 L671.26,263.14 L671.76,263.84 L672.26,264.83 L672.77,265.11 L673.27,265 L673.78,265.34 L674.28,266.28 L674.78,267.61 L675.29,268.43 L675.79,268.69 L676.3,267.93 L676.8,267.66" stroke="#999" stroke-width="3.8" fill="none" opacity="0.45" stroke-linejoin="round"/>
<path d="M664.2,266.15 L664.7,266.7 L665.21,267.48 L665.71,267.45 L666.22,267.17 L666.72,266.51 L667.22,264.46 L667.73,263.83 L668.23,262.58 L668.74,259.42 L669.24,257.12 L669.74,259.32 L670.25,261.24 L670.75,262.27 L671.26,263.14 L671.76,263.84 L672.26,264.83 L672.77,265.11 L673.27,265 L673.78,265.34 L674.28,266.28 L674.78,267.61 L675.29,268.43 L675.79,268.69 L676.3,267.93 L676.8,267.66" stroke="#2a2a2a" stroke-width="1.5" fill="none" stroke-linejoin="round"/>
<path d="M553.1,287.17 L553.6,286.49 L554.11,285.21 L554.61,284.94 L555.12,283.11 L555.62,282.26 L556.12,281.75 L556.63,280.67 L557.13,280.18 L557.64,278.89 L558.14,277.41 L558.64,276.14 L559.15,276.27 L559.65,276.76 L560.16,276.96 L560.66,278.08 L561.16,279.24 L561.67,280.34 L562.17,282.26 L562.68,283.4 L563.18,283.87 L563.68,284.31 L564.19,284.03 L564.69,283.92 L565.2,283.9 L565.7,283.43" stroke="#999" stroke-width="3.8" fill="none" opacity="0.45" stroke-linejoin="round"/>
<path d="M553.1,287.17 L553.6,286.49 L554.11,285.21 L554.61,284.94 L555.12,283.11 L555.62,282.26 L556.12,281.75 L556.63,280.67 L557.13,280.18 L557.64,278.89 L558.14,277.41 L558.64,276.14 L559.15,276.27 L559.65,276.76 L560.16,276.96 L560.66,278.08 L561.16,279.24 L561.67,280.34 L562.17,282.26 L562.68,283.4 L563.18,283.87 L563.68,284.31 L564.19,284.03 L564.69,283.92 L565.2,283.9 L565.7,283.43" stroke="#2a2a2a" stroke-width="1.5" fill="none" stroke-linejoin="round"/>
<path d="M569,282.84 L569.5,282.77 L570.01,282.67 L570.51,283.62 L571.02,283.61 L571.52,284.28 L572.02,283.37 L572.53,283.28 L573.03,281.77 L573.54,280.2 L574.04,278.63 L574.54,276.43 L575.05,278.19 L575.55,279.89 L576.06,281.82 L576.56,282.98 L577.06,283.5 L577.57,283.25 L578.07,283.45 L578.58,283.15 L579.08,284.1 L579.58,284.26 L580.09,285.52 L580.59,286.71 L581.1,286.71 L581.6,287.11" stroke="#999" stroke-width="3.8" fill="none" opacity="0.45" stroke-linejoin="round"/>
<path d="M569,282.84 L569.5,282.77 L570.01,282.67 L570.51,283.62 L571.02,283.61 L571.52,284.28 L572.02,283.37 L572.53,283.28 L573.03,281.77 L573.54,280.2 L574.04,278.63 L574.54,276.43 L575.05,278.19 L575.55,279.89 L576.06,281.82 L576.56,282.98 L577.06,283.5 L577.57,283.25 L578.07,283.45 L578.58,283.15 L579.08,284.1 L579.58,284.26 L580.09,285.52 L580.59,286.71 L581.1,286.71 L581.6,287.11" stroke="#2a2a2a" stroke-width="1.5" fill="none" stroke-linejoin="round"/>
<path d="M584.8,282.04 L585.3,282.99 L585.81,283.1 L586.31,282.96 L586.82,282.31 L587.32,280.72 L587.82,279.46 L588.33,277.6 L588.83,275.42 L589.34,274.92 L589.84,275.98 L590.34,278.12 L590.85,279.91 L591.35,280.51 L591.86,281.42 L592.36,280.9 L592.86,281.32 L593.37,281.51 L593.87,281.75 L594.38,282.75 L594.88,284.2 L595.38,284.88 L595.89,285.47 L596.39,285.66 L596.9,284.81 L597.4,283.71" stroke="#999" stroke-width="3.8" fill="none" opacity="0.45" stroke-linejoin="round"/>
<path d="M584.8,282.04 L585.3,282.99 L585.81,283.1 L586.31,282.96 L586.82,282.31 L587.32,280.72 L587.82,279.46 L588.33,277.6 L588.83,275.42 L589.34,274.92 L589.84,275.98 L590.34,278.12 L590.85,279.91 L591.35,280.51 L591.86,281.42 L592.36,280.9 L592.86,281.32 L593.37,281.51 L593.87,281.75 L594.38,282.75 L594.88,284.2 L595.38,284.88 L595.89,285.47 L596.39,285.66 L596.9,284.81 L597.4,283.71" stroke="#2a2a2a" stroke-width="1.5" fill="none" stroke-linejoin="round"/>
<path d="M600.7,286.3 L601.2,284.27 L601.71,284.53 L602.21,283.08 L602.72,282.92 L603.22,281.95 L603.72,281.95 L604.23,280.8 L604.73,279.46 L605.24,278.07 L605.74,277.89 L606.24,278.46 L606.75,278.09 L607.25,278.35 L607.76,278.83 L608.26,279.71 L608.76,281.17 L609.27,281.76 L609.77,282.91 L610.28,283.78 L610.78,284.61 L611.28,285.17 L611.79,284.84 L612.29,284.38 L612.8,283.85 L613.3,283.92" stroke="#999" stroke-width="3.8" fill="none" opacity="0.45" stroke-linejoin="round"/>
<path d="M600.7,286.3 L601.2,284.27 L601.71,284.53 L602.21,283.08 L602.72,282.92 L603.22,281.95 L603.72,281.95 L604.23,280.8 L604.73,279.46 L605.24,278.07 L605.74,277.89 L606.24,278.46 L606.75,278.09 L607.25,278.35 L607.76,278.83 L608.26,279.71 L608.76,281.17 L609.27,281.76 L609.77,282.91 L610.28,283.78 L610.78,284.61 L611.28,285.17 L611.79,284.84 L612.29,284.38 L612.8,283.85 L613.3,283.92" stroke="#2a2a2a" stroke-width="1.5" fill="none" stroke-linejoin="round"/>
<path d="M616.6,283.83 L617.1,283.93 L617.61,284.26 L618.11,283.75 L618.62,283.07 L619.12,282.15 L619.62,281.51 L620.13,282.08 L620.63,282.28 L621.14,282.84 L621.64,282.48 L622.14,281.53 L622.65,280.1 L623.15,278.45 L623.66,276.27 L624.16,277.61 L624.66,278.71 L625.17,280.9 L625.67,282.84 L626.18,284.8 L626.68,285.1 L627.18,285.08 L627.69,284.55 L628.19,284.07 L628.7,284.15 L629.2,283.15" stroke="#999" stroke-width="3.8" fill="none" opacity="0.45" stroke-linejoin="round"/>
<path d="M616.6,283.83 L617.1,283.93 L617.61,284.26 L618.11,283.75 L618.62,283.07 L619.12,282.15 L619.62,281.51 L620.13,282.08 L620.63,282.28 L621.14,282.84 L621.64,282.48 L622.14,281.53 L622.65,280.1 L623.15,278.45 L623.66,276.27 L624.16,277.61 L624.66,278.71 L625.17,280.9 L625.67,282.84 L626.18,284.8 L626.68,285.1 L627.18,285.08 L627.69,284.55 L628.19,284.07 L628.7,284.15 L629.2,283.15" stroke="#2a2a2a" stroke-width="1.5" fill="none" stroke-linejoin="round"/>
<path d="M632.5,282.71 L633,282.25 L633.51,281.97 L634.01,282.6 L634.52,283.03 L635.02,282.52 L635.52,281.98 L636.03,281.03 L636.53,280.08 L637.04,279.04 L637.54,277.84 L638.04,277.42 L638.55,278.11 L639.05,277.3 L639.56,278.16 L640.06,279.9 L640.56,280.6 L641.07,281.34 L641.57,281.99 L642.08,282.27 L642.58,282.75 L643.08,284.04 L643.59,285.29 L644.09,285.61 L644.6,285.53 L645.1,285.49" stroke="#999" stroke-width="3.8" fill="none" opacity="0.45" stroke-linejoin="round"/>
<path d="M632.5,282.71 L633,282.25 L633.51,281.97 L634.01,282.6 L634.52,283.03 L635.02,282.52 L635.52,281.98 L636.03,281.03 L636.53,280.08 L637.04,279.04 L637.54,277.84 L638.04,277.42 L638.55,278.11 L639.05,277.3 L639.56,278.16 L640.06,279.9 L640.56,280.6 L641.07,281.34 L641.57,281.99 L642.08,282.27 L642.58,282.75 L643.08,284.04 L643.59,285.29 L644.09,285.61 L644.6,285.53 L645.1,285.49" stroke="#2a2a2a" stroke-width="1.5" fill="none" stroke-linejoin="round"/>
<path d="M648.3,282.01 L648.8,281.58 L649.31,282.82 L649.81,283.39 L650.32,283.32 L650.82,281.82 L651.32,280.82 L651.83,279.76 L652.33,276.77 L652.84,276.07 L653.34,277.67 L653.84,279.2 L654.35,280.23 L654.85,281.25 L655.36,281.92 L655.86,281.95 L656.36,281.85 L656.87,282.3 L657.37,282.55 L657.88,282.93 L658.38,283.6 L658.88,284.45 L659.39,283.35 L659.89,283.82 L660.4,283.2 L660.9,283.03" stroke="#999" stroke-width="3.8" fill="none" opacity="0.45" stroke-linejoin="round"/>
<path d="M648.3,282.01 L648.8,281.58 L649.31,282.82 L649.81,283.39 L650.32,283.32 L650.82,281.82 L651.32,280.82 L651.83,279.76 L652.33,276.77 L652.84,276.07 L653.34,277.67 L653.84,279.2 L654.35,280.23 L654.85,281.25 L655.36,281.92 L655.86,281.95 L656.36,281.85 L656.87,282.3 L657.37,282.55 L657.88,282.93 L658.38,283.6 L658.88,284.45 L659.39,283.35 L659.89,283.82 L660.4,283.2 L660.9,283.03" stroke="#2a2a2a" stroke-width="1.5" fill="none" stroke-linejoin="round"/>
<path d="M664.2,284.88 L664.7,285.67 L665.21,285.71 L665.71,285.94 L666.22,284.13 L666.72,282.85 L667.22,281.67 L667.73,279.39 L668.23,277.9 L668.74,276.36 L669.24,275.4 L669.74,275.4 L670.25,277.59 L670.75,279.17 L671.26,280.14 L671.76,281.39 L672.26,282.53 L672.77,283.7 L673.27,283.93 L673.78,283.05 L674.28,282.76 L674.78,283.28 L675.29,283.62 L675.79,284.12 L676.3,284.29 L676.8,285.4" stroke="#999" stroke-width="3.8" fill="none" opacity="0.45" stroke-linejoin="round"/>
<path d="M664.2,284.88 L664.7,285.67 L665.21,285.71 L665.71,285.94 L666.22,284.13 L666.72,282.85 L667.22,281.67 L667.73,279.39 L668.23,277.9 L668.74,276.36 L669.24,275.4 L669.74,275.4 L670.25,277.59 L670.75,279.17 L671.26,280.14 L671.76,281.39 L672.26,282.53 L672.77,283.7 L673.27,283.93 L673.78,283.05 L674.28,282.76 L674.78,283.28 L675.29,283.62 L675.79,284.12 L676.3,284.29 L676.8,285.4" stroke="#2a2a2a" stroke-width="1.5" fill="none" stroke-linejoin="round"/>
<path d="M553.1,305.32 L553.6,304.95 L554.11,304.09 L554.61,304.44 L555.12,302.15 L555.62,300.45 L556.12,301.02 L556.63,300.28 L557.13,300.01 L557.64,298.62 L558.14,298.81 L558.64,297.81 L559.15,296.01 L559.65,295.43 L560.16,296.24 L560.66,297.83 L561.16,298.38 L561.67,300.55 L562.17,302.81 L562.68,304.09 L563.18,306.39 L563.68,307.38 L564.19,308.6 L564.69,308.62 L565.2,307.76 L565.7,307.18" stroke="#999" stroke-width="3.8" fill="none" opacity="0.45" stroke-linejoin="round"/>
<path d="M553.1,305.32 L553.6,304.95 L554.11,304.09 L554.61,304.44 L555.12,302.15 L555.62,300.45 L556.12,301.02 L556.63,300.28 L557.13,300.01 L557.64,298.62 L558.14,298.81 L558.64,297.81 L559.15,296.01 L559.65,295.43 L560.16,296.24 L560.66,297.83 L561.16,298.38 L561.67,300.55 L562.17,302.81 L562.68,304.09 L563.18,306.39 L563.68,307.38 L564.19,308.6 L564.69,308.62 L565.2,307.76 L565.7,307.18" stroke="#2a2a2a" stroke-width="1.5" fill="none" stroke-linejoin="round"/>
<path d="M569,304.73 L569.5,305.69 L570.01,306.64 L570.51,306.65 L571.02,305.64 L571.52,303.93 L572.02,303.04 L572.53,302.81 L573.03,302.89 L573.54,303.41 L574.04,302.81 L574.54,303.02 L575.05,302.04 L575.55,299.66 L576.06,297.46 L576.56,296.23 L577.06,295.26 L577.57,297.42 L578.07,298.49 L578.58,300.1 L579.08,301.56 L579.58,301.67 L580.09,302.03 L580.59,302.14 L581.1,302.35 L581.6,303.94" stroke="#999" stroke-width="3.8" fill="none" opacity="0.45" stroke-linejoin="round"/>
<path d="M569,304.73 L569.5,305.69 L570.01,306.64 L570.51,306.65 L571.02,305.64 L571.52,303.93 L572.02,303.04 L572.53,302.81 L573.03,302.89 L573.54,303.41 L574.04,302.81 L574.54,303.02 L575.05,302.04 L575.55,299.66 L576.06,297.46 L576.56,296.23 L577.06,295.26 L577.57,297.42 L578.07,298.49 L578.58,300.1 L579.08,301.56 L579.58,301.67 L580.09,302.03 L580.59,302.14 L581.1,302.35 L581.6,303.94" stroke="#2a2a2a" stroke-width="1.5" fill="none" stroke-linejoin="round"/>
<path d="M584.8,305.05 L585.3,306.2 L585.81,306.24 L586.31,305.81 L586.82,304.27 L587.32,302.41 L587.82,300.99 L588.33,299.16 L588.83,298.51 L589.34,297.19 L589.84,296.86 L590.34,296.34 L590.85,297.06 L591.35,298.13 L591.86,299.86 L592.36,300.57 L592.86,300.76 L593.37,301.15 L593.87,301.91 L594.38,302.92 L594.88,302.92 L595.38,304.81 L595.89,305.79 L596.39,306.16 L596.9,306.93 L597.4,306.8" stroke="#999" stroke-width="3.8" fill="none" opacity="0.45" stroke-linejoin="round"/>
<path d="M584.8,305.05 L585.3,306.2 L585.81,306.24 L586.31,305.81 L586.82,304.27 L587.32,302.41 L587.82,300.99 L588.33,299.16 L588.83,298.51 L589.34,297.19 L589.84,296.86 L590.34,296.34 L590.85,297.06 L591.35,298.13 L591.86,299.86 L592.36,300.57 L592.86,300.76 L593.37,301.15 L593.87,301.91 L594.38,302.92 L594.88,302.92 L595.38,304.81 L595.89,305.79 L596.39,306.16 L596.9,306.93 L597.4,306.8" stroke="#2a2a2a" stroke-width="1.5" fill="none" stroke-linejoin="round"/>
<path d="M600.7,304.27 L601.2,305.05 L601.71,305.25 L602.21,305.4 L602.72,303.78 L603.22,301.73 L603.72,301.23 L604.23,300.23 L604.73,299.26 L605.24,297.6 L605.74,297.25 L606.24,295.77 L606.75,295.67 L607.25,294.93 L607.76,294.91 L608.26,296.68 L608.76,297.74 L609.27,299.48 L609.77,300.47 L610.28,301.46 L610.78,301.54 L611.28,302.37 L611.79,302.21 L612.29,302.53 L612.8,302.33 L613.3,302.69" stroke="#999" stroke-width="3.8" fill="none" opacity="0.45" stroke-linejoin="round"/>
<path d="M600.7,304.27 L601.2,305.05 L601.71,305.25 L602.21,305.4 L602.72,303.78 L603.22,301.73 L603.72,301.23 L604.23,300.23 L604.73,299.26 L605.24,297.6 L605.74,297.25 L606.24,295.77 L606.75,295.67 L607.25,294.93 L607.76,294.91 L608.26,296.68 L608.76,297.74 L609.27,299.48 L609.77,300.47 L610.28,301.46 L610.78,301.54 L611.28,302.37 L611.79,302.21 L612.29,302.53 L612.8,302.33 L613.3,302.69" stroke="#2a2a2a" stroke-width="1.5" fill="none" stroke-linejoin="round"/>
<path d="M616.6,303.73 L617.1,303.07 L617.61,302.13 L618.11,302.08 L618.62,301.5 L619.12,302.04 L619.62,301.54 L620.13,301.48 L620.63,300.64 L621.14,298.98 L621.64,298.34 L622.14,296.68 L622.65,296.22 L623.15,294.94 L623.66,295.82 L624.16,297.7 L624.66,299.45 L625.17,301.14 L625.67,302.08 L626.18,302.33 L626.68,302.94 L627.18,303.6 L627.69,305.22 L628.19,305.86 L628.7,306.49 L629.2,307.15" stroke="#999" stroke-width="3.8" fill="none" opacity="0.45" stroke-linejoin="round"/>
<path d="M616.6,303.73 L617.1,303.07 L617.61,302.13 L618.11,302.08 L618.62,301.5 L619.12,302.04 L619.62,301.54 L620.13,301.48 L620.63,300.64 L621.14,298.98 L621.64,298.34 L622.14,296.68 L622.65,296.22 L623.15,294.94 L623.66,295.82 L624.16,297.7 L624.66,299.45 L625.17,301.14 L625.67,302.08 L626.18,302.33 L626.68,302.94 L627.18,303.6 L627.69,305.22 L628.19,305.86 L628.7,306.49 L629.2,307.15" stroke="#2a2a2a" stroke-width="1.5" fill="none" stroke-linejoin="round"/>
<path d="M632.5,304.88 L633,304.79 L633.51,303.89 L634.01,303.05 L634.52,301.96 L635.02,301.02 L635.52,299.84 L636.03,299.6 L636.53,299.42 L637.04,299.54 L637.54,298.83 L638.04,297.79 L638.55,298.43 L639.05,298.78 L639.56,299.79 L640.06,301.68 L640.56,303.61 L641.07,305.27 L641.57,305.61 L642.08,305.06 L642.58,304.59 L643.08,303.85 L643.59,303.61 L644.09,304.64 L644.6,306.29 L645.1,306.43" stroke="#999" stroke-width="3.8" fill="none" opacity="0.45" stroke-linejoin="round"/>
<path d="M632.5,304.88 L633,304.79 L633.51,303.89 L634.01,303.05 L634.52,301.96 L635.02,301.02 L635.52,299.84 L636.03,299.6 L636.53,299.42 L637.04,299.54 L637.54,298.83 L638.04,297.79 L638.55,298.43 L639.05,298.78 L639.56,299.79 L640.06,301.68 L640.56,303.61 L641.07,305.27 L641.57,305.61 L642.08,305.06 L642.58,304.59 L643.08,303.85 L643.59,303.61 L644.09,304.64 L644.6,306.29 L645.1,306.43" stroke="#2a2a2a" stroke-width="1.5" fill="none" stroke-linejoin="round"/>
<path d="M648.3,304.44 L648.8,305.04 L649.31,306.01 L649.81,306.36 L650.32,304.12 L650.82,301.3 L651.32,300.03 L651.83,299.41 L652.33,297.82 L652.84,297.61 L653.34,296.73 L653.84,296.21 L654.35,295.22 L654.85,295 L655.36,294.86 L655.86,295.99 L656.36,298 L656.87,299.29 L657.37,300.35 L657.88,301.97 L658.38,302.47 L658.88,303.03 L659.39,303.77 L659.89,303.56 L660.4,303.05 L660.9,302.54" stroke="#999" stroke-width="3.8" fill="none" opacity="0.45" stroke-linejoin="round"/>
<path d="M648.3,304.44 L648.8,305.04 L649.31,306.01 L649.81,306.36 L650.32,304.12 L650.82,301.3 L651.32,300.03 L651.83,299.41 L652.33,297.82 L652.84,297.61 L653.34,296.73 L653.84,296.21 L654.35,295.22 L654.85,295 L655.36,294.86 L655.86,295.99 L656.36,298 L656.87,299.29 L657.37,300.35 L657.88,301.97 L658.38,302.47 L658.88,303.03 L659.39,303.77 L659.89,303.56 L660.4,303.05 L660.9,302.54" stroke="#2a2a2a" stroke-width="1.5" fill="none" stroke-linejoin="round"/>
<path d="M664.2,303.45 L664.7,304.26 L665.21,304.77 L665.71,303.51 L666.22,301.72 L666.72,299.2 L667.22,296.98 L667.73,297.07 L668.23,297.16 L668.74,297.02 L669.24,297.19 L669.74,295.91 L670.25,296.1 L670.75,297.62 L671.26,298.43 L671.76,300.46 L672.26,302.5 L672.77,304.28 L673.27,305.18 L673.78,304.73 L674.28,305.26 L674.78,305.13 L675.29,306.23 L675.79,306.34 L676.3,307.12 L676.8,307.87" stroke="#999" stroke-width="3.8" fill="none" opacity="0.45" stroke-linejoin="round"/>
<path d="M664.2,303.45 L664.7,304.26 L665.21,304.77 L665.71,303.51 L666.22,301.72 L666.72,299.2 L667.22,296.98 L667.73,297.07 L668.23,297.16 L668.74,297.02 L669.24,297.19 L669.74,295.91 L670.25,296.1 L670.75,297.62 L671.26,298.43 L671.76,300.46 L672.26,302.5 L672.77,304.28 L673.27,305.18 L673.78,304.73 L674.28,305.26 L674.78,305.13 L675.29,306.23 L675.79,306.34 L676.3,307.12 L676.8,307.87" stroke="#2a2a2a" stroke-width="1.5" fill="none" stroke-linejoin="round"/>
<path d="M553.1,321.21 L553.6,322.16 L554.11,322.32 L554.61,323.05 L555.12,321.51 L555.62,320.74 L556.12,319.44 L556.63,317.89 L557.13,317.4 L557.64,317.62 L558.14,318.12 L558.64,319.43 L559.15,320.31 L559.65,320.53 L560.16,321.34 L560.66,320.49 L561.16,321.11 L561.67,322.22 L562.17,323.55 L562.68,324.39 L563.18,325.35 L563.68,324.69 L564.19,325.03 L564.69,324.85 L565.2,324.55 L565.7,324.72" stroke="#999" stroke-width="3.8" fill="none" opacity="0.45" stroke-linejoin="round"/>
<path d="M553.1,321.21 L553.6,322.16 L554.11,322.32 L554.61,323.05 L555.12,321.51 L555.62,320.74 L556.12,319.44 L556.63,317.89 L557.13,317.4 L557.64,317.62 L558.14,318.12 L558.64,319.43 L559.15,320.31 L559.65,320.53 L560.16,321.34 L560.66,320.49 L561.16,321.11 L561.67,322.22 L562.17,323.55 L562.68,324.39 L563.18,325.35 L563.68,324.69 L564.19,325.03 L564.69,324.85 L565.2,324.55 L565.7,324.72" stroke="#2a2a2a" stroke-width="1.5" fill="none" stroke-linejoin="round"/>
<path d="M569,323.88 L569.5,323.67 L570.01,322.83 L570.51,323.02 L571.02,322.3 L571.52,321.8 L572.02,320.21 L572.53,319.73 L573.03,317.96 L573.54,316.25 L574.04,316.89 L574.54,317.24 L575.05,318.45 L575.55,320.36 L576.06,321.52 L576.56,323 L577.06,324.06 L577.57,324.4 L578.07,324.43 L578.58,324.3 L579.08,324.1 L579.58,324.86 L580.09,325.69 L580.59,326.22 L581.1,327.38 L581.6,327.26" stroke="#999" stroke-width="3.8" fill="none" opacity="0.45" stroke-linejoin="round"/>
<path d="M569,323.88 L569.5,323.67 L570.01,322.83 L570.51,323.02 L571.02,322.3 L571.52,321.8 L572.02,320.21 L572.53,319.73 L573.03,317.96 L573.54,316.25 L574.04,316.89 L574.54,317.24 L575.05,318.45 L575.55,320.36 L576.06,321.52 L576.56,323 L577.06,324.06 L577.57,324.4 L578.07,324.43 L578.58,324.3 L579.08,324.1 L579.58,324.86 L580.09,325.69 L580.59,326.22 L581.1,327.38 L581.6,327.26" stroke="#2a2a2a" stroke-width="1.5" fill="none" stroke-linejoin="round"/>
<path d="M584.8,326.03 L585.3,326.09 L585.81,325.3 L586.31,324.63 L586.82,322.55 L587.32,321.73 L587.82,320.56 L588.33,320.23 L588.83,319.42 L589.34,319.55 L589.84,319.37 L590.34,318.94 L590.85,318.38 L591.35,318.52 L591.86,318.25 L592.36,319.49 L592.86,319.01 L593.37,320.66 L593.87,321.95 L594.38,322.28 L594.88,323.4 L595.38,324.18 L595.89,324.38 L596.39,324.7 L596.9,323.93 L597.4,323.82" stroke="#999" stroke-width="3.8" fill="none" opacity="0.45" stroke-linejoin="round"/>
<path d="M584.8,326.03 L585.3,326.09 L585.81,325.3 L586.31,324.63 L586.82,322.55 L587.32,321.73 L587.82,320.56 L588.33,320.23 L588.83,319.42 L589.34,319.55 L589.84,319.37 L590.34,318.94 L590.85,318.38 L591.35,318.52 L591.86,318.25 L592.36,319.49 L592.86,319.01 L593.37,320.66 L593.87,321.95 L594.38,322.28 L594.88,323.4 L595.38,324.18 L595.89,324.38 L596.39,324.7 L596.9,323.93 L597.4,323.82" stroke="#2a2a2a" stroke-width="1.5" fill="none" stroke-linejoin="round"/>
<path d="M600.7,325.05 L601.2,324.32 L601.71,324.67 L602.21,325.24 L602.72,325.22 L603.22,324.15 L603.72,323.6 L604.23,322.67 L604.73,322.08 L605.24,320.78 L605.74,319.41 L606.24,317.53 L606.75,314.68 L607.25,315.94 L607.76,317.16 L608.26,318.47 L608.76,320.25 L609.27,321.38 L609.77,322.61 L610.28,323.16 L610.78,323.31 L611.28,324.26 L611.79,324.66 L612.29,324.35 L612.8,324.09 L613.3,324.57" stroke="#999" stroke-width="3.8" fill="none" opacity="0.45" stroke-linejoin="round"/>
<path d="M600.7,325.05 L601.2,324.32 L601.71,324.67 L602.21,325.24 L602.72,325.22 L603.22,324.15 L603.72,323.6 L604.23,322.67 L604.73,322.08 L605.24,320.78 L605.74,319.41 L606.24,317.53 L606.75,314.68 L607.25,315.94 L607.76,317.16 L608.26,318.47 L608.76,320.25 L609.27,321.38 L609.77,322.61 L610.28,323.16 L610.78,323.31 L611.28,324.26 L611.79,324.66 L612.29,324.35 L612.8,324.09 L613.3,324.57" stroke="#2a2a2a" stroke-width="1.5" fill="none" stroke-linejoin="round"/>
<path d="M616.6,324.42 L617.1,324.7 L617.61,324.19 L618.11,323.49 L618.62,321.58 L619.12,320 L619.62,318.32 L620.13,317.62 L620.63,317.64 L621.14,317.69 L621.64,318.57 L622.14,319.79 L622.65,319.95 L623.15,319.99 L623.66,321.08 L624.16,321.85 L624.66,322.74 L625.17,324.38 L625.67,325.05 L626.18,325.31 L626.68,325.22 L627.18,324.66 L627.69,324.13 L628.19,324.32 L628.7,324.54 L629.2,324.89" stroke="#999" stroke-width="3.8" fill="none" opacity="0.45" stroke-linejoin="round"/>
<path d="M616.6,324.42 L617.1,324.7 L617.61,324.19 L618.11,323.49 L618.62,321.58 L619.12,320 L619.62,318.32 L620.13,317.62 L620.63,317.64 L621.14,317.69 L621.64,318.57 L622.14,319.79 L622.65,319.95 L623.15,319.99 L623.66,321.08 L624.16,321.85 L624.66,322.74 L625.17,324.38 L625.67,325.05 L626.18,325.31 L626.68,325.22 L627.18,324.66 L627.69,324.13 L628.19,324.32 L628.7,324.54 L629.2,324.89" stroke="#2a2a2a" stroke-width="1.5" fill="none" stroke-linejoin="round"/>
<path d="M632.5,322.13 L633,321.49 L633.51,321.54 L634.01,321.67 L634.52,320.36 L635.02,318.88 L635.52,319.12 L636.03,319.23 L636.53,319.13 L637.04,318.29 L637.54,317.88 L638.04,317.15 L638.55,316.74 L639.05,316.12 L639.56,316.26 L640.06,317.57 L640.56,319.38 L641.07,320.63 L641.57,321.78 L642.08,323.6 L642.58,323.9 L643.08,323.98 L643.59,325.01 L644.09,324.4 L644.6,324.07 L645.1,323.93" stroke="#999" stroke-width="3.8" fill="none" opacity="0.45" stroke-linejoin="round"/>
<path d="M632.5,322.13 L633,321.49 L633.51,321.54 L634.01,321.67 L634.52,320.36 L635.02,318.88 L635.52,319.12 L636.03,319.23 L636.53,319.13 L637.04,318.29 L637.54,317.88 L638.04,317.15 L638.55,316.74 L639.05,316.12 L639.56,316.26 L640.06,317.57 L640.56,319.38 L641.07,320.63 L641.57,321.78 L642.08,323.6 L642.58,323.9 L643.08,323.98 L643.59,325.01 L644.09,324.4 L644.6,324.07 L645.1,323.93" stroke="#2a2a2a" stroke-width="1.5" fill="none" stroke-linejoin="round"/>
<path d="M648.3,322.95 L648.8,323.1 L649.31,322.05 L649.81,323.14 L650.32,322.48 L650.82,321.55 L651.32,321.1 L651.83,318.9 L652.33,318.08 L652.84,316.5 L653.34,315.91 L653.84,315.93 L654.35,316.46 L654.85,317.93 L655.36,319.58 L655.86,319.8 L656.36,319.7 L656.87,320.67 L657.37,321.91 L657.88,323.76 L658.38,325.07 L658.88,325.91 L659.39,326.86 L659.89,325.91 L660.4,325.66 L660.9,325.23" stroke="#999" stroke-width="3.8" fill="none" opacity="0.45" stroke-linejoin="round"/>
<path d="M648.3,322.95 L648.8,323.1 L649.31,322.05 L649.81,323.14 L650.32,322.48 L650.82,321.55 L651.32,321.1 L651.83,318.9 L652.33,318.08 L652.84,316.5 L653.34,315.91 L653.84,315.93 L654.35,316.46 L654.85,317.93 L655.36,319.58 L655.86,319.8 L656.36,319.7 L656.87,320.67 L657.37,321.91 L657.88,323.76 L658.38,325.07 L658.88,325.91 L659.39,326.86 L659.89,325.91 L660.4,325.66 L660.9,325.23" stroke="#2a2a2a" stroke-width="1.5" fill="none" stroke-linejoin="round"/>
<path d="M664.2,324.45 L664.7,324.23 L665.21,323.49 L665.71,323.09 L666.22,322.37 L666.72,320.97 L667.22,320.51 L667.73,320.19 L668.23,320.41 L668.74,320.59 L669.24,319.57 L669.74,320.16 L670.25,320.17 L670.75,318.57 L671.26,317.72 L671.76,317.34 L672.26,316.8 L672.77,317.51 L673.27,318.95 L673.78,320.61 L674.28,322.07 L674.78,323.63 L675.29,324.9 L675.79,325.42 L676.3,325.5 L676.8,325.45" stroke="#999" stroke-width="3.8" fill="none" opacity="0.45" stroke-linejoin="round"/>
<path d="M664.2,324.45 L664.7,324.23 L665.21,323.49 L665.71,323.09 L666.22,322.37 L666.72,320.97 L667.22,320.51 L667.73,320.19 L668.23,320.41 L668.74,320.59 L669.24,319.57 L669.74,320.16 L670.25,320.17 L670.75,318.57 L671.26,317.72 L671.76,317.34 L672.26,316.8 L672.77,317.51 L673.27,318.95 L673.78,320.61 L674.28,322.07 L674.78,323.63 L675.29,324.9 L675.79,325.42 L676.3,325.5 L676.8,325.45" stroke="#2a2a2a" stroke-width="1.5" fill="none" stroke-linejoin="round"/>
<path d="M553.1,344.99 L553.6,344.84 L554.11,345.48 L554.61,345.72 L555.12,344.35 L555.62,342.56 L556.12,341.1 L556.63,339.33 L557.13,337.94 L557.64,337.44 L558.14,337.34 L558.64,337.83 L559.15,338.02 L559.65,337.99 L560.16,337.54 L560.66,337.6 L561.16,337.81 L561.67,338.69 L562.17,339.37 L562.68,340.62 L563.18,341.12 L563.68,343.28 L564.19,344.79 L564.69,345.45 L565.2,345.6 L565.7,345.79" stroke="#999" stroke-width="3.8" fill="none" opacity="0.45" stroke-linejoin="round"/>
<path d="M553.1,344.99 L553.6,344.84 L554.11,345.48 L554.61,345.72 L555.12,344.35 L555.62,342.56 L556.12,341.1 L556.63,339.33 L557.13,337.94 L557.64,337.44 L558.14,337.34 L558.64,337.83 L559.15,338.02 L559.65,337.99 L560.16,337.54 L560.66,337.6 L561.16,337.81 L561.67,338.69 L562.17,339.37 L562.68,340.62 L563.18,341.12 L563.68,343.28 L564.19,344.79 L564.69,345.45 L565.2,345.6 L565.7,345.79" stroke="#2a2a2a" stroke-width="1.5" fill="none" stroke-linejoin="round"/>
<path d="M569,341.43 L569.5,342.13 L570.01,343.13 L570.51,343.3 L571.02,341.06 L571.52,339.48 L572.02,338.17 L572.53,337.05 L573.03,336.32 L573.54,336.32 L574.04,336.8 L574.54,338.04 L575.05,339.5 L575.55,339.65 L576.06,339.44 L576.56,340.29 L577.06,340.92 L577.57,342.37 L578.07,343.44 L578.58,345.17 L579.08,345.59 L579.58,346.25 L580.09,346.74 L580.59,345.4 L581.1,344.31 L581.6,344.9" stroke="#999" stroke-width="3.8" fill="none" opacity="0.45" stroke-linejoin="round"/>
<path d="M569,341.43 L569.5,342.13 L570.01,343.13 L570.51,343.3 L571.02,341.06 L571.52,339.48 L572.02,338.17 L572.53,337.05 L573.03,336.32 L573.54,336.32 L574.04,336.8 L574.54,338.04 L575.05,339.5 L575.55,339.65 L576.06,339.44 L576.56,340.29 L577.06,340.92 L577.57,342.37 L578.07,343.44 L578.58,345.17 L579.08,345.59 L579.58,346.25 L580.09,346.74 L580.59,345.4 L581.1,344.31 L581.6,344.9" stroke="#2a2a2a" stroke-width="1.5" fill="none" stroke-linejoin="round"/>
<path d="M584.8,342.71 L585.3,341.61 L585.81,340.79 L586.31,340.7 L586.82,339.51 L587.32,340.11 L587.82,339.18 L588.33,339.35 L588.83,338.98 L589.34,338.91 L589.84,339.32 L590.34,338.75 L590.85,338.39 L591.35,338.33 L591.86,338.92 L592.36,338.92 L592.86,339.5 L593.37,339.94 L593.87,340.39 L594.38,341.08 L594.88,341.6 L595.38,342.96 L595.89,343.79 L596.39,344.74 L596.9,344.69 L597.4,345.37" stroke="#999" stroke-width="3.8" fill="none" opacity="0.45" stroke-linejoin="round"/>
<path d="M584.8,342.71 L585.3,341.61 L585.81,340.79 L586.31,340.7 L586.82,339.51 L587.32,340.11 L587.82,339.18 L588.33,339.35 L588.83,338.98 L589.34,338.91 L589.84,339.32 L590.34,338.75 L590.85,338.39 L591.35,338.33 L591.86,338.92 L592.36,338.92 L592.86,339.5 L593.37,339.94 L593.87,340.39 L594.38,341.08 L594.88,341.6 L595.38,342.96 L595.89,343.79 L596.39,344.74 L596.9,344.69 L597.4,345.37" stroke="#2a2a2a" stroke-width="1.5" fill="none" stroke-linejoin="round"/>
<path d="M600.7,343.13 L601.2,342.26 L601.71,341.18 L602.21,340.8 L602.72,339.59 L603.22,338.88 L603.72,338.92 L604.23,338.41 L604.73,337.96 L605.24,337.41 L605.74,336.45 L606.24,335.8 L606.75,336.31 L607.25,336.55 L607.76,337.48 L608.26,338.84 L608.76,340.45 L609.27,342.11 L609.77,343.26 L610.28,343.16 L610.78,343.5 L611.28,343.57 L611.79,343.8 L612.29,343.96 L612.8,344.25 L613.3,344.43" stroke="#999" stroke-width="3.8" fill="none" opacity="0.45" stroke-linejoin="round"/>
<path d="M600.7,343.13 L601.2,342.26 L601.71,341.18 L602.21,340.8 L602.72,339.59 L603.22,338.88 L603.72,338.92 L604.23,338.41 L604.73,337.96 L605.24,337.41 L605.74,336.45 L606.24,335.8 L606.75,336.31 L607.25,336.55 L607.76,337.48 L608.26,338.84 L608.76,340.45 L609.27,342.11 L609.77,343.26 L610.28,343.16 L610.78,343.5 L611.28,343.57 L611.79,343.8 L612.29,343.96 L612.8,344.25 L613.3,344.43" stroke="#2a2a2a" stroke-width="1.5" fill="none" stroke-linejoin="round"/>
<path d="M616.6,343.67 L617.1,343.12 L617.61,343.72 L618.11,344.15 L618.62,344.08 L619.12,343.84 L619.62,343.57 L620.13,343.82 L620.63,342.74 L621.14,342.2 L621.64,341.42 L622.14,340.56 L622.65,339.02 L623.15,336.74 L623.66,334.79 L624.16,335.27 L624.66,336.87 L625.17,338.28 L625.67,339.84 L626.18,340.52 L626.68,341.97 L627.18,342.55 L627.69,343.42 L628.19,343.62 L628.7,342.84 L629.2,342.25" stroke="#999" stroke-width="3.8" fill="none" opacity="0.45" stroke-linejoin="round"/>
<path d="M616.6,343.67 L617.1,343.12 L617.61,343.72 L618.11,344.15 L618.62,344.08 L619.12,343.84 L619.62,343.57 L620.13,343.82 L620.63,342.74 L621.14,342.2 L621.64,341.42 L622.14,340.56 L622.65,339.02 L623.15,336.74 L623.66,334.79 L624.16,335.27 L624.66,336.87 L625.17,338.28 L625.67,339.84 L626.18,340.52 L626.68,341.97 L627.18,342.55 L627.69,343.42 L628.19,343.62 L628.7,342.84 L629.2,342.25" stroke="#2a2a2a" stroke-width="1.5" fill="none" stroke-linejoin="round"/>
<path d="M632.5,345.26 L633,344.79 L633.51,344.21 L634.01,343.47 L634.52,342.78 L635.02,342.46 L635.52,341.83 L636.03,341.48 L636.53,341.28 L637.04,340.96 L637.54,341.75 L638.04,341.04 L638.55,341.1 L639.05,339.6 L639.56,338.63 L640.06,338.39 L640.56,339.55 L641.07,340.03 L641.57,340.78 L642.08,341.53 L642.58,342.17 L643.08,343.48 L643.59,344.22 L644.09,344.87 L644.6,345.2 L645.1,345.09" stroke="#999" stroke-width="3.8" fill="none" opacity="0.45" stroke-linejoin="round"/>
<path d="M632.5,345.26 L633,344.79 L633.51,344.21 L634.01,343.47 L634.52,342.78 L635.02,342.46 L635.52,341.83 L636.03,341.48 L636.53,341.28 L637.04,340.96 L637.54,341.75 L638.04,341.04 L638.55,341.1 L639.05,339.6 L639.56,338.63 L640.06,338.39 L640.56,339.55 L641.07,340.03 L641.57,340.78 L642.08,341.53 L642.58,342.17 L643.08,343.48 L643.59,344.22 L644.09,344.87 L644.6,345.2 L645.1,345.09" stroke="#2a2a2a" stroke-width="1.5" fill="none" stroke-linejoin="round"/>
<path d="M648.3,341.93 L648.8,341.43 L649.31,341.91 L649.81,341.86 L650.32,341.67 L650.82,342.08 L651.32,341.46 L651.83,341.77 L652.33,340.28 L652.84,340.09 L653.34,338.69 L653.84,337.85 L654.35,336.64 L654.85,335.74 L655.36,337.18 L655.86,337.82 L656.36,338.71 L656.87,340.51 L657.37,341.7 L657.88,343.15 L658.38,344.87 L658.88,346.15 L659.39,347.16 L659.89,347.15 L660.4,347.82 L660.9,347.11" stroke="#999" stroke-width="3.8" fill="none" opacity="0.45" stroke-linejoin="round"/>
<path d="M648.3,341.93 L648.8,341.43 L649.31,341.91 L649.81,341.86 L650.32,341.67 L650.82,342.08 L651.32,341.46 L651.83,341.77 L652.33,340.28 L652.84,340.09 L653.34,338.69 L653.84,337.85 L654.35,336.64 L654.85,335.74 L655.36,337.18 L655.86,337.82 L656.36,338.71 L656.87,340.51 L657.37,341.7 L657.88,343.15 L658.38,344.87 L658.88,346.15 L659.39,347.16 L659.89,347.15 L660.4,347.82 L660.9,347.11" stroke="#2a2a2a" stroke-width="1.5" fill="none" stroke-linejoin="round"/>
<path d="M664.2,341.31 L664.7,341.25 L665.21,342.54 L665.71,343.03 L666.22,341.64 L666.72,339.73 L667.22,339.65 L667.73,338.29 L668.23,338.04 L668.74,337.72 L669.24,337.34 L669.74,337.97 L670.25,337.71 L670.75,338.26 L671.26,338.64 L671.76,338.17 L672.26,339.02 L672.77,339.37 L673.27,340.5 L673.78,341.72 L674.28,343.44 L674.78,345.44 L675.29,346.35 L675.79,346.43 L676.3,345.52 L676.8,345.59" stroke="#999" stroke-width="3.8" fill="none" opacity="0.45" stroke-linejoin="round"/>
<path d="M664.2,341.31 L664.7,341.25 L665.21,342.54 L665.71,343.03 L666.22,341.64 L666.72,339.73 L667.22,339.65 L667.73,338.29 L668.23,338.04 L668.74,337.72 L669.24,337.34 L669.74,337.97 L670.25,337.71 L670.75,338.26 L671.26,338.64 L671.76,338.17 L672.26,339.02 L672.77,339.37 L673.27,340.5 L673.78,341.72 L674.28,343.44 L674.78,345.44 L675.29,346.35 L675.79,346.43 L676.3,345.52 L676.8,345.59" stroke="#2a2a2a" stroke-width="1.5" fill="none" stroke-linejoin="round"/>
</g>
<path d="M657.3,239.5 L657.3,244.6 L667.9,244.6" stroke="#000" stroke-width="1.2" fill="none"/>
<path d="M578,418.4 V381.02 H582.66 V418.4 Z M582.66,418.4 V392.74 H587.33 V418.4 Z M587.33,418.4 V395.95 H592 V418.4 Z M592,418.4 V406.71 H596.66 V418.4 Z M596.66,418.4 V392.26 H601.32 V418.4 Z M601.33,418.4 V385.19 H605.99 V418.4 Z M605.99,418.4 V375.88 H610.65 V418.4 Z M610.65,418.4 V369.45 H615.32 V418.4 Z M615.32,418.4 V381.02 H619.98 V418.4 Z M619.99,418.4 V378.29 H624.65 V418.4 Z M624.65,418.4 V381.02 H629.31 V418.4 Z M629.31,418.4 V392.74 H633.98 V418.4 Z M633.98,418.4 V395.95 H638.64 V418.4 Z M638.64,418.4 V406.71 H643.31 V418.4 Z M643.31,418.4 V392.26 H647.97 V418.4 Z M647.97,418.4 V385.19 H652.64 V418.4 Z M652.64,418.4 V375.88 H657.3 V418.4 Z M657.3,418.4 V369.45 H661.97 V418.4 Z M661.97,418.4 V381.02 H666.63 V418.4 Z M666.63,418.4 V378.29 H671.3 V418.4 Z " fill="#ec7b3e"/>
<line x1="574.6" y1="360.3" x2="574.6" y2="418.4" stroke="#231f20" stroke-width="0.6"/>
<line x1="574.6" y1="418.4" x2="675.2" y2="418.4" stroke="#231f20" stroke-width="0.6"/>
<line x1="574.6" y1="360.3" x2="576" y2="360.3" stroke="#231f20" stroke-width="0.6"/>
<line x1="574.6" y1="410.1" x2="576" y2="410.1" stroke="#231f20" stroke-width="0.6"/>
<line x1="578" y1="418.4" x2="578" y2="417" stroke="#231f20" stroke-width="0.6"/>
<line x1="601.3" y1="418.4" x2="601.3" y2="417" stroke="#231f20" stroke-width="0.6"/>
<line x1="624.6" y1="418.4" x2="624.6" y2="417" stroke="#231f20" stroke-width="0.6"/>
<line x1="647.9" y1="418.4" x2="647.9" y2="417" stroke="#231f20" stroke-width="0.6"/>
<line x1="670.9" y1="418.4" x2="670.9" y2="417" stroke="#231f20" stroke-width="0.6"/>
<text x="570.4" y="363.1" font-size="7.9" text-anchor="end" stroke="#231f20" stroke-width="0.18">0.11</text>
<text x="570.4" y="412.9" font-size="7.9" text-anchor="end" stroke="#231f20" stroke-width="0.18">0.09</text>
<text transform="translate(550.2,388.7) rotate(-90)" font-size="7.9" text-anchor="middle" stroke="#231f20" stroke-width="0.18">Fraction</text>
<text transform="translate(581.4,426.3) rotate(-45)" font-size="8.2" text-anchor="end" stroke="#231f20" stroke-width="0.18">−180</text>
<text transform="translate(604.7,426.3) rotate(-45)" font-size="8.2" text-anchor="end" stroke="#231f20" stroke-width="0.18">0</text>
<text transform="translate(628,426.3) rotate(-45)" font-size="8.2" text-anchor="end" stroke="#231f20" stroke-width="0.18">180</text>
<text transform="translate(651.3,426.3) rotate(-45)" font-size="8.2" text-anchor="end" stroke="#231f20" stroke-width="0.18">360</text>
<text transform="translate(674.3,426.3) rotate(-45)" font-size="8.2" text-anchor="end" stroke="#231f20" stroke-width="0.18">540</text>
<text x="624.7" y="447.2" font-size="7.9" text-anchor="middle" stroke="#231f20" stroke-width="0.18">Wing-beat phase (°)</text>
</svg></body></html>
